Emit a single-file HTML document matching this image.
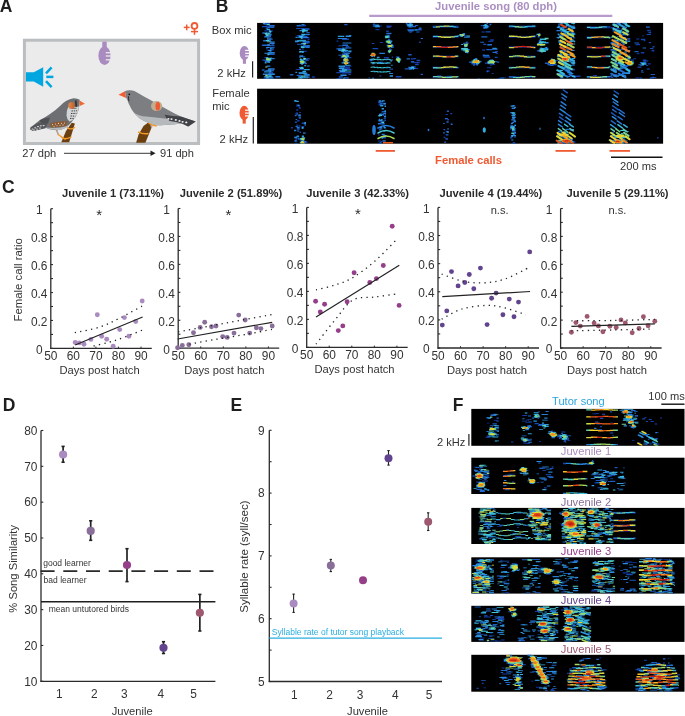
<!DOCTYPE html>
<html><head><meta charset="utf-8"><style>
html,body{margin:0;padding:0;background:#fff;overflow:hidden;}
svg{display:block;font-family:"Liberation Sans",sans-serif;will-change:transform;}
</style></head><body>
<svg width="685" height="716" viewBox="0 0 685 716">
<rect width="685" height="716" fill="#fff"/>
<text x="-0.20" y="12.20" font-size="17.5" text-anchor="start" font-weight="bold" fill="#1e1e1e" >A</text><text x="215.70" y="12.20" font-size="17.5" text-anchor="start" font-weight="bold" fill="#1e1e1e" >B</text><text x="2.00" y="193.10" font-size="17.5" text-anchor="start" font-weight="bold" fill="#1e1e1e" >C</text><text x="2.80" y="410.50" font-size="17.5" text-anchor="start" font-weight="bold" fill="#1e1e1e" >D</text><text x="230.60" y="411.00" font-size="17.5" text-anchor="start" font-weight="bold" fill="#1e1e1e" >E</text><text x="452.70" y="411.40" font-size="17.5" text-anchor="start" font-weight="bold" fill="#1e1e1e" >F</text><rect x="24.4" y="40.2" width="174.2" height="103.3" fill="#ebebeb" stroke="#babec1" stroke-width="3"/><g stroke="#ef5a32" stroke-width="1.5" fill="none"><line x1="183.8" y1="27.4" x2="189.6" y2="27.4"/><line x1="186.7" y1="24.5" x2="186.7" y2="30.3"/><circle cx="194.5" cy="25.9" r="2.9" stroke-width="1.8"/><line x1="194.5" y1="28.6" x2="194.5" y2="34.8"/><line x1="191" y1="31.6" x2="198" y2="31.6"/></g><rect x="102.30" y="41.70" width="4.4" height="6.50" fill="#a98bbf"/><ellipse cx="104.50" cy="55.60" rx="6.1" ry="9.4" fill="#a98bbf"/><rect x="105.80" y="52.05" width="7.10" height="1.3" fill="#ebebeb"/><rect x="105.80" y="55.35" width="7.10" height="1.3" fill="#ebebeb"/><rect x="105.80" y="59.15" width="7.10" height="1.3" fill="#ebebeb"/><g fill="#00a6e0"><path d="M26 72.3 H33.8 L43.2 67.2 V86.7 L33.8 81.4 H26 Z"/></g><g stroke="#00a6e0" stroke-width="2.5"><line x1="46" y1="73.3" x2="51.6" y2="67.3"/><line x1="46.3" y1="76.9" x2="53.4" y2="76.9"/><line x1="46" y1="81.2" x2="51.6" y2="87.2"/></g><path d="M61.3 142.3 L69.2 142.3 L74.9 123.5 L71.8 122.8 L66 131 Z" fill="#6b3f10"/><path d="M56.5 129.5 L58.2 134.5 L65.5 139.5" stroke="#f39a2b" stroke-width="1.4" fill="none"/><path d="M56.5 129.5 L58.2 134.5" stroke="#a9abae" stroke-width="1.4" fill="none"/><path d="M61.5 137.5 Q66 140 71.5 136.8" stroke="#f39a2b" stroke-width="1.3" fill="none"/><path d="M67 127.5 Q71 130.5 75 127.2" stroke="#f39a2b" stroke-width="1.3" fill="none"/><path d="M73.5 98.3 Q77.5 98.2 79.7 99.8 L79.2 106.4 Q78.5 111 77 114.3 Q75.5 118 73.5 119.5 Q71.5 122.5 69.2 124.8 Q65.5 128.5 61.3 129.6 Q57.5 130.4 54.3 130 Q49.5 129.5 45.5 127.8 L33.3 130.9 L30.2 129.6 L30.6 127.4 Q36 123 39.4 120.5 Q45 117.5 50 114 Q56 110 60 106 Q66 99.5 73.5 98.3 Z" fill="#6d6f72"/><path d="M39.4 120.2 Q44 117.8 50 117.5 L48 123.5 L42 124.5 Z" fill="#4e5054"/><path d="M30.6 127.2 L39 122.6 L47.3 124.2 L45.5 128.2 L33.3 131 L30.2 129.6 Z" fill="#55575b"/><ellipse cx="32.5" cy="129" rx="1.1" ry="0.6" fill="#e0e1e2"/><ellipse cx="35.2" cy="127.8" rx="1.1" ry="0.6" fill="#e0e1e2"/><ellipse cx="38" cy="126.6" rx="1.1" ry="0.6" fill="#e0e1e2"/><ellipse cx="40.8" cy="125.8" rx="1.1" ry="0.6" fill="#e0e1e2"/><ellipse cx="43.6" cy="125.6" rx="1.1" ry="0.6" fill="#e0e1e2"/><ellipse cx="34" cy="130" rx="1.1" ry="0.6" fill="#e0e1e2"/><ellipse cx="37" cy="129" rx="1.1" ry="0.6" fill="#e0e1e2"/><ellipse cx="40" cy="128" rx="1.1" ry="0.6" fill="#e0e1e2"/><path d="M45 127.6 Q52 130.6 61.3 129.7 Q67 128.5 70 124.6 Q66 127 60 127.6 Q52 128 45 127.6 Z" fill="#b8babc"/><path d="M49.9 123.4 Q58 120.6 67.4 121.3 L66.5 125.8 Q60 127.4 51 127.6 Z" fill="#8a5a32"/><circle cx="52.5" cy="124.6" r="0.55" fill="#e6dccf"/><circle cx="55.5" cy="124" r="0.55" fill="#e6dccf"/><circle cx="58.5" cy="123.4" r="0.55" fill="#e6dccf"/><circle cx="61.5" cy="123.2" r="0.55" fill="#e6dccf"/><circle cx="64.5" cy="123" r="0.55" fill="#e6dccf"/><circle cx="54" cy="126.3" r="0.55" fill="#e6dccf"/><circle cx="57" cy="125.8" r="0.55" fill="#e6dccf"/><circle cx="60" cy="125.3" r="0.55" fill="#e6dccf"/><circle cx="63" cy="124.9" r="0.55" fill="#e6dccf"/><path d="M68 107.5 Q71 105.2 76 107 L79 106.4 Q78.4 112 76.2 116.5 Q73.5 120.5 69.5 121.4 Q66.8 119.5 66.5 115.5 Q66.5 110.5 68 107.5 Z" fill="#d3d5d7"/><line x1="72" y1="108.5" x2="77" y2="108.2" stroke="#2a2b2e" stroke-width="0.9" stroke-dasharray="1.4 0.9"/><line x1="71.5" y1="111" x2="77.2" y2="110.8" stroke="#2a2b2e" stroke-width="0.9" stroke-dasharray="1.4 0.9"/><line x1="71" y1="113.5" x2="76.5" y2="113.4" stroke="#2a2b2e" stroke-width="0.9" stroke-dasharray="1.4 0.9"/><line x1="70.5" y1="116" x2="75.5" y2="116.2" stroke="#2a2b2e" stroke-width="0.9" stroke-dasharray="1.4 0.9"/><line x1="70" y1="118.4" x2="73.8" y2="118.7" stroke="#2a2b2e" stroke-width="0.9" stroke-dasharray="1.4 0.9"/><defs><linearGradient id="chk" x1="0" x2="1"><stop offset="0" stop-color="#e8894a"/><stop offset="1" stop-color="#b8602e"/></linearGradient></defs><ellipse cx="71.6" cy="105.4" rx="3.3" ry="3.5" fill="url(#chk)"/><path d="M75.2 100.6 L76.4 100.6 L76.8 106.8 L75.6 106.8 Z" fill="#1a1a1a"/><path d="M79.2 100.3 L84.9 103.8 L79.7 106 Z" fill="#ef6a32"/><path d="M136.1 142.7 L145.4 142.7 L152.2 126 L148.5 122.2 L143.5 126 L138.6 134.6 Z" fill="#6b3f10"/><path d="M151 124.5 L151.8 127.5" stroke="#a9abae" stroke-width="1.6"/><path d="M124.9 91.2 Q127 90 129.9 90.2 Q133 90.3 134.9 91.2 Q139 93.5 143.5 96.2 Q148 98.5 152.2 101.1 Q158.5 104.8 164.6 108 Q170 111 174.6 113.5 Q178 115 180.8 116.6 L195.7 121.6 L188.2 126.6 L182 123.5 Q175 124.5 167.1 124.7 Q161 125.3 156 125.3 Q152 124.5 148.5 122.8 Q143.5 121 139.8 118.5 Q136 115.5 133.6 112.3 Q131 109 129.9 106.1 Q128.2 103 127.4 99.9 L126.2 98 Z" fill="#7c7e82"/><path d="M133.6 112.6 Q140 116.6 146 116.6 Q156 117.8 164.6 118.5 Q171 119 177 119.7 L182 123.5 Q175 124.5 167.1 124.7 Q161 125.3 156 125.3 Q152 124.5 148.5 122.8 Q143.5 121 139.8 118.5 Q136 115.5 133.6 112.6 Z" fill="#b6b9bc"/><path d="M164.6 114.8 Q172 116.5 180.8 116.6 L195.7 121.6 L188.2 126.6 L182 123.5 Q176 121.8 169.6 121 Q166 119 164.6 114.8 Z" fill="#404247"/><ellipse cx="168.4" cy="118.8" rx="1.1" ry="0.85" fill="#f2f2f2"/><ellipse cx="171.5" cy="119.1" rx="1.1" ry="0.85" fill="#f2f2f2"/><ellipse cx="175.8" cy="119.9" rx="1.1" ry="0.85" fill="#f2f2f2"/><ellipse cx="179.5" cy="120.9" rx="1.1" ry="0.85" fill="#f2f2f2"/><ellipse cx="182.6" cy="121.8" rx="1.1" ry="0.85" fill="#f2f2f2"/><ellipse cx="186.3" cy="122.4" rx="1.1" ry="0.85" fill="#f2f2f2"/><ellipse cx="156.6" cy="106.1" rx="5.6" ry="5" fill="#c1ae8f"/><ellipse cx="157.8" cy="106.3" rx="2.3" ry="4.2" fill="#ee5a36"/><path d="M118.5 94.7 L124.9 91.2 L126.2 98 Z" fill="#ef5d32"/><circle cx="129.3" cy="94.3" r="0.9" fill="#111"/><path d="M128.4 96.2 L128.9 101.1" stroke="#222" stroke-width="0.9"/><path d="M138 131.8 Q143 134.5 148.5 133.5" stroke="#f39a2b" stroke-width="1.5" fill="none"/><path d="M148.5 123 L152.2 125.2 L156.6 126" stroke="#f39a2b" stroke-width="1.4" fill="none"/><text x="22.30" y="157.00" font-size="11.1" text-anchor="start" font-weight="normal" fill="#333333" >27 dph</text><line x1="64.00" y1="153.30" x2="153.50" y2="153.30" stroke="#222" stroke-width="0.9" /><path d="M150.5 150.6 L155.6 153.3 L150.5 156 Z" fill="#222"/><text x="160.00" y="157.00" font-size="11.1" text-anchor="start" font-weight="normal" fill="#333333" >91 dph</text><text x="496.00" y="10.30" font-size="11.25" text-anchor="middle" font-weight="bold" fill="#ab8fc2" >Juvenile song (80 dph)</text><line x1="369.20" y1="15.80" x2="612.30" y2="15.80" stroke="#b89acb" stroke-width="2.2" /><text x="211.80" y="33.90" font-size="11.2" text-anchor="start" font-weight="normal" fill="#333333" >Box mic</text><rect x="242.85" y="58.10" width="3.1" height="5.70" fill="#a98bbf"/><ellipse cx="244.40" cy="53.10" rx="4.7" ry="7.1" fill="#a98bbf"/><rect x="245.20" y="49.80" width="5" height="1.2" fill="#ffffff"/><rect x="245.20" y="52.70" width="5" height="1.2" fill="#ffffff"/><rect x="245.20" y="55.50" width="5" height="1.2" fill="#ffffff"/><line x1="252.60" y1="61.20" x2="252.60" y2="77.60" stroke="#222" stroke-width="1.2" /><text x="217.30" y="76.70" font-size="11.2" text-anchor="start" font-weight="normal" fill="#333333" >2 kHz</text><text x="212.30" y="97.20" font-size="11.2" text-anchor="start" font-weight="normal" fill="#333333" >Female</text><text x="212.30" y="110.20" font-size="11.2" text-anchor="start" font-weight="normal" fill="#333333" >mic</text><rect x="242.65" y="117.90" width="3.1" height="5.70" fill="#ef5a32"/><ellipse cx="244.20" cy="112.90" rx="4.7" ry="7.1" fill="#ef5a32"/><rect x="245.00" y="109.60" width="5" height="1.2" fill="#ffffff"/><rect x="245.00" y="112.50" width="5" height="1.2" fill="#ffffff"/><rect x="245.00" y="115.30" width="5" height="1.2" fill="#ffffff"/><line x1="253.30" y1="117.00" x2="253.30" y2="143.50" stroke="#222" stroke-width="1.2" /><text x="219.60" y="143.20" font-size="11.2" text-anchor="start" font-weight="normal" fill="#333333" >2 kHz</text><rect x="257.1" y="22.9" width="406" height="55.9" fill="#000"/><rect x="257.1" y="88.7" width="406" height="55" fill="#000"/><defs><filter id="sb" x="-5%" y="-5%" width="110%" height="110%"><feGaussianBlur stdDeviation="0.55"/></filter></defs><clipPath id="cb1"><rect x="257.1" y="22.9" width="406" height="55.9"/></clipPath><g clip-path="url(#cb1)" filter="url(#sb)"><path fill="#113093" d="M265.1 35.6h5.5v0.9h-5.5zM344.3 67.0h2.1v1.2h-2.1zM338.9 76.3h2.5v1.0h-2.5zM342.6 65.4h8.8v1.3h-8.8zM375.4 29.0h4.2v1.3h-4.2zM377.4 26.3h2.6v1.4h-2.6zM411.5 61.0h2.9v1.4h-2.9zM535.9 34.3h1.2v1.4h-1.2zM560.7 63.0h2.5v1.2h-2.5zM620.6 33.9h3.6v1.1h-3.6zM612.8 55.1h4.5v1.4h-4.5z"/><path fill="#113093" opacity="0.7" d="M432.5 25.6h26.0v2.1h-26.0zM432.5 35.8h26.0v2.1h-26.0zM432.5 46.0h26.0v2.1h-26.0zM432.5 55.5h26.0v2.1h-26.0zM432.5 66.4h26.0v2.1h-26.0zM432.5 76.0h26.0v2.1h-26.0zM508.5 25.6h27.0v2.1h-27.0zM508.5 35.8h27.0v2.1h-27.0zM508.5 46.0h27.0v2.1h-27.0zM508.5 55.5h27.0v2.1h-27.0zM508.5 66.4h27.0v2.1h-27.0zM508.5 76.0h27.0v2.1h-27.0zM586.5 26.3h24.0v2.1h-24.0zM586.5 36.3h24.0v2.1h-24.0zM586.5 46.4h24.0v2.1h-24.0zM586.5 55.5h24.0v2.1h-24.0zM586.5 66.4h24.0v2.1h-24.0zM586.5 76.0h24.0v2.1h-24.0z"/><path fill="#133aa6" d="M269.1 41.0h2.7v1.0h-2.7zM264.2 32.8h3.3v1.2h-3.3zM271.5 43.3h2.4v1.6h-2.4zM264.4 30.2h8.5v1.2h-8.5zM307.6 38.9h1.9v1.0h-1.9zM301.6 73.0h5.7v0.9h-5.7zM297.2 25.1h8.4v1.5h-8.4zM302.9 30.1h3.7v1.4h-3.7zM299.3 50.8h7.4v1.1h-7.4zM299.6 35.6h1.8v1.2h-1.8zM298.9 24.7h7.3v1.2h-7.3zM295.0 41.4h3.0v1.1h-3.0zM295.6 68.9h5.3v1.2h-5.3zM300.9 68.9h8.3v1.1h-8.3zM306.1 60.0h2.6v1.1h-2.6zM297.6 78.4h6.0v1.5h-6.0zM304.2 37.4h5.5v1.0h-5.5zM296.7 35.1h4.7v1.0h-4.7zM298.8 35.1h1.4v1.4h-1.4zM336.6 40.4h1.8v1.4h-1.8zM336.3 72.1h7.2v1.2h-7.2zM339.9 69.3h7.3v1.2h-7.3zM338.0 49.6h4.5v1.5h-4.5zM341.1 56.4h7.4v1.0h-7.4zM344.0 54.3h4.4v1.0h-4.4zM345.1 56.9h6.3v1.3h-6.3zM386.4 25.4h5.2v1.5h-5.2zM386.1 30.6h2.6v1.5h-2.6zM379.9 42.1h3.3v1.0h-3.3zM375.8 25.4h6.0v1.0h-6.0zM391.8 56.5h1.2v1.5h-1.2zM383.9 57.0h5.0v1.4h-5.0zM395.7 56.3h1.9v1.4h-1.9zM418.4 27.9h3.0v1.0h-3.0zM414.0 58.1h2.1v1.2h-2.1zM408.9 68.6h2.2v0.9h-2.2zM414.7 67.9h3.4v1.0h-3.4zM413.6 62.1h6.1v1.2h-6.1zM491.8 73.0h1.8v1.1h-1.8zM495.1 51.1h2.9v1.1h-2.9zM491.3 63.9h3.6v1.2h-3.6zM482.3 49.2h2.7v1.5h-2.7zM487.0 67.2h4.4v1.0h-4.4zM487.0 70.2h2.6v1.5h-2.6zM485.7 25.4h3.9v1.4h-3.9zM490.2 39.2h3.7v1.5h-3.7zM490.1 64.6h1.6v1.2h-1.6zM486.9 62.0h1.2v1.4h-1.2zM556.1 59.9h2.3v1.4h-2.3zM572.2 46.8h1.7v1.3h-1.7zM565.0 70.6h4.3v1.0h-4.3zM567.2 67.0h2.6v1.2h-2.6zM557.7 74.7h2.2v1.5h-2.2zM562.5 49.2h3.3v1.4h-3.3zM560.1 35.0h3.8v1.1h-3.8zM563.4 45.3h1.8v1.0h-1.8zM572.3 33.1h2.9v1.2h-2.9zM606.4 26.2h4.0v1.3h-4.0zM624.6 29.2h3.6v1.0h-3.6zM611.3 27.2h2.6v1.3h-2.6zM617.9 68.4h4.5v1.2h-4.5zM625.9 39.2h2.6v1.1h-2.6zM614.5 45.8h2.9v1.5h-2.9zM625.4 33.3h3.0v1.3h-3.0zM610.9 26.9h3.6v1.6h-3.6zM627.8 33.6h1.8v1.3h-1.8zM618.1 31.5h1.9v1.3h-1.9zM623.7 64.6h2.6v1.1h-2.6zM611.0 76.6h2.2v1.4h-2.2zM625.8 34.6h3.5v1.0h-3.5zM622.0 32.3h3.7v1.4h-3.7zM622.2 75.1h2.6v1.5h-2.6zM617.8 34.2h3.5v0.9h-3.5zM639.8 62.0h1.9v1.1h-1.9zM651.6 49.8h2.8v1.6h-2.8zM647.1 29.8h3.7v1.5h-3.7zM642.6 59.8h2.6v1.1h-2.6zM650.5 78.3h1.6v1.5h-1.6zM635.6 43.8h4.4v1.4h-4.4zM633.4 58.3h2.8v0.9h-2.8zM640.8 51.9h3.5v1.6h-3.5zM636.6 53.2h3.0v1.1h-3.0zM643.7 39.8h1.7v1.4h-1.7zM636.2 38.5h3.1v1.0h-3.1zM648.0 63.3h2.7v1.3h-2.7zM643.9 60.6h1.0v1.4h-1.0zM437.2 75.2h4.1v1.1h-4.1zM575.0 75.6h5.6v1.3h-5.6zM311.9 76.3h3.0v1.5h-3.0zM271.5 78.4h5.5v1.4h-5.5zM593.1 75.1h3.9v1.1h-3.9zM345.6 78.1h2.1v1.4h-2.1zM573.6 78.6h2.0v1.4h-2.0zM447.1 75.8h5.1v1.5h-5.1z"/><path fill="#1749b3" d="M262.0 26.1h5.4v1.2h-5.4zM269.1 71.8h3.9v1.3h-3.9zM261.8 44.5h6.6v1.2h-6.6zM265.4 23.1h4.7v1.3h-4.7zM269.2 38.5h3.5v1.6h-3.5zM262.3 59.4h7.6v1.4h-7.6zM266.9 74.2h5.3v1.3h-5.3zM266.5 49.4h7.1v1.1h-7.1zM269.2 51.9h5.5v1.0h-5.5zM265.8 24.2h2.3v1.3h-2.3zM268.6 59.7h2.6v1.4h-2.6zM263.6 59.7h3.1v1.4h-3.1zM296.1 28.0h4.5v1.1h-4.5zM298.1 35.0h3.9v1.2h-3.9zM302.0 29.2h2.1v1.3h-2.1zM304.3 28.6h5.4v1.5h-5.4zM300.9 27.9h3.1v1.3h-3.1zM302.4 35.9h2.7v1.4h-2.7zM297.9 36.1h1.5v1.4h-1.5zM342.3 72.0h9.0v1.5h-9.0zM346.6 38.5h2.4v1.0h-2.4zM338.8 76.3h4.1v1.4h-4.1zM341.9 67.2h3.1v1.4h-3.1zM340.1 67.2h9.9v1.3h-9.9zM342.1 38.5h6.8v1.4h-6.8zM345.8 45.9h3.6v1.6h-3.6zM342.3 68.8h9.0v1.2h-9.0zM346.5 57.8h1.5v1.4h-1.5zM340.6 50.2h2.1v1.4h-2.1zM386.6 26.7h4.0v1.0h-4.0zM372.5 48.0h5.7v1.3h-5.7zM371.9 42.9h2.4v1.0h-2.4zM389.4 68.4h3.6v1.4h-3.6zM385.3 62.6h4.2v1.0h-4.2zM379.2 75.6h2.1v1.0h-2.1zM372.8 23.5h2.4v1.4h-2.4zM415.1 63.9h3.6v1.3h-3.6zM407.9 26.5h3.2v1.0h-3.2zM411.0 58.2h3.4v1.4h-3.4zM409.3 31.6h2.6v1.2h-2.6zM419.1 41.5h1.5v1.4h-1.5zM407.3 28.9h5.9v1.5h-5.9zM416.6 59.8h3.7v1.5h-3.7zM416.6 63.4h1.7v1.5h-1.7zM407.4 25.5h1.6v1.4h-1.6zM414.3 66.3h1.4v1.4h-1.4zM462.6 50.1h4.7v1.0h-4.7zM475.4 63.4h3.1v1.4h-3.1zM485.0 62.5h3.7v1.2h-3.7zM486.5 44.3h3.6v1.0h-3.6zM483.6 56.4h6.6v1.3h-6.6zM495.6 53.2h2.4v0.9h-2.4zM488.2 40.7h5.0v1.1h-5.0zM494.7 56.7h3.0v1.2h-3.0zM481.7 31.5h2.9v1.1h-2.9zM485.5 31.2h5.2v1.3h-5.2zM483.0 54.4h1.8v1.4h-1.8zM480.9 24.9h3.1v1.4h-3.1zM536.9 50.1h4.4v1.4h-4.4zM536.1 33.8h2.1v1.4h-2.1zM538.9 39.9h2.2v1.4h-2.2zM547.3 63.9h3.5v1.4h-3.5zM567.2 24.9h2.6v1.5h-2.6zM558.5 26.7h3.6v1.0h-3.6zM567.8 34.3h3.8v1.2h-3.8zM565.4 21.0h4.5v1.5h-4.5zM568.6 25.1h1.9v1.3h-1.9zM560.5 62.6h4.1v1.1h-4.1zM558.9 57.9h2.1v1.0h-2.1zM570.0 69.5h4.9v1.0h-4.9zM573.1 37.1h2.1v1.5h-2.1zM569.6 47.3h3.9v0.9h-3.9zM560.4 26.9h3.7v1.1h-3.7zM569.6 39.2h4.5v1.1h-4.5zM566.1 60.8h2.6v1.4h-2.6zM569.1 60.4h1.6v1.4h-1.6zM627.6 71.6h2.7v1.4h-2.7zM612.1 68.7h3.1v1.5h-3.1zM623.5 65.9h3.9v1.1h-3.9zM628.2 54.7h2.1v1.1h-2.1zM626.6 73.0h2.4v1.3h-2.4zM613.2 55.7h3.8v1.4h-3.8zM620.7 49.0h4.7v1.0h-4.7zM627.2 38.1h3.1v1.1h-3.1zM612.6 30.2h1.7v1.5h-1.7zM622.0 57.1h2.0v0.9h-2.0zM612.6 28.8h3.2v1.4h-3.2zM627.6 69.3h2.7v1.4h-2.7zM613.8 73.9h3.5v1.3h-3.5zM614.8 64.6h3.3v1.5h-3.3zM621.7 34.0h4.2v1.4h-4.2zM617.1 36.1h1.7v0.9h-1.7zM625.7 39.4h4.5v1.2h-4.5zM613.7 58.9h3.7v0.9h-3.7zM613.2 49.8h4.9v1.3h-4.9zM613.1 43.6h3.3v1.5h-3.3zM615.5 66.3h1.8v1.3h-1.8zM625.7 65.5h2.4v1.3h-2.4zM615.4 27.9h4.2v1.5h-4.2zM624.7 64.9h3.9v1.2h-3.9zM617.8 43.0h3.3v1.0h-3.3zM612.0 23.5h4.1v1.6h-4.1zM630.6 59.4h3.1v1.4h-3.1zM641.0 38.7h4.2v1.5h-4.2zM646.3 65.0h1.8v1.0h-1.8zM648.8 41.9h2.3v1.4h-2.3zM649.9 48.0h3.5v1.1h-3.5zM646.7 33.9h4.3v1.0h-4.3zM639.5 77.6h2.3v1.2h-2.3zM635.5 77.6h3.5v0.9h-3.5zM648.5 31.8h2.7v1.5h-2.7zM642.2 35.4h1.7v0.9h-1.7zM643.5 59.5h2.9v1.0h-2.9zM645.0 60.5h3.4v1.0h-3.4zM637.5 66.6h4.0v1.1h-4.0zM263.5 78.0h2.9v1.5h-2.9zM652.9 77.0h3.4v1.0h-3.4zM395.7 75.9h5.8v1.6h-5.8zM649.6 77.3h3.4v1.6h-3.4zM501.1 77.4h4.8v0.9h-4.8zM497.1 78.4h3.5v1.5h-3.5z"/><path fill="#1c5abf" d="M266.6 26.8h2.2v1.5h-2.2zM270.2 48.2h3.8v1.4h-3.8zM265.3 69.9h8.7v1.4h-8.7zM267.4 26.3h6.9v1.6h-6.9zM268.3 53.6h6.4v1.5h-6.4zM265.5 34.6h2.7v0.9h-2.7zM265.6 27.7h2.3v1.1h-2.3zM261.9 69.2h2.7v1.6h-2.7zM268.0 53.3h1.7v1.6h-1.7zM268.4 47.1h6.3v1.0h-6.3zM263.5 23.9h4.9v0.9h-4.9zM266.2 32.2h2.4v1.4h-2.4zM269.1 33.7h1.9v1.4h-1.9zM268.3 60.9h2.1v1.4h-2.1zM303.4 58.2h6.3v1.3h-6.3zM304.0 42.1h4.1v1.6h-4.1zM306.5 31.9h3.2v1.2h-3.2zM299.0 52.2h4.8v0.9h-4.8zM299.5 59.1h8.2v1.3h-8.2zM303.0 44.9h6.7v1.4h-6.7zM306.8 41.9h2.9v1.3h-2.9zM302.6 41.1h7.1v1.6h-7.1zM302.9 28.3h5.9v1.2h-5.9zM302.2 36.0h5.2v1.4h-5.2zM297.0 43.7h8.0v1.1h-8.0zM301.8 48.5h1.9v1.0h-1.9zM297.8 36.6h1.8v1.4h-1.8zM336.3 48.3h5.4v1.1h-5.4zM338.3 54.7h9.7v1.0h-9.7zM343.2 51.2h8.2v1.4h-8.2zM336.7 78.1h4.8v1.1h-4.8zM338.6 69.9h5.1v1.0h-5.1zM344.0 77.2h4.8v1.5h-4.8zM338.3 45.4h5.5v0.9h-5.5zM346.2 55.6h3.1v1.4h-3.1zM341.9 53.6h3.2v1.4h-3.2zM340.8 56.5h2.1v1.4h-2.1zM345.3 60.7h2.3v1.4h-2.3zM342.4 47.4h2.1v1.4h-2.1zM343.4 51.9h1.0v1.4h-1.0zM342.0 47.5h2.7v1.4h-2.7zM344.6 50.7h1.5v1.4h-1.5zM344.2 24.0h3.3v1.3h-3.3zM387.9 38.7h1.9v1.4h-1.9zM373.8 55.8h1.2v1.4h-1.2zM391.3 46.6h2.4v1.4h-2.4zM386.6 44.8h2.1v1.4h-2.1zM390.9 49.2h1.3v1.4h-1.3zM387.3 34.7h2.3v1.4h-2.3zM372.8 25.3h2.7v1.4h-2.7zM416.2 31.4h3.4v1.2h-3.4zM420.6 73.8h2.4v1.3h-2.4zM408.2 54.1h3.5v1.3h-3.5zM410.9 61.0h3.1v1.5h-3.1zM415.1 29.1h6.5v1.4h-6.5zM414.9 25.1h3.2v1.0h-3.2zM404.8 68.3h4.8v1.1h-4.8zM410.8 25.9h5.3v1.3h-5.3zM408.4 23.9h2.9v1.4h-2.9zM408.9 26.0h3.2v1.4h-3.2zM405.8 23.0h1.8v1.4h-1.8zM463.8 34.7h1.6v1.4h-1.6zM467.1 42.5h1.5v1.4h-1.5zM464.2 46.0h1.1v1.4h-1.1zM466.3 41.6h1.4v1.4h-1.4zM463.1 42.8h2.1v1.4h-2.1zM466.2 41.9h1.3v1.4h-1.3zM465.5 41.8h2.0v1.4h-2.0zM463.1 50.0h1.8v1.4h-1.8zM473.3 64.6h1.5v1.4h-1.5zM468.9 61.4h4.3v1.4h-4.3zM471.4 63.2h4.3v1.4h-4.3zM470.1 61.7h3.7v1.4h-3.7zM474.9 58.0h2.2v1.4h-2.2zM486.5 70.7h1.7v1.5h-1.7zM486.2 49.0h6.4v1.2h-6.4zM497.0 61.4h2.1v1.4h-2.1zM494.0 60.9h3.0v1.4h-3.0zM486.3 22.6h1.9v1.4h-1.9zM483.1 27.3h1.8v1.4h-1.8zM537.6 36.2h2.1v1.4h-2.1zM538.2 42.3h1.4v1.4h-1.4zM541.6 41.0h2.2v1.4h-2.2zM544.9 62.6h4.4v1.4h-4.4zM552.4 63.8h4.2v1.4h-4.2zM549.6 64.3h3.5v1.4h-3.5zM550.2 64.6h3.4v1.4h-3.4zM564.8 61.4h1.7v1.2h-1.7zM565.3 50.6h3.8v1.6h-3.8zM567.3 68.7h4.3v1.1h-4.3zM572.2 21.4h2.2v1.0h-2.2zM560.6 31.0h3.9v1.1h-3.9zM566.7 44.4h1.8v1.6h-1.8zM570.1 59.8h2.4v1.4h-2.4zM570.8 23.0h4.4v1.0h-4.4zM564.5 34.8h2.4v1.6h-2.4zM570.4 31.4h3.0v1.5h-3.0zM558.6 42.2h4.4v1.3h-4.4zM558.2 69.8h3.5v1.3h-3.5zM562.6 32.5h2.8v1.6h-2.8zM572.5 59.8h1.9v0.9h-1.9zM567.5 57.9h1.6v1.4h-1.6zM627.3 64.8h2.4v1.1h-2.4zM612.9 43.5h2.1v1.2h-2.1zM620.0 74.0h3.7v1.5h-3.7zM616.6 24.8h1.8v1.0h-1.8zM627.8 59.9h2.5v0.9h-2.5zM616.8 40.4h3.9v1.4h-3.9zM610.4 42.2h3.9v0.9h-3.9zM624.6 50.6h2.5v1.4h-2.5zM614.0 47.9h4.1v1.2h-4.1zM625.3 39.7h1.9v1.4h-1.9zM615.2 48.2h2.8v1.2h-2.8zM614.9 43.1h3.6v0.9h-3.6zM622.2 22.9h2.6v1.3h-2.6zM611.0 53.7h2.8v1.5h-2.8zM613.4 28.5h3.6v1.3h-3.6zM614.6 62.5h4.4v1.4h-4.4zM623.8 32.6h2.7v1.4h-2.7zM611.5 41.7h3.2v1.4h-3.2zM616.6 33.4h1.5v1.0h-1.5zM618.6 57.8h3.5v1.3h-3.5zM612.7 68.0h3.1v1.1h-3.1zM623.5 27.0h2.6v0.9h-2.6zM620.0 60.5h2.5v1.4h-2.5zM634.4 42.4h4.6v1.0h-4.6zM638.4 64.2h2.2v1.1h-2.2zM634.4 51.0h4.2v1.2h-4.2zM639.4 78.3h3.2v1.5h-3.2zM650.6 73.9h4.4v1.2h-4.4zM652.0 76.8h2.0v1.3h-2.0zM652.4 46.3h2.1v1.3h-2.1zM646.8 68.5h3.1v1.1h-3.1zM641.3 70.0h1.5v1.5h-1.5zM644.6 63.5h2.0v1.4h-2.0zM640.0 62.0h2.3v1.4h-2.3zM644.1 61.7h2.2v1.4h-2.2zM306.1 74.6h3.2v1.0h-3.2zM368.5 77.4h1.7v1.0h-1.7zM296.6 74.8h5.1v1.3h-5.1zM289.8 74.1h3.7v1.5h-3.7z"/><path fill="#216acb" d="M263.1 40.1h7.8v1.3h-7.8zM264.8 60.9h4.8v1.3h-4.8zM268.6 25.1h6.1v1.3h-6.1zM262.3 32.3h2.4v1.4h-2.4zM262.3 44.8h8.2v1.2h-8.2zM266.3 76.2h6.8v1.3h-6.8zM269.1 73.2h5.6v1.5h-5.6zM262.7 44.8h4.6v1.3h-4.6zM264.5 57.2h2.6v1.1h-2.6zM268.6 33.9h3.1v1.5h-3.1zM267.3 45.3h7.4v1.0h-7.4zM264.1 36.3h6.0v1.2h-6.0zM268.7 73.0h1.9v1.4h-1.9zM269.9 37.4h1.6v1.3h-1.6zM265.3 36.2h2.1v1.4h-2.1zM268.3 35.5h2.6v1.4h-2.6zM270.6 57.6h1.6v1.4h-1.6zM304.9 63.1h1.9v1.2h-1.9zM302.1 34.0h7.6v1.3h-7.6zM307.3 44.9h2.4v1.0h-2.4zM302.3 45.9h7.4v0.9h-7.4zM305.4 46.9h4.3v1.0h-4.3zM304.3 40.8h4.7v1.0h-4.7zM305.3 74.9h4.4v1.2h-4.4zM299.1 48.7h1.9v1.3h-1.9zM300.1 59.1h2.7v1.4h-2.7zM301.1 63.5h1.9v1.4h-1.9zM303.5 61.4h2.7v1.4h-2.7zM302.1 37.0h1.5v1.4h-1.5zM301.1 37.5h1.6v1.4h-1.6zM348.5 73.9h2.3v0.9h-2.3zM342.3 44.5h5.8v1.4h-5.8zM344.6 53.5h3.3v1.0h-3.3zM344.5 52.8h5.4v1.1h-5.4zM342.9 61.3h1.6v1.4h-1.6zM345.1 50.2h2.0v1.4h-2.0zM344.9 48.4h1.7v1.4h-1.7zM386.2 32.8h5.3v1.4h-5.3zM377.9 61.8h5.0v1.6h-5.0zM370.2 60.0h1.9v1.3h-1.9zM389.3 39.6h1.3v1.4h-1.3zM389.0 48.6h1.9v1.4h-1.9zM388.1 35.5h1.3v1.4h-1.3zM374.4 24.4h2.2v1.4h-2.2zM399.3 58.8h1.9v1.4h-1.9zM397.3 56.5h2.1v1.4h-2.1zM406.6 58.2h3.4v1.4h-3.4zM408.1 29.9h5.4v1.5h-5.4zM418.9 27.6h2.5v1.1h-2.5zM409.3 22.9h2.2v1.4h-2.2zM410.0 25.4h2.1v1.4h-2.1zM411.7 66.2h2.9v1.4h-2.9zM408.9 68.3h2.3v1.4h-2.3zM408.3 66.8h2.5v1.4h-2.5zM412.7 68.0h1.4v1.4h-1.4zM455.5 26.4h2.9v1.3h-2.9zM457.4 34.9h2.2v1.4h-2.2zM478.3 60.8h3.2v1.4h-3.2zM477.6 62.4h1.9v1.4h-1.9zM479.7 61.0h1.3v1.4h-1.3zM473.6 63.1h1.5v1.4h-1.5zM483.2 43.7h2.8v1.0h-2.8zM492.5 51.8h4.4v1.1h-4.4zM480.3 41.7h3.6v1.0h-3.6zM481.3 36.3h6.1v1.3h-6.1zM482.7 54.8h6.6v1.6h-6.6zM487.6 43.9h4.4v1.5h-4.4zM487.1 61.2h2.4v1.4h-2.4zM487.7 62.8h2.9v1.4h-2.9zM489.6 23.8h1.7v1.4h-1.7zM484.0 27.4h3.1v1.4h-3.1zM486.0 26.9h2.3v1.4h-2.3zM509.0 76.2h4.3v1.3h-4.3zM538.8 33.1h1.5v1.4h-1.5zM541.8 44.6h1.7v1.4h-1.7zM538.8 40.5h2.2v1.4h-2.2zM544.2 48.8h1.2v1.4h-1.2zM548.4 63.9h1.1v1.4h-1.1zM560.7 23.0h1.7v1.6h-1.7zM569.9 29.5h1.6v1.0h-1.6zM563.8 67.3h4.3v1.0h-4.3zM569.3 40.6h1.8v1.5h-1.8zM568.6 54.8h4.9v0.9h-4.9zM563.3 59.0h4.5v1.5h-4.5zM559.2 60.9h5.0v1.2h-5.0zM566.3 53.9h3.8v1.4h-3.8zM557.6 37.9h1.7v0.9h-1.7zM559.3 36.2h4.2v1.0h-4.2zM572.4 25.5h2.4v1.2h-2.4zM571.9 68.8h2.8v1.0h-2.8zM560.2 76.8h3.1v1.6h-3.1zM558.1 23.8h4.7v0.9h-4.7zM559.4 60.3h3.0v1.2h-3.0zM566.9 67.6h3.7v1.4h-3.7zM560.7 38.3h3.8v1.0h-3.8zM568.8 38.2h2.6v0.9h-2.6zM563.3 26.8h1.7v1.2h-1.7zM558.1 73.1h3.7v1.2h-3.7zM569.8 30.4h2.1v1.2h-2.1zM568.5 37.0h3.1v1.4h-3.1zM568.3 28.7h4.8v1.4h-4.8zM564.0 69.5h3.4v1.1h-3.4zM570.5 64.7h4.2v1.0h-4.2zM558.0 61.0h3.0v1.3h-3.0zM563.1 56.0h4.1v1.4h-4.1zM624.0 41.5h3.4v1.3h-3.4zM616.9 53.5h4.9v1.3h-4.9zM614.2 38.4h1.6v1.0h-1.6zM615.6 44.7h4.9v1.3h-4.9zM626.8 21.4h3.0v1.3h-3.0zM625.9 32.2h2.1v1.0h-2.1zM612.9 71.2h2.4v1.0h-2.4zM620.2 52.2h2.9v0.9h-2.9zM614.6 24.1h3.0v1.4h-3.0zM616.3 29.5h2.6v1.5h-2.6zM622.9 26.6h4.1v1.3h-4.1zM627.8 25.8h2.5v1.1h-2.5zM613.8 49.0h3.2v1.4h-3.2zM613.1 69.2h3.7v1.5h-3.7zM620.9 41.8h3.3v1.1h-3.3zM619.4 36.4h3.3v1.2h-3.3zM623.2 37.1h2.9v1.5h-2.9zM610.5 42.7h2.8v1.2h-2.8zM618.0 32.8h2.6v1.2h-2.6zM621.9 42.2h2.3v1.4h-2.3zM626.7 69.0h2.2v1.2h-2.2zM612.4 24.9h3.7v1.0h-3.7zM610.6 49.1h4.4v1.6h-4.4zM619.6 35.0h1.8v1.1h-1.8zM616.2 22.1h3.0v1.3h-3.0zM618.3 75.0h2.8v1.1h-2.8zM618.5 69.8h2.2v1.4h-2.2zM623.0 57.6h3.1v1.4h-3.1zM641.0 71.7h2.9v0.9h-2.9zM642.7 47.6h3.4v0.9h-3.4zM646.0 26.6h3.8v1.2h-3.8zM642.9 61.7h1.9v1.4h-1.9zM643.7 62.6h2.7v1.4h-2.7zM643.4 61.4h1.0v1.4h-1.0zM477.7 78.3h2.4v1.6h-2.4zM499.0 77.7h4.9v1.0h-4.9zM275.4 76.0h4.9v1.6h-4.9z"/><path fill="none" stroke="#216acb" stroke-width="2.0" stroke-linecap="round" d="M569.4 74.1L574.8 77.0M618.5 69.4L624.5 72.6M611.2 73.7L616.4 76.5"/><path fill="#267bd7" d="M266.1 58.0h8.6v1.2h-8.6zM271.9 77.5h1.9v1.1h-1.9zM267.3 58.6h4.4v0.9h-4.4zM269.4 43.0h5.3v1.0h-5.3zM268.1 68.3h6.6v1.5h-6.6zM262.8 73.5h7.7v1.5h-7.7zM264.8 77.7h6.5v1.3h-6.5zM266.4 77.2h6.5v1.6h-6.5zM266.6 65.4h3.8v1.3h-3.8zM265.9 47.6h1.7v1.0h-1.7zM269.5 51.2h2.0v1.1h-2.0zM267.1 36.4h2.2v1.0h-2.2zM265.7 32.9h1.9v1.4h-1.9zM269.3 33.9h1.9v1.4h-1.9zM301.8 29.0h2.9v1.4h-2.9zM299.1 56.5h1.6v1.2h-1.6zM304.2 76.5h5.5v1.2h-5.5zM306.7 65.4h3.0v1.2h-3.0zM304.8 46.2h4.9v1.0h-4.9zM304.3 74.3h3.8v1.5h-3.8zM304.9 74.1h4.8v0.9h-4.8zM298.5 72.3h6.6v1.2h-6.6zM296.5 25.2h4.1v1.0h-4.1zM301.9 37.1h6.8v1.0h-6.8zM301.8 35.1h2.5v1.2h-2.5zM302.3 56.4h2.9v1.1h-2.9zM299.5 55.3h3.7v1.6h-3.7zM337.7 38.1h9.1v0.9h-9.1zM342.7 69.7h3.2v1.1h-3.2zM344.8 56.3h2.5v1.0h-2.5zM344.9 47.5h6.5v1.0h-6.5zM337.9 48.6h6.3v1.1h-6.3zM342.6 42.5h8.8v1.0h-8.8zM344.3 61.8h5.3v1.6h-5.3zM344.6 53.4h2.2v1.4h-2.2zM379.4 52.7h5.5v1.2h-5.5zM389.1 72.9h3.9v1.1h-3.9zM390.8 64.7h2.0v1.1h-2.0zM389.3 59.5h3.7v1.1h-3.7zM371.8 63.1h2.7v1.2h-2.7zM369.3 59.1h4.5v1.4h-4.5zM371.4 55.7h1.7v1.4h-1.7zM371.0 55.3h1.0v1.4h-1.0zM391.2 43.9h1.5v1.4h-1.5zM387.7 36.3h2.4v1.4h-2.4zM374.8 25.8h2.7v1.4h-2.7zM375.8 24.9h1.2v1.4h-1.2zM374.8 25.8h2.5v1.4h-2.5zM375.5 26.1h1.8v1.4h-1.8zM420.8 37.9h2.0v1.2h-2.0zM407.7 23.8h2.6v1.4h-2.6zM410.4 24.8h2.8v1.4h-2.8zM412.6 67.7h2.8v1.4h-2.8zM411.1 66.3h2.6v1.4h-2.6zM411.1 66.9h1.2v1.4h-1.2zM464.0 36.4h5.7v1.4h-5.7zM463.0 33.1h2.1v1.4h-2.1zM462.7 33.4h1.6v1.4h-1.6zM468.0 49.1h1.6v1.4h-1.6zM471.5 62.2h2.4v1.4h-2.4zM474.7 58.5h2.7v1.4h-2.7zM476.2 64.0h1.9v1.4h-1.9zM492.4 48.3h5.0v1.5h-5.0zM490.6 62.2h3.5v1.1h-3.5zM489.9 59.6h2.7v1.4h-2.7zM543.8 47.7h4.3v1.5h-4.3zM554.9 60.9h1.2v1.4h-1.2zM572.2 32.4h2.4v1.2h-2.4zM566.0 28.8h4.7v0.9h-4.7zM557.7 54.1h4.3v0.9h-4.3zM563.3 51.4h2.5v0.9h-2.5zM562.9 68.3h1.9v1.1h-1.9zM567.2 43.7h3.6v1.5h-3.6zM571.2 61.9h4.0v1.5h-4.0zM563.4 31.0h4.8v1.4h-4.8zM571.2 33.8h4.0v1.1h-4.0zM567.6 75.8h2.8v1.3h-2.8zM558.7 41.2h4.0v1.5h-4.0zM569.5 36.8h2.8v1.1h-2.8zM568.2 69.5h1.7v1.5h-1.7zM564.5 45.4h1.9v1.4h-1.9zM564.9 26.1h1.9v1.0h-1.9zM557.6 73.3h3.4v1.1h-3.4zM560.3 62.3h3.4v1.2h-3.4zM571.4 33.6h3.6v1.0h-3.6zM559.8 45.4h2.0v1.4h-2.0zM565.0 33.9h3.2v1.6h-3.2zM556.4 30.0h4.4v1.3h-4.4zM571.2 50.1h3.5v0.9h-3.5zM559.4 60.5h3.8v1.6h-3.8zM563.9 64.8h2.3v1.6h-2.3zM569.1 41.0h3.8v1.0h-3.8zM569.8 74.9h2.2v1.1h-2.2zM566.0 32.0h1.6v1.4h-1.6zM558.8 73.1h4.9v1.1h-4.9zM563.6 50.1h2.6v1.2h-2.6zM562.7 29.5h3.9v1.4h-3.9zM564.0 64.0h2.8v1.5h-2.8zM561.4 46.9h3.7v0.9h-3.7zM561.6 29.2h4.5v1.0h-4.5zM560.5 63.1h4.3v1.4h-4.3zM563.9 56.2h4.6v1.5h-4.6zM562.2 66.8h4.3v1.1h-4.3zM562.2 59.7h2.5v1.4h-2.5zM606.6 75.9h3.8v1.3h-3.8zM623.1 72.5h2.1v1.3h-2.1zM610.5 75.3h1.7v1.3h-1.7zM621.8 72.7h5.0v1.4h-5.0zM620.6 29.6h1.7v1.6h-1.7zM615.4 48.6h4.3v1.6h-4.3zM622.4 74.7h3.3v1.6h-3.3zM628.9 71.3h1.4v1.1h-1.4zM624.7 66.2h2.4v1.2h-2.4zM628.3 63.0h2.0v1.0h-2.0zM615.5 45.1h3.3v1.4h-3.3zM614.5 61.9h1.6v1.6h-1.6zM619.1 59.0h3.9v1.2h-3.9zM620.0 38.2h3.9v1.3h-3.9zM628.2 46.4h2.1v1.1h-2.1zM616.6 33.0h4.8v1.3h-4.8zM623.8 64.9h2.2v1.1h-2.2zM618.5 53.2h2.3v0.9h-2.3zM617.0 33.3h4.5v1.0h-4.5zM619.9 63.8h3.5v1.1h-3.5zM624.9 58.4h2.5v1.1h-2.5zM613.2 47.4h1.6v1.1h-1.6zM616.9 54.8h1.2v1.4h-1.2zM640.2 64.4h2.4v1.4h-2.4zM644.6 63.7h1.0v1.4h-1.0z"/><path fill="none" stroke="#267bd7" stroke-width="2.0" stroke-linecap="round" d="M566.0 70.2L571.2 73.0M562.5 74.1L567.7 76.8M618.7 73.7L625.5 77.4"/><path fill="#2a8cdc" d="M267.6 52.3h7.1v1.1h-7.1zM266.5 77.7h2.4v1.4h-2.4zM262.8 22.9h2.7v1.2h-2.7zM263.9 71.2h6.8v1.2h-6.8zM264.4 52.7h7.5v1.1h-7.5zM263.9 76.3h4.3v1.1h-4.3zM268.1 73.8h6.6v1.2h-6.6zM269.9 41.5h4.8v1.2h-4.8zM267.0 38.4h3.4v1.3h-3.4zM266.3 47.0h2.8v1.0h-2.8zM269.5 32.0h1.7v1.5h-1.7zM270.0 47.8h1.5v1.6h-1.5zM265.6 32.8h1.9v1.4h-1.9zM265.4 33.7h1.3v1.4h-1.3zM267.4 59.9h1.0v1.4h-1.0zM299.3 39.7h6.4v1.0h-6.4zM295.4 71.7h1.7v1.4h-1.7zM298.1 76.6h7.7v0.9h-7.7zM305.7 33.7h4.0v0.9h-4.0zM295.0 40.6h3.9v1.4h-3.9zM295.5 36.7h2.1v1.3h-2.1zM299.3 67.4h2.9v1.0h-2.9zM300.7 45.8h2.2v1.6h-2.2zM299.5 30.1h2.6v1.2h-2.6zM300.0 51.0h3.8v1.1h-3.8zM301.9 62.6h2.6v1.4h-2.6zM338.5 65.6h6.5v1.5h-6.5zM340.4 74.4h6.2v1.5h-6.2zM345.7 35.5h5.2v1.4h-5.2zM341.6 62.2h3.8v1.2h-3.8zM344.7 50.0h1.5v1.4h-1.5zM389.8 40.5h2.5v1.4h-2.5zM388.9 51.9h1.2v1.4h-1.2zM377.3 25.5h2.0v1.4h-2.0zM375.4 25.5h1.9v1.4h-1.9zM412.9 29.5h4.3v1.1h-4.3zM407.2 24.6h3.4v1.4h-3.4zM410.1 24.0h1.8v1.4h-1.8zM407.8 24.6h2.9v1.4h-2.9zM409.5 23.6h1.6v1.4h-1.6zM412.7 68.1h1.4v1.4h-1.4zM409.2 67.2h2.5v1.4h-2.5zM410.8 68.1h1.4v1.4h-1.4zM433.0 26.4h3.4v1.3h-3.4zM456.4 67.0h2.0v1.3h-2.0zM465.2 47.9h2.4v1.1h-2.4zM465.3 48.7h2.4v1.4h-2.4zM492.4 47.7h4.1v1.4h-4.1zM486.1 25.9h2.6v1.4h-2.6zM483.8 26.7h1.3v1.4h-1.3zM485.4 25.1h2.4v1.4h-2.4zM483.5 26.6h3.2v1.4h-3.2zM542.4 48.4h6.1v1.3h-6.1zM542.3 41.9h6.2v1.5h-6.2zM540.1 44.5h1.8v1.4h-1.8zM538.4 43.3h2.1v1.4h-2.1zM541.3 44.0h1.1v1.4h-1.1zM539.7 47.8h2.6v1.4h-2.6zM552.1 58.7h1.1v1.4h-1.1zM551.0 58.5h1.4v1.4h-1.4zM558.6 66.3h4.4v0.9h-4.4zM563.6 56.5h4.0v0.9h-4.0zM571.7 33.2h3.5v1.3h-3.5zM559.5 75.3h4.0v1.5h-4.0zM567.4 43.7h4.7v1.6h-4.7zM556.6 37.0h4.7v1.1h-4.7zM572.7 27.2h2.5v1.4h-2.5zM570.7 73.0h2.7v0.9h-2.7zM558.5 21.7h4.5v1.6h-4.5zM567.4 42.4h2.8v1.2h-2.8zM560.4 73.7h3.3v1.0h-3.3zM564.4 61.8h1.8v1.1h-1.8zM566.2 48.4h5.0v1.1h-5.0zM565.9 35.3h3.1v1.4h-3.1zM558.8 27.6h4.9v1.0h-4.9zM563.3 53.6h3.1v1.5h-3.1zM567.0 68.3h4.3v1.3h-4.3zM567.8 27.4h2.4v1.3h-2.4zM558.8 35.8h1.6v1.2h-1.6zM568.6 21.2h2.1v0.9h-2.1zM568.7 33.8h2.4v1.6h-2.4zM558.0 25.6h2.1v1.3h-2.1zM569.3 61.4h1.6v1.1h-1.6zM567.8 37.2h3.7v1.3h-3.7zM561.5 74.8h1.7v1.4h-1.7zM565.7 24.8h2.1v1.5h-2.1zM558.3 34.5h4.9v1.1h-4.9zM573.2 28.1h2.0v1.0h-2.0zM562.4 41.4h2.8v1.2h-2.8zM567.2 71.7h2.9v1.5h-2.9zM556.8 26.5h2.6v1.5h-2.6zM557.6 33.6h1.7v1.4h-1.7zM562.8 55.9h2.5v1.4h-2.5zM616.6 30.0h4.6v1.6h-4.6zM624.4 75.7h1.9v1.1h-1.9zM627.3 57.9h3.0v1.6h-3.0zM614.2 39.7h4.2v1.4h-4.2zM623.1 41.0h4.1v1.0h-4.1zM616.8 31.6h4.2v1.0h-4.2zM617.3 68.0h3.4v1.5h-3.4zM610.3 46.7h2.2v1.0h-2.2zM614.9 57.0h3.9v1.4h-3.9zM618.5 63.0h2.8v1.6h-2.8zM615.0 75.2h4.0v1.5h-4.0zM619.7 67.3h3.9v1.5h-3.9zM625.3 72.3h4.7v1.6h-4.7zM615.2 45.5h4.3v1.5h-4.3zM624.7 48.9h1.6v1.4h-1.6zM613.5 67.3h3.2v1.2h-3.2zM616.8 22.3h4.0v1.0h-4.0zM627.4 49.9h2.9v1.5h-2.9zM611.4 53.7h4.0v1.5h-4.0zM611.5 69.2h1.9v1.4h-1.9zM621.9 57.9h3.0v1.4h-3.0z"/><path fill="none" stroke="#2a8cdc" stroke-width="2.0" stroke-linecap="round" d="M614.5 20.9L619.5 23.6M620.7 65.6L627.3 69.1"/><path fill="#2f9cdc" d="M268.3 50.1h3.2v1.0h-3.2zM264.8 62.1h1.7v1.4h-1.7zM269.7 70.8h1.7v1.2h-1.7zM267.2 44.2h2.7v1.0h-2.7zM266.9 37.7h1.7v0.9h-1.7zM268.9 59.7h2.6v1.2h-2.6zM266.2 56.9h2.1v1.4h-2.1zM266.9 59.4h2.0v1.4h-2.0zM266.5 59.2h2.4v1.4h-2.4zM299.1 72.5h8.1v1.2h-8.1zM304.0 69.1h5.7v1.1h-5.7zM298.4 76.4h9.9v1.1h-9.9zM303.3 73.4h2.7v1.0h-2.7zM301.5 24.2h3.0v1.1h-3.0zM299.3 67.0h3.8v1.1h-3.8zM301.2 43.0h3.4v1.0h-3.4zM299.7 62.6h2.5v1.4h-2.5zM302.9 61.4h2.5v1.4h-2.5zM299.0 35.8h1.2v1.4h-1.2zM348.9 35.2h2.5v1.1h-2.5zM338.8 67.6h5.4v1.4h-5.4zM342.0 68.9h5.1v1.6h-5.1zM337.8 35.7h6.5v1.4h-6.5zM345.4 64.7h5.1v1.0h-5.1zM339.5 70.6h5.8v1.3h-5.8zM338.6 49.9h9.4v1.2h-9.4zM346.0 54.3h2.5v1.4h-2.5zM346.0 54.3h2.4v1.4h-2.4zM345.7 55.2h3.0v1.4h-3.0zM343.2 48.2h1.1v1.4h-1.1zM342.3 50.8h1.9v1.4h-1.9zM341.4 50.5h2.0v1.4h-2.0zM389.7 75.2h3.3v1.5h-3.3zM376.9 56.8h2.7v1.5h-2.7zM372.3 77.7h1.8v1.4h-1.8zM389.1 42.6h2.0v1.4h-2.0zM391.0 45.1h2.5v1.4h-2.5zM388.0 49.9h1.3v1.4h-1.3zM387.8 50.8h1.9v1.4h-1.9zM387.2 35.6h1.7v1.4h-1.7zM376.9 25.6h2.7v1.4h-2.7zM376.6 24.5h2.2v1.4h-2.2zM398.5 61.4h1.3v1.4h-1.3zM408.4 25.2h2.8v1.4h-2.8zM408.3 24.3h2.2v1.4h-2.2zM406.8 24.2h2.0v1.4h-2.0zM410.1 24.4h2.0v1.4h-2.0zM406.9 24.4h3.6v1.4h-3.6zM409.0 23.8h3.9v1.4h-3.9zM457.5 35.7h0.9v1.3h-0.9zM460.5 35.3h2.7v1.4h-2.7zM462.6 33.9h2.3v1.4h-2.3zM464.8 45.9h1.1v1.4h-1.1zM466.7 51.8h1.7v1.4h-1.7zM464.4 50.0h2.1v1.4h-2.1zM491.8 59.6h1.3v1.4h-1.3zM486.0 25.7h1.5v1.4h-1.5zM483.3 24.9h3.1v1.4h-3.1zM485.1 24.8h2.3v1.4h-2.3zM485.1 26.3h2.8v1.4h-2.8zM527.3 25.8h5.2v1.3h-5.2zM545.4 47.1h1.8v1.0h-1.8zM540.3 40.5h1.3v1.4h-1.3zM543.2 49.9h1.8v1.4h-1.8zM540.8 47.8h1.2v1.4h-1.2zM562.7 32.9h3.5v0.9h-3.5zM570.9 26.8h4.3v1.5h-4.3zM558.0 40.4h2.6v1.2h-2.6zM568.8 59.4h3.1v1.0h-3.1zM560.8 50.1h1.9v1.5h-1.9zM562.8 27.5h1.7v1.2h-1.7zM568.1 31.0h1.5v1.3h-1.5zM562.2 38.9h2.9v1.4h-2.9zM571.8 57.9h3.4v1.1h-3.4zM569.6 58.8h1.8v1.3h-1.8zM560.1 74.7h4.7v1.4h-4.7zM565.3 31.4h4.8v0.9h-4.8zM559.8 52.5h2.0v1.3h-2.0zM571.9 43.4h3.3v1.1h-3.3zM564.5 67.3h3.3v1.2h-3.3zM590.2 27.1h5.2v1.3h-5.2zM616.4 31.3h3.3v1.0h-3.3zM622.0 52.4h4.8v1.2h-4.8zM621.9 27.5h4.4v1.4h-4.4zM617.7 21.1h2.3v1.0h-2.3zM615.5 58.6h3.6v1.0h-3.6zM622.7 41.5h1.9v1.3h-1.9zM622.7 43.4h2.1v1.4h-2.1zM621.5 28.4h3.2v1.0h-3.2zM620.0 31.5h3.2v1.2h-3.2zM615.0 69.6h1.7v1.0h-1.7zM622.9 41.7h4.3v1.0h-4.3zM618.2 49.5h3.0v1.4h-3.0zM611.1 36.5h1.9v1.2h-1.9zM614.0 25.5h1.8v1.3h-1.8zM614.8 44.2h2.4v1.5h-2.4z"/><path fill="none" stroke="#2f9cdc" stroke-width="2.0" stroke-linecap="round" d="M567.7 24.8L573.9 28.0M619.2 24.5L623.8 26.9M611.2 69.4L616.0 72.0"/><path fill="#34addc" d="M267.4 61.6h2.6v1.2h-2.6zM268.9 75.5h2.6v1.6h-2.6zM266.1 77.2h1.8v0.9h-1.8zM265.5 36.2h1.8v0.9h-1.8zM267.3 53.7h2.0v1.6h-2.0zM266.6 28.8h3.5v1.2h-3.5zM267.7 69.4h3.3v1.2h-3.3zM268.9 30.2h1.7v1.1h-1.7zM266.5 76.9h2.3v0.9h-2.3zM265.4 33.7h2.3v1.4h-2.3zM265.9 34.6h2.1v1.4h-2.1zM268.6 59.0h2.5v1.4h-2.5zM302.0 29.9h5.9v1.5h-5.9zM297.2 40.3h8.7v1.1h-8.7zM297.9 78.7h9.7v1.0h-9.7zM299.5 76.8h3.3v1.5h-3.3zM300.8 60.8h2.0v1.0h-2.0zM301.0 46.6h3.6v1.5h-3.6zM303.4 58.5h1.7v1.4h-1.7zM302.4 70.8h3.6v1.5h-3.6zM301.3 33.7h4.0v1.6h-4.0zM301.1 62.6h2.4v1.4h-2.4zM299.0 36.0h1.5v1.4h-1.5zM300.8 35.8h2.1v1.4h-2.1zM344.9 70.6h6.5v0.9h-6.5zM348.3 50.5h3.1v1.3h-3.1zM343.1 77.8h1.5v1.2h-1.5zM341.5 55.9h3.1v1.4h-3.1zM345.6 55.5h3.2v1.4h-3.2zM342.7 55.4h1.0v1.4h-1.0zM346.1 55.5h1.8v1.4h-1.8zM343.0 59.1h1.7v1.4h-1.7zM343.8 58.0h2.1v1.4h-2.1zM341.4 49.9h1.6v1.4h-1.6zM390.3 60.3h1.7v1.1h-1.7zM385.8 40.6h2.6v1.4h-2.6zM396.2 57.9h1.2v1.4h-1.2zM453.3 26.3h2.6v1.3h-2.6zM457.2 55.4h1.2v1.3h-1.2zM466.2 35.6h3.8v1.0h-3.8zM459.9 34.5h1.0v1.4h-1.0zM466.8 49.0h1.4v1.4h-1.4zM465.1 51.6h2.3v1.4h-2.3zM465.2 51.4h1.5v1.4h-1.5zM476.9 62.4h2.2v1.4h-2.2zM475.8 62.7h3.2v1.4h-3.2zM488.7 60.0h3.9v1.4h-3.9zM484.2 24.3h2.1v1.4h-2.1zM485.6 24.9h1.3v1.4h-1.3zM484.2 24.6h2.7v1.4h-2.7zM509.0 25.4h3.8v1.3h-3.8zM534.0 35.6h1.4v1.3h-1.4zM529.5 75.8h2.8v1.3h-2.8zM542.0 50.4h4.0v1.5h-4.0zM537.3 43.1h1.6v1.5h-1.6zM539.5 41.8h1.3v1.4h-1.3zM541.2 50.3h1.5v1.4h-1.5zM542.3 48.1h1.3v1.4h-1.3zM540.9 51.0h2.0v1.4h-2.0zM539.4 49.1h1.6v1.4h-1.6zM563.9 57.2h2.2v1.0h-2.2zM559.8 22.4h3.9v1.1h-3.9zM573.8 41.1h1.4v1.2h-1.4zM558.8 54.7h3.8v1.5h-3.8zM569.2 60.5h4.3v1.1h-4.3zM557.3 55.0h1.8v1.3h-1.8zM570.9 62.3h4.3v1.2h-4.3zM572.4 63.1h2.4v1.5h-2.4zM570.1 40.2h4.5v1.5h-4.5zM564.9 57.3h3.7v1.4h-3.7zM587.0 76.2h3.5v1.3h-3.5zM619.3 34.4h1.8v1.2h-1.8zM618.0 30.3h3.8v1.4h-3.8zM622.9 33.3h2.9v1.2h-2.9zM627.5 40.7h2.8v1.1h-2.8zM613.3 75.4h2.1v1.1h-2.1zM627.3 50.0h1.6v1.2h-1.6zM620.6 59.5h2.0v1.4h-2.0zM622.3 75.6h1.5v1.3h-1.5zM631.2 61.6h2.6v1.4h-2.6zM641.4 62.5h1.4v1.4h-1.4zM642.5 64.1h1.6v1.4h-1.6zM642.8 63.1h1.3v1.4h-1.3z"/><path fill="none" stroke="#34addc" stroke-width="2.0" stroke-linecap="round" d="M569.6 58.7L574.0 61.0M558.4 65.9L563.8 68.8M621.1 20.9L626.1 23.6"/><path fill="#39bedc" d="M268.6 75.4h2.9v1.0h-2.9zM267.7 32.8h2.2v1.4h-2.2zM268.2 57.8h3.1v1.4h-3.1zM296.6 78.6h5.5v1.0h-5.5zM302.0 31.1h2.2v1.5h-2.2zM301.3 66.8h2.1v1.5h-2.1zM304.1 65.2h1.6v1.0h-1.6zM301.3 46.7h3.1v1.2h-3.1zM302.0 51.5h1.6v1.2h-1.6zM304.3 65.2h1.7v1.1h-1.7zM302.4 29.3h2.8v1.2h-2.8zM303.2 61.4h1.5v1.4h-1.5zM300.5 60.4h2.5v1.4h-2.5zM299.9 36.5h2.2v1.4h-2.2zM300.0 36.2h2.3v1.4h-2.3zM300.8 37.3h1.3v1.4h-1.3zM344.9 56.6h2.5v1.4h-2.5zM343.4 59.8h1.8v1.4h-1.8zM342.2 49.0h2.6v1.4h-2.6zM385.9 41.1h2.3v1.4h-2.3zM389.6 41.8h1.9v1.4h-1.9zM387.5 46.4h2.7v1.4h-2.7zM390.7 44.7h1.8v1.4h-1.8zM390.7 46.1h1.5v1.4h-1.5zM388.9 51.0h1.1v1.4h-1.1zM385.3 35.6h2.1v1.4h-2.1zM384.9 36.0h2.2v1.4h-2.2zM397.2 57.1h1.5v1.4h-1.5zM398.6 60.5h1.1v1.4h-1.1zM398.0 61.3h1.6v1.4h-1.6zM409.6 24.3h1.3v1.4h-1.3zM411.7 67.0h2.3v1.4h-2.3zM411.5 67.0h1.2v1.4h-1.2zM410.6 67.2h2.8v1.4h-2.8zM433.0 35.7h5.3v1.3h-5.3zM461.2 44.1h2.0v1.0h-2.0zM461.1 48.0h6.1v1.1h-6.1zM460.3 35.2h2.3v1.4h-2.3zM465.6 45.7h1.6v1.4h-1.6zM466.3 49.3h1.6v1.4h-1.6zM473.4 59.0h2.2v1.4h-2.2zM490.4 60.0h2.2v1.4h-2.2zM492.8 60.0h1.2v1.4h-1.2zM485.1 24.8h1.1v1.4h-1.1zM485.0 24.4h1.3v1.4h-1.3zM512.4 25.8h2.7v1.3h-2.7zM524.8 26.1h2.9v1.3h-2.9zM532.1 25.4h3.3v1.3h-3.3zM512.9 76.8h3.0v1.3h-3.0zM544.8 49.3h3.3v1.1h-3.3zM540.1 41.6h5.9v1.1h-5.9zM539.8 38.5h6.6v1.4h-6.6zM538.4 35.2h1.1v1.4h-1.1zM539.9 41.5h1.6v1.4h-1.6zM539.0 41.8h1.9v1.4h-1.9zM541.0 43.7h1.4v1.4h-1.4zM541.0 42.1h1.2v1.4h-1.2zM539.9 49.4h2.0v1.4h-2.0zM542.1 48.5h2.1v1.4h-2.1zM541.9 47.9h1.5v1.4h-1.5zM540.3 50.6h2.2v1.4h-2.2zM541.1 48.4h1.6v1.4h-1.6zM552.3 59.5h3.0v1.4h-3.0zM554.0 60.1h1.7v1.4h-1.7zM557.0 56.3h4.1v1.0h-4.1zM571.8 75.7h3.4v1.4h-3.4zM559.1 21.9h3.9v1.2h-3.9zM570.5 54.5h4.5v1.3h-4.5zM566.8 65.7h1.8v1.0h-1.8zM569.9 33.6h4.2v1.4h-4.2zM559.7 69.9h3.1v1.0h-3.1zM570.0 53.0h1.5v1.3h-1.5zM595.0 27.0h4.2v1.3h-4.2zM601.7 26.3h5.1v1.3h-5.1zM625.6 31.3h2.0v1.0h-2.0zM620.3 39.7h3.7v1.1h-3.7zM616.7 39.8h1.6v0.9h-1.6zM617.0 43.9h4.8v1.1h-4.8zM612.3 51.4h4.3v1.4h-4.3zM617.4 55.5h1.4v1.4h-1.4zM643.2 63.2h2.3v1.4h-2.3zM642.3 62.8h1.2v1.4h-1.2zM642.5 63.3h1.3v1.4h-1.3z"/><path fill="none" stroke="#39bedc" stroke-width="1.0" stroke-linecap="round" d="M383.8 59.5L387.0 59.8M377.4 63.4L380.6 63.0M380.6 63.4L383.8 63.4M383.8 63.0L387.0 63.4M374.2 67.5L377.4 67.2M380.6 67.8L383.8 67.8M383.8 67.5L387.0 67.8M387.0 67.2L390.2 67.5M371.0 71.5L374.2 71.2M377.4 72.0L380.6 71.8M380.6 72.0L383.8 72.0M387.0 71.5L390.2 71.8"/><path fill="none" stroke="#39bedc" stroke-width="2.0" stroke-linecap="round" d="M561.2 20.9L568.0 24.6M560.9 29.0L567.6 32.6M557.2 70.2L563.8 73.8M625.5 24.5L629.0 26.3M626.5 69.4L629.5 71.1"/><path fill="#46c9cf" d="M269.1 30.9h2.4v1.1h-2.4zM265.9 39.9h3.4v1.3h-3.4zM266.2 33.9h1.2v1.4h-1.2zM300.0 58.6h1.7v1.4h-1.7zM299.9 67.9h3.9v1.0h-3.9zM303.2 29.8h2.1v1.5h-2.1zM300.6 60.2h3.1v1.4h-3.1zM302.4 61.5h1.6v1.4h-1.6zM341.9 49.4h2.4v1.4h-2.4zM386.5 41.2h2.3v1.4h-2.3zM388.2 42.1h1.6v1.4h-1.6zM387.6 42.4h1.9v1.4h-1.9zM388.5 51.0h1.3v1.4h-1.3zM388.5 51.1h2.0v1.4h-2.0zM387.1 36.2h1.6v1.4h-1.6zM386.2 36.7h1.1v1.4h-1.1zM385.2 36.9h2.2v1.4h-2.2zM396.5 57.9h1.1v1.4h-1.1zM398.2 58.0h2.1v1.4h-2.1zM398.1 60.5h2.0v1.4h-2.0zM448.9 25.8h4.8v1.3h-4.8zM454.4 35.8h3.5v1.3h-3.5zM433.0 67.1h4.1v1.3h-4.1zM456.7 75.9h1.7v1.3h-1.7zM461.2 49.2h5.3v1.0h-5.3zM463.4 48.2h4.8v1.2h-4.8zM465.7 45.2h1.7v1.4h-1.7zM465.7 43.9h2.0v1.4h-2.0zM491.6 61.9h1.9v1.4h-1.9zM492.5 62.7h1.7v1.4h-1.7zM521.7 26.5h3.5v1.3h-3.5zM533.2 56.1h2.2v1.3h-2.2zM532.8 67.3h2.6v1.3h-2.6zM539.9 42.0h1.5v1.4h-1.5zM540.9 49.7h2.2v1.4h-2.2zM542.4 50.1h1.9v1.4h-1.9zM562.8 53.5h4.8v1.4h-4.8zM564.7 60.2h1.3v1.4h-1.3zM587.0 26.8h3.6v1.3h-3.6zM587.0 37.1h4.5v1.3h-4.5zM605.6 55.4h3.7v1.3h-3.7zM587.0 66.3h5.0v1.3h-5.0zM608.5 66.3h1.9v1.3h-1.9zM600.3 76.4h2.5v1.3h-2.5zM611.5 43.5h3.9v1.5h-3.9zM612.0 45.4h1.5v1.4h-1.5zM626.8 61.9h1.7v1.4h-1.7zM626.7 62.5h2.5v1.4h-2.5zM628.7 64.1h2.8v1.4h-2.8zM641.6 63.3h1.5v1.4h-1.5z"/><path fill="none" stroke="#46c9cf" stroke-width="1.0" stroke-linecap="round" d="M371.0 59.2L374.2 58.9M374.2 59.5L377.4 59.2M377.4 59.8L380.6 59.5M380.6 59.8L383.8 59.8M387.0 59.2L390.2 59.5M371.0 62.8L374.2 62.5M374.2 63.0L377.4 62.8M387.0 62.8L390.2 63.0M371.0 67.2L374.2 66.9M377.4 67.8L380.6 67.5M374.2 71.8L377.4 71.5M383.8 71.8L387.0 72.0"/><path fill="none" stroke="#46c9cf" stroke-width="2.0" stroke-linecap="round" d="M569.3 20.9L573.8 23.3M564.0 62.3L570.6 65.8M613.4 28.7L620.2 32.3M618.9 62.2L623.9 64.9"/><path fill="#60ceb0" d="M266.8 24.0h2.9v0.9h-2.9zM264.6 32.8h2.4v1.1h-2.4zM266.6 34.2h2.1v1.4h-2.1zM267.3 34.3h1.4v1.4h-1.4zM267.3 58.3h1.7v1.4h-1.7zM303.7 42.9h2.3v1.6h-2.3zM301.2 75.6h3.9v0.9h-3.9zM299.2 51.2h2.3v1.0h-2.3zM302.2 61.8h1.0v1.4h-1.0zM301.8 60.7h1.1v1.4h-1.1zM345.2 56.3h1.3v1.4h-1.3zM344.8 60.5h2.4v1.4h-2.4zM344.1 58.4h2.0v1.4h-2.0zM343.0 49.4h2.3v1.4h-2.3zM341.9 49.2h2.7v1.4h-2.7zM387.5 40.4h1.0v1.4h-1.0zM387.4 40.3h2.5v1.4h-2.5zM387.3 45.2h1.9v1.4h-1.9zM389.2 50.2h1.3v1.4h-1.3zM390.3 50.2h1.1v1.4h-1.1zM386.2 36.6h2.2v1.4h-2.2zM398.4 59.7h2.1v1.4h-2.1zM395.7 58.9h2.7v1.4h-2.7zM398.2 59.0h1.4v1.4h-1.4zM439.4 25.8h5.0v1.3h-5.0zM433.0 75.9h5.2v1.3h-5.2zM445.0 76.8h4.9v1.3h-4.9zM449.5 76.6h2.8v1.3h-2.8zM462.2 33.7h1.0v1.4h-1.0zM464.1 43.9h1.5v1.4h-1.5zM465.5 45.2h1.0v1.4h-1.0zM464.4 43.9h1.5v1.4h-1.5zM467.4 50.7h1.6v1.4h-1.6zM467.4 50.3h1.0v1.4h-1.0zM478.0 61.7h1.3v1.4h-1.3zM471.6 60.4h4.0v1.4h-4.0zM490.3 60.0h3.4v1.4h-3.4zM487.7 62.0h4.0v1.4h-4.0zM489.4 60.9h2.0v1.4h-2.0zM509.0 67.3h3.1v1.3h-3.1zM515.5 76.9h4.8v1.3h-4.8zM544.6 37.8h3.9v1.4h-3.9zM538.6 50.5h6.0v1.0h-6.0zM540.7 41.9h2.2v1.4h-2.2zM540.3 49.5h2.6v1.4h-2.6zM551.6 59.3h3.4v1.4h-3.4zM553.9 60.4h1.7v1.4h-1.7zM569.9 33.7h2.9v1.5h-2.9zM598.9 26.6h3.2v1.3h-3.2zM608.8 37.1h1.6v1.3h-1.6zM608.9 55.6h1.5v1.3h-1.5zM616.5 55.4h3.6v1.4h-3.6zM616.0 57.1h3.1v1.4h-3.1zM631.2 62.6h1.9v1.4h-1.9zM627.0 63.1h2.2v1.4h-2.2z"/><path fill="none" stroke="#60ceb0" stroke-width="2.0" stroke-linecap="round" d="M565.7 65.9L571.8 69.2M613.7 24.5L618.1 26.9M611.8 59.0L616.1 61.2"/><path fill="#7ad391" d="M265.2 75.6h3.6v1.0h-3.6zM267.1 41.4h3.1v0.9h-3.1zM265.2 74.7h2.2v1.3h-2.2zM266.7 59.0h2.3v1.4h-2.3zM266.1 59.1h3.2v1.4h-3.2zM267.2 58.9h1.7v1.4h-1.7zM267.4 58.3h1.3v1.4h-1.3zM267.1 58.4h3.2v1.4h-3.2zM265.9 58.3h2.2v1.4h-2.2zM267.1 59.2h2.9v1.4h-2.9zM303.4 58.1h2.5v1.1h-2.5zM299.9 60.8h3.2v1.4h-3.2zM342.3 55.5h2.9v1.4h-2.9zM343.1 55.9h2.3v1.4h-2.3zM374.0 54.4h1.5v1.4h-1.5zM390.0 45.0h1.6v1.4h-1.6zM388.7 44.9h1.9v1.4h-1.9zM388.4 50.8h1.6v1.4h-1.6zM398.3 58.2h1.8v1.4h-1.8zM397.5 60.3h1.1v1.4h-1.1zM436.7 67.2h4.7v1.3h-4.7zM437.8 76.2h4.6v1.3h-4.6zM462.0 34.6h2.0v1.4h-2.0zM459.4 34.0h2.5v1.4h-2.5zM466.4 43.9h1.1v1.4h-1.1zM464.0 45.0h2.5v1.4h-2.5zM466.1 44.5h1.3v1.4h-1.3zM465.6 50.7h2.3v1.4h-2.3zM465.7 49.5h1.5v1.4h-1.5zM465.5 50.5h1.9v1.4h-1.9zM465.6 50.1h1.3v1.4h-1.3zM473.3 60.0h1.7v1.4h-1.7zM472.2 61.7h3.7v1.4h-3.7zM477.2 61.2h2.2v1.4h-2.2zM487.9 61.2h3.9v1.4h-3.9zM490.9 61.6h2.6v1.4h-2.6zM514.7 26.1h4.3v1.3h-4.3zM515.0 55.3h3.1v1.3h-3.1zM526.7 56.4h4.8v1.3h-4.8zM511.7 67.0h4.6v1.3h-4.6zM529.3 67.2h3.8v1.3h-3.8zM522.1 76.4h2.9v1.3h-2.9zM524.6 76.0h5.3v1.3h-5.3zM537.3 33.7h1.8v1.4h-1.8zM553.6 62.1h1.7v1.4h-1.7zM553.9 62.0h1.0v1.4h-1.0zM553.1 62.5h1.9v1.4h-1.9zM561.6 58.7h3.0v1.4h-3.0zM603.6 66.9h5.4v1.3h-5.4zM602.4 76.1h4.6v1.3h-4.6zM629.6 63.8h3.0v1.4h-3.0z"/><path fill="none" stroke="#7ad391" stroke-width="2.0" stroke-linecap="round" d="M563.7 58.7L568.1 61.0M557.4 74.1L562.0 76.5M623.2 28.7L628.3 31.5M612.6 52.0L617.9 54.8M612.6 55.4L617.8 58.2M611.3 62.2L617.2 65.4M612.6 65.6L618.8 68.9"/><path fill="#95d872" d="M265.2 66.4h2.2v1.2h-2.2zM303.2 43.2h2.0v1.0h-2.0zM300.7 61.0h2.5v1.4h-2.5zM300.8 61.4h2.4v1.4h-2.4zM300.8 61.0h1.8v1.4h-1.8zM300.5 61.9h3.0v1.4h-3.0zM301.1 61.3h2.8v1.4h-2.8zM343.6 54.7h1.5v1.4h-1.5zM344.8 55.5h1.4v1.4h-1.4zM342.8 55.0h2.1v1.4h-2.1zM346.4 59.4h2.3v1.4h-2.3zM343.8 62.2h1.6v1.4h-1.6zM371.6 52.7h2.9v1.4h-2.9zM370.2 54.7h3.0v1.4h-3.0zM386.8 41.1h1.4v1.4h-1.4zM387.4 41.3h1.2v1.4h-1.2zM387.0 41.1h1.6v1.4h-1.6zM390.0 44.9h1.8v1.4h-1.8zM396.5 58.5h1.1v1.4h-1.1zM396.9 59.2h2.0v1.4h-2.0zM397.5 59.0h1.3v1.4h-1.3zM397.9 58.3h1.5v1.4h-1.5zM397.6 58.2h1.3v1.4h-1.3zM465.5 43.6h1.8v1.4h-1.8zM464.9 44.6h2.1v1.4h-2.1zM476.0 59.5h1.4v1.4h-1.4zM492.3 61.5h1.3v1.4h-1.3zM491.3 61.0h3.3v1.4h-3.3zM489.6 60.8h2.4v1.4h-2.4zM490.4 61.0h4.1v1.4h-4.1zM518.6 26.5h3.5v1.3h-3.5zM512.8 55.4h2.6v1.3h-2.6zM531.9 75.9h3.5v1.3h-3.5zM538.1 34.5h1.6v1.4h-1.6zM552.5 59.7h1.7v1.4h-1.7zM564.6 57.4h3.0v1.4h-3.0zM604.0 36.6h5.2v1.3h-5.2zM630.7 62.9h2.9v1.4h-2.9zM630.0 61.1h2.2v1.4h-2.2z"/><path fill="none" stroke="#95d872" stroke-width="2.0" stroke-linecap="round" d="M625.8 55.4L629.9 57.5"/><path fill="#aedb57" d="M299.8 60.9h3.7v1.4h-3.7zM342.7 55.3h2.1v1.4h-2.1zM345.7 58.5h1.9v1.4h-1.9zM346.7 58.6h1.0v1.4h-1.0zM344.6 63.0h2.0v1.4h-2.0zM372.0 54.9h2.8v1.4h-2.8zM388.7 41.5h1.4v1.4h-1.4zM389.4 45.0h1.9v1.4h-1.9zM389.4 50.5h1.5v1.4h-1.5zM397.1 60.0h1.6v1.4h-1.6zM396.3 59.3h2.6v1.4h-2.6zM454.9 55.6h2.7v1.3h-2.7zM453.1 66.6h3.7v1.3h-3.7zM442.0 76.7h3.4v1.3h-3.4zM451.9 76.3h5.2v1.3h-5.2zM465.4 50.3h2.7v1.4h-2.7zM490.6 61.9h2.8v1.4h-2.8zM492.1 61.2h2.9v1.4h-2.9zM491.8 60.7h1.2v1.4h-1.2zM491.5 61.6h2.4v1.4h-2.4zM531.3 35.8h3.1v1.3h-3.1zM509.0 55.9h4.2v1.3h-4.2zM515.9 66.4h3.4v1.3h-3.4zM519.9 76.7h2.7v1.3h-2.7zM538.6 34.3h2.0v1.4h-2.0zM538.1 34.3h1.1v1.4h-1.1zM549.1 61.9h1.5v1.4h-1.5zM587.0 56.0h4.3v1.3h-4.3zM618.8 58.7h4.4v1.4h-4.4zM616.1 56.2h2.7v1.4h-2.7zM616.2 57.8h4.4v1.4h-4.4zM627.6 61.7h2.8v1.4h-2.8z"/><path fill="none" stroke="#aedb57" stroke-width="2.0" stroke-linecap="round" d="M567.9 33.3L573.3 36.2M560.5 37.0L565.5 39.7M567.4 44.1L573.8 47.4M558.1 58.7L562.7 61.1M612.9 36.1L619.1 39.4M620.8 40.1L626.2 43.0"/><path fill="#c6da48" d="M266.8 58.5h2.1v1.4h-2.1zM344.4 62.7h1.1v1.4h-1.1zM344.4 62.5h1.4v1.4h-1.4zM346.2 62.5h1.9v1.4h-1.9zM345.2 63.2h1.3v1.4h-1.3zM388.5 41.1h1.3v1.4h-1.3zM388.3 45.4h1.8v1.4h-1.8zM389.5 45.7h1.7v1.4h-1.7zM390.2 45.1h1.2v1.4h-1.2zM397.4 58.8h1.6v1.4h-1.6zM436.0 26.2h3.8v1.3h-3.8zM443.9 25.5h5.3v1.3h-5.3zM437.9 36.0h3.3v1.3h-3.3zM446.4 36.6h4.4v1.3h-4.4zM450.4 36.3h4.4v1.3h-4.4zM433.0 55.4h4.2v1.3h-4.2zM441.0 66.9h2.6v1.3h-2.6zM461.3 34.2h1.9v1.4h-1.9zM476.5 61.4h3.2v1.4h-3.2zM476.1 61.4h3.3v1.4h-3.3zM475.9 60.1h3.3v1.4h-3.3zM473.2 61.2h1.2v1.4h-1.2zM509.0 35.6h2.8v1.3h-2.8zM513.8 35.8h3.9v1.3h-3.9zM520.7 36.7h2.9v1.3h-2.9zM526.3 36.5h3.0v1.3h-3.0zM509.0 46.9h5.2v1.3h-5.2zM517.7 55.3h2.5v1.3h-2.5zM523.7 56.1h3.4v1.3h-3.4zM536.9 44.0h8.4v1.6h-8.4zM551.7 60.0h2.7v1.4h-2.7zM552.4 62.0h3.3v1.4h-3.3zM552.6 60.9h2.2v1.4h-2.2zM551.0 62.7h3.5v1.4h-3.5zM552.4 62.6h1.2v1.4h-1.2zM595.1 56.2h3.0v1.3h-3.0zM597.8 55.9h3.5v1.3h-3.5zM590.1 76.6h2.5v1.3h-2.5zM595.7 76.8h5.1v1.3h-5.1zM619.1 56.8h3.8v1.4h-3.8zM617.3 55.7h1.9v1.4h-1.9zM616.4 57.3h3.5v1.4h-3.5zM619.7 58.4h4.3v1.4h-4.3zM628.6 62.7h1.0v1.4h-1.0zM628.3 63.6h2.9v1.4h-2.9zM629.1 61.0h2.9v1.4h-2.9z"/><path fill="none" stroke="#c6da48" stroke-width="2.0" stroke-linecap="round" d="M558.8 62.3L563.5 64.8M623.1 32.2L627.6 34.6M618.5 55.4L623.2 57.9M616.6 59.0L623.3 62.5"/><path fill="#ded839" d="M344.4 59.9h2.1v1.4h-2.1zM443.8 36.6h3.0v1.3h-3.0zM442.3 56.1h4.5v1.3h-4.5zM445.2 66.4h4.2v1.3h-4.2zM449.0 66.3h4.5v1.3h-4.5zM475.4 61.7h1.8v1.4h-1.8zM511.4 35.6h2.8v1.3h-2.8zM523.2 36.7h3.5v1.3h-3.5zM528.9 36.1h2.8v1.3h-2.8zM533.3 46.9h2.1v1.3h-2.1zM531.1 56.3h2.4v1.3h-2.4zM519.0 66.2h2.8v1.3h-2.8zM550.0 62.7h2.7v1.4h-2.7zM548.2 61.3h3.5v1.4h-3.5zM562.2 56.7h2.2v1.4h-2.2zM565.3 58.6h3.8v1.4h-3.8zM564.1 57.1h2.9v1.4h-2.9zM601.1 36.3h3.2v1.3h-3.2zM592.2 76.8h3.8v1.3h-3.8zM619.0 58.6h2.4v1.4h-2.4zM618.3 58.1h1.9v1.4h-1.9zM617.6 56.2h2.9v1.4h-2.9zM628.1 61.1h3.1v1.4h-3.1z"/><path fill="none" stroke="#ded839" stroke-width="2.0" stroke-linecap="round" d="M613.5 47.9L619.9 51.2M624.7 59.0L628.9 61.2"/><path fill="#f6d72a" d="M344.5 58.8h2.3v1.4h-2.3zM388.6 45.3h2.4v1.4h-2.4zM440.8 36.4h3.4v1.3h-3.4zM436.8 55.5h2.6v1.3h-2.6zM443.2 66.6h2.4v1.3h-2.4zM517.3 36.3h3.8v1.3h-3.8zM519.8 55.5h4.3v1.3h-4.3zM521.4 66.2h3.4v1.3h-3.4zM551.3 60.6h2.7v1.4h-2.7zM550.3 60.7h1.9v1.4h-1.9zM549.9 60.3h3.4v1.4h-3.4zM549.4 60.4h3.1v1.4h-3.1zM551.6 62.6h2.5v1.4h-2.5zM550.5 59.6h3.7v1.4h-3.7zM562.8 58.7h1.9v1.4h-1.9zM604.4 46.5h5.0v1.3h-5.0zM590.9 56.3h4.6v1.3h-4.6zM594.8 67.0h2.8v1.3h-2.8zM617.8 56.1h3.2v1.4h-3.2zM627.8 63.0h2.3v1.4h-2.3zM630.4 62.7h1.7v1.4h-1.7zM630.0 61.8h1.3v1.4h-1.3z"/><path fill="none" stroke="#f6d72a" stroke-width="2.0" stroke-linecap="round" d="M560.4 40.6L565.3 43.2M559.9 44.1L566.3 47.4M560.2 51.3L566.6 54.7M558.3 54.9L562.8 57.3"/><path fill="#f7be25" d="M345.4 62.4h2.4v1.4h-2.4zM344.9 62.6h2.3v1.4h-2.3zM371.1 54.5h3.3v1.4h-3.3zM433.0 45.9h3.6v1.3h-3.6zM456.7 45.9h1.7v1.3h-1.7zM473.2 61.7h4.1v1.4h-4.1zM474.6 60.5h2.5v1.4h-2.5zM548.9 61.4h3.3v1.4h-3.3zM550.0 60.7h2.5v1.4h-2.5zM565.7 59.8h1.1v1.4h-1.1zM564.6 57.1h1.0v1.4h-1.0zM591.1 36.8h3.2v1.3h-3.2zM593.9 36.4h4.2v1.3h-4.2zM591.7 47.0h4.2v1.3h-4.2zM609.0 46.3h1.4v1.3h-1.4zM620.4 57.9h3.0v1.4h-3.0zM628.7 62.4h1.2v1.4h-1.2z"/><path fill="none" stroke="#f7be25" stroke-width="2.0" stroke-linecap="round" d="M568.6 29.0L572.9 31.3M561.3 33.3L567.0 36.3M567.1 37.0L571.6 39.4M564.5 54.9L569.3 57.4M619.9 36.1L626.0 39.4"/><path fill="#f4a122" d="M345.5 59.2h1.6v1.4h-1.6zM345.3 60.0h2.1v1.4h-2.1zM372.4 54.0h2.9v1.4h-2.9zM373.1 53.7h1.2v1.4h-1.2zM372.5 53.7h2.9v1.4h-2.9zM453.0 46.2h4.1v1.3h-4.1zM439.0 55.7h3.7v1.3h-3.7zM474.1 61.1h4.3v1.4h-4.3zM473.8 61.0h4.4v1.4h-4.4zM524.4 66.6h5.3v1.3h-5.3zM551.4 60.7h2.2v1.4h-2.2zM551.0 60.3h2.8v1.4h-2.8zM564.2 59.4h2.8v1.4h-2.8zM591.6 66.7h3.6v1.3h-3.6zM628.5 62.6h2.8v1.4h-2.8zM627.8 62.6h2.2v1.4h-2.2z"/><path fill="none" stroke="#f4a122" stroke-width="2.0" stroke-linecap="round" d="M567.5 51.3L572.9 54.2M571.0 54.9L574.8 56.9M614.7 32.2L621.2 35.7M612.4 40.1L619.3 43.8M620.4 52.0L627.0 55.5M625.3 62.2L628.9 64.1"/><path fill="#f28520" d="M345.5 62.4h1.2v1.4h-1.2zM372.1 53.5h3.1v1.4h-3.1zM371.9 53.5h2.1v1.4h-2.1zM371.2 53.5h1.9v1.4h-1.9zM372.2 54.4h1.4v1.4h-1.4zM447.3 46.8h2.7v1.3h-2.7zM450.7 56.1h4.6v1.3h-4.6zM475.8 60.2h2.0v1.4h-2.0zM530.4 46.8h3.3v1.3h-3.3zM549.2 60.9h3.7v1.4h-3.7zM548.9 60.7h3.7v1.4h-3.7zM562.0 58.5h3.5v1.4h-3.5zM563.2 59.1h4.3v1.4h-4.3zM597.7 36.2h3.9v1.3h-3.9zM597.2 67.2h4.6v1.3h-4.6zM601.4 67.1h2.6v1.3h-2.6zM618.5 57.5h1.8v1.4h-1.8zM618.6 57.9h2.1v1.4h-2.1zM619.6 57.9h1.4v1.4h-1.4zM617.6 56.4h3.6v1.4h-3.6z"/><path fill="none" stroke="#f28520" stroke-width="2.0" stroke-linecap="round" d="M567.1 47.4L571.7 49.8M612.9 44.1L618.6 47.1M622.2 47.9L629.0 51.5"/><path fill="#ee6a1d" d="M371.5 54.2h3.1v1.4h-3.1zM436.2 46.0h5.1v1.3h-5.1zM449.5 46.6h3.9v1.3h-3.9zM564.8 58.1h1.4v1.4h-1.4zM561.5 58.2h4.4v1.4h-4.4zM564.2 58.3h4.2v1.4h-4.2zM629.4 62.4h1.2v1.4h-1.2z"/><path fill="none" stroke="#ee6a1d" stroke-width="2.0" stroke-linecap="round" d="M566.3 40.6L572.2 43.8"/><path fill="#e4571b" d="M371.4 54.2h2.2v1.4h-2.2zM513.8 46.5h4.1v1.3h-4.1zM526.9 46.3h4.0v1.3h-4.0zM618.9 57.7h3.8v1.4h-3.8zM618.8 57.1h2.8v1.4h-2.8z"/><path fill="none" stroke="#e4571b" stroke-width="2.0" stroke-linecap="round" d="M560.4 47.4L564.9 49.7M619.5 44.1L626.4 47.8"/><path fill="#db4418" d="M446.4 56.3h4.7v1.3h-4.7zM564.2 58.7h1.8v1.4h-1.8zM563.2 57.9h2.5v1.4h-2.5zM587.0 46.5h5.1v1.3h-5.1zM600.9 55.5h5.2v1.3h-5.2z"/><path fill="none" stroke="#db4418" stroke-width="2.0" stroke-linecap="round" d="M561.1 24.8L565.8 27.2"/><path fill="#d13116" d="M517.5 46.0h4.5v1.3h-4.5zM565.0 58.5h1.1v1.4h-1.1zM602.1 46.7h2.7v1.3h-2.7z"/><path fill="#c81e14" d="M440.9 46.6h4.0v1.3h-4.0zM444.5 46.8h3.2v1.3h-3.2zM521.6 45.8h2.9v1.3h-2.9zM524.1 45.9h3.2v1.3h-3.2zM595.5 47.2h2.7v1.3h-2.7zM597.7 47.2h4.7v1.3h-4.7z"/></g><clipPath id="cb2"><rect x="257.1" y="88.7" width="406" height="55"/></clipPath><g clip-path="url(#cb2)" filter="url(#sb)"><path fill="#113093" d="M295.1 113.2h2.6v1.3h-2.6zM296.3 124.5h2.0v1.2h-2.0z"/><path fill="#133aa6" d="M296.5 125.5h1.7v1.6h-1.7zM297.1 120.1h2.5v1.5h-2.5zM298.8 107.3h2.0v1.5h-2.0zM296.4 105.6h2.1v1.2h-2.1zM298.7 116.9h1.9v1.5h-1.9zM298.4 106.3h1.6v0.9h-1.6zM296.3 109.3h2.0v1.4h-2.0zM299.3 111.9h1.7v1.2h-1.7zM295.7 114.3h1.9v1.1h-1.9zM301.4 126.1h2.8v1.4h-2.8zM302.0 122.6h1.8v1.3h-1.8zM302.3 139.7h1.5v1.0h-1.5zM303.1 123.0h2.1v1.3h-2.1zM291.0 127.1h1.9v1.5h-1.9zM379.9 121.3h1.9v1.4h-1.9zM379.2 114.4h2.1v1.6h-2.1zM380.6 140.9h1.7v1.6h-1.7zM378.4 104.2h3.3v1.4h-3.3zM383.5 117.9h2.5v1.0h-2.5zM378.7 103.3h2.9v1.1h-2.9zM378.0 140.6h2.8v0.9h-2.8zM378.1 134.6h1.7v1.0h-1.7zM383.3 142.1h1.7v1.1h-1.7zM445.7 134.3h2.7v1.1h-2.7zM445.6 114.1h2.3v1.0h-2.3zM563.2 138.4h4.0v1.1h-4.0zM557.7 132.3h3.3v1.2h-3.3zM657.1 136.9h1.5v1.5h-1.5z"/><path fill="#1749b3" d="M295.5 138.3h2.1v1.1h-2.1zM298.0 138.4h2.5v1.4h-2.5zM296.8 128.3h2.7v1.3h-2.7zM295.8 112.5h2.2v0.9h-2.2zM296.3 104.4h2.4v1.1h-2.4zM294.7 140.6h2.6v1.1h-2.6zM299.5 131.5h1.5v1.6h-1.5zM299.7 140.3h1.3v1.3h-1.3zM301.7 122.7h1.6v1.1h-1.6zM304.3 123.1h1.7v1.4h-1.7zM305.0 141.6h2.3v1.4h-2.3zM380.3 137.1h1.8v1.4h-1.8zM384.4 119.6h1.6v1.5h-1.6zM378.3 120.3h2.1v1.2h-2.1zM382.7 102.8h2.6v1.6h-2.6zM383.5 134.7h2.5v1.3h-2.5zM384.4 112.0h1.6v1.4h-1.6zM381.8 120.6h2.9v1.2h-2.9zM380.9 122.9h2.3v1.6h-2.3zM445.5 138.6h2.6v1.2h-2.6zM447.3 119.1h1.7v1.3h-1.7zM445.0 118.2h2.0v1.2h-2.0zM445.8 130.8h2.5v1.3h-2.5zM450.3 113.1h1.9v1.1h-1.9zM514.0 132.3h2.0v1.6h-2.0zM510.2 136.8h2.3v1.6h-2.3zM513.6 128.0h2.4v1.3h-2.4zM513.6 113.9h2.4v1.0h-2.4zM512.6 126.7h1.7v1.4h-1.7zM558.0 130.9h3.9v1.1h-3.9zM568.5 141.3h6.5v1.4h-6.5zM569.6 141.4h5.8v1.4h-5.8zM611.5 131.7h2.8v1.2h-2.8zM622.2 138.7h2.3v1.2h-2.3zM608.4 139.5h4.0v1.4h-4.0zM620.2 141.3h4.9v1.4h-4.9zM615.1 142.9h5.3v1.4h-5.3z"/><path fill="#1c5abf" d="M294.8 121.5h2.2v1.3h-2.2zM294.1 143.2h1.8v1.1h-1.8zM295.3 142.7h1.7v1.0h-1.7zM297.2 128.3h2.5v1.2h-2.5zM297.6 137.5h1.7v1.6h-1.7zM298.6 125.6h1.9v1.0h-1.9zM301.4 140.5h2.3v1.4h-2.3zM380.2 113.5h2.7v1.6h-2.7zM378.0 143.0h1.7v1.1h-1.7zM379.6 101.1h3.4v1.3h-3.4zM380.9 135.9h1.5v1.6h-1.5zM381.9 111.1h2.2v1.1h-2.2zM379.2 128.5h3.2v1.1h-3.2zM378.2 101.6h2.4v1.3h-2.4zM384.3 137.4h1.7v1.2h-1.7zM381.2 111.7h3.3v0.9h-3.3zM385.0 114.2h1.0v1.2h-1.0zM443.5 129.1h1.6v1.1h-1.6zM445.7 134.2h2.6v1.0h-2.6zM447.2 128.2h1.8v1.3h-1.8zM443.6 136.7h1.7v1.1h-1.7zM443.0 122.9h1.8v1.1h-1.8zM445.2 138.2h2.6v0.9h-2.6zM446.8 110.5h2.2v1.5h-2.2zM511.2 125.0h1.9v1.0h-1.9zM514.1 130.4h1.9v1.2h-1.9zM512.6 142.3h2.6v1.6h-2.6zM510.3 125.0h3.0v1.4h-3.0zM513.9 136.2h2.1v1.2h-2.1zM511.9 143.1h1.7v1.2h-1.7zM512.3 105.0h2.8v1.0h-2.8zM513.8 130.3h1.1v1.4h-1.1zM510.1 128.2h1.7v1.4h-1.7zM570.0 129.3h3.2v1.4h-3.2zM564.1 141.4h3.5v1.4h-3.5zM567.6 138.7h5.4v1.4h-5.4zM556.9 140.9h3.7v1.4h-3.7zM562.5 142.7h4.1v1.4h-4.1zM564.3 137.8h6.4v1.4h-6.4zM570.2 138.6h1.7v1.4h-1.7zM560.6 135.9h3.8v1.4h-3.8zM557.3 133.6h2.2v1.4h-2.2zM622.8 136.5h3.2v1.0h-3.2zM624.5 131.0h4.4v1.1h-4.4z"/><path fill="none" stroke="#1c5abf" stroke-width="1.5" stroke-linecap="round" d="M563.3 90.0L567.4 92.8M559.6 117.1L563.2 119.6M614.2 91.0L618.5 93.9M612.7 105.9L618.2 109.6M611.6 112.9L616.0 116.0"/><path fill="#216acb" d="M294.2 140.4h1.9v1.0h-1.9zM295.5 136.6h1.9v1.4h-1.9zM294.8 115.0h1.6v1.3h-1.6zM298.9 117.3h2.1v1.2h-2.1zM297.0 130.5h2.2v1.0h-2.2zM295.6 118.9h1.6v1.0h-1.6zM303.4 143.2h2.5v1.1h-2.5zM299.8 138.6h1.9v1.4h-1.9zM303.7 141.1h2.4v1.4h-2.4zM378.0 123.1h3.4v1.5h-3.4zM379.5 141.9h1.9v0.9h-1.9zM383.0 126.1h2.1v1.4h-2.1zM378.9 129.3h2.2v1.3h-2.2zM382.3 114.4h1.9v1.4h-1.9zM380.1 143.0h1.6v1.2h-1.6zM381.0 114.0h3.3v0.9h-3.3zM446.5 121.3h2.1v1.4h-2.1zM444.3 141.4h1.8v1.3h-1.8zM443.1 132.2h1.7v1.2h-1.7zM445.0 117.9h2.9v1.0h-2.9zM450.7 123.5h1.9v1.6h-1.9zM512.9 114.0h2.9v1.1h-2.9zM512.4 117.9h1.6v1.3h-1.6zM511.3 122.4h1.8v1.5h-1.8zM512.7 116.7h3.3v1.0h-3.3zM511.9 130.1h2.2v1.4h-2.2zM565.7 128.8h4.0v1.2h-4.0zM565.5 140.6h3.8v1.4h-3.8zM557.3 134.4h2.8v1.5h-2.8zM571.4 129.2h2.6v1.4h-2.6zM560.0 142.1h6.6v1.4h-6.6zM563.3 135.7h2.7v1.4h-2.7zM614.4 139.1h4.8v1.4h-4.8zM610.1 141.2h5.3v1.4h-5.3zM615.4 138.6h1.9v1.4h-1.9zM613.7 135.2h2.1v1.4h-2.1zM620.3 136.6h4.8v1.4h-4.8z"/><path fill="none" stroke="#216acb" stroke-width="1.5" stroke-linecap="round" d="M562.1 97.7L565.4 100.0M559.4 113.4L562.8 115.7M566.0 113.4L570.8 116.7M612.7 109.6L616.2 112.0M618.9 109.6L624.3 113.3M617.9 116.7L622.3 119.7M611.4 120.9L615.6 123.8"/><path fill="#267bd7" d="M295.1 143.5h2.6v1.0h-2.6zM296.5 113.7h1.7v0.9h-1.7zM298.6 114.2h2.2v1.0h-2.2zM296.7 127.0h2.9v1.1h-2.9zM295.1 139.7h1.7v1.0h-1.7zM294.0 129.8h2.3v1.4h-2.3zM298.2 115.1h2.7v1.4h-2.7zM303.0 132.5h2.7v1.2h-2.7zM303.5 143.3h1.6v1.1h-1.6zM302.5 137.2h2.8v0.9h-2.8zM299.7 141.9h2.2v1.4h-2.2zM384.6 136.0h1.4v1.4h-1.4zM380.1 103.3h2.6v1.1h-2.6zM382.5 123.1h2.1v1.3h-2.1zM378.5 115.2h1.8v1.6h-1.8zM378.7 118.7h1.5v1.4h-1.5zM384.3 110.4h1.7v1.0h-1.7zM383.2 113.1h2.7v1.0h-2.7zM382.4 140.2h3.3v1.4h-3.3zM382.0 136.3h2.8v1.1h-2.8zM381.2 136.8h3.2v1.1h-3.2zM381.6 133.7h3.1v1.6h-3.1zM512.2 129.3h3.1v1.5h-3.1zM510.3 126.3h3.0v1.4h-3.0zM513.6 120.6h2.4v1.6h-2.4zM512.7 134.1h2.0v1.2h-2.0zM514.0 131.9h2.0v1.6h-2.0zM512.3 117.6h2.8v1.2h-2.8zM511.0 126.0h3.9v1.1h-3.9zM511.8 111.9h2.4v1.2h-2.4zM510.3 112.0h3.5v1.2h-3.5zM512.3 121.7h1.8v1.3h-1.8zM511.7 107.4h3.4v1.5h-3.4zM511.3 119.2h3.9v1.4h-3.9zM511.1 127.2h1.3v1.4h-1.3zM564.9 135.4h3.2v1.4h-3.2zM612.4 139.9h3.5v1.1h-3.5zM622.1 138.7h3.4v1.1h-3.4zM613.6 138.1h2.4v1.1h-2.4zM625.3 142.3h2.8v1.4h-2.8zM619.9 142.1h1.9v1.4h-1.9zM613.8 136.5h5.5v1.4h-5.5z"/><ellipse cx="374.0" cy="130.0" rx="1.8" ry="5.0" fill="#267bd7"/><ellipse cx="428.5" cy="130.0" rx="0.8" ry="1.3" fill="#267bd7"/><ellipse cx="484.0" cy="118.0" rx="0.8" ry="1.2" fill="#267bd7"/><ellipse cx="540.0" cy="128.8" rx="0.6" ry="1.2" fill="#267bd7"/><path fill="none" stroke="#267bd7" stroke-width="1.5" stroke-linecap="round" d="M378 128Q386 123 394 128M561.8 94.0L566.4 97.1M561.2 101.9L565.9 105.2M560.8 105.4L565.3 108.5M558.6 120.6L561.8 122.8M565.1 120.6L569.7 123.7M613.3 102.0L618.2 105.3M619.2 112.9L624.5 116.5M617.2 120.9L621.5 123.9"/><path fill="#2a8cdc" d="M294.2 136.8h2.6v1.4h-2.6zM295.4 125.9h2.1v0.9h-2.1zM296.6 135.4h2.5v1.5h-2.5zM297.6 104.8h2.1v1.3h-2.1zM304.5 124.4h1.5v1.1h-1.5zM303.8 122.6h2.2v1.2h-2.2zM302.5 139.6h1.9v1.4h-1.9zM383.1 141.8h2.9v1.0h-2.9zM384.5 105.5h1.5v1.5h-1.5zM384.0 115.8h2.0v1.6h-2.0zM383.3 135.3h2.7v1.0h-2.7zM378.6 119.8h3.3v1.4h-3.3zM379.7 127.1h2.6v1.4h-2.6zM383.4 103.0h2.6v1.5h-2.6zM378.7 100.2h2.3v1.4h-2.3zM510.7 135.5h2.0v1.1h-2.0zM514.1 106.7h1.9v1.4h-1.9zM510.1 127.3h2.8v1.0h-2.8zM510.9 123.0h1.7v1.2h-1.7zM512.0 116.4h3.4v1.5h-3.4zM511.3 139.4h2.1v1.2h-2.1zM513.2 135.0h2.8v1.0h-2.8zM510.9 112.6h3.7v0.9h-3.7zM572.1 129.0h1.9v1.1h-1.9zM562.0 136.7h1.6v0.9h-1.6zM560.9 135.7h1.1v1.4h-1.1zM561.3 136.0h2.5v1.4h-2.5zM610.6 135.0h4.8v1.6h-4.8zM623.4 140.4h2.1v0.9h-2.1zM617.7 134.0h4.1v1.4h-4.1z"/><path fill="none" stroke="#2a8cdc" stroke-width="1.5" stroke-linecap="round" d="M560.0 109.1L565.2 112.6M565.9 117.1L570.5 120.3M558.5 124.3L562.4 127.0M614.0 94.8L617.3 97.1M612.6 98.6L617.8 102.2M612.4 116.7L616.1 119.2"/><path fill="#2f9cdc" d="M294.3 100.1h2.1v1.6h-2.1zM296.2 100.7h2.6v1.2h-2.6zM301.7 135.6h2.3v1.5h-2.3zM301.7 127.6h1.7v1.2h-1.7zM304.5 122.1h1.5v1.5h-1.5zM383.9 126.9h1.9v1.5h-1.9zM380.1 104.9h3.2v1.5h-3.2zM381.8 137.5h1.5v1.3h-1.5zM381.7 100.2h3.0v1.2h-3.0zM379.1 113.8h2.5v1.2h-2.5zM383.3 130.6h2.1v1.0h-2.1zM381.6 108.1h2.4v1.5h-2.4zM384.3 110.8h1.7v1.2h-1.7zM446.6 131.5h2.4v1.2h-2.4zM511.4 115.0h3.8v1.1h-3.8zM512.4 113.9h1.9v0.9h-1.9zM510.6 105.6h3.7v1.1h-3.7zM512.1 127.0h2.7v1.0h-2.7zM511.4 127.4h1.0v1.4h-1.0zM570.7 140.1h1.8v1.3h-1.8zM564.3 132.2h4.4v1.4h-4.4zM563.9 138.8h3.4v1.1h-3.4zM564.7 133.9h4.2v1.4h-4.2zM619.2 142.6h4.6v1.3h-4.6zM619.6 139.7h3.6v1.4h-3.6zM620.8 136.3h1.6v1.4h-1.6z"/><path fill="none" stroke="#2f9cdc" stroke-width="1.5" stroke-linecap="round" d="M610.6 124.7L616.1 128.5"/><path fill="#34addc" d="M301.8 127.0h1.7v1.5h-1.7zM299.9 138.1h2.5v1.4h-2.5zM301.0 138.0h1.2v1.4h-1.2zM380.8 119.2h1.9v1.3h-1.9zM514.3 124.8h1.7v1.2h-1.7zM511.3 135.1h2.0v1.6h-2.0zM565.9 143.6h4.7v1.0h-4.7zM567.1 141.1h6.3v1.4h-6.3zM561.3 138.8h4.7v1.4h-4.7zM620.9 133.0h2.2v1.1h-2.2zM624.0 140.5h3.5v1.0h-3.5z"/><ellipse cx="484.3" cy="130.0" rx="1.6" ry="2.8" fill="#34addc"/><path fill="none" stroke="#34addc" stroke-width="1.5" stroke-linecap="round" d="M569.7 124.3L573.3 126.9M623.5 124.7L627.2 127.2"/><path fill="#39bedc" d="M300.1 137.9h2.5v1.4h-2.5zM512.0 112.5h3.3v1.2h-3.3zM510.6 126.6h3.7v1.2h-3.7zM564.1 131.6h2.1v1.4h-2.1zM564.8 138.8h3.2v1.5h-3.2zM559.7 140.0h2.9v1.4h-2.9zM621.4 137.1h3.2v1.1h-3.2zM619.2 139.5h1.5v1.4h-1.5zM615.4 136.1h3.8v1.4h-3.8z"/><path fill="none" stroke="#39bedc" stroke-width="1.5" stroke-linecap="round" d="M564.6 124.3L567.8 126.5M617.8 124.7L622.3 127.8"/><path fill="#46c9cf" d="M303.1 138.3h1.6v1.4h-1.6zM378.4 114.9h3.5v1.2h-3.5zM381.3 121.7h2.9v1.4h-2.9zM511.3 132.4h2.8v1.5h-2.8zM513.0 128.8h1.2v1.4h-1.2zM512.2 129.1h1.3v1.4h-1.3zM511.9 127.7h1.7v1.4h-1.7zM557.3 142.7h3.2v1.4h-3.2zM566.6 138.9h3.5v1.4h-3.5zM565.3 138.9h4.7v1.4h-4.7zM623.6 136.8h4.9v1.0h-4.9zM620.2 130.1h4.8v1.0h-4.8z"/><path fill="none" stroke="#46c9cf" stroke-width="1.5" stroke-linecap="round" d="M378 133Q386 128 394 133"/><path fill="#60ceb0" d="M301.2 137.9h2.0v1.6h-2.0zM301.3 139.0h2.2v1.4h-2.2zM301.6 138.7h2.5v1.4h-2.5zM512.2 128.5h2.2v1.4h-2.2zM512.5 127.9h1.7v1.4h-1.7zM512.4 128.1h1.1v1.4h-1.1zM558.2 139.7h6.4v1.4h-6.4zM564.2 134.6h3.9v1.4h-3.9zM564.5 133.6h1.8v1.4h-1.8zM559.6 133.8h1.1v1.4h-1.1zM558.9 134.9h3.7v1.4h-3.7zM621.0 134.7h2.0v1.4h-2.0zM618.4 134.4h4.4v1.4h-4.4zM615.1 134.9h5.0v1.4h-5.0z"/><path fill="none" stroke="#60ceb0" stroke-width="1.5" stroke-linecap="round" d="M558.3 128.6L561.7 131.0M562.8 128.6L567.7 132.0M569.9 128.6L573.2 130.9M611.0 128.9L614.3 131.2M623.0 128.9L627.2 131.9"/><path fill="#7ad391" d="M301.6 137.6h2.0v1.4h-2.0zM302.0 137.7h2.7v1.4h-2.7zM300.8 141.0h2.6v1.4h-2.6zM300.5 141.9h1.4v1.4h-1.4zM558.3 133.7h4.3v1.4h-4.3zM565.0 134.8h1.8v1.4h-1.8zM620.1 141.2h3.1v1.4h-3.1zM621.6 135.5h2.5v1.4h-2.5z"/><path fill="none" stroke="#7ad391" stroke-width="1.5" stroke-linecap="round" d="M615.8 128.9L619.7 131.6"/><path fill="none" stroke="#7ad391" stroke-width="2.0" stroke-linecap="round" d="M623.9 132.7L628.6 135.9"/><path fill="#95d872" d="M301.9 138.7h1.7v1.4h-1.7zM561.4 131.5h3.8v1.6h-3.8zM559.3 133.7h3.5v1.4h-3.5zM563.4 134.1h4.8v1.4h-4.8zM618.6 140.6h5.5v1.4h-5.5zM615.0 135.1h5.0v1.4h-5.0zM616.8 134.7h3.3v1.4h-3.3zM616.9 136.0h4.9v1.4h-4.9z"/><path fill="none" stroke="#95d872" stroke-width="2.0" stroke-linecap="round" d="M616.7 132.7L620.7 135.5"/><path fill="#aedb57" d="M301.5 138.3h2.5v1.4h-2.5zM563.4 134.9h3.5v1.4h-3.5zM561.5 133.5h1.2v1.4h-1.2zM559.4 134.8h4.8v1.4h-4.8zM616.4 139.8h1.0v1.4h-1.0zM620.8 134.9h1.5v1.4h-1.5zM618.2 134.8h1.2v1.4h-1.2zM616.5 135.8h5.1v1.4h-5.1zM617.9 135.4h4.2v1.4h-4.2zM619.8 135.7h3.2v1.4h-3.2z"/><path fill="none" stroke="#aedb57" stroke-width="1.5" stroke-linecap="round" d="M378 138.5Q386 133.5 394 138.5"/><path fill="#c6da48" d="M300.7 142.2h2.4v1.4h-2.4zM563.5 136.5h4.7v1.1h-4.7zM562.7 139.1h4.0v1.4h-4.0zM562.5 134.1h5.0v1.4h-5.0zM614.5 141.4h2.2v1.4h-2.2zM615.8 141.8h4.1v1.4h-4.1zM620.0 134.6h4.3v1.4h-4.3z"/><path fill="none" stroke="#c6da48" stroke-width="2.0" stroke-linecap="round" d="M610.9 132.7L614.4 135.1"/><path fill="#ded839" d="M563.0 139.1h4.5v1.4h-4.5zM567.7 140.7h3.8v1.4h-3.8zM566.4 139.4h3.9v1.4h-3.9zM559.2 134.1h3.4v1.4h-3.4zM563.5 134.5h1.8v1.4h-1.8zM561.8 134.4h5.5v1.4h-5.5zM561.0 133.7h2.8v1.4h-2.8zM615.4 141.8h2.7v1.4h-2.7zM614.6 141.7h5.0v1.4h-5.0zM615.6 139.7h3.7v1.4h-3.7zM619.2 141.2h2.8v1.4h-2.8zM617.5 135.3h4.1v1.4h-4.1zM616.2 135.4h4.1v1.4h-4.1z"/><path fill="none" stroke="#ded839" stroke-width="2.0" stroke-linecap="round" d="M569.6 132.8L575.0 136.6M556.9 136.2L562.1 139.7M568.5 136.2L571.8 138.5M617.6 136.2L622.0 139.1M625.1 136.2L629.7 139.3"/><path fill="#f6d72a" d="M302.5 141.5h1.3v1.4h-1.3zM562.7 139.4h3.6v1.4h-3.6zM563.1 134.8h1.1v1.4h-1.1zM616.1 141.8h4.6v1.4h-4.6zM618.6 135.5h5.0v1.4h-5.0zM617.5 135.5h3.6v1.4h-3.6z"/><path fill="none" stroke="#f6d72a" stroke-width="2.0" stroke-linecap="round" d="M557.5 132.8L560.9 135.1M563.2 132.8L566.8 135.3M610.8 136.2L615.9 139.7M610.0 140.1L614.3 143.1"/><path fill="#f7be25" d="M303.2 142.0h1.2v1.4h-1.2zM565.6 139.4h1.4v1.4h-1.4zM565.7 140.9h3.4v1.4h-3.4zM566.7 139.8h2.4v1.4h-2.4zM566.1 140.0h5.3v1.4h-5.3zM561.2 134.2h4.9v1.4h-4.9zM615.1 140.0h4.7v1.4h-4.7zM619.2 135.1h1.7v1.4h-1.7z"/><path fill="#f4a122" d="M562.1 140.6h2.8v1.4h-2.8zM566.2 140.5h4.6v1.4h-4.6zM566.9 139.3h1.2v1.4h-1.2zM563.0 139.4h3.4v1.4h-3.4zM563.5 140.9h3.1v1.4h-3.1zM615.2 141.5h5.3v1.4h-5.3zM615.0 141.1h4.0v1.4h-4.0z"/><path fill="none" stroke="#f4a122" stroke-width="2.0" stroke-linecap="round" d="M563.9 136.2L567.5 138.6M616.7 140.1L621.5 143.4"/><path fill="#f28520" d="M565.0 140.6h5.7v1.4h-5.7zM567.9 140.8h1.3v1.4h-1.3zM566.1 139.3h1.8v1.4h-1.8zM566.9 139.9h1.8v1.4h-1.8zM566.3 139.9h3.0v1.4h-3.0zM561.3 140.2h4.8v1.4h-4.8zM615.8 141.1h4.1v1.4h-4.1zM615.5 141.2h3.5v1.4h-3.5z"/><path fill="none" stroke="#f28520" stroke-width="2.0" stroke-linecap="round" d="M622.9 140.1L626.8 142.8"/><path fill="#ee6a1d" d="M616.4 140.9h1.1v1.4h-1.1zM618.9 140.8h2.1v1.4h-2.1zM616.3 140.8h5.0v1.4h-5.0z"/><path fill="#e4571b" d="M383.0 142.0h10.0v1.7h-10.0zM563.6 139.8h2.6v1.4h-2.6zM563.8 140.5h2.0v1.4h-2.0zM565.6 140.9h2.9v1.4h-2.9z"/><path fill="none" stroke="#e4571b" stroke-width="2.0" stroke-linecap="round" d="M556.6 140.5L561.9 144.1M563.4 140.5L567.4 143.2M568.7 140.5L573.1 143.5"/><path fill="#d13116" d="M565.1 140.0h3.2v1.4h-3.2zM615.3 140.8h4.1v1.4h-4.1z"/></g><line x1="375.70" y1="150.90" x2="395.00" y2="150.90" stroke="#ef5a32" stroke-width="1.8" /><line x1="555.50" y1="150.90" x2="575.60" y2="150.90" stroke="#ef5a32" stroke-width="1.8" /><line x1="609.50" y1="150.90" x2="630.00" y2="150.90" stroke="#ef5a32" stroke-width="1.8" /><text x="468.50" y="164.20" font-size="11.25" text-anchor="middle" font-weight="bold" fill="#ef5a32" >Female calls</text><line x1="611.00" y1="157.30" x2="662.50" y2="157.30" stroke="#111" stroke-width="1.4" /><text x="638.30" y="170.00" font-size="11.1" text-anchor="middle" font-weight="normal" fill="#333333" >200 ms</text><line x1="50.80" y1="208.70" x2="50.80" y2="348.90" stroke="#2b2b2b" stroke-width="1.3" /><line x1="50.20" y1="348.40" x2="151.80" y2="348.40" stroke="#2b2b2b" stroke-width="1.3" /><line x1="50.80" y1="348.40" x2="53.00" y2="348.40" stroke="#2b2b2b" stroke-width="1.1" /><line x1="50.80" y1="334.43" x2="53.00" y2="334.43" stroke="#2b2b2b" stroke-width="1.1" /><line x1="50.80" y1="320.46" x2="53.00" y2="320.46" stroke="#2b2b2b" stroke-width="1.1" /><line x1="50.80" y1="306.49" x2="53.00" y2="306.49" stroke="#2b2b2b" stroke-width="1.1" /><line x1="50.80" y1="292.52" x2="53.00" y2="292.52" stroke="#2b2b2b" stroke-width="1.1" /><line x1="50.80" y1="278.55" x2="53.00" y2="278.55" stroke="#2b2b2b" stroke-width="1.1" /><line x1="50.80" y1="264.58" x2="53.00" y2="264.58" stroke="#2b2b2b" stroke-width="1.1" /><line x1="50.80" y1="250.61" x2="53.00" y2="250.61" stroke="#2b2b2b" stroke-width="1.1" /><line x1="50.80" y1="236.64" x2="53.00" y2="236.64" stroke="#2b2b2b" stroke-width="1.1" /><line x1="50.80" y1="222.67" x2="53.00" y2="222.67" stroke="#2b2b2b" stroke-width="1.1" /><line x1="50.80" y1="208.70" x2="53.00" y2="208.70" stroke="#2b2b2b" stroke-width="1.1" /><text x="39.20" y="353.80" font-size="11.9" text-anchor="middle" font-weight="normal" fill="#333333" >0</text><text x="39.20" y="325.86" font-size="11.9" text-anchor="middle" font-weight="normal" fill="#333333" >0.2</text><text x="39.20" y="297.92" font-size="11.9" text-anchor="middle" font-weight="normal" fill="#333333" >0.4</text><text x="39.20" y="269.98" font-size="11.9" text-anchor="middle" font-weight="normal" fill="#333333" >0.6</text><text x="39.20" y="242.04" font-size="11.9" text-anchor="middle" font-weight="normal" fill="#333333" >0.8</text><text x="39.20" y="214.10" font-size="11.9" text-anchor="middle" font-weight="normal" fill="#333333" >1</text><line x1="73.35" y1="348.40" x2="73.35" y2="346.60" stroke="#2b2b2b" stroke-width="1.0" /><line x1="95.90" y1="348.40" x2="95.90" y2="346.60" stroke="#2b2b2b" stroke-width="1.0" /><line x1="118.45" y1="348.40" x2="118.45" y2="346.60" stroke="#2b2b2b" stroke-width="1.0" /><line x1="141.00" y1="348.40" x2="141.00" y2="346.60" stroke="#2b2b2b" stroke-width="1.0" /><text x="50.80" y="360.10" font-size="11.9" text-anchor="middle" font-weight="normal" fill="#333333" >50</text><text x="73.35" y="360.10" font-size="11.9" text-anchor="middle" font-weight="normal" fill="#333333" >60</text><text x="95.90" y="360.10" font-size="11.9" text-anchor="middle" font-weight="normal" fill="#333333" >70</text><text x="118.45" y="360.10" font-size="11.9" text-anchor="middle" font-weight="normal" fill="#333333" >80</text><text x="141.00" y="360.10" font-size="11.9" text-anchor="middle" font-weight="normal" fill="#333333" >90</text><text x="99.60" y="374.40" font-size="11.2" text-anchor="middle" font-weight="normal" fill="#333333" >Days post hatch</text><text x="62.10" y="197.30" font-size="11.2" text-anchor="start" font-weight="bold" fill="#2a2a2a" >Juvenile 1 (73.11%)</text><text x="99.10" y="220.20" font-size="15" text-anchor="middle" font-weight="normal" fill="#2a2a2a" >*</text><circle cx="75.20" cy="342.50" r="2.45" fill="#aa8bbf"/><circle cx="79.30" cy="342.90" r="2.45" fill="#aa8bbf"/><circle cx="84.00" cy="344.30" r="2.45" fill="#aa8bbf"/><circle cx="90.90" cy="339.40" r="2.45" fill="#aa8bbf"/><circle cx="97.30" cy="314.70" r="2.45" fill="#aa8bbf"/><circle cx="101.70" cy="336.20" r="2.45" fill="#aa8bbf"/><circle cx="106.70" cy="339.20" r="2.45" fill="#aa8bbf"/><circle cx="113.20" cy="346.20" r="2.45" fill="#aa8bbf"/><circle cx="119.70" cy="329.60" r="2.45" fill="#aa8bbf"/><circle cx="124.40" cy="317.60" r="2.45" fill="#aa8bbf"/><circle cx="128.90" cy="336.20" r="2.45" fill="#aa8bbf"/><circle cx="135.70" cy="321.50" r="2.45" fill="#aa8bbf"/><circle cx="142.20" cy="301.00" r="2.45" fill="#aa8bbf"/><path d="M74.80 332.70 C79.00 331.75 92.47 329.45 100.00 327.00 C107.53 324.55 112.97 321.50 120.00 318.00 C127.03 314.50 138.50 308.00 142.20 306.00" fill="none" stroke="#222" stroke-width="1.3" stroke-dasharray="1.3 4.2"/><path d="M93.60 346.00 C96.33 345.33 104.77 343.50 110.00 342.00 C115.23 340.50 119.57 339.00 125.00 337.00 C130.43 335.00 139.67 331.17 142.60 330.00" fill="none" stroke="#222" stroke-width="1.3" stroke-dasharray="1.3 4.2"/><line x1="75.20" y1="345.00" x2="142.60" y2="317.00" stroke="#222" stroke-width="1.2" /><line x1="178.20" y1="208.50" x2="178.20" y2="348.70" stroke="#2b2b2b" stroke-width="1.3" /><line x1="177.60" y1="348.20" x2="279.20" y2="348.20" stroke="#2b2b2b" stroke-width="1.3" /><line x1="178.20" y1="348.20" x2="180.40" y2="348.20" stroke="#2b2b2b" stroke-width="1.1" /><line x1="178.20" y1="334.23" x2="180.40" y2="334.23" stroke="#2b2b2b" stroke-width="1.1" /><line x1="178.20" y1="320.26" x2="180.40" y2="320.26" stroke="#2b2b2b" stroke-width="1.1" /><line x1="178.20" y1="306.29" x2="180.40" y2="306.29" stroke="#2b2b2b" stroke-width="1.1" /><line x1="178.20" y1="292.32" x2="180.40" y2="292.32" stroke="#2b2b2b" stroke-width="1.1" /><line x1="178.20" y1="278.35" x2="180.40" y2="278.35" stroke="#2b2b2b" stroke-width="1.1" /><line x1="178.20" y1="264.38" x2="180.40" y2="264.38" stroke="#2b2b2b" stroke-width="1.1" /><line x1="178.20" y1="250.41" x2="180.40" y2="250.41" stroke="#2b2b2b" stroke-width="1.1" /><line x1="178.20" y1="236.44" x2="180.40" y2="236.44" stroke="#2b2b2b" stroke-width="1.1" /><line x1="178.20" y1="222.47" x2="180.40" y2="222.47" stroke="#2b2b2b" stroke-width="1.1" /><line x1="178.20" y1="208.50" x2="180.40" y2="208.50" stroke="#2b2b2b" stroke-width="1.1" /><text x="166.60" y="353.60" font-size="11.9" text-anchor="middle" font-weight="normal" fill="#333333" >0</text><text x="166.60" y="325.66" font-size="11.9" text-anchor="middle" font-weight="normal" fill="#333333" >0.2</text><text x="166.60" y="297.72" font-size="11.9" text-anchor="middle" font-weight="normal" fill="#333333" >0.4</text><text x="166.60" y="269.78" font-size="11.9" text-anchor="middle" font-weight="normal" fill="#333333" >0.6</text><text x="166.60" y="241.84" font-size="11.9" text-anchor="middle" font-weight="normal" fill="#333333" >0.8</text><text x="166.60" y="213.90" font-size="11.9" text-anchor="middle" font-weight="normal" fill="#333333" >1</text><line x1="200.75" y1="348.20" x2="200.75" y2="346.40" stroke="#2b2b2b" stroke-width="1.0" /><line x1="223.30" y1="348.20" x2="223.30" y2="346.40" stroke="#2b2b2b" stroke-width="1.0" /><line x1="245.85" y1="348.20" x2="245.85" y2="346.40" stroke="#2b2b2b" stroke-width="1.0" /><line x1="268.40" y1="348.20" x2="268.40" y2="346.40" stroke="#2b2b2b" stroke-width="1.0" /><text x="178.20" y="359.90" font-size="11.9" text-anchor="middle" font-weight="normal" fill="#333333" >50</text><text x="200.75" y="359.90" font-size="11.9" text-anchor="middle" font-weight="normal" fill="#333333" >60</text><text x="223.30" y="359.90" font-size="11.9" text-anchor="middle" font-weight="normal" fill="#333333" >70</text><text x="245.85" y="359.90" font-size="11.9" text-anchor="middle" font-weight="normal" fill="#333333" >80</text><text x="268.40" y="359.90" font-size="11.9" text-anchor="middle" font-weight="normal" fill="#333333" >90</text><text x="224.30" y="374.20" font-size="11.2" text-anchor="middle" font-weight="normal" fill="#333333" >Days post hatch</text><text x="179.70" y="197.30" font-size="11.2" text-anchor="start" font-weight="bold" fill="#2a2a2a" >Juvenile 2 (51.89%)</text><text x="228.30" y="219.90" font-size="15" text-anchor="middle" font-weight="normal" fill="#2a2a2a" >*</text><circle cx="177.60" cy="347.80" r="2.45" fill="#886e98"/><circle cx="182.30" cy="345.40" r="2.45" fill="#886e98"/><circle cx="188.80" cy="344.80" r="2.45" fill="#886e98"/><circle cx="193.50" cy="332.70" r="2.45" fill="#886e98"/><circle cx="200.20" cy="327.40" r="2.45" fill="#886e98"/><circle cx="204.70" cy="322.30" r="2.45" fill="#886e98"/><circle cx="211.50" cy="326.80" r="2.45" fill="#886e98"/><circle cx="216.00" cy="326.00" r="2.45" fill="#886e98"/><circle cx="222.70" cy="336.60" r="2.45" fill="#886e98"/><circle cx="227.20" cy="337.40" r="2.45" fill="#886e98"/><circle cx="234.00" cy="333.10" r="2.45" fill="#886e98"/><circle cx="238.70" cy="315.10" r="2.45" fill="#886e98"/><circle cx="245.20" cy="320.00" r="2.45" fill="#886e98"/><circle cx="249.70" cy="333.10" r="2.45" fill="#886e98"/><circle cx="256.40" cy="327.80" r="2.45" fill="#886e98"/><circle cx="260.90" cy="328.60" r="2.45" fill="#886e98"/><circle cx="272.20" cy="326.00" r="2.45" fill="#886e98"/><path d="M178.20 331.90 C183.50 330.92 199.70 327.90 210.00 326.00 C220.30 324.10 229.63 322.42 240.00 320.50 C250.37 318.58 266.83 315.50 272.20 314.50" fill="none" stroke="#222" stroke-width="1.3" stroke-dasharray="1.3 4.2"/><path d="M189.40 344.20 C193.67 343.42 205.73 341.12 215.00 339.50 C224.27 337.88 235.47 336.18 245.00 334.50 C254.53 332.82 267.67 330.25 272.20 329.40" fill="none" stroke="#222" stroke-width="1.3" stroke-dasharray="1.3 4.2"/><line x1="177.60" y1="339.00" x2="272.20" y2="322.30" stroke="#222" stroke-width="1.2" /><line x1="306.70" y1="207.40" x2="306.70" y2="347.90" stroke="#2b2b2b" stroke-width="1.3" /><line x1="306.10" y1="347.40" x2="407.70" y2="347.40" stroke="#2b2b2b" stroke-width="1.3" /><line x1="306.70" y1="347.40" x2="308.90" y2="347.40" stroke="#2b2b2b" stroke-width="1.1" /><line x1="306.70" y1="333.40" x2="308.90" y2="333.40" stroke="#2b2b2b" stroke-width="1.1" /><line x1="306.70" y1="319.40" x2="308.90" y2="319.40" stroke="#2b2b2b" stroke-width="1.1" /><line x1="306.70" y1="305.40" x2="308.90" y2="305.40" stroke="#2b2b2b" stroke-width="1.1" /><line x1="306.70" y1="291.40" x2="308.90" y2="291.40" stroke="#2b2b2b" stroke-width="1.1" /><line x1="306.70" y1="277.40" x2="308.90" y2="277.40" stroke="#2b2b2b" stroke-width="1.1" /><line x1="306.70" y1="263.40" x2="308.90" y2="263.40" stroke="#2b2b2b" stroke-width="1.1" /><line x1="306.70" y1="249.40" x2="308.90" y2="249.40" stroke="#2b2b2b" stroke-width="1.1" /><line x1="306.70" y1="235.40" x2="308.90" y2="235.40" stroke="#2b2b2b" stroke-width="1.1" /><line x1="306.70" y1="221.40" x2="308.90" y2="221.40" stroke="#2b2b2b" stroke-width="1.1" /><line x1="306.70" y1="207.40" x2="308.90" y2="207.40" stroke="#2b2b2b" stroke-width="1.1" /><text x="295.10" y="352.80" font-size="11.9" text-anchor="middle" font-weight="normal" fill="#333333" >0</text><text x="295.10" y="324.80" font-size="11.9" text-anchor="middle" font-weight="normal" fill="#333333" >0.2</text><text x="295.10" y="296.80" font-size="11.9" text-anchor="middle" font-weight="normal" fill="#333333" >0.4</text><text x="295.10" y="268.80" font-size="11.9" text-anchor="middle" font-weight="normal" fill="#333333" >0.6</text><text x="295.10" y="240.80" font-size="11.9" text-anchor="middle" font-weight="normal" fill="#333333" >0.8</text><text x="295.10" y="212.80" font-size="11.9" text-anchor="middle" font-weight="normal" fill="#333333" >1</text><line x1="329.25" y1="347.40" x2="329.25" y2="345.60" stroke="#2b2b2b" stroke-width="1.0" /><line x1="351.80" y1="347.40" x2="351.80" y2="345.60" stroke="#2b2b2b" stroke-width="1.0" /><line x1="374.35" y1="347.40" x2="374.35" y2="345.60" stroke="#2b2b2b" stroke-width="1.0" /><line x1="396.90" y1="347.40" x2="396.90" y2="345.60" stroke="#2b2b2b" stroke-width="1.0" /><text x="306.70" y="359.10" font-size="11.9" text-anchor="middle" font-weight="normal" fill="#333333" >50</text><text x="329.25" y="359.10" font-size="11.9" text-anchor="middle" font-weight="normal" fill="#333333" >60</text><text x="351.80" y="359.10" font-size="11.9" text-anchor="middle" font-weight="normal" fill="#333333" >70</text><text x="374.35" y="359.10" font-size="11.9" text-anchor="middle" font-weight="normal" fill="#333333" >80</text><text x="396.90" y="359.10" font-size="11.9" text-anchor="middle" font-weight="normal" fill="#333333" >90</text><text x="354.50" y="373.40" font-size="11.2" text-anchor="middle" font-weight="normal" fill="#333333" >Days post hatch</text><text x="306.30" y="197.30" font-size="11.2" text-anchor="start" font-weight="bold" fill="#2a2a2a" >Juvenile 3 (42.33%)</text><text x="358.00" y="219.30" font-size="15" text-anchor="middle" font-weight="normal" fill="#2a2a2a" >*</text><circle cx="315.60" cy="301.30" r="2.45" fill="#953f8a"/><circle cx="320.30" cy="312.00" r="2.45" fill="#953f8a"/><circle cx="324.60" cy="304.20" r="2.45" fill="#953f8a"/><circle cx="338.30" cy="330.60" r="2.45" fill="#953f8a"/><circle cx="342.80" cy="325.90" r="2.45" fill="#953f8a"/><circle cx="347.10" cy="301.70" r="2.45" fill="#953f8a"/><circle cx="354.10" cy="272.80" r="2.45" fill="#953f8a"/><circle cx="369.80" cy="282.50" r="2.45" fill="#953f8a"/><circle cx="376.40" cy="278.60" r="2.45" fill="#953f8a"/><circle cx="383.30" cy="265.50" r="2.45" fill="#953f8a"/><circle cx="392.20" cy="226.30" r="2.45" fill="#953f8a"/><circle cx="399.10" cy="305.40" r="2.45" fill="#953f8a"/><path d="M316.00 289.80 C319.17 289.00 328.87 287.03 335.00 285.00 C341.13 282.97 346.13 281.60 352.80 277.60 C359.47 273.60 367.62 267.43 375.00 261.00 C382.38 254.57 393.42 242.67 397.10 239.00" fill="none" stroke="#222" stroke-width="1.3" stroke-dasharray="1.3 4.2"/><path d="M316.00 344.10 C319.17 340.08 328.87 327.33 335.00 320.00 C341.13 312.67 346.13 303.93 352.80 300.10 C359.47 296.27 367.62 298.03 375.00 297.00 C382.38 295.97 393.42 294.42 397.10 293.90" fill="none" stroke="#222" stroke-width="1.3" stroke-dasharray="1.3 4.2"/><line x1="316.00" y1="316.90" x2="399.30" y2="265.30" stroke="#222" stroke-width="1.2" /><line x1="438.00" y1="207.40" x2="438.00" y2="348.50" stroke="#2b2b2b" stroke-width="1.3" /><line x1="437.40" y1="348.00" x2="539.00" y2="348.00" stroke="#2b2b2b" stroke-width="1.3" /><line x1="438.00" y1="348.00" x2="440.20" y2="348.00" stroke="#2b2b2b" stroke-width="1.1" /><line x1="438.00" y1="333.94" x2="440.20" y2="333.94" stroke="#2b2b2b" stroke-width="1.1" /><line x1="438.00" y1="319.88" x2="440.20" y2="319.88" stroke="#2b2b2b" stroke-width="1.1" /><line x1="438.00" y1="305.82" x2="440.20" y2="305.82" stroke="#2b2b2b" stroke-width="1.1" /><line x1="438.00" y1="291.76" x2="440.20" y2="291.76" stroke="#2b2b2b" stroke-width="1.1" /><line x1="438.00" y1="277.70" x2="440.20" y2="277.70" stroke="#2b2b2b" stroke-width="1.1" /><line x1="438.00" y1="263.64" x2="440.20" y2="263.64" stroke="#2b2b2b" stroke-width="1.1" /><line x1="438.00" y1="249.58" x2="440.20" y2="249.58" stroke="#2b2b2b" stroke-width="1.1" /><line x1="438.00" y1="235.52" x2="440.20" y2="235.52" stroke="#2b2b2b" stroke-width="1.1" /><line x1="438.00" y1="221.46" x2="440.20" y2="221.46" stroke="#2b2b2b" stroke-width="1.1" /><line x1="438.00" y1="207.40" x2="440.20" y2="207.40" stroke="#2b2b2b" stroke-width="1.1" /><text x="426.40" y="353.40" font-size="11.9" text-anchor="middle" font-weight="normal" fill="#333333" >0</text><text x="426.40" y="325.28" font-size="11.9" text-anchor="middle" font-weight="normal" fill="#333333" >0.2</text><text x="426.40" y="297.16" font-size="11.9" text-anchor="middle" font-weight="normal" fill="#333333" >0.4</text><text x="426.40" y="269.04" font-size="11.9" text-anchor="middle" font-weight="normal" fill="#333333" >0.6</text><text x="426.40" y="240.92" font-size="11.9" text-anchor="middle" font-weight="normal" fill="#333333" >0.8</text><text x="426.40" y="212.80" font-size="11.9" text-anchor="middle" font-weight="normal" fill="#333333" >1</text><line x1="460.55" y1="348.00" x2="460.55" y2="346.20" stroke="#2b2b2b" stroke-width="1.0" /><line x1="483.10" y1="348.00" x2="483.10" y2="346.20" stroke="#2b2b2b" stroke-width="1.0" /><line x1="505.65" y1="348.00" x2="505.65" y2="346.20" stroke="#2b2b2b" stroke-width="1.0" /><line x1="528.20" y1="348.00" x2="528.20" y2="346.20" stroke="#2b2b2b" stroke-width="1.0" /><text x="438.00" y="359.70" font-size="11.9" text-anchor="middle" font-weight="normal" fill="#333333" >50</text><text x="460.55" y="359.70" font-size="11.9" text-anchor="middle" font-weight="normal" fill="#333333" >60</text><text x="483.10" y="359.70" font-size="11.9" text-anchor="middle" font-weight="normal" fill="#333333" >70</text><text x="505.65" y="359.70" font-size="11.9" text-anchor="middle" font-weight="normal" fill="#333333" >80</text><text x="528.20" y="359.70" font-size="11.9" text-anchor="middle" font-weight="normal" fill="#333333" >90</text><text x="487.00" y="374.00" font-size="11.2" text-anchor="middle" font-weight="normal" fill="#333333" >Days post hatch</text><text x="439.50" y="197.30" font-size="11.2" text-anchor="start" font-weight="bold" fill="#2a2a2a" >Juvenile 4 (19.44%)</text><text x="499.60" y="213.90" font-size="11.1" text-anchor="middle" font-weight="normal" fill="#333333" >n.s.</text><circle cx="442.30" cy="325.10" r="2.45" fill="#62448e"/><circle cx="446.80" cy="310.90" r="2.45" fill="#62448e"/><circle cx="451.50" cy="271.60" r="2.45" fill="#62448e"/><circle cx="458.10" cy="285.90" r="2.45" fill="#62448e"/><circle cx="464.80" cy="282.50" r="2.45" fill="#62448e"/><circle cx="469.30" cy="274.50" r="2.45" fill="#62448e"/><circle cx="473.80" cy="288.80" r="2.45" fill="#62448e"/><circle cx="480.40" cy="268.10" r="2.45" fill="#62448e"/><circle cx="487.10" cy="324.60" r="2.45" fill="#62448e"/><circle cx="491.60" cy="298.20" r="2.45" fill="#62448e"/><circle cx="496.10" cy="293.10" r="2.45" fill="#62448e"/><circle cx="502.90" cy="314.80" r="2.45" fill="#62448e"/><circle cx="509.30" cy="299.10" r="2.45" fill="#62448e"/><circle cx="514.00" cy="316.70" r="2.45" fill="#62448e"/><circle cx="518.50" cy="302.10" r="2.45" fill="#62448e"/><circle cx="529.70" cy="251.90" r="2.45" fill="#62448e"/><path d="M441.70 274.10 C445.08 275.25 455.15 279.53 462.00 281.00 C468.85 282.47 475.63 283.23 482.80 282.90 C489.97 282.57 497.12 281.67 505.00 279.00 C512.88 276.33 525.92 268.92 530.10 266.90" fill="none" stroke="#222" stroke-width="1.3" stroke-dasharray="1.3 4.2"/><path d="M441.70 319.10 C445.08 317.42 454.50 311.28 462.00 309.00 C469.50 306.72 479.53 305.57 486.70 305.40 C493.87 305.23 498.48 306.43 505.00 308.00 C511.52 309.57 522.33 313.67 525.80 314.80" fill="none" stroke="#222" stroke-width="1.3" stroke-dasharray="1.3 4.2"/><line x1="442.30" y1="296.60" x2="530.10" y2="291.50" stroke="#222" stroke-width="1.2" /><line x1="560.60" y1="208.50" x2="560.60" y2="348.50" stroke="#2b2b2b" stroke-width="1.3" /><line x1="560.00" y1="348.00" x2="661.60" y2="348.00" stroke="#2b2b2b" stroke-width="1.3" /><line x1="560.60" y1="348.00" x2="562.80" y2="348.00" stroke="#2b2b2b" stroke-width="1.1" /><line x1="560.60" y1="334.05" x2="562.80" y2="334.05" stroke="#2b2b2b" stroke-width="1.1" /><line x1="560.60" y1="320.10" x2="562.80" y2="320.10" stroke="#2b2b2b" stroke-width="1.1" /><line x1="560.60" y1="306.15" x2="562.80" y2="306.15" stroke="#2b2b2b" stroke-width="1.1" /><line x1="560.60" y1="292.20" x2="562.80" y2="292.20" stroke="#2b2b2b" stroke-width="1.1" /><line x1="560.60" y1="278.25" x2="562.80" y2="278.25" stroke="#2b2b2b" stroke-width="1.1" /><line x1="560.60" y1="264.30" x2="562.80" y2="264.30" stroke="#2b2b2b" stroke-width="1.1" /><line x1="560.60" y1="250.35" x2="562.80" y2="250.35" stroke="#2b2b2b" stroke-width="1.1" /><line x1="560.60" y1="236.40" x2="562.80" y2="236.40" stroke="#2b2b2b" stroke-width="1.1" /><line x1="560.60" y1="222.45" x2="562.80" y2="222.45" stroke="#2b2b2b" stroke-width="1.1" /><line x1="560.60" y1="208.50" x2="562.80" y2="208.50" stroke="#2b2b2b" stroke-width="1.1" /><text x="549.00" y="353.40" font-size="11.9" text-anchor="middle" font-weight="normal" fill="#333333" >0</text><text x="549.00" y="325.50" font-size="11.9" text-anchor="middle" font-weight="normal" fill="#333333" >0.2</text><text x="549.00" y="297.60" font-size="11.9" text-anchor="middle" font-weight="normal" fill="#333333" >0.4</text><text x="549.00" y="269.70" font-size="11.9" text-anchor="middle" font-weight="normal" fill="#333333" >0.6</text><text x="549.00" y="241.80" font-size="11.9" text-anchor="middle" font-weight="normal" fill="#333333" >0.8</text><text x="549.00" y="213.90" font-size="11.9" text-anchor="middle" font-weight="normal" fill="#333333" >1</text><line x1="583.15" y1="348.00" x2="583.15" y2="346.20" stroke="#2b2b2b" stroke-width="1.0" /><line x1="605.70" y1="348.00" x2="605.70" y2="346.20" stroke="#2b2b2b" stroke-width="1.0" /><line x1="628.25" y1="348.00" x2="628.25" y2="346.20" stroke="#2b2b2b" stroke-width="1.0" /><line x1="650.80" y1="348.00" x2="650.80" y2="346.20" stroke="#2b2b2b" stroke-width="1.0" /><text x="560.60" y="359.70" font-size="11.9" text-anchor="middle" font-weight="normal" fill="#333333" >50</text><text x="583.15" y="359.70" font-size="11.9" text-anchor="middle" font-weight="normal" fill="#333333" >60</text><text x="605.70" y="359.70" font-size="11.9" text-anchor="middle" font-weight="normal" fill="#333333" >70</text><text x="628.25" y="359.70" font-size="11.9" text-anchor="middle" font-weight="normal" fill="#333333" >80</text><text x="650.80" y="359.70" font-size="11.9" text-anchor="middle" font-weight="normal" fill="#333333" >90</text><text x="607.00" y="374.00" font-size="11.2" text-anchor="middle" font-weight="normal" fill="#333333" >Days post hatch</text><text x="566.60" y="197.30" font-size="11.2" text-anchor="start" font-weight="bold" fill="#2a2a2a" >Juvenile 5 (29.11%)</text><text x="617.40" y="213.90" font-size="11.1" text-anchor="middle" font-weight="normal" fill="#333333" >n.s.</text><circle cx="571.40" cy="332.20" r="2.45" fill="#9d5870"/><circle cx="575.90" cy="322.60" r="2.45" fill="#9d5870"/><circle cx="580.30" cy="326.10" r="2.45" fill="#9d5870"/><circle cx="587.10" cy="316.40" r="2.45" fill="#9d5870"/><circle cx="594.10" cy="323.10" r="2.45" fill="#9d5870"/><circle cx="598.40" cy="325.90" r="2.45" fill="#9d5870"/><circle cx="602.90" cy="331.70" r="2.45" fill="#9d5870"/><circle cx="609.90" cy="326.30" r="2.45" fill="#9d5870"/><circle cx="616.20" cy="327.50" r="2.45" fill="#9d5870"/><circle cx="621.00" cy="319.90" r="2.45" fill="#9d5870"/><circle cx="625.30" cy="322.90" r="2.45" fill="#9d5870"/><circle cx="632.20" cy="332.70" r="2.45" fill="#9d5870"/><circle cx="639.00" cy="328.50" r="2.45" fill="#9d5870"/><circle cx="643.40" cy="316.80" r="2.45" fill="#9d5870"/><circle cx="648.10" cy="325.70" r="2.45" fill="#9d5870"/><circle cx="654.80" cy="321.30" r="2.45" fill="#9d5870"/><path d="M571.40 320.80 C578.17 320.75 598.10 320.73 612.00 320.50 C625.90 320.27 647.67 319.58 654.80 319.40" fill="none" stroke="#222" stroke-width="1.3" stroke-dasharray="1.3 4.2"/><path d="M571.40 330.80 C578.17 330.67 598.33 330.30 612.00 330.00 C625.67 329.70 646.50 329.17 653.40 329.00" fill="none" stroke="#222" stroke-width="1.3" stroke-dasharray="1.3 4.2"/><line x1="571.40" y1="326.30" x2="654.80" y2="323.80" stroke="#222" stroke-width="1.2" /><text x="0.00" y="0.00" font-size="11.35" text-anchor="middle" font-weight="normal" fill="#333333" transform="translate(21.5,279.9) rotate(-90)">Female call ratio</text><line x1="41.00" y1="430.50" x2="41.00" y2="681.90" stroke="#2b2b2b" stroke-width="1.3" /><line x1="40.40" y1="681.30" x2="215.40" y2="681.30" stroke="#2b2b2b" stroke-width="1.3" /><line x1="41.00" y1="681.30" x2="43.30" y2="681.30" stroke="#2b2b2b" stroke-width="1.1" /><text x="37.40" y="685.50" font-size="11.9" text-anchor="end" font-weight="normal" fill="#333333" >10</text><line x1="41.00" y1="645.47" x2="43.30" y2="645.47" stroke="#2b2b2b" stroke-width="1.1" /><text x="37.40" y="649.67" font-size="11.9" text-anchor="end" font-weight="normal" fill="#333333" >20</text><line x1="41.00" y1="609.64" x2="43.30" y2="609.64" stroke="#2b2b2b" stroke-width="1.1" /><text x="37.40" y="613.84" font-size="11.9" text-anchor="end" font-weight="normal" fill="#333333" >30</text><line x1="41.00" y1="573.81" x2="43.30" y2="573.81" stroke="#2b2b2b" stroke-width="1.1" /><text x="37.40" y="578.01" font-size="11.9" text-anchor="end" font-weight="normal" fill="#333333" >40</text><line x1="41.00" y1="537.99" x2="43.30" y2="537.99" stroke="#2b2b2b" stroke-width="1.1" /><text x="37.40" y="542.19" font-size="11.9" text-anchor="end" font-weight="normal" fill="#333333" >50</text><line x1="41.00" y1="502.16" x2="43.30" y2="502.16" stroke="#2b2b2b" stroke-width="1.1" /><text x="37.40" y="506.36" font-size="11.9" text-anchor="end" font-weight="normal" fill="#333333" >60</text><line x1="41.00" y1="466.33" x2="43.30" y2="466.33" stroke="#2b2b2b" stroke-width="1.1" /><text x="37.40" y="470.53" font-size="11.9" text-anchor="end" font-weight="normal" fill="#333333" >70</text><line x1="41.00" y1="430.50" x2="43.30" y2="430.50" stroke="#2b2b2b" stroke-width="1.1" /><text x="37.40" y="434.70" font-size="11.9" text-anchor="end" font-weight="normal" fill="#333333" >80</text><text x="59.20" y="698.00" font-size="11.9" text-anchor="middle" font-weight="normal" fill="#333333" >1</text><text x="94.20" y="698.00" font-size="11.9" text-anchor="middle" font-weight="normal" fill="#333333" >2</text><text x="124.30" y="698.00" font-size="11.9" text-anchor="middle" font-weight="normal" fill="#333333" >3</text><text x="160.80" y="698.00" font-size="11.9" text-anchor="middle" font-weight="normal" fill="#333333" >4</text><text x="193.50" y="698.00" font-size="11.9" text-anchor="middle" font-weight="normal" fill="#333333" >5</text><text x="132.20" y="714.70" font-size="11.15" text-anchor="middle" font-weight="normal" fill="#333333" >Juvenile</text><text x="0.00" y="0.00" font-size="11.2" text-anchor="middle" font-weight="normal" fill="#333333" transform="translate(16.6,568.8) rotate(-90)">% Song Similarity</text><line x1="40.60" y1="571.20" x2="214.20" y2="571.20" stroke="#2a2a2a" stroke-width="1.7" stroke-dasharray="14 8.7"/><line x1="41.00" y1="601.80" x2="215.40" y2="601.80" stroke="#1e1e1e" stroke-width="1.5" /><text x="43.20" y="566.20" font-size="8.5" text-anchor="start" font-weight="normal" fill="#333333" >good learner</text><text x="43.60" y="583.20" font-size="8.5" text-anchor="start" font-weight="normal" fill="#333333" >bad learner</text><text x="48.70" y="612.20" font-size="8.5" text-anchor="start" font-weight="normal" fill="#333333" >mean untutored birds</text><line x1="63.10" y1="446.40" x2="63.10" y2="462.20" stroke="#222" stroke-width="1.7" /><line x1="61.50" y1="446.40" x2="64.70" y2="446.40" stroke="#222" stroke-width="1.6" /><line x1="61.50" y1="462.20" x2="64.70" y2="462.20" stroke="#222" stroke-width="1.6" /><circle cx="63.10" cy="454.50" r="4.1" fill="#aa8bbf"/><line x1="90.70" y1="520.80" x2="90.70" y2="540.30" stroke="#222" stroke-width="1.7" /><line x1="89.10" y1="520.80" x2="92.30" y2="520.80" stroke="#222" stroke-width="1.6" /><line x1="89.10" y1="540.30" x2="92.30" y2="540.30" stroke="#222" stroke-width="1.6" /><circle cx="90.70" cy="530.90" r="4.1" fill="#886e98"/><line x1="127.00" y1="548.70" x2="127.00" y2="581.60" stroke="#222" stroke-width="1.7" /><line x1="125.40" y1="548.70" x2="128.60" y2="548.70" stroke="#222" stroke-width="1.6" /><line x1="125.40" y1="581.60" x2="128.60" y2="581.60" stroke="#222" stroke-width="1.6" /><circle cx="127.00" cy="565.00" r="4.1" fill="#953f8a"/><line x1="163.50" y1="641.70" x2="163.50" y2="653.50" stroke="#222" stroke-width="1.7" /><line x1="161.90" y1="641.70" x2="165.10" y2="641.70" stroke="#222" stroke-width="1.6" /><line x1="161.90" y1="653.50" x2="165.10" y2="653.50" stroke="#222" stroke-width="1.6" /><circle cx="163.50" cy="647.80" r="4.1" fill="#62448e"/><line x1="199.85" y1="594.40" x2="199.85" y2="631.00" stroke="#222" stroke-width="1.7" /><line x1="198.25" y1="594.40" x2="201.45" y2="594.40" stroke="#222" stroke-width="1.6" /><line x1="198.25" y1="631.00" x2="201.45" y2="631.00" stroke="#222" stroke-width="1.6" /><circle cx="199.85" cy="612.85" r="4.1" fill="#9d5870"/><line x1="269.30" y1="430.30" x2="269.30" y2="682.10" stroke="#2b2b2b" stroke-width="1.3" /><line x1="268.70" y1="681.50" x2="442.00" y2="681.50" stroke="#2b2b2b" stroke-width="1.3" /><line x1="269.30" y1="681.50" x2="271.60" y2="681.50" stroke="#2b2b2b" stroke-width="1.1" /><line x1="269.30" y1="650.10" x2="271.60" y2="650.10" stroke="#2b2b2b" stroke-width="1.1" /><line x1="269.30" y1="618.70" x2="271.60" y2="618.70" stroke="#2b2b2b" stroke-width="1.1" /><line x1="269.30" y1="587.30" x2="271.60" y2="587.30" stroke="#2b2b2b" stroke-width="1.1" /><line x1="269.30" y1="555.90" x2="271.60" y2="555.90" stroke="#2b2b2b" stroke-width="1.1" /><line x1="269.30" y1="524.50" x2="271.60" y2="524.50" stroke="#2b2b2b" stroke-width="1.1" /><line x1="269.30" y1="493.10" x2="271.60" y2="493.10" stroke="#2b2b2b" stroke-width="1.1" /><line x1="269.30" y1="461.70" x2="271.60" y2="461.70" stroke="#2b2b2b" stroke-width="1.1" /><line x1="269.30" y1="430.30" x2="271.60" y2="430.30" stroke="#2b2b2b" stroke-width="1.1" /><text x="264.70" y="685.80" font-size="11.9" text-anchor="end" font-weight="normal" fill="#333333" >5</text><text x="264.70" y="623.00" font-size="11.9" text-anchor="end" font-weight="normal" fill="#333333" >6</text><text x="264.70" y="560.20" font-size="11.9" text-anchor="end" font-weight="normal" fill="#333333" >7</text><text x="264.70" y="497.40" font-size="11.9" text-anchor="end" font-weight="normal" fill="#333333" >8</text><text x="264.70" y="434.60" font-size="11.9" text-anchor="end" font-weight="normal" fill="#333333" >9</text><text x="294.20" y="698.60" font-size="11.9" text-anchor="middle" font-weight="normal" fill="#333333" >1</text><text x="329.60" y="698.60" font-size="11.9" text-anchor="middle" font-weight="normal" fill="#333333" >2</text><text x="360.10" y="698.60" font-size="11.9" text-anchor="middle" font-weight="normal" fill="#333333" >3</text><text x="395.40" y="698.60" font-size="11.9" text-anchor="middle" font-weight="normal" fill="#333333" >4</text><text x="429.10" y="698.60" font-size="11.9" text-anchor="middle" font-weight="normal" fill="#333333" >5</text><text x="367.50" y="714.90" font-size="11.15" text-anchor="middle" font-weight="normal" fill="#333333" >Juvenile</text><text x="0.00" y="0.00" font-size="11.55" text-anchor="middle" font-weight="normal" fill="#333333" transform="translate(248.4,556.6) rotate(-90)">Syllable rate (syll/sec)</text><line x1="269.30" y1="638.10" x2="442.00" y2="638.10" stroke="#2aaee2" stroke-width="1.3" /><text x="271.80" y="635.30" font-size="8.5" text-anchor="start" font-weight="normal" fill="#2aaee2" >Syllable rate of tutor song playback</text><line x1="293.60" y1="594.10" x2="293.60" y2="612.40" stroke="#222" stroke-width="1.1" /><line x1="292.40" y1="594.10" x2="294.80" y2="594.10" stroke="#222" stroke-width="1.1" /><line x1="292.40" y1="612.40" x2="294.80" y2="612.40" stroke="#222" stroke-width="1.1" /><circle cx="293.60" cy="603.40" r="4.0" fill="#aa8bbf"/><line x1="330.80" y1="559.40" x2="330.80" y2="571.60" stroke="#222" stroke-width="1.1" /><line x1="329.60" y1="559.40" x2="332.00" y2="559.40" stroke="#222" stroke-width="1.1" /><line x1="329.60" y1="571.60" x2="332.00" y2="571.60" stroke="#222" stroke-width="1.1" /><circle cx="330.80" cy="565.50" r="4.0" fill="#886e98"/><circle cx="363.00" cy="580.30" r="4.0" fill="#953f8a"/><line x1="388.50" y1="450.60" x2="388.50" y2="465.10" stroke="#222" stroke-width="1.1" /><line x1="387.30" y1="450.60" x2="389.70" y2="450.60" stroke="#222" stroke-width="1.1" /><line x1="387.30" y1="465.10" x2="389.70" y2="465.10" stroke="#222" stroke-width="1.1" /><circle cx="388.50" cy="458.30" r="4.0" fill="#62448e"/><line x1="428.20" y1="512.80" x2="428.20" y2="530.50" stroke="#222" stroke-width="1.1" /><line x1="427.00" y1="512.80" x2="429.40" y2="512.80" stroke="#222" stroke-width="1.1" /><line x1="427.00" y1="530.50" x2="429.40" y2="530.50" stroke="#222" stroke-width="1.1" /><circle cx="428.20" cy="521.80" r="4.0" fill="#9d5870"/><text x="578.40" y="404.60" font-size="11.1" text-anchor="middle" font-weight="normal" fill="#2aa4dc" >Tutor song</text><text x="666.50" y="400.00" font-size="11.1" text-anchor="middle" font-weight="normal" fill="#333333" >100 ms</text><line x1="661.30" y1="404.20" x2="684.50" y2="404.20" stroke="#111" stroke-width="1.4" /><text x="465.40" y="445.70" font-size="11.1" text-anchor="end" font-weight="normal" fill="#333333" >2 kHz</text><line x1="468.90" y1="434.00" x2="468.90" y2="445.70" stroke="#222" stroke-width="1.2" /><rect x="471.3" y="408.9" width="213.2" height="36.9" fill="#000"/><rect x="471.3" y="457.7" width="213.2" height="36.3" fill="#000"/><text x="586.00" y="455.40" font-size="11.2" text-anchor="middle" font-weight="normal" fill="#aa8bbf" >Juvenile 1</text><rect x="471.3" y="507.9" width="213.2" height="36.1" fill="#000"/><text x="586.00" y="505.60" font-size="11.2" text-anchor="middle" font-weight="normal" fill="#886e98" >Juvenile 2</text><rect x="471.3" y="557.3" width="213.2" height="36.3" fill="#000"/><text x="586.00" y="555.00" font-size="11.2" text-anchor="middle" font-weight="normal" fill="#953f8a" >Juvenile 3</text><rect x="471.3" y="605.8" width="213.2" height="36.1" fill="#000"/><text x="586.00" y="603.50" font-size="11.2" text-anchor="middle" font-weight="normal" fill="#62448e" >Juvenile 4</text><rect x="471.3" y="654.8" width="213.2" height="36.9" fill="#000"/><text x="586.00" y="652.50" font-size="11.2" text-anchor="middle" font-weight="normal" fill="#9d5870" >Juvenile 5</text><clipPath id="cf0"><rect x="471.3" y="408.9" width="213.2" height="36.9"/></clipPath><g clip-path="url(#cf0)" filter="url(#sb)"><path fill="#113093" d="M485.8 417.3h2.8v1.0h-2.8zM493.8 419.8h4.2v1.0h-4.2zM487.0 422.7h2.6v0.8h-2.6zM525.3 442.7h4.7v1.2h-4.7zM566.2 436.9h2.6v1.0h-2.6zM595.6 413.0h3.5v1.1h-3.5zM611.9 435.2h2.1v0.7h-2.1zM627.7 412.0h3.4v1.1h-3.4z"/><path fill="#133aa6" d="M497.5 436.2h1.4v1.0h-1.4zM526.4 419.4h2.6v1.0h-2.6zM522.3 415.1h4.6v0.8h-4.6zM526.6 439.9h4.9v1.1h-4.9zM525.4 421.9h6.4v0.8h-6.4zM560.7 438.6h2.9v1.1h-2.9zM566.9 439.0h1.9v1.2h-1.9zM523.3 442.5h2.4v0.9h-2.4zM562.6 441.4h2.3v0.7h-2.3zM567.7 440.3h2.8v0.8h-2.8zM631.8 440.2h2.7v0.8h-2.7zM539.1 441.0h1.6v0.9h-1.6zM599.8 426.1h2.1v1.1h-2.1zM610.3 431.7h2.9v0.8h-2.9zM596.5 422.5h2.7v0.8h-2.7zM592.3 413.4h3.9v0.8h-3.9zM610.2 421.9h2.7v0.7h-2.7zM626.9 412.3h4.7v1.0h-4.7zM649.2 443.7h2.4v0.9h-2.4zM651.4 438.8h2.3v1.1h-2.3zM660.0 417.4h2.0v1.0h-2.0zM650.4 421.0h3.5v0.9h-3.5z"/><path fill="#1749b3" d="M485.7 436.7h4.2v1.0h-4.2zM494.9 441.3h2.0v0.7h-2.0zM492.9 413.8h3.8v1.1h-3.8zM489.2 426.7h1.9v1.1h-1.9zM488.9 432.0h4.0v1.1h-4.0zM486.8 435.5h3.8v1.1h-3.8zM527.6 426.6h4.2v0.8h-4.2zM521.7 420.8h5.4v0.7h-5.4zM524.4 437.9h1.7v1.1h-1.7zM534.6 423.1h4.2v1.1h-4.2zM538.0 425.0h3.6v0.9h-3.6zM551.0 430.4h2.4v1.1h-2.4zM558.4 435.5h2.7v1.1h-2.7zM563.7 440.4h2.3v1.1h-2.3zM558.0 434.4h3.5v1.1h-3.5zM567.0 435.2h4.0v1.1h-4.0zM561.2 431.4h4.1v1.1h-4.1zM561.9 435.9h3.3v0.8h-3.3zM511.0 441.6h2.4v0.9h-2.4zM610.0 411.3h2.2v1.1h-2.2zM595.2 421.5h2.9v0.9h-2.9zM605.7 430.2h2.3v0.8h-2.3zM600.1 417.8h3.4v1.1h-3.4zM632.5 422.2h5.2v0.7h-5.2zM635.6 421.4h2.8v0.9h-2.8zM622.8 409.8h4.1v1.1h-4.1zM627.2 419.3h2.0v1.1h-2.0zM627.2 418.7h1.4v1.1h-1.4zM629.7 419.3h1.5v1.1h-1.5zM628.2 420.0h1.3v1.1h-1.3zM630.6 426.7h2.0v1.1h-2.0zM649.4 436.7h3.4v1.2h-3.4zM649.3 442.8h3.5v0.8h-3.5zM655.0 438.2h3.0v0.8h-3.0zM654.7 423.5h2.5v0.9h-2.5zM645.9 421.1h1.9v0.8h-1.9zM644.4 417.0h2.0v0.7h-2.0zM642.3 418.3h2.9v1.1h-2.9zM648.7 419.0h3.1v1.1h-3.1z"/><path fill="#1c5abf" d="M496.5 417.6h2.4v1.1h-2.4zM491.2 435.3h1.7v0.8h-1.7zM492.5 423.3h4.4v1.2h-4.4zM489.9 425.0h3.3v0.8h-3.3zM492.9 431.7h2.4v1.1h-2.4zM528.2 421.4h3.6v0.7h-3.6zM523.2 440.9h2.6v1.1h-2.6zM540.6 424.7h4.1v1.1h-4.1zM537.4 417.6h1.4v1.1h-1.4zM531.9 417.6h2.2v1.1h-2.2zM553.6 431.4h1.6v1.1h-1.6zM549.0 431.0h3.0v1.1h-3.0zM559.0 438.0h1.4v1.1h-1.4zM556.9 436.2h4.1v1.1h-4.1zM563.9 439.7h2.5v1.1h-2.5zM565.4 436.9h1.7v0.8h-1.7zM615.4 444.0h2.4v1.3h-2.4zM617.5 443.9h0.5v1.3h-0.5zM596.3 423.5h3.3v0.9h-3.3zM602.1 413.8h2.9v0.9h-2.9zM596.9 429.8h3.7v0.7h-3.7zM610.1 432.7h3.3v0.9h-3.3zM603.3 437.1h1.9v0.8h-1.9zM626.0 421.3h6.0v0.9h-6.0zM621.1 411.6h2.3v1.1h-2.3zM619.5 409.8h2.4v1.1h-2.4zM630.0 418.4h2.0v1.1h-2.0zM629.9 414.4h1.4v1.1h-1.4zM629.1 425.2h1.7v1.1h-1.7zM645.5 443.2h2.6v1.2h-2.6zM638.1 442.5h2.4v0.7h-2.4zM647.9 438.7h1.6v1.0h-1.6zM656.0 432.0h2.5v0.7h-2.5z"/><path fill="#216acb" d="M497.1 434.3h1.8v1.0h-1.8zM496.4 420.7h2.5v0.8h-2.5zM490.8 414.6h5.8v1.1h-5.8zM487.8 417.9h3.0v1.1h-3.0zM486.4 431.1h2.5v1.0h-2.5zM493.8 433.6h3.1v1.1h-3.1zM527.2 426.0h4.6v0.9h-4.6zM527.9 415.6h3.0v0.9h-3.0zM528.3 418.9h3.2v0.7h-3.2zM521.8 435.6h4.8v0.7h-4.8zM529.5 438.8h2.3v0.9h-2.3zM525.4 429.1h3.5v1.1h-3.5zM537.7 411.5h2.1v0.7h-2.1zM545.4 411.1h3.3v1.0h-3.3zM538.6 424.0h6.9v1.1h-6.9zM552.6 436.6h1.2v1.1h-1.2zM551.5 437.1h3.4v1.1h-3.4zM547.7 432.9h4.0v1.1h-4.0zM565.2 438.2h3.9v1.1h-3.9zM561.3 433.0h1.6v1.1h-1.6zM564.5 441.4h1.8v1.0h-1.8zM598.6 429.0h3.4v0.8h-3.4zM607.6 438.2h2.7v0.7h-2.7zM627.2 417.5h1.8v1.1h-1.8zM634.2 411.0h3.4v0.8h-3.4zM623.6 419.0h4.3v1.1h-4.3zM628.9 414.4h4.9v0.8h-4.9zM630.6 425.9h5.6v0.9h-5.6zM635.6 417.9h1.7v1.1h-1.7zM627.7 420.2h4.2v1.1h-4.2zM629.5 422.6h2.1v1.0h-2.1zM630.9 410.1h4.7v1.0h-4.7zM631.3 416.8h1.9v1.1h-1.9zM634.1 426.0h2.4v1.1h-2.4zM632.5 427.3h2.0v1.1h-2.0zM656.3 443.7h3.3v0.9h-3.3zM641.4 437.2h2.6v0.8h-2.6zM643.7 441.8h3.2v0.7h-3.2z"/><path fill="none" stroke="#216acb" stroke-width="1.5" stroke-linecap="round" d="M643.3 433.8L647.3 435.8"/><path fill="#267bd7" d="M489.8 436.6h2.5v0.7h-2.5zM488.2 436.2h6.3v0.8h-6.3zM490.5 414.7h5.5v1.1h-5.5zM495.4 430.2h3.5v1.0h-3.5zM522.4 418.2h2.2v1.1h-2.2zM527.5 425.3h3.5v1.1h-3.5zM524.0 441.0h2.7v1.1h-2.7zM541.4 414.0h6.5v1.1h-6.5zM544.2 417.6h3.3v1.2h-3.3zM533.6 414.0h3.3v1.1h-3.3zM548.6 433.1h1.9v1.1h-1.9zM558.6 435.3h4.2v1.1h-4.2zM559.4 436.9h2.5v1.1h-2.5zM586.2 444.0h4.4v1.3h-4.4zM594.1 427.8h2.4v1.1h-2.4zM634.6 415.3h3.5v1.1h-3.5zM626.5 413.8h5.6v1.2h-5.6zM627.9 423.2h1.6v0.8h-1.6zM630.8 411.6h2.1v0.8h-2.1zM628.5 420.6h5.2v0.8h-5.2zM628.1 411.3h2.2v1.1h-2.2zM630.2 415.3h3.2v1.1h-3.2zM628.9 414.7h3.3v1.1h-3.3zM643.4 443.5h3.8v1.1h-3.8zM655.3 432.0h1.8v1.2h-1.8zM644.4 434.3h2.9v0.8h-2.9zM655.4 438.5h2.0v1.2h-2.0zM647.4 434.0h2.1v1.0h-2.1z"/><path fill="#2a8cdc" d="M494.5 426.7h4.4v1.2h-4.4zM497.4 430.9h1.5v1.1h-1.5zM495.9 434.3h1.6v1.1h-1.6zM491.9 426.4h1.2v1.1h-1.2zM493.9 433.7h2.7v1.1h-2.7zM527.7 427.0h2.3v0.9h-2.3zM528.3 441.8h3.5v1.0h-3.5zM521.2 439.1h2.8v1.1h-2.8zM524.5 438.4h3.8v1.1h-3.8zM544.2 425.9h4.5v1.0h-4.5zM533.4 420.5h3.5v1.2h-3.5zM542.2 419.7h5.5v0.9h-5.5zM534.6 416.3h2.4v1.1h-2.4zM535.4 413.8h2.9v1.1h-2.9zM548.0 431.4h3.1v1.1h-3.1zM563.6 434.5h3.5v1.1h-3.5zM565.4 436.1h2.6v1.1h-2.6zM562.2 433.9h3.3v1.1h-3.3zM630.9 418.8h5.7v1.1h-5.7zM631.0 426.6h5.0v1.1h-5.0zM630.7 419.8h3.1v1.1h-3.1z"/><path fill="none" stroke="#2a8cdc" stroke-width="1.5" stroke-linecap="round" d="M638.4 435.0L642.4 437.0M652.7 442.0L656.7 444.0"/><path fill="#2f9cdc" d="M486.8 417.2h4.1v1.0h-4.1zM495.0 425.2h3.9v1.0h-3.9zM493.9 433.6h2.4v1.1h-2.4zM527.9 427.4h2.1v0.9h-2.1zM527.8 433.2h4.0v1.1h-4.0zM522.6 428.4h4.4v0.7h-4.4zM526.1 439.4h3.4v1.1h-3.4zM526.1 438.8h1.2v1.1h-1.2zM544.4 424.1h4.3v0.9h-4.3zM541.9 422.6h2.2v1.1h-2.2zM533.7 412.2h4.9v1.1h-4.9zM539.1 428.9h3.9v0.8h-3.9zM533.6 416.5h6.6v0.9h-6.6zM536.5 414.3h1.6v1.1h-1.6zM552.2 432.0h4.0v1.1h-4.0zM562.1 438.8h3.0v1.1h-3.0zM564.5 438.5h2.7v1.1h-2.7zM612.7 444.0h3.1v1.3h-3.1zM626.7 418.8h3.3v1.2h-3.3zM623.9 409.3h4.7v1.0h-4.7zM623.2 418.3h4.8v1.2h-4.8zM623.7 425.3h3.2v1.2h-3.2zM627.5 411.6h3.0v1.1h-3.0zM632.5 422.6h1.4v1.1h-1.4z"/><path fill="none" stroke="#2f9cdc" stroke-width="1.5" stroke-linecap="round" d="M639.9 432.7L643.9 434.7M647.0 436.2L651.0 438.2"/><path fill="#34addc" d="M492.4 436.6h5.5v0.8h-5.5zM493.3 428.4h5.6v0.9h-5.6zM493.9 428.3h2.5v1.1h-2.5zM488.4 432.3h4.2v1.1h-4.2zM522.8 430.0h2.2v0.7h-2.2zM521.0 426.8h3.6v1.1h-3.6zM525.5 428.5h2.4v1.1h-2.4zM541.9 425.4h6.8v1.0h-6.8zM544.7 425.7h2.3v1.1h-2.3zM536.1 414.2h2.8v1.1h-2.8zM534.8 415.0h1.0v1.1h-1.0zM536.0 414.2h2.6v1.1h-2.6zM551.8 431.9h3.0v1.1h-3.0zM562.2 438.1h4.0v1.1h-4.0zM562.3 434.2h3.1v1.1h-3.1zM628.0 409.2h5.3v0.9h-5.3zM624.8 417.4h4.1v1.0h-4.1zM626.1 411.7h5.5v1.1h-5.5zM631.1 421.8h4.8v0.7h-4.8zM622.4 412.5h2.5v1.1h-2.5zM622.3 410.9h2.1v1.1h-2.1zM626.7 418.2h2.6v1.1h-2.6zM632.1 421.9h2.0v1.1h-2.0zM632.5 424.2h1.4v1.1h-1.4z"/><path fill="#39bedc" d="M494.8 440.5h4.0v0.7h-4.0zM493.0 429.2h2.6v1.1h-2.6zM489.2 429.3h1.1v1.1h-1.1zM488.7 434.1h4.4v1.1h-4.4zM524.8 412.4h2.6v1.2h-2.6zM521.4 426.7h3.4v1.1h-3.4zM523.4 426.5h2.9v1.1h-2.9zM522.4 439.7h1.7v1.1h-1.7zM543.3 427.5h2.0v1.1h-2.0zM535.8 414.5h2.7v1.1h-2.7zM534.6 414.2h2.9v1.1h-2.9zM535.0 416.2h1.9v1.1h-1.9zM534.9 416.5h1.7v1.1h-1.7zM561.8 437.9h1.9v1.1h-1.9zM562.5 438.6h2.1v1.1h-2.1zM560.2 435.3h3.3v1.1h-3.3zM617.2 429.7h0.8v1.3h-0.8zM590.2 444.0h3.5v1.3h-3.5zM631.8 420.3h1.7v1.0h-1.7zM634.4 412.8h1.6v0.8h-1.6zM629.0 418.4h3.1v0.9h-3.1zM628.1 414.9h1.5v1.1h-1.5zM625.9 417.3h1.6v1.1h-1.6zM628.6 422.8h2.9v1.1h-2.9zM631.7 420.2h1.7v1.1h-1.7z"/><path fill="none" stroke="#39bedc" stroke-width="1.5" stroke-linecap="round" d="M652.4 438.5L656.4 440.5"/><path fill="#46c9cf" d="M493.5 424.9h2.9v0.8h-2.9zM494.1 413.9h4.3v0.7h-4.3zM489.5 429.4h3.9v1.1h-3.9zM493.0 433.6h3.2v1.1h-3.2zM520.8 437.5h3.4v1.2h-3.4zM525.6 427.9h3.4v1.1h-3.4zM523.4 426.5h2.0v1.1h-2.0zM523.5 440.3h2.4v1.1h-2.4zM544.7 426.0h1.5v1.2h-1.5zM534.9 416.1h2.1v1.1h-2.1zM551.6 436.0h3.2v1.1h-3.2zM563.1 437.4h2.6v1.1h-2.6zM564.1 436.4h3.5v1.1h-3.5zM564.7 435.8h1.7v1.1h-1.7zM560.4 434.9h4.2v1.1h-4.2zM564.5 438.1h2.4v1.1h-2.4zM563.2 434.7h3.2v1.1h-3.2zM621.6 409.5h2.0v1.1h-2.0zM622.8 420.3h5.9v0.8h-5.9zM634.9 422.5h3.5v0.9h-3.5zM634.0 425.6h2.0v1.1h-2.0zM632.0 424.2h1.5v1.1h-1.5z"/><path fill="none" stroke="#46c9cf" stroke-width="1.5" stroke-linecap="round" d="M649.1 437.3L653.1 439.3M644.5 440.8L648.5 442.8"/><path fill="#60ceb0" d="M488.9 431.4h5.1v0.7h-5.1zM490.5 427.5h1.1v1.1h-1.1zM493.3 428.9h1.6v1.1h-1.6zM488.1 433.3h2.7v1.1h-2.7zM490.5 432.6h1.2v1.1h-1.2zM542.3 425.0h3.6v0.9h-3.6zM534.2 415.7h2.2v1.1h-2.2zM536.4 415.7h3.3v1.1h-3.3zM537.8 415.3h1.8v1.1h-1.8zM552.3 435.9h1.5v1.1h-1.5zM554.1 436.0h1.6v1.1h-1.6zM551.0 431.8h2.0v1.1h-2.0zM554.5 434.6h3.0v1.1h-3.0zM564.3 436.1h1.1v1.1h-1.1zM563.0 436.3h4.1v1.1h-4.1zM562.6 438.1h2.2v1.1h-2.2zM562.1 435.8h3.6v1.1h-3.6zM586.2 409.3h5.4v1.3h-5.4zM586.2 429.6h3.8v1.3h-3.8zM610.2 443.9h3.0v1.3h-3.0zM633.3 417.7h3.2v0.8h-3.2zM629.0 417.5h2.9v1.1h-2.9zM629.9 415.8h2.8v1.1h-2.8z"/><path fill="none" stroke="#60ceb0" stroke-width="1.5" stroke-linecap="round" d="M653.4 439.6L657.4 441.6"/><path fill="#7ad391" d="M490.0 416.6h2.3v1.1h-2.3zM493.5 428.6h2.2v1.1h-2.2zM490.8 427.7h1.5v1.1h-1.5zM489.5 433.1h1.3v1.1h-1.3zM490.4 432.7h2.1v1.1h-2.1zM492.5 434.3h2.3v1.1h-2.3zM489.5 434.1h2.8v1.1h-2.8zM523.5 438.8h2.6v1.1h-2.6zM525.7 439.8h1.8v1.1h-1.8zM524.4 439.1h1.2v1.1h-1.2zM535.0 415.0h1.9v1.1h-1.9zM536.2 416.2h2.0v1.1h-2.0zM563.0 436.4h1.3v1.1h-1.3zM562.9 435.8h1.4v1.1h-1.4zM613.1 429.6h4.5v1.3h-4.5zM593.4 443.8h3.6v1.3h-3.6zM596.6 443.6h4.5v1.3h-4.5zM624.1 415.5h4.6v1.0h-4.6zM621.7 423.8h4.4v0.9h-4.4z"/><path fill="#95d872" d="M489.3 429.2h2.2v1.1h-2.2zM489.6 427.7h2.9v1.1h-2.9zM492.2 428.2h3.7v1.1h-3.7zM492.5 434.1h1.8v1.1h-1.8zM522.0 427.9h3.2v1.1h-3.2zM525.0 439.8h1.8v1.1h-1.8zM550.3 432.4h2.4v1.1h-2.4zM553.4 434.4h3.7v1.1h-3.7zM563.6 436.9h1.6v1.1h-1.6zM564.9 436.1h1.3v1.1h-1.3zM562.8 435.7h2.0v1.1h-2.0zM614.6 409.4h3.4v1.3h-3.4zM615.7 436.6h2.3v1.3h-2.3zM605.3 443.7h5.2v1.3h-5.2zM626.4 412.6h1.3v1.1h-1.3zM631.0 422.4h2.6v1.1h-2.6zM632.8 424.6h1.8v1.1h-1.8zM631.7 424.5h1.4v1.1h-1.4z"/><path fill="none" stroke="#95d872" stroke-width="1.5" stroke-linecap="round" d="M654.1 444.3L658.1 446.3"/><path fill="#aedb57" d="M490.5 428.7h3.6v1.1h-3.6zM492.4 428.9h2.7v1.1h-2.7zM491.2 433.1h2.7v1.1h-2.7zM522.5 427.2h1.0v1.1h-1.0zM522.1 428.0h2.5v1.1h-2.5zM525.6 426.9h2.4v1.1h-2.4zM523.2 439.5h2.9v1.1h-2.9zM549.8 433.6h2.4v1.1h-2.4zM551.4 435.5h3.6v1.1h-3.6zM612.2 409.4h2.8v1.3h-2.8zM612.7 436.8h3.4v1.3h-3.4zM600.7 443.5h5.0v1.3h-5.0zM622.7 411.0h2.6v1.1h-2.6zM630.5 420.4h1.3v1.1h-1.3zM628.5 420.7h2.0v1.1h-2.0z"/><path fill="#c6da48" d="M490.1 428.5h3.5v1.1h-3.5zM489.8 433.9h4.0v1.1h-4.0zM550.4 434.8h3.3v1.1h-3.3zM552.7 433.1h2.6v1.1h-2.6zM615.7 416.3h2.3v1.3h-2.3zM586.2 423.1h4.7v1.3h-4.7zM623.2 412.1h2.3v1.1h-2.3zM624.7 410.3h3.1v1.1h-3.1z"/><path fill="#ded839" d="M492.0 428.5h2.0v1.1h-2.0zM490.9 433.7h4.1v1.1h-4.1zM522.8 427.8h1.1v1.1h-1.1zM552.8 433.4h4.0v1.1h-4.0zM586.2 436.9h4.9v1.3h-4.9zM626.3 416.3h2.7v1.1h-2.7zM628.5 415.7h2.1v1.1h-2.1zM628.0 415.8h1.4v1.1h-1.4zM628.1 422.0h3.0v1.1h-3.0zM630.9 420.7h1.6v1.1h-1.6z"/><path fill="none" stroke="#ded839" stroke-width="1.5" stroke-linecap="round" d="M642.0 431.5L646.0 433.5"/><path fill="#f6d72a" d="M490.2 428.4h2.4v1.1h-2.4zM489.9 428.3h4.2v1.1h-4.2zM549.6 433.6h3.9v1.1h-3.9zM552.6 435.0h3.7v1.1h-3.7zM549.5 433.2h3.6v1.1h-3.6zM603.5 408.9h5.4v1.3h-5.4zM586.2 416.2h4.5v1.3h-4.5zM589.6 429.6h4.2v1.3h-4.2zM593.3 429.8h5.1v1.3h-5.1zM626.5 411.3h2.0v1.1h-2.0zM628.7 416.1h3.0v1.1h-3.0zM628.6 416.8h3.2v1.1h-3.2zM628.6 417.1h1.7v1.1h-1.7zM626.2 416.6h3.3v1.1h-3.3zM630.6 422.0h1.1v1.1h-1.1zM630.9 421.2h1.7v1.1h-1.7zM631.2 421.5h2.2v1.1h-2.2z"/><path fill="none" stroke="#f6d72a" stroke-width="1.5" stroke-linecap="round" d="M637.8 443.1L641.8 445.1"/><path fill="#f7be25" d="M524.3 427.0h2.9v1.1h-2.9zM551.2 434.5h1.9v1.1h-1.9zM550.1 433.5h3.0v1.1h-3.0zM552.2 434.8h3.3v1.1h-3.3zM591.2 409.4h4.1v1.3h-4.1zM608.5 409.2h4.2v1.3h-4.2zM590.5 422.9h4.5v1.3h-4.5zM609.9 429.7h3.6v1.3h-3.6zM590.7 436.6h2.8v1.3h-2.8zM601.8 437.0h5.3v1.3h-5.3zM624.4 410.2h2.9v1.1h-2.9zM623.7 410.7h3.4v1.1h-3.4zM626.1 416.2h3.2v1.1h-3.2zM630.1 421.1h2.3v1.1h-2.3zM629.2 422.0h2.0v1.1h-2.0zM629.3 421.2h1.4v1.1h-1.4zM632.0 425.1h2.6v1.1h-2.6zM631.9 425.0h2.6v1.1h-2.6z"/><path fill="#f4a122" d="M551.4 433.8h3.0v1.1h-3.0zM551.9 434.6h2.3v1.1h-2.3zM594.9 409.2h4.4v1.3h-4.4zM601.3 408.9h2.6v1.3h-2.6zM613.4 423.0h4.6v1.3h-4.6zM598.0 430.1h3.1v1.3h-3.1zM606.1 429.9h4.3v1.3h-4.3zM609.9 437.0h3.2v1.3h-3.2zM626.4 411.3h1.7v1.1h-1.7zM623.8 412.0h1.9v1.1h-1.9zM624.7 410.7h2.2v1.1h-2.2zM627.7 416.4h2.7v1.1h-2.7zM630.0 422.2h2.4v1.1h-2.4zM632.3 425.7h1.7v1.1h-1.7z"/><path fill="#f28520" d="M523.9 427.3h3.6v1.1h-3.6zM552.5 433.3h1.2v1.1h-1.2zM550.4 433.9h4.0v1.1h-4.0zM598.9 409.0h2.8v1.3h-2.8zM612.7 416.2h3.4v1.3h-3.4zM600.7 430.1h2.9v1.3h-2.9zM593.2 436.6h4.4v1.3h-4.4zM622.9 411.6h3.6v1.1h-3.6zM624.1 411.4h1.2v1.1h-1.2zM623.7 411.8h2.3v1.1h-2.3zM623.1 410.9h2.6v1.1h-2.6zM627.4 415.8h2.2v1.1h-2.2z"/><path fill="#ee6a1d" d="M595.0 416.2h2.9v1.3h-2.9zM604.6 415.8h4.0v1.3h-4.0zM602.2 423.2h3.2v1.3h-3.2zM605.0 423.3h5.1v1.3h-5.1zM624.2 411.9h3.0v1.1h-3.0zM630.2 421.0h2.9v1.1h-2.9z"/><path fill="#e4571b" d="M590.3 416.3h5.1v1.3h-5.1zM594.6 422.8h5.2v1.3h-5.2zM599.4 423.0h3.1v1.3h-3.1zM603.2 430.0h3.3v1.3h-3.3z"/><path fill="#db4418" d="M602.5 415.8h2.5v1.3h-2.5zM608.2 416.0h4.9v1.3h-4.9z"/><path fill="#d13116" d="M609.7 423.2h4.1v1.3h-4.1zM597.2 436.7h5.0v1.3h-5.0zM606.7 437.1h3.6v1.3h-3.6z"/><path fill="#c81e14" d="M597.6 416.0h5.4v1.3h-5.4z"/></g><clipPath id="cf1"><rect x="471.3" y="457.7" width="213.2" height="36.3"/></clipPath><g clip-path="url(#cf1)" filter="url(#sb)"><path fill="#133aa6" d="M477.6 486.1h1.5v0.9h-1.5zM473.8 469.3h2.6v0.9h-2.6zM475.8 489.2h5.0v0.9h-5.0zM484.1 475.7h5.0v1.0h-5.0zM474.4 466.7h4.1v1.1h-4.1zM478.3 489.5h4.9v0.8h-4.9zM476.6 481.8h4.2v1.0h-4.2zM481.2 473.6h5.6v0.9h-5.6zM476.0 481.5h2.2v1.1h-2.2zM511.8 481.6h2.3v1.2h-2.3zM508.1 473.7h6.7v0.7h-6.7zM504.6 489.1h5.3v1.1h-5.3zM544.0 487.2h2.6v1.2h-2.6zM548.3 476.6h5.2v1.2h-5.2zM602.6 470.2h2.2v0.9h-2.2zM603.6 477.4h4.7v0.9h-4.7zM610.1 478.2h2.9v1.0h-2.9zM594.4 482.3h4.5v1.2h-4.5z"/><path fill="#1749b3" d="M477.9 482.3h3.5v1.0h-3.5zM481.2 477.3h4.5v1.2h-4.5zM478.9 466.3h2.8v0.9h-2.8zM476.8 478.1h2.1v0.9h-2.1zM481.9 480.6h5.9v0.9h-5.9zM486.9 474.4h2.4v1.1h-2.4zM477.2 471.0h4.1v1.1h-4.1zM483.3 473.7h1.3v1.1h-1.3zM482.8 486.4h1.5v1.1h-1.5zM511.2 470.1h2.7v0.7h-2.7zM542.4 470.2h3.7v0.8h-3.7zM539.1 467.8h6.4v1.0h-6.4zM536.6 482.2h2.7v0.7h-2.7zM549.9 468.0h3.6v1.0h-3.6zM545.8 474.3h5.3v0.9h-5.3zM563.0 462.8h3.2v1.4h-3.2zM598.5 476.9h2.5v1.2h-2.5zM597.5 487.2h5.1v1.1h-5.1zM609.0 475.4h2.9v1.1h-2.9zM609.0 474.8h6.4v1.0h-6.4zM600.6 480.3h2.4v1.1h-2.4z"/><path fill="#1c5abf" d="M479.9 476.4h5.7v1.0h-5.7zM486.7 472.2h2.6v1.1h-2.6zM481.2 470.9h3.7v0.7h-3.7zM477.9 482.0h1.8v1.0h-1.8zM484.7 471.7h2.9v1.1h-2.9zM479.6 466.8h3.2v1.2h-3.2zM475.6 466.9h3.6v1.0h-3.6zM472.3 475.5h3.7v1.1h-3.7zM476.1 486.2h3.6v1.1h-3.6zM476.5 474.3h1.3v1.1h-1.3zM478.6 481.6h3.0v1.1h-3.0zM505.2 474.8h6.9v1.1h-6.9zM503.3 475.1h4.4v1.1h-4.4zM523.6 472.8h4.5v1.1h-4.5zM525.4 469.9h3.0v1.1h-3.0zM538.1 462.6h2.4v0.8h-2.4zM551.6 466.4h1.9v1.2h-1.9zM542.2 478.6h4.9v0.8h-4.9zM592.1 460.0h1.1v1.1h-1.1zM617.1 488.3h2.3v0.7h-2.3zM614.6 467.1h2.9v1.1h-2.9zM600.3 479.0h4.1v0.7h-4.1zM595.6 480.1h5.9v0.9h-5.9zM623.1 467.4h1.7v0.8h-1.7zM590.9 474.5h6.7v0.8h-6.7zM610.2 480.8h5.1v1.1h-5.1zM623.5 482.4h2.1v1.0h-2.1zM601.3 473.3h2.3v0.7h-2.3zM605.9 479.4h1.9v1.1h-1.9zM593.8 476.1h5.0v0.7h-5.0zM596.8 474.5h3.0v0.7h-3.0zM606.6 475.3h2.2v1.1h-2.2zM596.1 481.9h2.7v1.1h-2.7z"/><path fill="#216acb" d="M484.0 478.8h2.7v0.9h-2.7zM479.2 468.8h3.4v0.9h-3.4zM482.8 471.0h2.1v1.1h-2.1zM474.8 470.9h2.4v1.2h-2.4zM479.7 490.9h5.2v1.1h-5.2zM484.9 474.2h2.7v1.0h-2.7zM479.9 490.1h4.6v0.9h-4.6zM476.2 474.6h3.2v0.8h-3.2zM482.4 473.9h3.9v0.8h-3.9zM479.6 473.9h4.7v0.9h-4.7zM476.3 478.0h1.8v1.1h-1.8zM482.7 475.5h1.6v1.1h-1.6zM482.3 476.2h2.5v1.1h-2.5zM478.0 486.9h3.5v1.1h-3.5zM477.5 472.3h2.3v1.1h-2.3zM481.3 486.4h3.0v1.1h-3.0zM479.5 485.1h2.7v1.1h-2.7zM478.1 484.1h2.3v1.1h-2.3zM503.3 485.1h3.2v1.1h-3.2zM525.6 473.8h3.0v0.8h-3.0zM519.4 472.6h2.9v0.7h-2.9zM524.2 471.8h1.8v1.1h-1.8zM529.8 483.0h2.2v1.1h-2.2zM531.2 482.9h2.4v1.1h-2.4zM527.3 480.5h1.6v1.1h-1.6zM539.5 467.8h3.8v1.0h-3.8zM547.0 475.9h5.6v0.9h-5.6zM540.3 481.8h3.5v0.7h-3.5zM540.7 478.7h5.8v0.7h-5.8zM585.1 478.1h2.3v1.4h-2.3zM587.2 463.6h2.8v1.1h-2.8zM608.0 481.2h3.7v0.9h-3.7zM622.4 478.0h2.7v0.7h-2.7zM620.1 488.7h3.2v0.8h-3.2zM593.9 476.3h6.8v1.1h-6.8zM624.3 478.1h1.3v0.7h-1.3zM599.7 476.9h5.6v0.7h-5.6zM606.9 472.1h4.6v1.1h-4.6zM602.2 477.6h4.2v0.7h-4.2zM599.9 475.9h4.1v1.0h-4.1zM604.7 481.2h2.4v1.1h-2.4z"/><path fill="#267bd7" d="M488.1 470.0h1.2v0.7h-1.2zM477.2 485.1h5.9v0.7h-5.9zM485.4 477.2h3.9v0.9h-3.9zM476.9 488.8h5.1v0.9h-5.1zM476.2 486.5h5.1v0.9h-5.1zM482.0 470.6h4.8v0.9h-4.8zM478.0 479.4h3.9v0.7h-3.9zM475.6 476.7h2.8v1.0h-2.8zM481.2 473.7h1.1v1.1h-1.1zM477.3 476.1h2.6v1.1h-2.6zM482.6 484.6h2.9v1.1h-2.9zM503.9 480.1h2.5v0.8h-2.5zM521.3 469.6h4.3v1.2h-4.3zM518.8 469.4h2.8v1.1h-2.8zM528.0 477.7h1.6v1.1h-1.6zM536.6 473.6h2.4v0.7h-2.4zM544.0 479.5h2.6v1.0h-2.6zM542.3 466.4h6.4v1.1h-6.4zM549.1 477.3h4.4v0.8h-4.4zM548.3 471.6h4.2v1.1h-4.2zM545.9 468.7h5.9v0.7h-5.9zM546.9 485.4h3.6v1.0h-3.6zM565.8 462.7h5.2v1.4h-5.2zM578.8 463.5h4.2v1.4h-4.2zM585.0 463.1h2.4v1.4h-2.4zM563.0 492.7h3.4v1.4h-3.4zM576.9 492.6h2.5v1.4h-2.5zM590.8 478.1h4.0v0.8h-4.0zM618.3 489.5h4.3v0.8h-4.3zM602.9 470.0h3.5v1.1h-3.5zM619.1 477.5h4.9v0.8h-4.9zM592.4 474.2h3.5v0.8h-3.5z"/><path fill="#2a8cdc" d="M485.3 471.3h4.0v0.7h-4.0zM480.7 471.2h5.5v0.9h-5.5zM474.0 469.9h4.3v0.9h-4.3zM481.5 482.2h3.4v1.0h-3.4zM482.2 477.7h5.7v0.9h-5.7zM483.4 471.5h4.7v0.9h-4.7zM484.6 489.2h4.7v1.1h-4.7zM475.1 476.7h5.4v1.0h-5.4zM487.4 490.1h1.7v0.9h-1.7zM480.2 470.1h2.2v1.0h-2.2zM478.3 472.6h2.9v1.1h-2.9zM476.2 485.0h3.4v1.1h-3.4zM476.5 473.3h3.2v1.1h-3.2zM477.7 483.7h2.9v1.1h-2.9zM536.5 461.1h5.2v0.9h-5.2zM539.2 477.5h6.2v0.9h-6.2zM582.6 463.3h2.8v1.4h-2.8zM591.4 461.4h2.6v1.1h-2.6zM603.1 471.9h4.2v1.1h-4.2zM600.4 479.6h5.3v0.8h-5.3zM599.8 489.0h3.2v0.9h-3.2zM605.0 471.1h4.1v0.9h-4.1zM610.2 471.8h4.1v0.9h-4.1zM602.4 474.9h2.8v1.1h-2.8zM598.7 473.8h4.4v1.0h-4.4zM597.8 477.3h3.3v1.0h-3.3zM609.2 473.3h7.0v0.7h-7.0zM621.5 472.6h1.7v1.0h-1.7zM594.3 472.3h4.4v0.8h-4.4zM592.3 473.3h6.0v1.0h-6.0zM617.8 476.8h2.7v0.9h-2.7z"/><path fill="#2f9cdc" d="M481.8 465.8h5.4v0.8h-5.4zM483.9 488.3h2.7v1.1h-2.7zM484.9 476.7h2.6v1.0h-2.6zM479.5 482.4h2.0v1.1h-2.0zM478.4 476.0h2.8v1.1h-2.8zM483.8 482.6h1.1v1.1h-1.1zM522.1 471.0h1.5v1.0h-1.5zM523.0 474.4h3.6v0.8h-3.6zM528.3 478.9h3.7v1.1h-3.7zM533.9 481.8h1.4v1.1h-1.4zM542.3 489.1h4.1v1.2h-4.1zM584.0 493.0h3.4v1.4h-3.4zM618.3 477.4h6.4v0.8h-6.4zM597.4 469.5h4.8v1.0h-4.8zM620.6 485.2h4.2v0.7h-4.2zM616.7 483.1h6.9v0.8h-6.9zM591.6 485.0h2.6v1.2h-2.6zM620.1 476.3h3.9v1.2h-3.9zM609.4 473.4h5.1v1.2h-5.1zM611.3 474.1h6.0v0.8h-6.0zM618.6 476.6h3.6v1.1h-3.6zM620.1 471.7h3.4v1.1h-3.4zM620.8 477.4h3.2v1.0h-3.2zM601.1 477.0h2.8v1.0h-2.8zM602.4 485.0h3.1v1.1h-3.1z"/><path fill="#34addc" d="M477.0 485.3h2.5v1.1h-2.5zM479.5 482.3h2.6v1.1h-2.6zM524.0 467.9h1.7v0.7h-1.7zM520.0 473.2h4.4v0.8h-4.4zM528.8 479.4h1.6v1.1h-1.6zM569.3 492.2h5.0v1.4h-5.0zM590.2 463.6h2.9v1.1h-2.9zM600.7 487.7h6.8v0.8h-6.8zM607.4 484.1h1.6v1.0h-1.6zM612.7 471.8h4.8v1.1h-4.8zM609.2 473.2h2.1v0.8h-2.1zM601.3 474.5h4.4v1.0h-4.4zM608.0 475.7h2.3v0.7h-2.3zM622.0 475.8h1.9v1.0h-1.9zM599.0 482.1h2.8v1.1h-2.8zM601.7 481.1h2.9v1.1h-2.9z"/><path fill="#39bedc" d="M473.5 488.0h3.3v0.8h-3.3zM478.8 465.2h5.0v0.9h-5.0zM481.3 474.6h2.2v1.1h-2.2zM476.6 484.4h2.9v1.1h-2.9zM483.0 485.0h1.8v1.1h-1.8zM479.6 484.7h2.5v1.1h-2.5zM521.3 467.1h2.9v1.0h-2.9zM524.8 471.0h1.6v1.1h-1.6zM519.8 468.4h2.5v1.1h-2.5zM586.0 485.0h1.4v1.4h-1.4zM591.0 461.7h2.4v1.1h-2.4zM603.1 488.3h5.4v1.1h-5.4zM601.8 474.8h2.6v1.0h-2.6zM620.0 476.1h4.0v1.0h-4.0z"/><path fill="#46c9cf" d="M480.0 464.7h5.6v0.8h-5.6zM476.4 473.6h4.5v0.8h-4.5zM478.6 485.1h3.3v0.7h-3.3zM475.1 474.5h2.2v1.1h-2.2zM475.1 473.8h2.9v1.1h-2.9zM480.2 482.8h1.2v1.1h-1.2zM481.6 474.1h1.4v1.1h-1.4zM482.9 482.5h1.1v1.1h-1.1zM482.6 482.5h2.5v1.1h-2.5zM522.9 471.4h1.2v1.1h-1.2zM523.0 467.7h3.5v1.1h-3.5zM524.0 471.2h2.2v1.1h-2.2zM570.6 462.9h2.9v1.4h-2.9zM575.6 463.4h3.6v1.4h-3.6zM567.7 478.8h3.7v1.4h-3.7zM579.1 492.8h5.3v1.4h-5.3zM591.1 462.9h3.2v1.1h-3.2zM612.9 489.6h2.5v0.8h-2.5zM603.7 481.9h2.3v1.1h-2.3z"/><path fill="#60ceb0" d="M481.1 469.0h5.1v1.1h-5.1zM480.8 485.7h3.8v1.1h-3.8zM477.3 474.6h1.1v1.1h-1.1zM478.6 484.4h2.7v1.1h-2.7zM521.0 468.6h4.0v0.9h-4.0zM532.0 482.3h2.5v1.1h-2.5zM563.0 478.4h2.5v1.4h-2.5zM565.1 478.6h3.0v1.4h-3.0zM571.0 478.8h3.3v1.4h-3.3zM573.9 492.4h3.4v1.4h-3.4zM611.4 472.1h2.6v0.7h-2.6zM594.5 476.9h6.9v1.1h-6.9zM593.7 472.3h2.0v1.1h-2.0z"/><path fill="#7ad391" d="M475.4 474.4h2.1v1.1h-2.1zM482.2 484.5h2.9v1.1h-2.9zM478.7 483.0h3.2v1.1h-3.2zM482.0 484.2h2.9v1.1h-2.9zM506.9 482.5h2.6v1.3h-2.6zM524.8 472.7h3.8v0.8h-3.8zM524.3 468.1h3.0v0.8h-3.0zM520.9 468.6h1.2v1.1h-1.2zM524.8 468.9h1.5v1.1h-1.5zM519.5 469.7h3.4v1.1h-3.4zM532.7 481.7h1.9v1.1h-1.9zM573.1 463.2h3.0v1.4h-3.0zM577.9 478.2h3.6v1.4h-3.6zM591.4 462.7h1.2v1.1h-1.2zM601.8 481.4h2.0v1.1h-2.0z"/><path fill="#95d872" d="M479.3 465.4h3.3v1.0h-3.3zM478.0 485.6h5.8v0.9h-5.8zM486.8 472.7h2.5v1.2h-2.5zM484.1 469.7h4.3v0.7h-4.3zM477.1 473.7h2.4v1.1h-2.4zM475.6 477.5h4.2v1.1h-4.2zM479.9 474.3h3.2v1.1h-3.2zM481.0 486.1h2.8v1.1h-2.8zM478.8 475.7h1.4v1.1h-1.4zM479.1 482.5h3.2v1.1h-3.2zM482.8 483.7h1.7v1.1h-1.7zM509.1 482.7h4.6v1.3h-4.6zM523.2 468.5h3.5v1.1h-3.5zM523.6 467.9h1.2v1.1h-1.2zM532.8 479.6h2.1v1.1h-2.1zM532.2 479.0h2.2v1.1h-2.2zM529.2 481.9h2.5v1.1h-2.5zM581.1 478.0h4.5v1.4h-4.5zM563.0 485.1h5.3v1.4h-5.3zM566.0 492.4h3.7v1.4h-3.7zM591.0 462.5h1.8v1.1h-1.8z"/><path fill="#aedb57" d="M476.8 477.4h3.5v1.1h-3.5zM479.4 476.8h3.2v1.1h-3.2zM482.2 483.6h1.0v1.1h-1.0zM478.7 475.8h2.0v1.1h-2.0zM479.4 475.5h2.9v1.1h-2.9zM480.1 475.2h2.5v1.1h-2.5zM510.0 475.2h5.3v1.3h-5.3zM523.9 468.1h1.4v1.1h-1.4zM522.4 467.7h1.6v1.1h-1.6zM530.1 481.7h2.3v1.1h-2.3zM578.7 484.4h4.7v1.4h-4.7zM582.9 484.7h3.5v1.4h-3.5zM589.5 462.8h3.3v1.1h-3.3zM590.8 462.1h1.5v1.1h-1.5zM588.5 462.7h3.2v1.1h-3.2zM600.0 484.0h3.6v1.1h-3.6zM600.6 481.7h3.0v1.1h-3.0z"/><path fill="#c6da48" d="M479.6 475.1h3.4v1.1h-3.4zM479.4 476.4h3.2v1.1h-3.2zM479.8 474.8h3.1v1.1h-3.1zM478.5 485.0h1.7v1.1h-1.7zM479.4 485.1h1.3v1.1h-1.3zM477.5 485.3h3.8v1.1h-3.8zM481.6 484.3h3.1v1.1h-3.1zM479.1 473.9h1.0v1.1h-1.0zM477.9 475.4h2.2v1.1h-2.2zM482.0 484.4h1.1v1.1h-1.1zM523.1 470.7h3.3v1.1h-3.3zM523.4 468.0h1.9v1.1h-1.9zM523.3 469.6h3.0v1.1h-3.0zM523.4 468.1h2.0v1.1h-2.0zM530.7 481.8h3.3v1.1h-3.3zM533.1 480.2h2.1v1.1h-2.1zM570.5 484.9h2.8v1.4h-2.8zM590.0 462.9h1.4v1.1h-1.4zM589.1 462.6h2.2v1.1h-2.2zM589.6 462.2h2.5v1.1h-2.5zM603.9 482.4h1.8v1.1h-1.8zM603.3 483.9h2.5v1.1h-2.5zM599.6 483.6h2.7v1.1h-2.7z"/><path fill="#ded839" d="M478.7 474.4h3.3v1.1h-3.3zM477.2 473.6h4.2v1.1h-4.2zM480.5 483.2h1.4v1.1h-1.4zM477.3 474.1h2.5v1.1h-2.5zM513.3 482.7h2.1v1.3h-2.1zM522.0 468.3h2.4v1.1h-2.4zM524.4 469.3h2.0v1.1h-2.0zM521.4 470.7h1.8v1.1h-1.8zM528.7 479.7h3.5v1.1h-3.5zM532.7 480.1h2.0v1.1h-2.0zM573.8 478.6h4.4v1.4h-4.4zM590.7 462.7h1.2v1.1h-1.2zM601.2 483.6h1.6v1.1h-1.6zM600.5 483.9h3.8v1.1h-3.8z"/><path fill="#f6d72a" d="M477.6 474.0h1.8v1.1h-1.8zM476.2 477.0h4.1v1.1h-4.1zM478.3 483.8h2.7v1.1h-2.7zM481.3 484.2h2.1v1.1h-2.1zM478.8 483.3h3.0v1.1h-3.0zM480.1 474.7h2.2v1.1h-2.2zM478.3 474.8h2.3v1.1h-2.3zM481.4 483.5h1.9v1.1h-1.9zM480.7 482.9h2.7v1.1h-2.7zM510.9 488.3h4.5v1.3h-4.5zM522.1 470.4h3.3v1.1h-3.3zM520.5 469.4h3.3v1.1h-3.3zM520.1 468.9h3.8v1.1h-3.8zM521.0 468.9h2.3v1.1h-2.3zM520.8 468.5h3.2v1.1h-3.2zM523.7 468.9h1.8v1.1h-1.8zM530.6 480.2h2.0v1.1h-2.0zM530.0 480.4h2.9v1.1h-2.9zM529.6 480.6h3.0v1.1h-3.0zM532.9 480.5h2.5v1.1h-2.5zM600.8 482.2h2.3v1.1h-2.3zM600.8 482.0h2.5v1.1h-2.5zM600.3 482.1h3.5v1.1h-3.5zM600.7 482.8h1.7v1.1h-1.7zM600.4 483.4h1.7v1.1h-1.7z"/><path fill="#f7be25" d="M478.3 485.4h3.8v1.1h-3.8zM482.0 484.2h1.2v1.1h-1.2zM478.7 474.2h1.3v1.1h-1.3zM478.7 475.2h1.4v1.1h-1.4zM513.1 470.0h2.3v1.3h-2.3zM507.3 475.5h3.2v1.3h-3.2zM523.4 468.4h1.5v1.1h-1.5zM522.1 469.0h1.5v1.1h-1.5zM521.6 470.2h3.7v1.1h-3.7zM522.5 470.1h3.0v1.1h-3.0zM531.5 481.1h2.1v1.1h-2.1zM531.6 480.5h1.9v1.1h-1.9zM529.6 480.9h3.4v1.1h-3.4zM529.6 481.1h3.3v1.1h-3.3zM529.4 479.5h3.7v1.1h-3.7zM531.5 481.2h1.6v1.1h-1.6zM563.0 471.1h3.9v1.4h-3.9zM582.3 470.8h5.1v1.4h-5.1z"/><path fill="#f4a122" d="M479.4 474.3h1.1v1.1h-1.1zM477.4 476.8h3.3v1.1h-3.3zM479.3 483.7h3.3v1.1h-3.3zM478.6 474.9h2.6v1.1h-2.6zM482.0 483.4h1.9v1.1h-1.9zM503.0 482.1h4.3v1.3h-4.3zM506.0 488.0h2.6v1.3h-2.6zM508.2 488.0h3.1v1.3h-3.1zM521.9 470.1h3.3v1.1h-3.3zM531.0 479.9h3.3v1.1h-3.3zM532.1 480.5h1.0v1.1h-1.0zM601.3 482.7h2.6v1.1h-2.6z"/><path fill="#f28520" d="M478.5 476.5h1.0v1.1h-1.0zM475.9 475.2h2.7v1.1h-2.7zM480.4 484.4h1.6v1.1h-1.6zM503.0 470.7h4.9v1.3h-4.9zM510.1 470.3h3.4v1.3h-3.4zM514.9 475.0h0.5v1.3h-0.5zM567.9 485.1h3.0v1.4h-3.0zM602.1 483.0h1.0v1.1h-1.0zM602.1 483.5h3.7v1.1h-3.7z"/><path fill="#ee6a1d" d="M479.6 474.8h1.4v1.1h-1.4zM478.4 475.7h1.8v1.1h-1.8zM477.0 476.0h2.0v1.1h-2.0zM481.1 484.6h1.8v1.1h-1.8zM478.4 484.4h3.8v1.1h-3.8zM503.0 475.7h4.7v1.3h-4.7zM503.0 488.0h3.4v1.3h-3.4zM571.2 471.6h4.3v1.4h-4.3zM575.1 471.4h3.3v1.4h-3.3zM601.5 483.1h3.8v1.1h-3.8z"/><path fill="#e4571b" d="M478.4 475.6h3.9v1.1h-3.9zM478.5 475.7h2.5v1.1h-2.5zM478.8 475.8h1.2v1.1h-1.2zM477.3 474.7h2.7v1.1h-2.7zM478.2 475.4h3.0v1.1h-3.0zM566.5 471.4h5.1v1.4h-5.1zM601.8 483.4h1.3v1.1h-1.3z"/><path fill="#db4418" d="M478.6 475.1h1.6v1.1h-1.6zM477.9 475.2h2.5v1.1h-2.5zM507.5 470.5h3.0v1.3h-3.0zM572.9 484.7h3.3v1.4h-3.3zM575.7 484.5h3.3v1.4h-3.3z"/><path fill="#c81e14" d="M578.0 471.1h4.7v1.4h-4.7z"/></g><clipPath id="cf2"><rect x="471.3" y="507.9" width="213.2" height="36.1"/></clipPath><g clip-path="url(#cf2)" filter="url(#sb)"><path fill="#113093" d="M478.9 521.5h6.0v1.0h-6.0zM516.6 512.9h4.7v0.8h-4.7zM506.2 529.2h2.9v1.1h-2.9zM518.8 523.3h2.3v1.1h-2.3zM520.2 520.2h3.2v1.0h-3.2z"/><path fill="#113093" opacity="0.7" d="M613.0 511.7h22.5v2.1h-22.5zM613.0 519.3h22.5v2.1h-22.5zM613.0 524.6h22.5v2.1h-22.5zM613.0 529.7h22.5v2.1h-22.5zM613.0 537.4h22.5v2.1h-22.5z"/><path fill="#133aa6" d="M487.0 525.9h6.3v1.1h-6.3zM481.0 509.4h3.8v1.1h-3.8zM486.3 536.6h6.0v0.8h-6.0zM481.6 514.9h6.9v0.9h-6.9zM489.0 527.2h2.1v1.0h-2.1zM488.7 531.4h2.1v1.1h-2.1zM512.3 533.0h4.7v1.2h-4.7zM497.3 526.3h4.4v0.8h-4.4zM515.3 536.0h5.8v1.0h-5.8zM530.4 521.9h4.8v0.8h-4.8zM544.6 526.7h2.7v1.2h-2.7zM532.8 510.7h1.7v1.0h-1.7zM548.5 509.0h2.6v0.8h-2.6zM528.6 513.1h4.0v1.1h-4.0zM579.9 509.8h5.3v0.8h-5.3zM579.6 519.1h5.7v1.0h-5.7zM565.2 526.3h6.2v1.0h-6.2zM576.9 527.6h1.2v1.1h-1.2zM560.5 523.4h5.6v1.1h-5.6zM560.6 514.0h2.0v1.1h-2.0zM575.1 536.4h4.6v1.1h-4.6zM573.7 536.4h3.5v1.1h-3.5zM608.5 515.4h1.9v0.7h-1.9zM604.2 517.4h6.2v1.0h-6.2zM588.8 526.7h5.1v0.8h-5.1zM608.7 530.4h4.3v1.2h-4.3zM595.7 526.7h6.6v0.9h-6.6zM595.8 526.1h6.0v1.1h-6.0zM592.1 511.5h1.8v0.8h-1.8z"/><path fill="#1749b3" d="M479.2 538.0h3.2v0.8h-3.2zM488.1 513.9h6.1v0.7h-6.1zM484.6 515.2h2.8v1.0h-2.8zM484.2 521.8h6.9v1.0h-6.9zM517.0 527.3h2.0v0.7h-2.0zM496.4 519.6h4.1v0.8h-4.1zM516.3 524.6h4.0v0.8h-4.0zM532.0 526.6h1.6v1.0h-1.6zM544.2 522.5h3.6v1.0h-3.6zM543.6 508.0h2.7v1.1h-2.7zM536.8 515.0h4.6v1.1h-4.6zM529.7 511.7h5.3v1.1h-5.3zM529.4 517.0h1.1v1.1h-1.1zM537.2 509.4h4.1v1.1h-4.1zM568.2 540.2h6.3v1.2h-6.3zM572.1 539.3h5.9v0.7h-5.9zM563.1 517.8h4.5v1.1h-4.5zM569.9 529.1h3.6v1.1h-3.6zM563.4 528.6h1.8v1.1h-1.8zM577.4 523.2h2.5v1.1h-2.5zM566.9 517.2h4.1v1.1h-4.1zM587.9 519.7h5.5v1.1h-5.5zM606.5 508.9h5.9v0.7h-5.9zM603.0 509.2h3.1v1.1h-3.1zM595.2 516.2h4.3v1.2h-4.3zM600.2 521.8h6.1v1.1h-6.1zM598.5 522.3h3.6v1.1h-3.6z"/><path fill="#1c5abf" d="M484.5 515.2h4.0v0.8h-4.0zM480.1 520.9h6.7v0.8h-6.7zM480.5 534.3h4.3v0.8h-4.3zM486.3 526.3h2.0v0.8h-2.0zM502.2 517.8h4.5v1.0h-4.5zM544.7 533.8h3.4v1.0h-3.4zM534.8 512.6h2.4v1.0h-2.4zM549.6 536.2h1.5v1.2h-1.5zM548.8 526.9h2.3v1.1h-2.3zM545.8 509.4h2.3v1.1h-2.3zM535.0 530.6h6.5v1.1h-6.5zM532.6 508.3h3.2v1.1h-3.2zM536.0 519.9h3.3v1.1h-3.3zM540.9 517.7h2.2v1.1h-2.2zM535.7 508.9h2.9v1.1h-2.9zM531.6 509.2h6.4v1.1h-6.4zM541.1 517.1h2.6v1.1h-2.6zM539.9 517.4h4.2v1.1h-4.2zM542.1 514.5h2.9v1.1h-2.9zM571.2 512.2h2.4v1.2h-2.4zM581.8 530.5h2.0v1.1h-2.0zM562.5 541.4h4.6v1.0h-4.6zM563.5 519.5h3.1v1.1h-3.1zM565.3 517.7h6.0v1.1h-6.0zM564.0 531.6h3.8v1.1h-3.8zM564.4 517.0h3.7v1.1h-3.7zM561.2 524.1h3.9v1.1h-3.9zM569.8 516.0h1.0v1.1h-1.0zM570.5 537.0h2.5v1.1h-2.5zM592.0 535.5h3.2v0.9h-3.2zM598.5 518.6h2.8v1.2h-2.8zM601.1 532.6h6.8v0.9h-6.8zM599.7 528.4h1.8v0.8h-1.8zM592.1 516.2h1.7v1.2h-1.7zM595.7 521.3h1.3v1.1h-1.3zM592.1 522.7h3.1v1.1h-3.1zM596.0 527.7h2.0v1.1h-2.0zM591.7 522.9h3.7v1.1h-3.7zM593.5 510.4h2.8v1.1h-2.8z"/><path fill="#216acb" d="M492.3 513.9h3.4v0.7h-3.4zM485.6 522.9h2.7v0.8h-2.7zM485.9 533.9h4.6v1.0h-4.6zM483.9 541.0h6.8v0.8h-6.8zM479.4 538.5h5.6v1.1h-5.6zM493.7 533.0h1.7v0.8h-1.7zM485.8 520.9h5.8v1.1h-5.8zM478.8 515.9h5.9v0.8h-5.9zM484.1 524.3h5.1v1.0h-5.1zM488.7 537.8h2.7v0.8h-2.7zM490.3 508.0h4.3v0.8h-4.3zM487.8 523.9h6.4v0.9h-6.4zM537.9 533.0h4.4v1.0h-4.4zM532.3 516.2h4.1v1.0h-4.1zM540.5 514.0h4.8v0.7h-4.8zM529.5 511.5h3.7v0.7h-3.7zM548.2 512.9h2.8v1.1h-2.8zM541.3 512.2h1.5v1.1h-1.5zM535.0 510.3h4.0v1.1h-4.0zM526.5 514.6h3.7v1.1h-3.7zM537.6 508.7h5.4v1.1h-5.4zM526.3 515.2h4.7v1.1h-4.7zM530.9 511.2h5.5v1.1h-5.5zM561.8 526.7h2.3v0.7h-2.3zM579.6 519.1h4.7v0.8h-4.7zM561.7 535.7h6.9v1.2h-6.9zM572.4 527.2h5.0v1.1h-5.0zM565.7 529.2h6.3v1.1h-6.3zM575.2 521.5h6.3v1.1h-6.3zM561.3 524.9h4.0v1.1h-4.0zM572.2 516.6h5.9v1.1h-5.9zM570.3 517.7h1.1v1.1h-1.1zM568.3 517.1h5.1v1.1h-5.1zM563.9 519.8h3.2v1.1h-3.2zM574.7 520.1h2.5v1.1h-2.5zM560.4 513.5h1.7v1.1h-1.7zM559.1 512.6h2.5v1.1h-2.5zM605.8 534.3h3.5v0.9h-3.5zM605.0 515.5h6.0v1.0h-6.0zM607.7 524.5h2.9v1.0h-2.9zM595.1 534.2h6.7v0.9h-6.7zM607.9 538.1h3.0v0.9h-3.0zM596.5 525.1h5.4v1.0h-5.4zM605.4 508.3h3.6v1.1h-3.6zM610.7 523.5h2.8v0.9h-2.8zM586.8 511.7h3.1v0.7h-3.1zM587.1 508.7h4.2v1.1h-4.2zM585.5 511.6h2.2v1.1h-2.2zM591.1 508.6h1.8v1.1h-1.8zM634.3 511.9h1.1v1.3h-1.1z"/><path fill="#267bd7" d="M482.9 525.9h5.1v0.9h-5.1zM489.7 521.9h1.8v1.2h-1.8zM486.7 528.3h3.2v1.0h-3.2zM490.0 513.5h5.7v0.9h-5.7zM486.4 541.1h5.7v0.8h-5.7zM481.4 527.4h2.5v1.0h-2.5zM484.3 522.9h6.1v0.7h-6.1zM493.0 509.4h2.7v1.0h-2.7zM487.1 514.7h4.6v1.0h-4.6zM497.9 512.7h3.1v1.0h-3.1zM495.7 523.9h4.1v1.0h-4.1zM499.4 524.7h4.7v1.0h-4.7zM525.0 524.7h3.2v1.0h-3.2zM520.5 534.0h5.1v1.0h-5.1zM537.0 518.9h7.0v1.0h-7.0zM538.5 517.2h2.6v0.8h-2.6zM540.4 537.8h6.4v1.0h-6.4zM533.5 511.7h4.7v0.8h-4.7zM536.6 535.8h2.0v0.8h-2.0zM528.6 513.4h6.3v0.8h-6.3zM542.5 508.1h3.6v1.2h-3.6zM529.4 525.8h6.2v0.8h-6.2zM536.9 510.4h4.1v1.1h-4.1zM533.1 511.0h3.8v1.1h-3.8zM570.7 542.9h2.9v1.1h-2.9zM579.3 538.2h2.7v0.7h-2.7zM581.5 516.2h1.6v0.8h-1.6zM573.5 530.1h5.5v0.9h-5.5zM569.2 521.8h1.5v1.0h-1.5zM569.7 541.1h3.6v1.1h-3.6zM562.5 523.1h3.6v1.1h-3.6zM570.6 531.1h3.1v1.1h-3.1zM594.7 535.7h5.0v1.0h-5.0zM594.1 535.3h5.4v0.9h-5.4zM607.6 511.0h4.0v1.0h-4.0zM599.4 521.4h2.1v1.1h-2.1zM593.3 519.2h2.5v0.9h-2.5zM601.9 528.6h3.2v0.7h-3.2zM599.0 529.4h6.4v0.9h-6.4zM599.2 512.4h1.9v1.0h-1.9zM595.6 533.8h5.0v1.2h-5.0zM606.9 516.8h2.9v0.9h-2.9zM605.2 534.1h3.4v1.0h-3.4zM598.2 540.6h6.4v1.2h-6.4zM596.6 527.0h4.0v1.1h-4.0zM594.3 510.9h3.2v1.1h-3.2zM613.5 512.3h3.6v1.3h-3.6zM613.5 537.4h4.1v1.3h-4.1zM633.7 537.5h1.7v1.3h-1.7z"/><path fill="#2a8cdc" d="M491.5 536.2h4.2v1.0h-4.2zM489.3 513.1h4.3v0.7h-4.3zM485.5 535.1h5.5v0.9h-5.5zM494.2 531.0h1.5v0.8h-1.5zM484.8 542.9h5.5v0.8h-5.5zM486.8 526.7h2.2v1.1h-2.2zM483.8 509.8h5.2v0.9h-5.2zM483.1 530.2h5.6v1.1h-5.6zM484.1 535.3h2.8v1.0h-2.8zM483.3 524.3h6.8v0.8h-6.8zM490.7 516.3h5.0v1.0h-5.0zM500.8 535.1h3.2v1.0h-3.2zM495.7 537.4h2.7v1.0h-2.7zM514.5 537.6h2.5v1.0h-2.5zM532.4 532.7h6.6v1.1h-6.6zM536.2 511.5h4.7v0.7h-4.7zM535.4 515.9h2.7v0.8h-2.7zM537.0 534.5h6.1v1.1h-6.1zM531.7 512.1h4.7v1.1h-4.7zM538.1 510.9h1.9v1.0h-1.9zM533.2 513.7h2.8v1.1h-2.8zM570.8 532.8h1.6v1.0h-1.6zM576.7 519.4h4.5v0.8h-4.5zM583.2 542.6h3.0v0.8h-3.0zM577.8 525.7h6.4v1.0h-6.4zM579.7 529.8h2.7v1.1h-2.7zM565.7 531.6h6.9v0.9h-6.9zM571.2 529.2h5.2v1.1h-5.2zM563.6 525.0h1.7v1.1h-1.7zM575.7 530.9h1.1v1.1h-1.1zM578.6 535.6h1.9v1.1h-1.9zM597.5 532.5h4.9v1.0h-4.9zM600.0 528.0h3.1v1.1h-3.1zM589.9 508.7h4.1v0.7h-4.1zM608.7 531.0h2.2v0.9h-2.2zM590.1 519.8h4.3v0.9h-4.3zM595.7 513.4h5.5v0.8h-5.5zM609.9 526.4h3.6v1.2h-3.6zM587.7 515.1h6.5v0.9h-6.5zM609.4 519.2h3.0v1.0h-3.0zM611.9 525.2h1.6v1.0h-1.6zM610.2 515.6h2.7v0.8h-2.7z"/><path fill="#2f9cdc" d="M491.8 523.6h3.9v1.1h-3.9zM491.3 541.0h4.4v0.9h-4.4zM490.1 526.0h2.3v1.0h-2.3zM490.0 532.9h5.7v0.8h-5.7zM478.3 531.3h5.1v1.0h-5.1zM486.5 536.3h6.6v0.7h-6.6zM488.7 530.1h2.3v0.7h-2.3zM481.3 525.2h1.8v0.8h-1.8zM489.0 512.8h6.6v1.0h-6.6zM520.7 512.2h2.5v1.0h-2.5zM514.0 519.5h4.3v1.0h-4.3zM533.9 534.0h6.7v1.1h-6.7zM530.9 521.8h4.5v0.8h-4.5zM547.3 517.6h3.8v0.8h-3.8zM546.8 519.0h4.3v0.8h-4.3zM536.7 527.7h3.1v0.9h-3.1zM536.9 539.2h6.7v1.1h-6.7zM546.1 537.2h5.0v1.1h-5.0zM530.3 525.2h5.4v1.0h-5.4zM547.9 514.2h3.2v0.9h-3.2zM569.8 522.2h6.9v1.1h-6.9zM579.1 517.6h3.4v1.0h-3.4zM566.0 530.3h6.2v0.9h-6.2zM584.6 516.6h1.6v1.2h-1.6zM573.3 541.0h6.3v0.8h-6.3zM581.3 520.3h1.9v1.1h-1.9zM581.9 532.6h4.3v0.7h-4.3zM579.2 528.3h6.3v0.9h-6.3zM580.1 510.9h3.7v1.1h-3.7zM570.5 533.5h5.9v0.9h-5.9zM568.7 516.7h2.6v0.8h-2.6zM582.2 533.8h4.0v1.0h-4.0zM566.8 523.8h4.0v1.2h-4.0zM571.6 510.6h5.9v0.9h-5.9zM563.8 526.1h4.2v1.2h-4.2zM581.9 517.6h3.8v0.9h-3.8zM573.5 521.0h2.5v1.1h-2.5zM561.7 511.4h3.3v1.1h-3.3zM565.2 510.6h1.5v1.1h-1.5zM576.1 532.0h4.8v1.1h-4.8zM574.9 535.8h4.7v1.1h-4.7zM578.6 534.3h1.3v1.1h-1.3zM590.4 528.1h6.4v0.9h-6.4zM599.9 528.6h2.7v1.1h-2.7zM610.3 519.9h2.5v1.1h-2.5zM588.5 518.6h3.8v0.9h-3.8zM605.3 508.3h3.2v1.0h-3.2zM602.9 532.0h7.0v1.1h-7.0zM609.1 525.3h1.8v1.1h-1.8zM597.2 525.2h5.3v1.0h-5.3zM592.8 525.8h3.8v0.8h-3.8zM602.4 533.1h3.5v0.8h-3.5zM591.5 535.8h6.9v0.8h-6.9zM597.9 521.9h1.0v1.1h-1.0zM631.9 511.7h2.8v1.3h-2.8z"/><path fill="#34addc" d="M492.2 538.8h2.7v0.9h-2.7zM483.1 524.2h2.6v0.9h-2.6zM488.7 533.7h6.5v0.8h-6.5zM492.8 522.9h2.9v0.7h-2.9zM491.2 532.5h4.5v0.9h-4.5zM492.8 538.8h2.9v1.1h-2.9zM489.7 523.4h2.9v1.1h-2.9zM481.8 518.4h6.2v0.9h-6.2zM490.8 511.9h2.6v1.1h-2.6zM478.2 533.6h6.5v0.8h-6.5zM495.7 518.9h4.9v1.0h-4.9zM524.0 518.2h4.2v1.0h-4.2zM523.0 524.4h2.5v1.0h-2.5zM510.8 530.3h4.0v1.0h-4.0zM510.0 534.3h3.2v1.0h-3.2zM512.5 538.0h2.4v1.0h-2.4zM521.3 537.5h5.3v1.0h-5.3zM526.1 538.5h2.1v1.0h-2.1zM542.6 521.9h6.1v0.9h-6.1zM532.0 518.3h2.1v1.0h-2.1zM547.2 510.2h3.9v1.1h-3.9zM530.2 509.0h5.1v0.8h-5.1zM528.2 515.9h5.1v1.2h-5.1zM540.2 517.9h3.3v1.2h-3.3zM542.9 532.8h2.5v0.7h-2.5zM532.2 529.0h3.8v1.2h-3.8zM529.8 512.9h2.0v1.0h-2.0zM544.1 539.3h6.0v0.9h-6.0zM540.9 523.6h3.7v1.0h-3.7zM541.5 513.2h4.5v0.9h-4.5zM527.9 537.0h2.8v1.0h-2.8zM541.0 520.8h4.1v1.0h-4.1zM543.9 529.6h1.9v0.8h-1.9zM537.3 514.2h3.6v0.8h-3.6zM533.5 537.0h5.6v0.8h-5.6zM550.0 537.7h1.1v0.8h-1.1zM540.5 516.6h2.8v1.1h-2.8zM578.5 527.5h3.9v0.9h-3.9zM566.7 537.8h4.4v1.1h-4.4zM573.0 543.0h4.1v1.1h-4.1zM575.8 520.6h1.6v0.7h-1.6zM565.8 526.9h3.0v0.8h-3.0zM570.1 509.2h3.0v0.9h-3.0zM574.1 527.5h4.3v0.8h-4.3zM561.8 514.4h4.2v0.9h-4.2zM570.0 512.5h2.6v1.1h-2.6zM561.5 530.3h4.3v0.9h-4.3zM579.4 542.6h3.4v1.0h-3.4zM569.2 509.7h2.4v1.0h-2.4zM570.7 540.6h2.3v0.8h-2.3zM564.2 517.1h2.0v0.7h-2.0zM567.9 519.4h2.4v0.8h-2.4zM570.5 530.4h5.2v0.7h-5.2zM569.4 539.4h3.0v0.9h-3.0zM567.5 524.4h5.1v0.7h-5.1zM573.7 513.2h6.4v1.1h-6.4zM564.4 519.7h4.0v1.1h-4.0zM570.2 527.7h4.1v1.1h-4.1zM561.7 513.7h1.8v1.1h-1.8zM576.1 535.4h2.4v1.1h-2.4zM569.7 532.5h2.6v1.1h-2.6zM605.1 526.8h1.5v1.2h-1.5zM601.0 513.8h3.9v1.0h-3.9zM605.7 515.6h4.1v1.0h-4.1zM610.1 541.9h3.4v1.0h-3.4zM606.7 532.6h6.1v0.8h-6.1zM604.8 530.9h3.6v1.1h-3.6zM595.4 542.6h6.4v0.8h-6.4zM595.8 515.7h4.3v0.7h-4.3zM595.9 509.5h3.2v1.1h-3.2zM600.0 516.5h6.2v1.0h-6.2zM609.2 512.5h4.3v1.1h-4.3zM595.3 535.2h4.3v1.0h-4.3zM591.8 532.4h4.0v1.0h-4.0zM599.6 523.7h1.6v1.1h-1.6zM593.3 522.2h3.3v1.1h-3.3zM619.6 512.4h3.1v1.3h-3.1z"/><path fill="#39bedc" d="M492.4 510.6h2.0v0.8h-2.0zM480.7 510.3h6.1v1.0h-6.1zM493.9 540.4h1.8v1.0h-1.8zM481.6 510.4h2.1v1.1h-2.1zM479.0 527.4h4.6v1.1h-4.6zM480.0 510.4h5.6v0.7h-5.6zM483.0 509.7h3.7v0.8h-3.7zM482.0 539.1h4.8v1.1h-4.8zM487.9 524.6h3.8v0.8h-3.8zM480.7 537.5h6.8v0.8h-6.8zM509.5 512.9h4.2v1.0h-4.2zM513.3 512.1h3.0v1.0h-3.0zM513.4 523.3h2.7v1.0h-2.7zM515.7 523.2h4.6v1.0h-4.6zM498.0 537.8h2.8v1.0h-2.8zM503.3 538.9h5.0v1.0h-5.0zM516.6 537.3h5.1v1.0h-5.1zM541.8 513.0h2.6v0.9h-2.6zM537.2 509.8h3.1v1.0h-3.1zM541.0 538.3h3.3v1.1h-3.3zM528.1 509.1h4.8v0.9h-4.8zM536.3 519.7h6.2v0.7h-6.2zM548.3 525.6h2.8v1.1h-2.8zM529.2 510.3h6.4v1.1h-6.4zM532.8 530.4h1.7v0.9h-1.7zM536.5 511.5h5.7v1.1h-5.7zM564.3 529.1h5.2v1.1h-5.2zM562.1 533.5h3.0v1.0h-3.0zM579.8 542.6h1.6v0.9h-1.6zM576.9 540.5h6.7v0.7h-6.7zM568.5 522.9h2.2v0.7h-2.2zM567.2 526.9h2.0v1.1h-2.0zM574.6 508.5h1.6v0.7h-1.6zM577.9 535.2h1.6v0.8h-1.6zM573.5 535.9h5.0v1.1h-5.0zM561.6 528.0h2.4v1.2h-2.4zM571.0 515.8h1.6v0.7h-1.6zM565.6 523.2h2.3v0.8h-2.3zM568.4 508.0h6.3v1.1h-6.3zM582.1 510.3h2.3v1.1h-2.3zM572.0 529.5h4.4v0.9h-4.4zM567.6 534.7h3.5v1.0h-3.5zM572.8 536.7h5.7v1.0h-5.7zM585.0 533.3h1.2v1.2h-1.2zM567.0 539.9h1.6v1.0h-1.6zM573.1 522.5h3.9v1.1h-3.9zM565.5 527.1h3.1v1.1h-3.1zM564.3 520.9h2.8v1.1h-2.8zM562.3 515.0h2.0v1.1h-2.0zM573.0 530.7h4.8v1.1h-4.8zM590.5 535.3h2.6v0.7h-2.6zM586.3 535.6h4.2v0.9h-4.2zM596.1 541.0h3.5v1.1h-3.5zM607.7 538.4h4.6v0.9h-4.6zM602.4 513.1h5.8v0.8h-5.8zM599.2 515.7h1.9v1.0h-1.9zM587.7 531.0h6.6v0.9h-6.6zM609.2 517.8h1.8v1.0h-1.8zM608.6 530.8h4.9v1.0h-4.9zM607.6 539.0h4.3v0.9h-4.3zM599.9 529.2h1.8v1.1h-1.8zM598.1 515.9h1.7v1.2h-1.7zM593.8 533.5h3.4v1.1h-3.4zM605.5 532.0h6.2v1.2h-6.2zM588.4 527.3h3.7v0.8h-3.7zM591.6 519.2h6.5v0.8h-6.5zM592.6 512.2h4.1v1.2h-4.1zM598.4 522.7h2.5v1.1h-2.5zM624.5 512.0h5.4v1.3h-5.4zM630.1 537.9h4.0v1.3h-4.0z"/><path fill="#46c9cf" d="M482.9 516.2h2.1v0.8h-2.1zM480.5 518.9h2.0v0.8h-2.0zM483.4 534.0h6.9v1.0h-6.9zM487.6 541.7h4.9v0.8h-4.9zM479.4 510.7h4.8v1.1h-4.8zM490.5 518.5h5.2v1.1h-5.2zM492.6 538.4h2.5v1.2h-2.5zM489.4 513.3h6.1v1.1h-6.1zM486.7 534.2h5.9v1.2h-5.9zM485.6 512.9h5.1v0.9h-5.1zM494.0 511.1h1.7v0.8h-1.7zM494.5 521.3h1.2v0.9h-1.2zM479.9 508.5h6.5v1.0h-6.5zM486.6 508.3h4.7v0.9h-4.7zM482.8 540.7h3.2v0.7h-3.2zM495.7 512.2h2.6v1.0h-2.6zM500.6 513.2h5.1v1.0h-5.1zM515.9 511.8h5.2v1.0h-5.2zM522.9 512.6h4.3v1.0h-4.3zM510.7 519.0h3.8v1.0h-3.8zM506.7 524.6h3.3v1.0h-3.3zM514.9 533.5h3.2v1.0h-3.2zM500.5 538.4h3.3v1.0h-3.3zM527.9 524.3h3.7v0.7h-3.7zM535.1 528.4h3.2v0.7h-3.2zM537.0 535.5h1.8v0.8h-1.8zM532.7 517.4h2.3v1.2h-2.3zM542.6 517.0h2.0v0.8h-2.0zM528.5 515.0h3.5v1.1h-3.5zM547.0 535.7h4.1v1.0h-4.1zM545.8 521.4h3.3v0.8h-3.3zM535.2 508.6h4.0v1.2h-4.0zM530.9 524.5h6.8v0.9h-6.8zM536.5 533.4h1.5v0.7h-1.5zM535.3 539.1h6.6v1.0h-6.6zM527.9 538.1h1.7v0.8h-1.7zM530.0 514.1h4.1v1.1h-4.1zM530.1 512.8h4.6v1.1h-4.6zM535.8 511.0h3.6v1.1h-3.6zM561.8 537.6h6.6v1.0h-6.6zM579.6 517.1h5.7v0.8h-5.7zM569.3 526.0h2.8v0.7h-2.8zM562.2 527.5h6.2v1.0h-6.2zM582.8 528.9h1.9v1.1h-1.9zM571.3 515.0h6.6v1.1h-6.6zM566.0 530.0h3.8v0.8h-3.8zM579.1 509.4h4.5v0.8h-4.5zM577.5 523.3h5.6v1.1h-5.6zM574.0 518.9h2.3v0.8h-2.3zM570.7 523.6h6.0v1.0h-6.0zM583.7 543.0h2.1v0.9h-2.1zM569.0 531.4h6.4v0.8h-6.4zM562.3 523.0h5.1v1.2h-5.1zM563.8 527.5h4.4v0.7h-4.4zM578.5 526.2h3.0v0.8h-3.0zM572.7 523.5h3.5v1.1h-3.5zM569.7 518.7h3.3v1.1h-3.3zM570.6 527.7h3.9v1.1h-3.9zM563.3 522.1h3.6v1.1h-3.6zM573.6 523.2h2.2v1.1h-2.2zM571.7 526.3h4.4v1.1h-4.4zM568.4 512.5h1.7v1.1h-1.7zM566.9 511.8h3.1v1.1h-3.1zM573.8 535.8h2.1v1.1h-2.1zM569.2 532.8h4.7v1.1h-4.7zM598.2 511.0h4.0v0.8h-4.0zM593.8 522.0h6.7v1.1h-6.7zM591.2 524.9h6.7v1.0h-6.7zM592.4 509.7h6.3v1.0h-6.3zM589.8 523.3h5.9v1.1h-5.9zM594.1 538.5h4.5v0.8h-4.5zM597.9 528.7h5.9v1.2h-5.9zM598.8 541.8h3.6v0.9h-3.6zM589.3 515.9h4.4v0.8h-4.4zM595.2 518.8h4.2v1.2h-4.2zM589.0 522.3h6.3v0.8h-6.3zM610.3 526.4h3.1v0.9h-3.1zM608.9 540.7h4.6v0.8h-4.6zM590.8 527.0h4.0v0.8h-4.0zM586.5 514.4h2.7v0.9h-2.7zM592.2 511.1h3.5v0.8h-3.5zM599.5 523.9h1.2v1.1h-1.2zM598.7 524.6h3.3v1.1h-3.3zM587.8 509.9h3.0v1.1h-3.0zM629.5 511.7h2.8v1.3h-2.8z"/><path fill="#60ceb0" d="M486.4 536.8h1.5v0.9h-1.5zM484.1 542.0h3.6v1.1h-3.6zM481.1 530.6h5.0v1.0h-5.0zM482.7 534.4h2.4v1.2h-2.4zM489.1 511.9h2.3v1.2h-2.3zM489.4 540.0h4.1v0.7h-4.1zM478.5 512.5h3.7v1.1h-3.7zM483.0 509.3h2.4v1.0h-2.4zM492.2 529.7h3.5v1.1h-3.5zM481.5 531.0h6.8v1.0h-6.8zM478.8 529.5h3.2v0.9h-3.2zM480.2 520.4h4.0v1.1h-4.0zM505.3 513.6h4.6v1.0h-4.6zM517.9 519.4h2.4v1.0h-2.4zM503.7 524.9h3.4v1.0h-3.4zM509.7 523.9h4.1v1.0h-4.1zM519.9 523.7h3.4v1.0h-3.4zM499.7 530.4h3.4v1.0h-3.4zM506.4 529.7h2.5v1.0h-2.5zM514.4 531.1h4.7v1.0h-4.7zM522.9 530.9h5.3v1.0h-5.3zM495.7 534.1h3.1v1.0h-3.1zM503.6 535.3h4.7v1.0h-4.7zM536.6 513.6h3.5v1.1h-3.5zM541.1 538.0h3.6v1.0h-3.6zM546.6 535.0h4.5v1.1h-4.5zM533.8 514.9h4.0v1.1h-4.0zM547.3 536.1h3.1v1.2h-3.1zM536.4 538.2h3.1v1.1h-3.1zM543.7 529.9h5.6v0.8h-5.6zM528.3 525.2h5.2v1.1h-5.2zM539.7 512.8h4.4v0.8h-4.4zM545.4 508.4h1.9v1.0h-1.9zM548.0 533.9h3.1v1.2h-3.1zM546.3 520.1h2.2v1.0h-2.2zM545.1 512.6h5.7v1.0h-5.7zM538.3 522.6h5.4v1.1h-5.4zM538.8 529.8h3.6v0.9h-3.6zM536.9 529.6h2.8v1.1h-2.8zM543.1 538.1h1.7v1.2h-1.7zM540.8 515.0h3.4v0.8h-3.4zM543.2 535.5h5.6v0.7h-5.6zM535.9 511.5h4.0v1.1h-4.0zM536.6 511.4h1.2v1.1h-1.2zM575.9 535.5h4.5v0.8h-4.5zM563.1 509.1h5.0v1.1h-5.0zM577.7 520.7h6.6v0.7h-6.6zM566.7 528.7h2.5v0.8h-2.5zM576.9 509.5h4.5v1.1h-4.5zM581.8 531.5h4.4v0.9h-4.4zM581.0 533.3h4.1v1.2h-4.1zM565.9 518.4h3.9v1.0h-3.9zM568.4 512.1h6.4v1.2h-6.4zM572.1 533.8h4.7v1.0h-4.7zM562.8 514.7h5.3v1.0h-5.3zM564.6 529.0h2.8v1.2h-2.8zM571.0 519.4h5.1v1.2h-5.1zM579.5 530.7h5.3v0.7h-5.3zM567.7 514.2h4.1v0.7h-4.1zM562.2 523.0h2.2v0.7h-2.2zM566.7 536.5h4.4v1.0h-4.4zM570.9 539.0h3.8v0.9h-3.8zM580.6 525.9h4.0v0.8h-4.0zM565.3 520.4h4.8v0.9h-4.8zM576.2 516.3h5.8v0.8h-5.8zM569.8 524.2h4.7v1.2h-4.7zM570.1 516.7h6.6v1.1h-6.6zM577.5 508.6h1.8v1.1h-1.8zM570.6 523.7h2.0v0.8h-2.0zM567.1 528.0h5.6v1.1h-5.6zM564.5 520.4h3.7v1.1h-3.7zM573.0 531.2h1.7v1.1h-1.7zM571.0 532.0h2.0v1.1h-2.0zM574.2 535.4h4.6v1.1h-4.6zM576.5 534.9h1.2v1.1h-1.2zM576.6 535.4h1.4v1.1h-1.4zM610.6 509.3h2.9v0.8h-2.9zM597.8 519.5h2.4v1.2h-2.4zM594.2 528.6h3.5v0.9h-3.5zM609.4 520.8h1.7v0.8h-1.7zM605.8 525.1h4.2v1.1h-4.2zM600.4 522.0h5.7v0.7h-5.7zM610.3 528.2h2.7v1.1h-2.7zM603.4 525.4h3.3v0.9h-3.3zM591.8 508.4h6.1v0.8h-6.1zM599.8 519.5h5.0v0.9h-5.0zM586.4 512.2h3.8v1.1h-3.8zM588.3 512.9h1.3v1.1h-1.3zM634.9 530.4h0.5v1.3h-0.5zM620.1 537.9h4.2v1.3h-4.2zM624.0 538.1h4.4v1.3h-4.4zM628.0 538.1h2.5v1.3h-2.5z"/><path fill="#7ad391" d="M484.2 532.7h2.2v0.8h-2.2zM483.0 509.9h4.2v1.1h-4.2zM486.1 541.4h5.9v1.2h-5.9zM484.4 542.2h4.1v1.1h-4.1zM479.7 517.5h5.1v0.9h-5.1zM508.6 529.9h2.7v1.0h-2.7zM507.9 534.8h2.5v1.0h-2.5zM512.8 533.8h2.4v1.0h-2.4zM507.9 538.9h5.0v1.0h-5.0zM533.0 508.8h2.8v0.8h-2.8zM530.7 537.9h2.3v0.9h-2.3zM529.6 520.8h4.3v1.2h-4.3zM545.7 517.9h1.9v1.1h-1.9zM535.8 517.7h6.6v1.0h-6.6zM531.5 523.4h6.0v1.1h-6.0zM529.5 525.0h6.4v0.8h-6.4zM534.2 511.9h1.9v1.1h-1.9zM538.0 517.0h3.7v1.1h-3.7zM531.0 514.8h2.5v1.1h-2.5zM578.4 537.3h2.1v0.8h-2.1zM569.4 523.1h4.9v1.1h-4.9zM565.7 526.6h3.6v1.0h-3.6zM579.8 524.2h4.5v0.7h-4.5zM579.0 535.1h5.7v0.9h-5.7zM566.5 528.8h2.4v0.9h-2.4zM574.8 516.9h2.6v0.7h-2.6zM573.0 534.6h6.1v1.1h-6.1zM570.5 535.6h6.6v0.8h-6.6zM567.3 528.0h4.8v0.7h-4.8zM569.9 536.8h1.8v1.1h-1.8zM565.0 540.7h1.8v0.9h-1.8zM577.5 512.9h5.9v0.8h-5.9zM570.1 532.8h6.6v0.9h-6.6zM578.6 535.7h6.3v0.9h-6.3zM570.1 519.6h4.8v1.1h-4.8zM573.1 522.7h2.7v1.1h-2.7zM563.2 526.2h6.3v1.1h-6.3zM572.5 525.0h3.3v1.1h-3.3zM567.3 513.4h3.0v1.1h-3.0zM562.1 513.0h2.0v1.1h-2.0zM564.2 515.6h4.0v1.1h-4.0zM567.2 512.5h2.6v1.1h-2.6zM575.5 535.1h2.4v1.1h-2.4zM574.6 531.4h2.5v1.1h-2.5zM599.7 524.5h2.6v1.2h-2.6zM602.5 512.7h2.9v0.8h-2.9zM609.6 513.9h3.9v1.2h-3.9zM600.8 511.5h3.3v1.1h-3.3zM601.9 514.7h5.9v1.1h-5.9zM606.4 541.5h3.7v1.0h-3.7zM587.3 526.0h2.0v0.9h-2.0zM597.7 539.8h3.4v1.0h-3.4zM611.6 532.3h1.9v0.7h-1.9zM608.8 534.1h3.8v1.1h-3.8zM595.7 526.5h2.4v1.1h-2.4zM595.6 526.8h1.1v1.1h-1.1zM595.0 526.3h1.2v1.1h-1.2zM616.7 512.4h3.4v1.3h-3.4zM622.3 512.2h2.7v1.3h-2.7zM633.3 519.3h2.1v1.3h-2.1zM617.2 537.6h3.3v1.3h-3.3z"/><path fill="#95d872" d="M480.4 515.3h5.6v1.1h-5.6zM480.0 527.3h3.3v1.0h-3.3zM479.9 525.0h3.3v0.8h-3.3zM480.2 513.9h6.2v1.2h-6.2zM486.6 519.3h5.4v0.7h-5.4zM480.0 528.4h2.9v1.0h-2.9zM487.9 530.0h2.5v0.8h-2.5zM484.7 520.7h6.5v1.1h-6.5zM519.9 519.0h4.5v1.0h-4.5zM495.7 531.2h4.4v1.0h-4.4zM518.7 531.4h4.6v1.0h-4.6zM498.4 534.7h2.9v1.0h-2.9zM517.6 533.6h3.3v1.0h-3.3zM525.3 535.0h2.9v1.0h-2.9zM536.8 536.4h5.0v0.8h-5.0zM537.9 532.2h3.4v0.7h-3.4zM541.4 523.6h6.4v0.9h-6.4zM529.6 512.4h4.0v0.7h-4.0zM549.5 523.4h1.6v1.1h-1.6zM539.5 524.8h3.0v0.8h-3.0zM535.6 516.2h6.7v0.8h-6.7zM541.8 522.0h4.1v0.7h-4.1zM546.6 528.6h4.5v0.7h-4.5zM548.3 539.3h2.8v0.9h-2.8zM535.9 517.0h5.5v1.1h-5.5zM570.4 534.4h4.3v1.1h-4.3zM564.4 510.9h4.0v0.9h-4.0zM573.9 522.3h6.7v1.1h-6.7zM572.5 521.0h6.4v0.9h-6.4zM562.8 529.6h3.6v0.8h-3.6zM575.8 514.7h5.7v0.7h-5.7zM572.3 525.0h4.1v1.1h-4.1zM581.7 515.5h3.7v1.1h-3.7zM583.0 532.3h2.0v0.7h-2.0zM563.5 512.2h3.0v1.1h-3.0zM561.6 530.9h5.1v0.9h-5.1zM569.8 520.7h6.2v1.1h-6.2zM575.1 532.2h4.7v1.1h-4.7zM604.7 529.2h3.1v1.0h-3.1zM586.9 526.3h7.0v0.9h-7.0zM593.7 516.5h4.5v1.2h-4.5zM598.6 513.8h4.6v1.1h-4.6zM605.5 531.6h5.2v1.0h-5.2zM590.3 509.6h1.3v1.1h-1.3z"/><path fill="#aedb57" d="M488.9 542.8h2.1v0.9h-2.1zM526.8 513.4h1.4v1.0h-1.4zM500.2 518.0h2.4v1.0h-2.4zM506.3 518.1h4.8v1.0h-4.8zM502.7 529.9h4.1v1.0h-4.1zM537.8 514.1h6.5v1.0h-6.5zM532.2 530.6h6.7v0.7h-6.7zM535.1 537.8h5.5v1.0h-5.5zM528.3 508.3h4.3v1.0h-4.3zM537.8 518.3h2.2v0.7h-2.2zM536.7 511.9h4.4v1.1h-4.4zM532.2 515.9h2.7v1.1h-2.7zM532.5 516.9h5.4v1.1h-5.4zM578.0 515.0h6.3v0.9h-6.3zM579.0 521.4h5.3v0.8h-5.3zM565.8 512.8h7.0v0.9h-7.0zM581.2 518.9h5.0v1.1h-5.0zM581.2 523.1h2.3v0.8h-2.3zM565.1 532.1h2.3v1.2h-2.3zM574.9 515.8h3.4v1.0h-3.4zM566.1 542.6h5.4v1.1h-5.4zM570.1 529.9h2.5v0.9h-2.5zM579.1 535.6h3.6v1.0h-3.6zM569.0 532.6h5.1v1.1h-5.1zM573.7 534.6h6.3v1.0h-6.3zM579.0 522.6h6.9v1.1h-6.9zM565.5 536.8h5.6v1.1h-5.6zM576.9 537.9h6.2v1.1h-6.2zM581.6 511.2h2.5v1.0h-2.5zM573.7 525.8h3.9v1.0h-3.9zM578.1 515.3h4.5v1.1h-4.5zM564.9 515.4h1.7v0.8h-1.7zM571.8 525.8h3.4v1.1h-3.4zM563.9 520.7h6.5v1.1h-6.5zM564.0 526.4h6.1v1.1h-6.1zM569.4 527.6h1.7v1.1h-1.7zM571.2 522.4h6.2v1.1h-6.2zM564.6 515.6h3.4v1.1h-3.4zM567.8 514.4h1.0v1.1h-1.0zM591.0 528.1h2.0v0.7h-2.0zM599.7 535.9h3.5v0.7h-3.5zM590.3 512.6h2.9v1.1h-2.9zM592.5 512.2h1.8v1.1h-1.8zM587.9 512.6h3.1v1.1h-3.1zM613.5 519.7h5.0v1.3h-5.0zM632.6 524.6h2.8v1.3h-2.8zM627.6 529.8h3.3v1.3h-3.3z"/><path fill="#c6da48" d="M489.4 511.2h3.6v0.7h-3.6zM491.7 542.1h1.6v0.8h-1.6zM482.3 511.8h5.3v0.7h-5.3zM485.8 509.8h5.1v1.0h-5.1zM536.4 517.7h5.4v1.0h-5.4zM535.2 509.6h4.1v1.1h-4.1zM534.9 526.7h2.8v0.8h-2.8zM539.0 513.8h4.3v1.1h-4.3zM537.3 512.8h5.1v1.1h-5.1zM579.3 538.3h5.0v1.2h-5.0zM578.6 514.5h4.1v0.9h-4.1zM581.3 532.0h4.8v0.9h-4.8zM582.9 530.0h3.3v0.9h-3.3zM582.0 509.6h4.2v0.9h-4.2zM568.0 532.2h5.6v0.7h-5.6zM578.4 528.6h1.6v1.0h-1.6zM567.1 526.7h2.1v1.2h-2.1zM565.7 520.2h3.9v1.1h-3.9zM571.3 521.4h3.9v1.1h-3.9zM571.1 526.1h3.9v1.1h-3.9zM562.2 513.1h3.8v1.1h-3.8zM566.4 513.2h3.5v1.1h-3.5zM571.4 533.9h2.3v1.1h-2.3zM574.1 531.7h1.2v1.1h-1.2zM574.8 534.4h4.4v1.1h-4.4zM572.5 535.3h4.7v1.1h-4.7zM575.8 534.2h4.0v1.1h-4.0zM588.4 538.3h5.3v1.1h-5.3zM591.2 533.5h6.6v0.7h-6.6zM608.4 528.5h2.9v1.2h-2.9zM602.6 517.3h4.1v1.1h-4.1zM610.7 512.8h2.8v1.2h-2.8zM600.4 527.6h3.8v0.9h-3.8zM594.0 525.9h3.4v1.1h-3.4zM595.4 526.2h1.6v1.1h-1.6zM587.6 511.6h1.9v1.1h-1.9zM587.5 512.0h3.3v1.1h-3.3zM589.3 513.1h4.0v1.1h-4.0z"/><path fill="#ded839" d="M479.9 511.6h3.6v1.0h-3.6zM539.0 530.6h5.8v0.8h-5.8zM531.1 527.2h2.5v0.8h-2.5zM543.6 524.2h4.7v0.8h-4.7zM536.0 511.5h5.0v0.9h-5.0zM529.6 514.7h6.7v1.1h-6.7zM533.8 512.3h4.7v1.1h-4.7zM537.0 516.4h5.4v1.1h-5.4zM535.1 512.1h2.5v1.1h-2.5zM532.3 513.3h2.6v1.1h-2.6zM531.7 513.4h2.6v1.1h-2.6zM567.6 534.1h3.4v0.7h-3.4zM584.0 522.0h2.2v0.8h-2.2zM568.4 514.4h5.9v0.9h-5.9zM572.9 541.2h3.5v1.0h-3.5zM580.8 532.1h2.2v0.7h-2.2zM569.8 525.6h6.6v1.1h-6.6zM571.7 526.4h1.6v1.1h-1.6zM570.7 523.6h6.4v1.1h-6.4zM565.3 524.9h2.3v1.1h-2.3zM565.9 511.9h2.8v1.1h-2.8zM573.6 532.1h4.9v1.1h-4.9zM571.1 533.0h2.8v1.1h-2.8zM592.5 523.8h4.0v1.1h-4.0zM588.4 511.0h1.0v1.1h-1.0zM591.1 510.5h2.1v1.1h-2.1zM618.2 530.0h5.3v1.3h-5.3z"/><path fill="#f6d72a" d="M540.3 524.3h6.9v1.1h-6.9zM539.8 514.0h3.1v1.0h-3.1zM542.1 522.2h5.8v1.2h-5.8zM533.2 518.0h4.4v1.1h-4.4zM535.8 521.9h3.8v1.0h-3.8zM531.8 513.7h3.8v1.1h-3.8zM539.9 515.1h1.6v1.1h-1.6zM535.0 516.7h1.7v1.1h-1.7zM532.5 512.3h4.4v1.1h-4.4zM534.8 516.7h1.9v1.1h-1.9zM581.3 531.6h4.9v1.0h-4.9zM571.8 524.0h3.9v1.1h-3.9zM565.8 522.2h2.8v1.1h-2.8zM571.9 524.5h2.3v1.1h-2.3zM572.8 525.7h1.0v1.1h-1.0zM566.7 520.7h5.2v1.1h-5.2zM564.5 512.0h2.4v1.1h-2.4zM565.1 514.7h3.9v1.1h-3.9zM565.6 514.4h1.7v1.1h-1.7zM563.9 514.4h2.3v1.1h-2.3zM574.0 532.3h4.8v1.1h-4.8zM576.8 533.3h1.5v1.1h-1.5zM573.4 534.6h3.7v1.1h-3.7zM574.3 534.7h3.7v1.1h-3.7zM571.7 534.5h3.9v1.1h-3.9zM572.4 532.0h3.6v1.1h-3.6zM575.5 534.1h4.6v1.1h-4.6zM573.4 535.0h2.6v1.1h-2.6zM610.1 538.9h2.6v0.7h-2.6zM590.5 510.7h3.2v1.1h-3.2zM588.0 512.1h3.4v1.1h-3.4zM590.0 511.9h2.1v1.1h-2.1zM591.2 510.9h3.5v1.1h-3.5zM591.8 511.4h2.3v1.1h-2.3zM587.8 510.9h2.8v1.1h-2.8zM589.6 510.3h3.4v1.1h-3.4zM629.1 519.3h4.6v1.3h-4.6zM629.4 524.6h3.6v1.3h-3.6zM630.5 530.1h4.7v1.3h-4.7z"/><path fill="#f7be25" d="M536.7 516.8h3.1v1.1h-3.1zM573.3 541.1h3.2v1.0h-3.2zM581.4 511.0h2.7v0.7h-2.7zM570.3 521.3h3.6v1.1h-3.6zM571.8 524.3h2.1v1.1h-2.1zM565.3 522.1h3.8v1.1h-3.8zM568.6 526.7h6.1v1.1h-6.1zM570.5 524.2h4.8v1.1h-4.8zM563.4 514.7h3.9v1.1h-3.9zM573.3 532.5h3.4v1.1h-3.4zM594.7 522.8h3.9v1.1h-3.9zM590.6 512.5h2.4v1.1h-2.4zM588.6 512.4h3.7v1.1h-3.7zM591.7 512.1h1.3v1.1h-1.3zM622.3 519.9h2.6v1.3h-2.6zM616.8 525.3h3.3v1.3h-3.3z"/><path fill="#f4a122" d="M492.7 510.6h1.8v1.2h-1.8zM536.7 516.1h2.9v1.1h-2.9zM538.0 513.3h3.5v1.1h-3.5zM533.3 515.8h6.4v1.1h-6.4zM531.6 515.6h5.8v1.1h-5.8zM535.1 515.9h1.8v1.1h-1.8zM536.7 516.2h1.9v1.1h-1.9zM536.1 513.0h6.7v1.1h-6.7zM570.6 519.7h4.7v1.0h-4.7zM562.2 513.6h1.7v1.1h-1.7zM567.2 521.4h5.3v1.1h-5.3zM568.6 525.5h4.7v1.1h-4.7zM566.0 522.1h1.6v1.1h-1.6zM570.8 523.7h4.8v1.1h-4.8zM565.1 514.0h3.2v1.1h-3.2zM563.4 514.6h4.4v1.1h-4.4zM563.5 512.4h3.2v1.1h-3.2zM562.9 513.5h3.6v1.1h-3.6zM571.9 533.6h2.6v1.1h-2.6zM576.2 533.1h1.2v1.1h-1.2zM575.0 533.6h3.7v1.1h-3.7zM573.3 531.9h1.5v1.1h-1.5zM595.0 525.5h2.4v1.1h-2.4zM594.7 525.6h2.4v1.1h-2.4zM597.4 525.0h1.6v1.1h-1.6zM594.6 525.7h3.4v1.1h-3.4zM589.2 510.8h2.8v1.1h-2.8zM624.5 519.7h5.0v1.3h-5.0zM619.6 525.3h3.2v1.3h-3.2zM613.5 530.4h5.1v1.3h-5.1z"/><path fill="#f28520" d="M527.9 517.5h1.7v1.0h-1.7zM533.1 515.5h3.2v1.1h-3.2zM535.6 515.1h6.8v1.1h-6.8zM531.4 515.1h6.4v1.1h-6.4zM536.9 516.1h4.2v1.1h-4.2zM536.3 513.9h6.5v1.1h-6.5zM538.3 513.9h1.3v1.1h-1.3zM579.2 533.9h4.1v1.1h-4.1zM565.8 522.9h3.8v1.1h-3.8zM567.4 521.1h2.4v1.1h-2.4zM568.5 525.8h4.6v1.1h-4.6zM569.9 521.5h2.0v1.1h-2.0zM569.5 525.3h4.3v1.1h-4.3zM565.0 524.9h6.3v1.1h-6.3zM569.5 525.3h4.4v1.1h-4.4zM564.2 524.0h6.1v1.1h-6.1zM569.4 524.6h5.6v1.1h-5.6zM567.5 521.2h1.5v1.1h-1.5zM566.5 513.3h1.7v1.1h-1.7zM564.4 514.1h2.5v1.1h-2.5zM564.9 512.3h2.2v1.1h-2.2zM575.0 534.0h2.1v1.1h-2.1zM572.9 533.8h1.6v1.1h-1.6zM573.7 532.5h1.9v1.1h-1.9zM597.4 524.3h1.6v1.1h-1.6zM594.4 523.2h3.5v1.1h-3.5zM596.6 524.3h3.5v1.1h-3.5zM593.7 524.5h3.6v1.1h-3.6zM590.7 511.2h1.6v1.1h-1.6zM588.9 511.9h3.7v1.1h-3.7z"/><path fill="#ee6a1d" d="M535.8 515.0h5.6v1.1h-5.6zM534.6 513.2h3.0v1.1h-3.0zM534.1 514.9h5.4v1.1h-5.4zM534.5 513.1h2.6v1.1h-2.6zM537.3 515.2h3.6v1.1h-3.6zM532.0 513.0h6.0v1.1h-6.0zM535.9 513.0h4.4v1.1h-4.4zM568.1 518.3h1.7v0.9h-1.7zM567.7 523.0h1.7v1.1h-1.7zM565.4 523.2h5.9v1.1h-5.9zM565.6 522.3h3.6v1.1h-3.6zM568.8 521.2h3.7v1.1h-3.7zM568.8 522.3h5.5v1.1h-5.5zM568.4 521.8h5.5v1.1h-5.5zM568.7 525.0h2.3v1.1h-2.3zM565.1 523.7h6.4v1.1h-6.4zM569.6 525.9h2.6v1.1h-2.6zM563.3 514.1h3.6v1.1h-3.6zM565.0 514.5h2.7v1.1h-2.7zM564.4 512.9h1.9v1.1h-1.9zM573.0 533.1h5.4v1.1h-5.4zM574.6 533.7h2.6v1.1h-2.6zM573.0 533.3h4.1v1.1h-4.1zM595.5 523.5h4.2v1.1h-4.2zM589.0 512.0h1.9v1.1h-1.9zM618.1 520.0h4.6v1.3h-4.6zM613.5 525.0h3.7v1.3h-3.7zM623.1 529.7h4.9v1.3h-4.9z"/><path fill="#e4571b" d="M536.4 514.5h3.7v1.1h-3.7zM535.9 515.2h2.4v1.1h-2.4zM536.0 513.8h1.8v1.1h-1.8zM535.5 515.2h5.9v1.1h-5.9zM535.9 513.0h2.5v1.1h-2.5zM538.1 513.5h1.7v1.1h-1.7zM569.2 522.6h2.9v1.1h-2.9zM566.5 522.7h2.0v1.1h-2.0zM569.8 524.2h5.1v1.1h-5.1zM566.2 522.3h4.5v1.1h-4.5zM565.8 524.2h5.2v1.1h-5.2zM567.5 521.3h4.8v1.1h-4.8zM566.6 522.5h3.3v1.1h-3.3zM565.7 522.1h6.4v1.1h-6.4zM571.7 523.9h1.7v1.1h-1.7zM569.6 523.7h5.3v1.1h-5.3zM568.5 520.8h4.1v1.1h-4.1zM570.0 523.4h5.1v1.1h-5.1zM566.6 522.9h5.5v1.1h-5.5zM566.3 513.0h1.4v1.1h-1.4zM594.9 523.4h2.6v1.1h-2.6zM595.3 525.0h3.8v1.1h-3.8zM595.4 523.7h3.3v1.1h-3.3zM595.6 524.6h3.9v1.1h-3.9zM596.8 524.7h3.2v1.1h-3.2zM590.5 511.2h1.9v1.1h-1.9zM622.5 525.2h4.8v1.3h-4.8z"/><path fill="#db4418" d="M535.6 513.4h4.1v1.1h-4.1zM534.8 513.8h1.4v1.1h-1.4zM535.6 514.2h5.9v1.1h-5.9zM533.1 515.1h4.1v1.1h-4.1zM537.1 514.8h1.9v1.1h-1.9zM534.9 514.4h6.6v1.1h-6.6zM534.0 514.0h6.1v1.1h-6.1zM566.5 522.2h4.1v1.1h-4.1zM565.5 523.4h6.6v1.1h-6.6zM568.1 521.9h5.2v1.1h-5.2zM569.3 525.1h2.0v1.1h-2.0zM566.6 521.8h4.2v1.1h-4.2zM566.9 523.0h3.6v1.1h-3.6zM570.2 522.9h3.2v1.1h-3.2zM564.9 513.1h2.0v1.1h-2.0zM563.5 512.8h3.8v1.1h-3.8zM595.3 525.4h4.2v1.1h-4.2zM626.8 524.8h3.0v1.3h-3.0z"/><path fill="#d13116" d="M535.2 514.9h4.3v1.1h-4.3zM535.3 515.2h4.1v1.1h-4.1zM535.5 514.0h3.5v1.1h-3.5zM570.1 524.3h3.5v1.1h-3.5zM569.1 522.5h3.4v1.1h-3.4zM568.7 523.7h4.2v1.1h-4.2zM568.5 523.0h5.5v1.1h-5.5zM595.8 524.1h2.0v1.1h-2.0zM595.8 524.2h3.6v1.1h-3.6zM595.5 524.6h1.9v1.1h-1.9zM595.8 524.4h3.2v1.1h-3.2z"/><path fill="#c81e14" d="M568.5 524.2h4.7v1.1h-4.7zM568.5 523.2h3.6v1.1h-3.6zM568.4 523.8h1.6v1.1h-1.6zM569.1 523.7h2.9v1.1h-2.9zM569.0 522.8h3.4v1.1h-3.4z"/></g><clipPath id="cf3"><rect x="471.3" y="557.3" width="213.2" height="36.3"/></clipPath><g clip-path="url(#cf3)" filter="url(#sb)"><path fill="#113093" d="M474.8 561.6h6.9v0.7h-6.9zM506.7 584.8h2.4v0.8h-2.4zM505.4 593.3h1.8v1.1h-1.8zM550.7 569.8h3.9v1.1h-3.9zM563.1 566.9h3.4v0.8h-3.4zM552.7 580.1h3.8v0.9h-3.8zM646.2 589.0h5.3v0.9h-5.3z"/><path fill="#133aa6" d="M486.1 587.4h4.6v0.7h-4.6zM482.4 568.7h6.7v1.0h-6.7zM491.6 593.2h2.4v0.8h-2.4zM477.6 569.5h5.8v1.2h-5.8zM477.8 583.5h6.5v0.7h-6.5zM475.1 591.1h3.5v0.9h-3.5zM475.7 559.5h5.9v1.0h-5.9zM481.5 567.8h4.3v0.7h-4.3zM478.6 578.7h4.4v1.1h-4.4zM481.1 563.7h3.7v0.7h-3.7zM504.8 580.4h2.2v0.8h-2.2zM500.5 567.0h4.3v1.1h-4.3zM500.3 559.7h2.3v1.0h-2.3zM504.6 592.0h4.7v0.7h-4.7zM514.7 563.3h2.5v1.1h-2.5zM527.8 585.7h4.5v1.1h-4.5zM536.0 561.5h3.7v0.9h-3.7zM530.6 581.8h4.9v0.8h-4.9zM538.3 565.7h2.4v0.7h-2.4zM539.0 570.1h1.7v0.7h-1.7zM545.7 573.6h4.4v1.1h-4.4zM560.9 591.5h3.9v1.1h-3.9zM561.6 583.4h2.0v0.8h-2.0zM572.6 587.4h4.7v1.2h-4.7zM554.0 584.5h1.9v1.1h-1.9zM598.2 586.3h4.4v1.2h-4.4zM594.0 582.9h3.9v0.7h-3.9zM591.2 590.3h6.6v1.1h-6.6zM594.6 578.2h4.9v1.0h-4.9zM600.7 582.9h3.1v0.7h-3.1zM592.2 575.7h6.7v1.1h-6.7zM607.6 583.3h2.5v1.1h-2.5zM609.7 589.5h5.1v0.7h-5.1zM604.6 591.7h6.8v0.9h-6.8zM591.5 577.2h4.9v1.1h-4.9zM627.5 576.5h2.3v0.7h-2.3zM625.0 561.6h6.8v1.1h-6.8zM631.4 562.1h5.4v0.7h-5.4zM622.7 572.2h5.2v1.2h-5.2zM627.3 572.7h5.4v0.7h-5.4zM618.9 565.8h1.8v0.8h-1.8zM620.6 578.9h1.6v1.0h-1.6zM665.3 559.5h6.7v0.8h-6.7zM670.4 562.3h4.2v1.1h-4.2zM667.2 579.4h5.8v0.7h-5.8zM669.5 590.6h2.5v0.9h-2.5zM670.3 592.9h4.3v1.1h-4.3zM659.3 558.7h3.4v1.2h-3.4zM667.6 588.0h1.8v0.7h-1.8zM651.7 565.1h5.9v1.2h-5.9zM650.0 559.4h2.4v1.1h-2.4zM673.3 583.4h1.3v1.0h-1.3zM651.6 564.2h3.1v0.8h-3.1zM660.9 573.3h4.9v0.7h-4.9zM649.0 587.6h6.6v0.9h-6.6zM669.6 560.8h4.0v0.8h-4.0zM655.9 591.8h3.3v0.8h-3.3zM655.2 587.6h4.1v0.7h-4.1zM658.9 565.8h1.9v0.8h-1.9zM663.5 559.3h4.2v0.9h-4.2zM663.4 579.7h3.4v1.1h-3.4zM665.2 561.1h6.6v0.7h-6.6zM651.2 588.1h2.0v1.1h-2.0zM653.9 561.8h5.2v0.9h-5.2zM650.6 568.6h4.4v0.8h-4.4z"/><path fill="#1749b3" d="M477.4 569.4h5.8v1.1h-5.8zM485.4 590.9h4.9v0.8h-4.9zM479.7 580.4h6.8v1.1h-6.8zM491.2 590.3h2.8v0.7h-2.8zM483.0 587.5h2.2v1.2h-2.2zM482.1 565.2h4.9v0.8h-4.9zM472.7 585.9h4.4v1.2h-4.4zM477.3 588.0h3.3v1.1h-3.3zM484.7 583.3h5.5v0.8h-5.5zM489.3 577.5h4.7v1.0h-4.7zM480.5 570.6h2.4v1.1h-2.4zM475.4 574.7h3.7v1.1h-3.7zM480.0 581.4h2.9v1.1h-2.9zM506.9 562.1h2.4v0.7h-2.4zM506.8 574.6h2.5v0.7h-2.5zM497.7 578.2h4.9v0.7h-4.9zM510.1 564.4h1.2v1.1h-1.2zM525.0 578.6h3.6v0.9h-3.6zM531.0 569.9h1.8v1.1h-1.8zM540.6 567.6h4.0v1.1h-4.0zM540.5 568.2h3.4v1.1h-3.4zM571.8 568.0h1.6v1.1h-1.6zM562.0 574.8h2.5v0.8h-2.5zM557.8 561.4h4.2v1.1h-4.2zM563.4 590.6h1.9v1.1h-1.9zM604.1 563.0h4.3v0.8h-4.3zM596.9 582.5h7.0v0.9h-7.0zM591.9 589.4h2.1v1.0h-2.1zM611.4 569.4h3.7v0.8h-3.7zM600.3 560.8h2.6v0.8h-2.6zM598.2 589.8h4.2v0.8h-4.2zM611.1 565.4h3.9v0.9h-3.9zM599.4 572.5h1.6v1.1h-1.6zM629.2 567.3h2.1v0.8h-2.1zM626.3 574.1h6.5v1.1h-6.5zM655.2 592.0h5.6v1.0h-5.6zM671.0 572.8h3.6v1.0h-3.6zM651.4 563.4h6.1v1.0h-6.1zM652.7 565.8h6.1v0.9h-6.1zM666.6 560.7h3.5v0.8h-3.5zM659.5 574.3h5.1v0.8h-5.1zM639.5 558.7h5.7v0.7h-5.7zM670.2 560.9h3.6v1.0h-3.6zM662.6 581.6h3.1v0.8h-3.1zM662.7 591.1h5.7v0.9h-5.7zM670.0 577.3h4.6v1.2h-4.6zM652.3 582.9h5.3v1.0h-5.3zM646.0 561.0h1.6v1.1h-1.6z"/><path fill="#1c5abf" d="M473.5 592.9h3.2v1.1h-3.2zM487.0 559.1h6.8v1.0h-6.8zM477.4 562.9h4.8v1.1h-4.8zM480.1 561.2h4.6v0.7h-4.6zM489.2 568.4h4.4v1.1h-4.4zM476.7 562.9h4.6v0.9h-4.6zM474.1 565.9h2.8v1.1h-2.8zM478.4 565.0h4.5v1.1h-4.5zM477.1 574.9h1.7v1.1h-1.7zM488.4 580.2h1.5v1.1h-1.5zM488.5 580.2h2.7v1.1h-2.7zM503.5 582.8h5.8v1.0h-5.8zM502.7 560.7h6.2v0.8h-6.2zM511.6 563.2h3.4v1.1h-3.4zM511.4 571.0h2.5v1.1h-2.5zM521.9 587.4h6.9v0.8h-6.9zM532.9 570.2h5.5v1.0h-5.5zM533.1 559.1h6.8v0.8h-6.8zM538.2 586.5h2.5v1.1h-2.5zM533.8 565.0h3.5v1.1h-3.5zM534.7 592.3h6.0v0.8h-6.0zM537.7 571.4h5.2v1.1h-5.2zM550.6 570.4h2.8v1.1h-2.8zM541.2 568.2h1.1v1.1h-1.1zM574.8 576.8h2.5v1.2h-2.5zM570.6 578.7h2.4v0.7h-2.4zM565.0 584.7h1.9v0.9h-1.9zM559.2 588.8h4.3v0.8h-4.3zM557.9 579.4h1.8v1.1h-1.8zM557.6 584.1h2.7v1.1h-2.7zM596.7 584.9h6.8v0.9h-6.8zM610.7 571.7h1.7v0.9h-1.7zM600.8 573.3h6.4v0.8h-6.4zM604.6 578.5h4.9v0.9h-4.9zM603.0 587.7h2.1v1.1h-2.1zM592.4 574.9h4.1v1.1h-4.1zM600.7 567.1h1.1v1.1h-1.1zM600.6 570.2h4.2v1.1h-4.2zM626.0 582.1h2.3v1.0h-2.3zM629.5 579.8h6.4v0.9h-6.4zM621.8 561.4h2.0v0.7h-2.0zM632.7 566.5h4.1v1.0h-4.1zM620.6 588.1h3.4v0.9h-3.4zM620.0 570.3h3.0v0.7h-3.0zM653.6 574.8h6.1v1.1h-6.1zM658.9 568.0h1.7v0.7h-1.7zM663.0 561.3h2.6v0.7h-2.6zM650.1 591.0h5.7v0.7h-5.7zM652.6 564.7h2.4v0.7h-2.4zM658.4 588.3h4.9v0.8h-4.9zM648.7 578.5h4.8v0.8h-4.8zM652.1 575.8h2.9v0.7h-2.9zM638.5 566.8h4.5v1.0h-4.5zM664.8 578.0h3.8v1.1h-3.8zM652.7 590.5h2.8v1.2h-2.8zM657.4 592.3h6.5v1.0h-6.5zM655.3 578.8h6.0v0.8h-6.0zM669.2 581.6h3.4v0.7h-3.4zM652.5 583.9h4.4v1.2h-4.4zM654.0 588.0h5.8v1.0h-5.8zM666.6 569.5h5.1v1.1h-5.1zM656.2 581.6h1.9v0.9h-1.9zM642.1 566.0h4.1v1.1h-4.1zM659.0 569.5h2.1v1.1h-2.1z"/><path fill="#216acb" d="M490.6 569.9h3.4v0.8h-3.4zM479.7 575.9h2.8v1.2h-2.8zM475.9 581.7h6.6v0.9h-6.6zM472.4 580.7h3.6v1.1h-3.6zM483.5 568.4h3.9v1.0h-3.9zM482.0 589.6h4.6v1.0h-4.6zM483.2 565.3h3.8v1.1h-3.8zM476.5 574.2h3.1v1.1h-3.1zM479.2 575.2h1.8v1.1h-1.8zM479.0 575.1h2.5v1.1h-2.5zM474.7 575.2h2.3v1.1h-2.3zM481.2 576.7h5.0v1.1h-5.0zM499.7 576.5h4.4v0.9h-4.4zM503.6 572.1h4.0v1.0h-4.0zM507.5 579.5h1.8v1.2h-1.8zM497.3 583.5h2.1v0.7h-2.1zM501.5 590.0h5.4v1.0h-5.4zM496.8 575.5h6.5v1.0h-6.5zM514.0 563.9h3.9v1.1h-3.9zM513.4 571.1h1.1v1.1h-1.1zM518.6 568.7h1.3v1.1h-1.3zM508.2 567.2h3.9v1.1h-3.9zM525.8 592.5h4.4v1.1h-4.4zM531.4 570.1h4.3v1.0h-4.3zM521.9 559.3h5.4v0.9h-5.4zM530.7 559.3h3.0v0.7h-3.0zM524.1 570.5h3.3v1.1h-3.3zM547.1 572.9h4.3v1.1h-4.3zM561.5 581.5h5.6v0.7h-5.6zM556.5 587.6h6.4v0.8h-6.4zM556.7 571.4h3.1v1.1h-3.1zM561.3 585.0h6.5v1.0h-6.5zM553.7 563.4h6.7v1.0h-6.7zM568.0 573.5h2.0v1.2h-2.0zM563.0 566.6h5.4v0.8h-5.4zM570.2 561.6h6.3v1.2h-6.3zM573.9 560.3h4.3v1.2h-4.3zM562.1 564.3h1.8v0.8h-1.8zM555.3 583.9h5.8v0.8h-5.8zM575.2 560.5h3.0v1.2h-3.0zM573.2 561.3h4.3v0.9h-4.3zM606.8 570.0h4.6v0.9h-4.6zM609.8 581.1h2.2v1.0h-2.2zM611.6 579.7h1.8v1.0h-1.8zM611.7 562.9h2.1v0.9h-2.1zM592.1 584.8h4.3v0.9h-4.3zM596.4 586.3h4.9v0.8h-4.9zM602.4 578.3h4.3v1.1h-4.3zM600.2 578.3h5.1v1.1h-5.1zM629.0 564.6h4.3v0.7h-4.3zM629.7 588.6h5.8v1.2h-5.8zM625.1 591.0h6.1v0.7h-6.1zM666.9 568.7h3.8v1.2h-3.8zM652.9 587.1h6.3v0.8h-6.3zM671.8 573.6h2.8v1.0h-2.8zM659.1 568.2h5.8v0.8h-5.8zM652.7 572.2h6.7v0.8h-6.7zM662.9 572.7h2.8v0.8h-2.8zM656.9 567.6h2.1v1.1h-2.1zM652.9 558.1h2.7v1.2h-2.7zM647.3 560.7h1.5v0.9h-1.5zM656.4 579.0h3.5v1.1h-3.5zM649.5 561.0h5.1v0.9h-5.1zM661.8 570.1h4.1v1.2h-4.1zM653.6 585.8h2.6v0.9h-2.6zM657.2 573.9h5.1v0.7h-5.1zM643.6 559.6h6.8v1.0h-6.8zM666.0 568.7h2.4v1.0h-2.4zM645.3 561.8h2.4v0.9h-2.4zM638.8 570.0h4.1v1.1h-4.1zM649.5 568.8h4.3v1.1h-4.3zM660.4 579.1h1.5v0.9h-1.5zM652.2 565.2h4.2v0.7h-4.2zM646.8 581.5h4.1v1.2h-4.1zM647.1 568.8h4.7v1.1h-4.7z"/><path fill="#267bd7" d="M474.2 572.0h5.3v0.9h-5.3zM488.9 559.8h5.1v0.9h-5.1zM488.5 565.4h3.9v0.8h-3.9zM473.8 571.9h2.6v1.1h-2.6zM476.2 566.8h4.9v0.9h-4.9zM482.4 575.6h7.0v1.1h-7.0zM475.6 563.8h5.8v1.0h-5.8zM472.3 565.1h6.4v1.1h-6.4zM478.5 580.7h6.6v0.8h-6.6zM488.9 592.5h5.1v1.0h-5.1zM482.1 581.2h2.1v1.0h-2.1zM484.6 583.1h5.2v1.1h-5.2zM479.3 559.1h4.3v1.1h-4.3zM479.1 571.1h3.2v1.0h-3.2zM477.2 592.8h2.0v1.1h-2.0zM473.8 567.6h3.1v1.1h-3.1zM476.3 570.3h2.6v1.1h-2.6zM477.0 570.4h5.2v1.1h-5.2zM480.3 576.0h2.2v1.1h-2.2zM481.1 581.7h2.3v1.1h-2.3zM504.0 583.3h5.3v1.0h-5.3zM499.8 581.4h5.7v1.1h-5.7zM509.7 566.1h3.4v1.1h-3.4zM516.4 569.8h3.0v1.1h-3.0zM530.4 569.9h6.8v1.0h-6.8zM530.9 568.1h6.5v0.8h-6.5zM535.1 586.7h4.7v0.9h-4.7zM532.6 591.2h3.2v1.1h-3.2zM528.0 563.7h2.1v0.9h-2.1zM523.0 579.1h4.8v1.0h-4.8zM530.9 572.9h6.4v0.9h-6.4zM526.9 572.5h1.2v1.1h-1.2zM542.7 571.6h1.3v1.1h-1.3zM566.4 579.8h2.7v0.8h-2.7zM574.8 577.5h2.6v1.1h-2.6zM559.7 589.4h3.7v0.7h-3.7zM564.6 558.3h3.9v0.9h-3.9zM563.1 573.3h5.1v0.8h-5.1zM560.0 571.3h4.2v1.0h-4.2zM568.0 573.1h3.1v1.1h-3.1zM573.1 568.1h5.0v0.9h-5.0zM552.6 576.1h6.3v1.1h-6.3zM554.9 585.2h1.6v0.7h-1.6zM572.9 590.1h5.3v1.2h-5.3zM573.9 579.9h4.3v0.7h-4.3zM563.3 566.5h4.1v1.2h-4.1zM555.8 578.8h2.8v1.1h-2.8zM556.0 579.0h3.4v1.1h-3.4zM609.5 572.0h5.0v0.9h-5.0zM602.8 569.9h2.0v0.8h-2.0zM597.9 590.7h1.5v1.0h-1.5zM603.1 572.9h6.9v0.7h-6.9zM612.1 568.0h3.0v1.1h-3.0zM602.0 578.9h2.8v1.1h-2.8zM606.7 567.6h3.2v1.1h-3.2zM626.5 589.9h5.8v1.0h-5.8zM623.3 568.9h4.4v0.9h-4.4zM620.0 589.6h4.1v0.8h-4.1zM632.8 590.4h4.0v1.0h-4.0zM629.6 567.5h2.1v0.7h-2.1zM662.9 585.9h5.5v1.0h-5.5zM659.7 581.8h6.1v0.7h-6.1zM671.8 571.8h2.8v0.8h-2.8zM670.4 582.1h4.2v1.1h-4.2zM652.6 573.0h2.7v0.7h-2.7zM666.0 572.6h3.6v0.8h-3.6zM645.2 558.1h6.6v1.2h-6.6zM654.3 585.7h6.0v1.0h-6.0zM663.0 584.1h5.6v1.2h-5.6zM652.6 571.1h3.6v1.2h-3.6zM662.7 564.9h1.9v1.1h-1.9zM667.3 590.2h4.6v1.0h-4.6zM643.7 560.4h3.5v0.8h-3.5zM659.5 571.9h3.5v1.0h-3.5zM638.9 592.5h3.8v1.1h-3.8zM667.2 561.4h1.7v0.8h-1.7zM638.7 573.9h2.0v0.9h-2.0zM654.5 580.1h1.6v0.9h-1.6zM652.0 566.2h2.7v0.7h-2.7zM671.2 588.0h1.2v1.6h-1.2z"/><path fill="none" stroke="#267bd7" stroke-width="1.0" stroke-linecap="round" d="M669.2 592.0L673.2 594.5"/><path fill="#2a8cdc" d="M481.5 587.6h4.0v0.9h-4.0zM485.7 577.7h5.1v1.0h-5.1zM483.8 574.7h2.1v1.0h-2.1zM473.7 590.6h4.9v0.8h-4.9zM489.0 592.3h5.0v1.0h-5.0zM489.7 579.4h4.3v0.9h-4.3zM491.6 577.5h1.9v1.1h-1.9zM486.9 581.0h6.9v0.9h-6.9zM472.7 582.7h3.3v1.0h-3.3zM471.7 579.1h2.1v1.0h-2.1zM488.0 565.3h1.5v1.2h-1.5zM482.8 586.4h2.4v0.8h-2.4zM478.9 580.5h6.0v0.7h-6.0zM482.1 584.6h5.2v1.1h-5.2zM480.2 573.9h7.0v1.0h-7.0zM482.0 569.7h1.7v1.1h-1.7zM475.7 575.4h2.0v1.1h-2.0zM501.3 564.4h5.9v1.2h-5.9zM505.6 588.5h3.4v0.9h-3.4zM503.2 571.1h3.9v1.2h-3.9zM501.5 592.7h2.3v0.8h-2.3zM532.6 565.0h5.9v1.0h-5.9zM529.6 583.3h3.5v0.9h-3.5zM522.0 572.5h5.3v1.0h-5.3zM525.5 587.5h5.0v1.1h-5.0zM522.5 574.3h5.5v0.8h-5.5zM531.3 578.3h6.7v0.7h-6.7zM521.6 593.2h3.7v1.0h-3.7zM534.0 577.3h3.7v0.8h-3.7zM537.8 583.0h2.9v1.1h-2.9zM533.2 568.1h5.2v0.9h-5.2zM537.8 577.7h1.9v0.8h-1.9zM550.7 569.5h3.1v1.1h-3.1zM550.1 568.9h1.5v1.1h-1.5zM558.9 580.2h1.9v0.7h-1.9zM564.9 577.9h1.7v0.9h-1.7zM561.6 589.4h6.5v0.7h-6.5zM555.6 562.6h3.7v1.0h-3.7zM572.0 593.4h5.7v0.9h-5.7zM568.3 578.2h3.7v0.8h-3.7zM569.6 577.2h5.9v0.8h-5.9zM559.8 582.4h4.7v0.8h-4.7zM595.0 579.1h3.3v0.8h-3.3zM607.3 568.6h7.0v0.8h-7.0zM596.0 573.7h7.0v1.1h-7.0zM601.6 590.1h6.7v0.7h-6.7zM594.3 561.2h2.1v1.1h-2.1zM594.4 565.2h4.0v0.7h-4.0zM605.7 588.4h6.6v0.8h-6.6zM596.5 580.2h4.0v1.1h-4.0zM592.6 562.1h6.4v0.9h-6.4zM595.9 564.6h3.4v0.7h-3.4zM607.4 568.9h2.3v1.1h-2.3zM622.7 563.1h5.2v1.1h-5.2zM627.5 577.6h1.6v1.2h-1.6zM632.2 572.5h3.0v1.1h-3.0zM623.2 579.0h4.4v0.9h-4.4zM633.0 566.4h3.8v0.9h-3.8zM652.7 559.1h3.4v1.0h-3.4zM646.4 561.7h2.8v1.0h-2.8zM665.6 561.3h3.1v0.9h-3.1zM664.8 586.1h5.6v0.9h-5.6zM639.6 577.4h5.0v0.9h-5.0zM643.3 565.5h3.3v1.0h-3.3zM643.4 572.9h4.7v0.9h-4.7zM671.9 577.5h2.7v1.0h-2.7zM664.8 570.7h2.5v1.0h-2.5zM652.9 570.2h3.4v0.7h-3.4zM667.6 567.7h4.7v0.9h-4.7zM665.3 561.3h4.9v0.7h-4.9zM659.2 566.8h3.7v0.8h-3.7zM642.6 590.6h3.1v0.7h-3.1zM664.5 584.0h3.7v1.1h-3.7zM653.5 585.7h5.5v1.0h-5.5zM644.0 565.1h2.8v1.1h-2.8zM643.6 585.0h2.5v0.8h-2.5zM647.4 564.6h6.6v1.1h-6.6zM659.6 562.7h2.4v1.1h-2.4zM640.9 587.0h2.6v1.2h-2.6zM645.9 560.5h1.6v1.1h-1.6zM656.8 571.6h4.8v1.1h-4.8zM656.2 576.0h4.1v1.0h-4.1z"/><path fill="#2f9cdc" d="M476.9 560.4h6.8v0.9h-6.8zM487.7 576.8h5.2v0.9h-5.2zM485.3 560.9h4.4v0.8h-4.4zM489.2 568.5h2.5v1.0h-2.5zM480.3 567.5h5.1v0.8h-5.1zM479.3 562.6h5.5v0.8h-5.5zM476.2 577.6h3.1v0.8h-3.1zM475.9 564.0h6.0v1.0h-6.0zM485.6 559.1h4.3v0.8h-4.3zM482.1 584.3h2.3v0.7h-2.3zM485.2 579.3h3.9v0.9h-3.9zM474.4 575.6h3.0v1.1h-3.0zM479.2 578.6h4.8v1.1h-4.8zM479.6 576.3h4.3v1.1h-4.3zM480.8 576.3h1.9v1.1h-1.9zM487.4 580.2h2.2v1.1h-2.2zM501.1 565.0h4.6v1.1h-4.6zM502.8 575.7h5.7v0.7h-5.7zM505.1 571.9h4.2v0.9h-4.2zM498.3 561.5h4.4v0.7h-4.4zM523.3 567.5h3.4v0.7h-3.4zM529.2 559.4h2.6v1.1h-2.6zM537.8 568.6h2.8v0.8h-2.8zM531.5 571.8h2.1v1.1h-2.1zM543.8 572.6h2.4v1.1h-2.4zM540.5 569.5h4.7v1.1h-4.7zM572.5 562.0h4.7v0.8h-4.7zM567.9 562.4h2.3v0.8h-2.3zM555.1 559.4h6.3v0.7h-6.3zM567.3 592.0h5.8v0.7h-5.8zM576.5 576.9h1.7v1.0h-1.7zM557.5 580.3h3.7v1.1h-3.7zM553.6 579.2h2.8v1.1h-2.8zM609.6 561.1h1.6v1.2h-1.6zM607.3 561.6h2.8v0.9h-2.8zM600.0 590.0h6.7v1.1h-6.7zM603.3 560.9h6.0v0.8h-6.0zM592.0 575.6h5.0v1.1h-5.0zM612.4 587.8h2.7v1.0h-2.7zM596.2 573.0h4.2v0.8h-4.2zM599.1 563.9h5.2v1.2h-5.2zM592.2 569.9h4.9v0.9h-4.9zM650.0 584.4h5.9v0.7h-5.9zM660.4 591.7h6.3v0.7h-6.3zM641.7 584.6h6.6v0.9h-6.6zM667.2 576.3h6.7v1.1h-6.7zM663.6 569.4h4.9v1.1h-4.9zM655.4 569.3h5.4v1.1h-5.4zM655.3 559.6h5.8v1.1h-5.8zM657.0 587.9h2.6v1.1h-2.6zM668.7 589.3h2.0v1.2h-2.0zM655.1 572.9h6.4v0.7h-6.4zM639.3 585.4h5.5v0.8h-5.5zM669.0 577.5h4.7v0.9h-4.7zM668.3 564.1h4.3v1.2h-4.3zM654.8 563.7h2.3v0.9h-2.3zM657.4 587.8h4.6v0.8h-4.6zM645.0 588.3h2.0v1.1h-2.0zM649.4 565.9h5.8v1.2h-5.8zM652.8 567.8h4.8v1.1h-4.8zM652.8 567.5h2.8v1.0h-2.8z"/><path fill="none" stroke="#2f9cdc" stroke-width="1.0" stroke-linecap="round" d="M669.7 560.0L673.7 562.5"/><path fill="#34addc" d="M489.4 590.4h4.6v0.8h-4.6zM490.0 582.9h4.0v0.7h-4.0zM489.8 568.8h2.4v1.2h-2.4zM480.8 560.5h6.7v0.7h-6.7zM482.4 569.6h5.2v0.7h-5.2zM473.5 587.0h5.2v1.2h-5.2zM471.7 572.9h6.0v1.1h-6.0zM480.4 569.0h5.0v1.1h-5.0zM477.0 579.4h4.2v1.1h-4.2zM471.9 577.4h3.7v1.1h-3.7zM486.6 580.1h2.3v1.1h-2.3zM503.8 576.2h2.2v0.8h-2.2zM500.9 571.6h2.7v1.2h-2.7zM516.3 565.3h1.3v1.1h-1.3zM512.7 569.9h1.7v1.1h-1.7zM530.2 569.7h6.7v1.0h-6.7zM525.4 588.5h3.5v1.2h-3.5zM534.6 572.5h3.4v1.1h-3.4zM532.2 580.3h4.6v0.7h-4.6zM529.6 569.4h3.6v1.2h-3.6zM526.3 571.3h2.5v1.1h-2.5zM548.9 569.0h2.0v1.1h-2.0zM549.9 571.6h1.1v1.1h-1.1zM552.9 588.6h4.8v1.0h-4.8zM561.3 575.0h1.9v0.7h-1.9zM568.1 568.6h4.1v0.7h-4.1zM561.8 564.7h4.6v1.0h-4.6zM554.4 590.3h4.5v1.2h-4.5zM571.4 570.3h3.4v0.9h-3.4zM574.3 567.1h3.9v0.9h-3.9zM560.5 585.2h1.6v1.1h-1.6zM556.0 579.2h2.9v1.1h-2.9zM606.8 576.6h3.9v1.0h-3.9zM606.9 589.7h4.2v0.9h-4.2zM604.3 561.6h2.0v0.8h-2.0zM602.1 582.2h3.4v1.1h-3.4zM598.4 582.2h3.4v1.1h-3.4zM593.9 589.3h6.9v0.8h-6.9zM607.5 560.7h6.0v0.9h-6.0zM605.7 574.6h4.6v1.0h-4.6zM592.8 582.3h2.7v0.7h-2.7zM595.2 578.3h3.8v1.1h-3.8zM600.0 577.6h5.9v1.1h-5.9zM592.6 577.2h3.9v1.1h-3.9zM596.8 578.6h2.0v1.1h-2.0zM605.1 569.9h2.7v1.1h-2.7zM603.0 566.8h4.0v1.1h-4.0zM606.3 568.8h3.8v1.1h-3.8zM633.8 589.8h1.6v0.8h-1.6zM668.9 580.1h2.5v0.8h-2.5zM668.4 567.6h4.4v0.9h-4.4zM667.6 571.7h5.2v0.7h-5.2zM660.6 587.6h4.8v0.8h-4.8zM657.1 584.8h4.4v1.0h-4.4zM659.2 573.1h2.0v1.0h-2.0zM663.6 570.4h1.7v1.1h-1.7zM667.2 592.0h5.7v0.8h-5.7zM648.1 586.3h2.2v0.9h-2.2zM672.0 562.9h2.6v0.9h-2.6zM650.3 563.7h3.6v0.9h-3.6zM642.5 582.7h5.5v0.7h-5.5zM659.3 564.4h2.0v0.9h-2.0zM644.5 560.3h6.6v1.1h-6.6zM649.6 560.1h4.4v1.1h-4.4zM650.3 566.2h7.0v0.7h-7.0zM647.8 576.8h3.9v0.7h-3.9z"/><path fill="none" stroke="#34addc" stroke-width="1.0" stroke-linecap="round" d="M661.8 587.4L665.8 589.9"/><path fill="#39bedc" d="M483.9 580.4h6.2v1.1h-6.2zM478.2 565.0h5.3v0.9h-5.3zM484.3 566.6h5.0v0.7h-5.0zM480.5 572.4h2.3v1.2h-2.3zM477.9 560.2h6.8v1.1h-6.8zM476.7 571.8h5.4v0.7h-5.4zM482.5 576.1h6.2v0.9h-6.2zM476.5 589.0h5.7v1.0h-5.7zM488.0 588.6h2.3v0.7h-2.3zM483.1 580.6h2.0v0.9h-2.0zM473.8 589.5h1.6v0.8h-1.6zM473.2 575.0h4.0v0.8h-4.0zM482.1 573.2h2.7v0.8h-2.7zM473.8 572.8h6.9v1.0h-6.9zM480.7 568.2h5.3v1.1h-5.3zM486.3 580.0h1.1v1.1h-1.1zM499.5 585.0h4.1v0.9h-4.1zM503.7 586.5h4.0v1.0h-4.0zM516.1 568.3h2.1v1.1h-2.1zM510.2 567.3h3.3v1.1h-3.3zM539.3 575.5h1.4v0.9h-1.4zM535.7 561.3h5.0v0.7h-5.0zM526.9 558.9h2.4v0.7h-2.4zM528.3 559.3h2.7v1.0h-2.7zM526.8 571.1h2.0v1.1h-2.0zM529.1 570.0h2.7v1.1h-2.7zM547.4 572.6h1.2v1.1h-1.2zM542.6 570.0h1.1v1.1h-1.1zM540.9 568.8h4.9v1.1h-4.9zM573.7 587.9h4.5v1.0h-4.5zM556.7 581.9h5.6v1.0h-5.6zM567.2 575.9h6.6v0.7h-6.6zM552.9 561.1h4.8v0.7h-4.8zM564.8 591.5h4.9v0.7h-4.9zM563.8 575.3h1.9v0.8h-1.9zM606.0 566.8h4.6v0.7h-4.6zM596.7 562.9h6.6v1.2h-6.6zM602.4 576.0h6.3v0.7h-6.3zM601.2 570.3h3.5v1.1h-3.5zM606.3 569.5h2.3v1.1h-2.3zM603.3 567.5h6.1v1.1h-6.1zM592.6 563.2h4.3v0.9h-4.3zM606.3 591.1h6.2v0.9h-6.2zM600.3 569.6h3.8v1.0h-3.8zM591.9 580.6h5.4v1.1h-5.4zM609.3 571.4h4.9v0.8h-4.9zM604.1 567.5h1.7v1.0h-1.7zM609.6 567.5h4.0v1.1h-4.0zM595.7 582.9h3.9v1.1h-3.9zM598.8 574.7h5.7v1.1h-5.7zM602.9 566.8h4.3v1.1h-4.3zM630.9 571.8h4.7v0.8h-4.7zM641.8 572.4h5.1v0.8h-5.1zM665.1 565.2h3.3v1.0h-3.3zM652.9 582.1h1.7v0.9h-1.7zM662.6 585.2h2.9v1.0h-2.9zM656.6 579.5h2.1v1.1h-2.1zM657.0 577.6h4.7v0.7h-4.7zM643.4 576.9h2.9v1.2h-2.9zM658.0 572.3h4.0v1.0h-4.0zM647.5 585.6h4.1v0.9h-4.1zM660.3 590.5h1.7v1.2h-1.7zM641.0 581.8h2.6v0.9h-2.6zM640.3 574.7h3.7v1.0h-3.7z"/><path fill="none" stroke="#39bedc" stroke-width="1.0" stroke-linecap="round" d="M670.7 582.9L674.7 585.4"/><path fill="#46c9cf" d="M485.4 567.5h4.8v0.8h-4.8zM476.2 569.3h2.2v1.1h-2.2zM483.0 587.5h5.4v0.9h-5.4zM477.9 587.1h3.4v1.0h-3.4zM477.7 575.6h3.7v0.7h-3.7zM484.2 566.3h1.7v1.0h-1.7zM478.0 589.7h4.5v1.1h-4.5zM473.8 585.5h3.5v1.0h-3.5zM480.5 559.8h6.6v1.0h-6.6zM489.9 571.4h4.1v1.1h-4.1zM486.4 585.3h3.6v1.0h-3.6zM487.3 561.4h4.7v0.9h-4.7zM511.7 564.6h2.3v1.1h-2.3zM512.3 569.9h3.2v1.1h-3.2zM514.8 564.2h1.7v1.1h-1.7zM514.3 564.9h3.0v1.1h-3.0zM522.6 576.5h4.0v1.1h-4.0zM528.1 570.1h1.6v1.1h-1.6zM548.1 570.3h5.1v1.1h-5.1zM542.6 568.3h4.1v1.1h-4.1zM548.6 568.4h1.6v1.1h-1.6zM559.3 575.6h2.3v0.8h-2.3zM608.0 560.3h6.3v0.9h-6.3zM611.5 590.8h3.6v0.7h-3.6zM607.4 579.0h6.2v0.9h-6.2zM607.6 562.9h5.7v0.7h-5.7zM598.1 583.9h6.6v0.7h-6.6zM609.1 582.9h4.3v0.7h-4.3zM598.1 568.5h2.9v1.1h-2.9zM605.6 577.9h2.3v0.8h-2.3zM591.6 576.5h5.8v1.1h-5.8zM593.3 576.5h3.4v1.1h-3.4zM605.7 567.7h3.4v1.1h-3.4zM625.1 576.4h2.1v0.7h-2.1zM666.4 579.7h5.3v0.9h-5.3zM653.6 592.7h1.9v1.1h-1.9zM646.6 566.1h5.4v1.1h-5.4zM648.3 588.7h2.3v0.9h-2.3zM654.1 565.2h5.3v1.1h-5.3zM653.7 571.0h3.3v1.0h-3.3zM644.7 589.1h6.5v0.7h-6.5zM640.6 589.7h4.0v1.1h-4.0zM639.0 561.0h4.6v1.6h-4.6zM639.0 582.8h2.4v1.6h-2.4zM666.2 588.0h5.4v1.6h-5.4z"/><path fill="none" stroke="#46c9cf" stroke-width="1.0" stroke-linecap="round" d="M666.2 564.6L670.2 567.1M664.1 569.1L668.1 571.6M664.5 573.7L668.5 576.2"/><path fill="#60ceb0" d="M489.4 567.8h1.6v1.1h-1.6zM478.2 560.7h5.9v1.0h-5.9zM473.4 574.2h5.1v0.8h-5.1zM484.1 577.7h5.8v0.7h-5.8zM485.0 592.7h2.6v1.1h-2.6zM479.1 576.9h5.0v1.1h-5.0zM475.9 575.4h4.3v1.1h-4.3zM481.3 581.9h4.4v1.1h-4.4zM513.9 569.1h2.1v1.1h-2.1zM510.6 565.1h3.9v1.1h-3.9zM514.8 565.0h2.8v1.1h-2.8zM513.9 569.3h1.8v1.1h-1.8zM535.3 566.8h1.6v0.7h-1.6zM532.4 584.5h1.8v1.1h-1.8zM529.6 575.2h3.1v0.7h-3.1zM524.0 573.8h3.4v0.8h-3.4zM523.3 585.5h6.1v1.1h-6.1zM524.1 577.1h6.3v1.1h-6.3zM529.2 570.3h3.0v1.1h-3.0zM528.5 572.7h1.2v1.1h-1.2zM544.9 572.5h1.2v1.1h-1.2zM572.7 585.8h5.5v1.0h-5.5zM552.0 582.5h2.7v1.1h-2.7zM554.1 579.5h3.3v1.1h-3.3zM556.9 580.7h2.9v1.1h-2.9zM597.2 590.4h6.1v1.2h-6.1zM599.5 575.2h3.2v0.9h-3.2zM600.0 591.5h5.1v1.2h-5.1zM607.6 581.4h6.2v1.1h-6.2zM604.3 563.1h4.1v1.2h-4.1zM611.5 579.6h2.4v0.7h-2.4zM592.5 569.2h5.1v1.2h-5.1zM600.1 575.1h4.5v1.1h-4.5zM596.2 574.5h3.0v1.1h-3.0zM595.6 575.1h1.0v1.1h-1.0zM600.5 568.1h3.6v1.1h-3.6zM604.2 570.0h3.0v1.1h-3.0zM626.4 570.8h3.7v0.8h-3.7zM647.7 572.3h3.7v1.1h-3.7zM667.4 576.2h4.2v0.8h-4.2zM658.0 592.9h3.8v0.7h-3.8zM639.6 559.4h5.3v0.7h-5.3zM650.5 577.2h5.4v1.1h-5.4zM658.8 568.3h3.2v1.1h-3.2zM653.6 578.6h6.1v1.0h-6.1zM641.7 576.1h5.8v0.7h-5.8zM655.5 581.2h6.3v1.2h-6.3zM654.6 586.3h6.9v1.1h-6.9zM669.0 560.6h3.4v1.6h-3.4zM669.4 578.8h3.0v1.6h-3.0zM639.0 587.9h3.1v1.6h-3.1z"/><path fill="#7ad391" d="M485.4 585.9h6.0v0.7h-6.0zM484.1 566.6h1.6v1.0h-1.6zM483.7 580.9h4.5v1.1h-4.5zM475.9 587.3h7.0v0.8h-7.0zM473.5 584.9h3.5v1.0h-3.5zM474.8 566.9h3.9v1.1h-3.9zM479.9 566.0h3.8v1.1h-3.8zM480.4 568.9h1.8v1.1h-1.8zM482.2 566.5h1.6v1.1h-1.6zM479.1 565.9h4.5v1.1h-4.5zM497.6 581.5h4.5v0.7h-4.5zM512.2 568.2h1.7v1.1h-1.7zM511.5 566.3h2.7v1.1h-2.7zM515.8 567.7h1.6v1.1h-1.6zM513.8 569.4h1.4v1.1h-1.4zM527.4 559.6h4.8v1.2h-4.8zM529.9 570.8h2.0v1.1h-2.0zM542.2 568.9h5.0v1.1h-5.0zM546.8 572.0h3.2v1.1h-3.2zM544.3 572.3h3.0v1.1h-3.0zM543.9 571.8h4.0v1.1h-4.0zM543.9 567.7h3.6v1.1h-3.6zM552.9 581.3h1.2v1.1h-1.2zM554.9 582.7h3.8v1.1h-3.8zM553.7 580.6h1.0v1.1h-1.0zM592.3 569.8h6.7v0.9h-6.7zM610.0 561.2h2.8v0.9h-2.8zM597.7 560.9h6.1v1.0h-6.1zM611.7 576.9h3.4v1.2h-3.4zM596.8 577.2h4.6v1.0h-4.6zM604.7 575.8h4.3v0.9h-4.3zM593.0 576.1h4.2v1.1h-4.2zM643.0 562.2h4.3v1.1h-4.3zM653.2 589.2h6.4v0.8h-6.4zM651.1 582.2h5.8v1.2h-5.8zM644.0 579.7h6.0v1.0h-6.0zM658.4 590.8h3.6v0.9h-3.6zM647.0 572.8h3.5v1.1h-3.5zM644.9 589.9h6.9v0.8h-6.9zM670.3 565.4h2.1v1.6h-2.1zM661.3 587.6h5.3v1.6h-5.3z"/><path fill="none" stroke="#7ad391" stroke-width="1.0" stroke-linecap="round" d="M664.0 578.3L668.0 580.8"/><path fill="#95d872" d="M472.5 576.9h3.6v1.0h-3.6zM486.5 559.8h3.7v0.8h-3.7zM492.0 575.7h2.0v0.7h-2.0zM473.3 579.4h7.0v1.1h-7.0zM482.8 560.1h3.7v1.0h-3.7zM482.0 591.5h3.9v1.1h-3.9zM484.2 584.1h6.2v0.8h-6.2zM475.0 567.5h3.6v1.1h-3.6zM475.1 567.3h3.7v1.1h-3.7zM478.6 569.1h2.0v1.1h-2.0zM474.8 566.4h4.7v1.1h-4.7zM480.1 568.7h4.1v1.1h-4.1zM475.8 579.2h1.4v1.1h-1.4zM480.2 578.1h1.4v1.1h-1.4zM486.8 581.0h2.8v1.1h-2.8zM485.2 580.6h3.4v1.1h-3.4zM484.2 582.4h1.2v1.1h-1.2zM515.6 567.1h1.7v1.1h-1.7zM512.9 567.9h1.4v1.1h-1.4zM512.4 565.2h3.0v1.1h-3.0zM527.4 571.7h2.6v1.1h-2.6zM529.1 570.7h3.2v1.1h-3.2zM527.6 571.2h3.2v1.1h-3.2zM547.8 571.0h3.6v1.1h-3.6zM555.1 583.1h3.0v1.1h-3.0zM555.6 582.5h3.7v1.1h-3.7zM555.2 583.1h3.2v1.1h-3.2zM595.2 574.2h6.3v1.0h-6.3zM612.8 585.7h2.3v1.1h-2.3zM595.3 570.7h5.7v0.9h-5.7zM599.3 570.7h4.4v1.0h-4.4zM592.8 569.8h5.4v1.0h-5.4zM600.0 577.4h3.8v1.1h-3.8zM592.6 577.3h5.3v1.1h-5.3zM604.4 569.6h1.5v1.1h-1.5zM604.3 569.7h2.4v1.1h-2.4zM647.0 566.9h6.5v1.0h-6.5zM655.2 569.8h3.0v0.7h-3.0zM658.2 572.6h3.8v0.9h-3.8zM644.3 568.2h4.7v1.1h-4.7zM648.2 566.5h4.5v0.8h-4.5zM648.1 568.2h1.9v0.8h-1.9zM654.3 587.4h5.7v1.1h-5.7zM656.9 583.4h4.3v0.9h-4.3zM671.4 574.6h1.0v1.6h-1.0zM641.0 582.8h5.1v1.6h-5.1zM665.2 582.8h3.1v1.6h-3.1zM647.8 587.9h3.6v1.6h-3.6z"/><path fill="#aedb57" d="M485.5 578.1h4.8v0.9h-4.8zM478.6 583.4h3.8v0.8h-3.8zM482.0 564.2h4.5v1.0h-4.5zM472.3 591.8h6.8v1.1h-6.8zM475.6 567.1h2.3v1.1h-2.3zM479.1 576.3h2.1v1.1h-2.1zM474.4 578.3h1.3v1.1h-1.3zM482.4 581.1h2.6v1.1h-2.6zM514.6 567.0h3.1v1.1h-3.1zM513.7 565.3h3.3v1.1h-3.3zM515.0 565.6h1.8v1.1h-1.8zM512.4 565.7h1.6v1.1h-1.6zM513.7 568.2h3.5v1.1h-3.5zM546.5 571.3h3.5v1.1h-3.5zM544.3 569.3h1.0v1.1h-1.0zM543.9 570.5h1.5v1.1h-1.5zM548.1 570.5h2.6v1.1h-2.6zM555.8 581.6h3.5v1.1h-3.5zM555.9 581.1h2.8v1.1h-2.8zM551.7 580.9h3.7v1.1h-3.7zM556.6 581.4h2.9v1.1h-2.9zM604.9 581.7h2.5v0.8h-2.5zM600.7 568.6h4.3v1.1h-4.3zM602.5 567.5h3.6v1.1h-3.6zM641.6 590.8h4.2v0.8h-4.2zM650.7 568.6h4.8v1.2h-4.8zM649.4 565.0h6.8v0.8h-6.8zM666.7 560.8h2.6v1.6h-2.6zM653.8 583.5h5.2v1.6h-5.2zM657.6 587.3h4.1v1.6h-4.1z"/><path fill="#c6da48" d="M471.7 573.1h4.5v0.7h-4.5zM474.8 584.4h7.0v0.9h-7.0zM482.1 578.6h2.4v1.1h-2.4zM477.8 565.9h2.1v1.1h-2.1zM480.2 566.7h5.1v1.1h-5.1zM474.9 578.2h1.1v1.1h-1.1zM485.9 580.6h3.3v1.1h-3.3zM485.6 582.3h4.2v1.1h-4.2zM483.0 581.5h2.4v1.1h-2.4zM486.2 581.4h3.0v1.1h-3.0zM513.1 566.5h3.5v1.1h-3.5zM514.2 566.4h3.4v1.1h-3.4zM511.7 566.9h3.9v1.1h-3.9zM512.8 568.1h2.7v1.1h-2.7zM511.6 566.8h3.9v1.1h-3.9zM512.9 567.1h3.2v1.1h-3.2zM513.3 568.7h3.4v1.1h-3.4zM512.9 567.0h3.9v1.1h-3.9zM527.1 571.6h3.2v1.1h-3.2zM528.5 571.9h1.3v1.1h-1.3zM543.8 568.9h2.3v1.1h-2.3zM546.5 568.4h1.6v1.1h-1.6zM546.7 568.9h5.0v1.1h-5.0zM556.1 580.2h2.8v1.1h-2.8zM554.0 582.3h1.7v1.1h-1.7zM554.3 582.7h1.2v1.1h-1.2zM556.3 581.5h2.1v1.1h-2.1zM594.7 563.7h4.7v0.7h-4.7zM598.4 581.7h1.8v0.7h-1.8zM593.7 576.7h4.1v1.1h-4.1zM598.3 578.0h4.9v1.1h-4.9zM597.7 577.9h1.1v1.1h-1.1zM604.3 569.3h4.2v1.1h-4.2zM642.7 565.2h5.3v1.6h-5.3zM671.3 583.3h1.1v1.6h-1.1zM641.7 588.1h3.8v1.6h-3.8z"/><path fill="#ded839" d="M479.2 568.3h5.1v1.1h-5.1zM480.9 567.0h3.6v1.1h-3.6zM483.7 580.8h1.4v1.1h-1.4zM514.8 567.3h2.8v1.1h-2.8zM514.2 567.0h3.8v1.1h-3.8zM513.8 566.1h1.5v1.1h-1.5zM513.9 566.1h3.6v1.1h-3.6zM528.7 571.0h2.0v1.1h-2.0zM528.8 572.2h2.8v1.1h-2.8zM529.9 571.7h1.5v1.1h-1.5zM545.0 569.5h1.9v1.1h-1.9zM548.9 570.3h1.6v1.1h-1.6zM546.4 569.5h5.2v1.1h-5.2zM556.4 581.1h1.4v1.1h-1.4zM555.1 582.6h3.8v1.1h-3.8zM554.1 581.7h1.8v1.1h-1.8zM555.4 581.8h1.9v1.1h-1.9zM554.7 582.7h4.4v1.1h-4.4zM602.3 572.9h4.0v0.7h-4.0zM597.0 577.8h5.7v1.1h-5.7zM593.6 577.4h5.6v1.1h-5.6zM596.1 577.6h1.7v1.1h-1.7zM594.7 576.3h1.9v1.1h-1.9zM605.0 568.9h2.2v1.1h-2.2zM645.6 560.4h2.9v1.6h-2.9zM639.0 564.9h4.1v1.6h-4.1zM639.0 569.3h5.1v1.6h-5.1zM639.0 574.0h5.3v1.6h-5.3zM643.9 574.5h4.0v1.6h-4.0zM667.9 582.9h3.8v1.6h-3.8z"/><path fill="#f6d72a" d="M492.0 564.8h2.0v0.7h-2.0zM479.7 588.7h3.2v0.8h-3.2zM480.8 566.5h1.8v1.1h-1.8zM480.7 566.6h1.3v1.1h-1.3zM475.4 578.7h3.1v1.1h-3.1zM476.5 576.2h1.4v1.1h-1.4zM477.7 577.8h4.7v1.1h-4.7zM474.6 576.7h2.7v1.1h-2.7zM486.4 581.2h2.6v1.1h-2.6zM486.0 581.4h1.7v1.1h-1.7zM544.9 571.1h1.8v1.1h-1.8zM554.8 581.4h2.4v1.1h-2.4zM554.5 580.8h3.2v1.1h-3.2zM554.8 582.2h1.2v1.1h-1.2zM555.6 581.7h3.7v1.1h-3.7zM594.9 576.3h1.8v1.1h-1.8zM605.1 569.0h1.7v1.1h-1.7zM602.1 568.0h3.0v1.1h-3.0zM603.6 568.3h4.1v1.1h-4.1zM644.9 581.1h6.6v0.7h-6.6zM651.5 560.4h4.5v1.6h-4.5zM665.4 564.9h5.3v1.6h-5.3zM667.8 574.4h4.1v1.6h-4.1zM639.0 579.1h4.3v1.6h-4.3zM642.9 578.9h5.0v1.6h-5.0zM649.7 583.5h4.5v1.6h-4.5z"/><path fill="#f7be25" d="M482.2 562.0h3.1v1.1h-3.1zM479.3 566.4h2.7v1.1h-2.7zM479.8 567.6h4.6v1.1h-4.6zM480.8 567.0h2.3v1.1h-2.3zM475.6 578.7h3.6v1.1h-3.6zM475.8 578.4h3.5v1.1h-3.5zM477.8 578.3h3.5v1.1h-3.5zM475.6 578.5h3.3v1.1h-3.3zM474.7 578.4h4.8v1.1h-4.8zM484.8 580.8h2.6v1.1h-2.6zM483.6 581.1h3.0v1.1h-3.0zM548.1 569.7h1.4v1.1h-1.4zM544.1 568.8h4.7v1.1h-4.7zM544.0 571.1h3.0v1.1h-3.0zM547.4 570.0h1.5v1.1h-1.5zM547.8 570.3h2.4v1.1h-2.4zM544.6 570.5h4.5v1.1h-4.5zM553.7 580.4h3.4v1.1h-3.4zM554.4 582.1h1.7v1.1h-1.7zM554.8 581.9h2.7v1.1h-2.7zM598.0 586.4h4.4v0.8h-4.4zM596.5 577.5h1.4v1.1h-1.4zM600.2 577.2h2.0v1.1h-2.0zM605.7 568.3h2.2v1.1h-2.2zM603.9 568.8h1.1v1.1h-1.1zM655.7 560.8h4.9v1.6h-4.9zM664.7 569.4h3.2v1.6h-3.2zM645.1 588.1h3.2v1.6h-3.2zM651.1 587.5h4.5v1.6h-4.5z"/><path fill="#f4a122" d="M476.7 567.1h4.0v1.1h-4.0zM478.2 566.3h1.6v1.1h-1.6zM478.9 568.4h1.1v1.1h-1.1zM477.0 576.9h4.7v1.1h-4.7zM477.2 576.8h3.6v1.1h-3.6zM476.8 576.4h1.4v1.1h-1.4zM477.3 576.7h4.5v1.1h-4.5zM485.3 581.7h2.2v1.1h-2.2zM485.9 581.6h1.0v1.1h-1.0zM485.1 581.0h3.0v1.1h-3.0zM485.1 581.1h1.2v1.1h-1.2zM546.1 569.5h3.5v1.1h-3.5zM546.6 571.1h3.2v1.1h-3.2zM544.7 570.1h2.2v1.1h-2.2zM555.1 581.8h2.1v1.1h-2.1zM595.4 575.5h4.8v1.1h-4.8zM595.4 577.1h5.8v1.1h-5.8zM600.3 576.9h1.6v1.1h-1.6zM599.9 576.8h2.5v1.1h-2.5zM604.4 568.3h2.2v1.1h-2.2zM604.4 568.8h2.0v1.1h-2.0zM654.7 577.8h4.6v1.2h-4.6zM643.2 560.6h2.8v1.6h-2.8zM667.5 569.6h4.9v1.6h-4.9zM647.5 574.6h2.8v1.6h-2.8zM660.9 573.8h3.4v1.6h-3.4zM647.5 578.5h3.7v1.6h-3.7z"/><path fill="#f28520" d="M478.0 568.2h3.9v1.1h-3.9zM476.6 566.9h5.2v1.1h-5.2zM476.4 577.2h1.8v1.1h-1.8zM545.5 570.4h3.1v1.1h-3.1zM597.9 576.2h4.9v1.1h-4.9zM595.0 576.7h3.5v1.1h-3.5zM597.4 575.4h5.5v1.1h-5.5zM594.3 575.9h5.5v1.1h-5.5zM604.3 568.2h2.8v1.1h-2.8zM648.0 560.3h3.9v1.6h-3.9zM647.6 570.0h5.1v1.6h-5.1z"/><path fill="#ee6a1d" d="M476.6 567.4h4.8v1.1h-4.8zM476.2 567.6h4.1v1.1h-4.1zM473.8 577.4h5.0v1.1h-5.0zM476.8 576.9h1.7v1.1h-1.7zM598.3 576.3h3.7v1.1h-3.7zM598.0 576.6h2.6v1.1h-2.6zM596.1 577.3h5.9v1.1h-5.9zM598.4 576.4h4.4v1.1h-4.4zM660.2 561.1h3.5v1.6h-3.5zM663.3 561.0h3.9v1.6h-3.9zM649.9 574.5h2.4v1.6h-2.4zM663.9 574.0h4.3v1.6h-4.3zM650.8 578.3h3.4v1.6h-3.4zM662.4 582.8h3.2v1.6h-3.2zM655.2 587.3h2.8v1.6h-2.8z"/><path fill="#e4571b" d="M478.1 567.5h4.8v1.1h-4.8zM478.6 567.3h3.1v1.1h-3.1zM476.4 567.5h4.5v1.1h-4.5zM597.6 576.9h4.0v1.1h-4.0zM597.9 576.6h3.1v1.1h-3.1zM662.0 564.8h3.8v1.6h-3.8zM657.7 569.5h4.5v1.6h-4.5zM666.8 579.0h3.0v1.6h-3.0zM645.7 583.2h4.4v1.6h-4.4z"/><path fill="#db4418" d="M476.5 577.4h2.3v1.1h-2.3zM474.7 577.1h5.5v1.1h-5.5zM598.5 576.6h2.6v1.1h-2.6zM595.9 576.3h4.2v1.1h-4.2zM596.2 575.9h5.8v1.1h-5.8zM647.6 565.6h3.4v1.6h-3.4zM652.4 570.0h3.3v1.6h-3.3zM661.8 569.3h3.3v1.6h-3.3zM655.1 574.0h3.8v1.6h-3.8zM653.8 578.4h5.3v1.6h-5.3zM658.7 578.8h3.8v1.6h-3.8z"/><path fill="#d13116" d="M658.5 573.8h2.8v1.6h-2.8z"/><path fill="#c81e14" d="M650.6 565.6h5.3v1.6h-5.3zM655.5 565.2h4.3v1.6h-4.3zM659.4 564.9h3.1v1.6h-3.1zM643.7 569.7h4.4v1.6h-4.4zM655.3 569.8h2.8v1.6h-2.8zM651.9 574.3h3.5v1.6h-3.5zM662.1 579.0h5.1v1.6h-5.1zM658.7 583.1h4.2v1.6h-4.2z"/></g><clipPath id="cf4"><rect x="471.3" y="605.8" width="213.2" height="36.1"/></clipPath><g clip-path="url(#cf4)" filter="url(#sb)"><path fill="#113093" d="M568.4 618.5h3.1v1.0h-3.1zM589.6 622.7h1.4v0.8h-1.4z"/><path fill="#133aa6" d="M477.8 621.9h4.8v0.7h-4.8zM479.6 637.6h5.0v0.9h-5.0zM498.2 618.9h6.3v1.1h-6.3zM500.7 618.0h3.8v0.7h-3.8zM490.4 640.5h6.8v0.8h-6.8zM499.9 622.4h2.5v1.0h-2.5zM500.8 639.4h3.7v1.1h-3.7zM495.5 618.0h6.6v1.1h-6.6zM483.9 616.4h7.0v1.0h-7.0zM490.1 633.4h2.3v0.7h-2.3zM521.4 637.3h2.4v0.9h-2.4zM537.5 633.9h3.3v0.9h-3.3zM540.5 625.6h1.7v0.7h-1.7zM552.3 639.5h3.2v0.8h-3.2zM556.0 615.1h2.3v0.9h-2.3zM548.1 629.8h3.5v1.1h-3.5zM535.0 610.9h4.3v1.1h-4.3zM566.7 615.7h2.8v0.8h-2.8zM571.3 628.2h4.0v0.8h-4.0zM577.0 637.6h5.4v1.1h-5.4zM576.2 623.3h2.0v1.2h-2.0zM560.9 609.5h4.0v1.1h-4.0zM564.2 625.1h2.9v1.1h-2.9z"/><path fill="#1749b3" d="M489.2 635.5h5.4v0.7h-5.4zM495.2 640.7h5.4v0.9h-5.4zM496.9 611.4h3.0v1.1h-3.0zM488.3 638.2h6.1v0.8h-6.1zM483.2 624.5h5.1v1.2h-5.1zM502.3 624.1h2.2v0.8h-2.2zM489.9 615.0h3.2v0.9h-3.2zM498.6 616.2h5.4v0.8h-5.4zM477.3 633.9h6.4v0.9h-6.4zM484.0 615.3h3.6v1.2h-3.6zM482.4 629.5h2.9v1.1h-2.9zM508.2 611.2h3.0v1.1h-3.0zM513.8 609.3h3.1v1.1h-3.1zM521.3 639.9h3.6v1.2h-3.6zM517.1 619.5h3.3v0.8h-3.3zM543.4 615.8h3.7v1.2h-3.7zM546.3 622.8h4.1v1.1h-4.1zM555.9 606.9h2.4v0.7h-2.4zM539.8 617.5h2.5v0.8h-2.5zM546.4 619.9h5.6v0.9h-5.6zM553.4 624.0h4.9v0.7h-4.9zM539.4 627.8h2.5v0.9h-2.5zM548.7 634.6h6.1v0.9h-6.1zM538.1 627.0h3.4v0.7h-3.4zM543.5 626.0h5.0v1.1h-5.0zM547.5 629.4h4.6v1.1h-4.6zM547.3 632.5h1.1v1.1h-1.1zM542.9 633.2h3.8v1.1h-3.8zM565.0 625.8h2.1v1.0h-2.1zM563.0 607.1h4.8v0.7h-4.8zM565.5 621.3h2.8v1.1h-2.8zM571.5 610.3h4.5v0.7h-4.5zM577.9 635.8h5.9v1.0h-5.9zM587.1 632.8h3.9v1.1h-3.9zM565.9 622.2h3.0v1.1h-3.0zM573.8 620.6h1.6v1.1h-1.6zM572.9 618.9h4.4v1.1h-4.4zM561.2 629.1h4.2v1.1h-4.2zM569.8 626.7h2.8v1.1h-2.8z"/><path fill="#1c5abf" d="M479.2 616.2h1.6v1.0h-1.6zM475.7 635.2h5.3v0.9h-5.3zM478.7 628.0h2.3v0.9h-2.3zM492.2 619.0h3.6v0.8h-3.6zM474.6 606.4h6.2v1.1h-6.2zM476.1 606.6h1.8v0.7h-1.8zM488.9 635.7h3.3v0.9h-3.3zM492.6 624.1h4.9v0.8h-4.9zM532.8 631.0h2.1v0.9h-2.1zM530.4 623.5h1.5v1.2h-1.5zM536.2 636.7h6.5v0.9h-6.5zM541.4 619.4h2.5v0.8h-2.5zM553.3 632.6h2.4v0.8h-2.4zM554.0 617.5h4.3v1.0h-4.3zM549.5 624.8h2.5v0.8h-2.5zM544.9 638.6h4.7v1.1h-4.7zM538.8 638.8h6.1v1.1h-6.1zM556.4 632.1h1.9v1.2h-1.9zM542.6 625.9h3.6v1.1h-3.6zM538.6 625.9h4.4v1.1h-4.4zM542.6 621.3h4.8v1.1h-4.8zM537.7 630.3h4.9v1.1h-4.9zM565.1 635.2h2.7v0.8h-2.7zM574.3 607.5h5.3v0.8h-5.3zM572.6 610.6h1.6v1.2h-1.6zM584.0 621.1h2.6v0.8h-2.6zM568.3 624.5h6.1v0.7h-6.1zM571.4 633.3h1.8v1.0h-1.8zM579.7 606.3h5.7v0.7h-5.7zM572.1 615.1h6.5v1.0h-6.5zM580.4 610.9h2.2v0.8h-2.2zM575.0 622.0h5.5v0.8h-5.5zM571.0 609.3h3.9v1.1h-3.9zM566.4 608.4h1.3v1.1h-1.3zM564.9 626.0h3.8v1.1h-3.8z"/><path fill="#216acb" d="M483.7 634.6h3.6v1.1h-3.6zM494.5 626.5h4.8v0.7h-4.8zM475.5 633.2h4.7v1.1h-4.7zM485.1 626.8h3.2v1.1h-3.2zM481.8 621.3h4.0v0.8h-4.0zM498.0 629.7h5.8v1.0h-5.8zM485.9 610.5h5.2v0.9h-5.2zM481.7 621.2h5.2v0.9h-5.2zM501.4 625.8h3.1v1.0h-3.1zM497.9 617.3h6.1v1.0h-6.1zM486.2 608.6h4.3v0.8h-4.3zM480.7 621.4h5.4v0.8h-5.4zM477.2 633.2h3.7v1.0h-3.7zM478.8 639.3h5.0v1.1h-5.0zM482.4 628.2h5.2v0.9h-5.2zM489.4 628.6h3.5v0.9h-3.5zM493.0 624.5h3.2v0.7h-3.2zM486.7 624.9h3.0v0.7h-3.0zM515.2 608.5h1.7v1.1h-1.7zM510.0 610.6h1.0v1.1h-1.0zM511.1 612.2h1.8v1.1h-1.8zM512.0 616.2h3.1v1.1h-3.1zM520.6 624.3h4.8v1.0h-4.8zM527.5 635.4h6.9v0.9h-6.9zM518.8 639.3h4.8v0.9h-4.8zM518.2 640.3h3.3v0.9h-3.3zM529.0 621.9h6.0v0.9h-6.0zM524.4 637.5h3.0v0.7h-3.0zM537.9 619.2h5.9v1.1h-5.9zM544.3 614.0h2.7v1.1h-2.7zM541.3 622.6h5.1v1.0h-5.1zM550.0 610.7h1.7v0.9h-1.7zM549.5 614.9h4.6v0.7h-4.6zM544.7 631.1h4.4v0.9h-4.4zM549.6 611.1h6.7v0.9h-6.7zM556.8 609.5h1.5v0.8h-1.5zM556.0 630.0h1.8v0.8h-1.8zM544.6 627.1h4.5v1.1h-4.5zM545.5 624.7h4.6v1.1h-4.6zM542.2 627.4h1.2v1.1h-1.2zM569.7 635.2h5.8v0.8h-5.8zM585.3 640.5h3.4v0.7h-3.4zM572.8 624.9h3.3v1.1h-3.3zM583.8 620.3h4.1v1.1h-4.1zM578.7 611.9h5.9v0.8h-5.9zM563.3 626.0h4.2v0.7h-4.2zM580.0 615.2h4.4v1.0h-4.4zM576.0 631.4h2.8v1.0h-2.8zM570.4 608.5h2.7v1.1h-2.7zM568.7 608.6h1.1v1.1h-1.1zM570.0 607.6h1.4v1.1h-1.4zM570.3 616.8h3.0v1.1h-3.0zM570.5 616.8h2.6v1.1h-2.6z"/><path fill="#267bd7" d="M497.3 632.1h6.3v1.1h-6.3zM498.8 629.1h2.1v0.9h-2.1zM483.4 628.0h1.8v0.9h-1.8zM486.9 640.7h1.6v0.8h-1.6zM493.8 610.1h6.6v0.9h-6.6zM491.6 608.4h5.4v1.1h-5.4zM480.0 622.5h6.2v0.9h-6.2zM482.3 621.9h3.7v1.1h-3.7zM487.9 632.1h5.4v0.9h-5.4zM494.6 616.5h5.7v1.1h-5.7zM475.7 627.5h5.0v0.7h-5.0zM492.4 621.1h6.0v1.0h-6.0zM481.6 625.4h1.5v1.2h-1.5zM489.0 631.9h1.9v1.0h-1.9zM530.3 620.6h5.5v1.1h-5.5zM522.2 633.1h2.3v0.8h-2.3zM524.0 636.9h1.5v0.9h-1.5zM517.7 637.8h6.2v1.0h-6.2zM544.6 628.9h6.4v0.7h-6.4zM545.2 608.9h4.4v0.7h-4.4zM542.7 619.2h4.0v1.1h-4.0zM555.1 614.0h3.1v1.0h-3.1zM540.3 626.1h3.1v1.0h-3.1zM551.7 633.8h4.3v1.1h-4.3zM547.7 613.3h6.8v1.0h-6.8zM551.8 626.3h2.9v0.8h-2.9zM546.8 622.0h2.4v1.1h-2.4zM541.8 626.2h4.4v1.1h-4.4zM541.4 628.2h2.0v1.1h-2.0zM569.8 620.8h6.1v0.9h-6.1zM582.9 622.8h6.4v1.2h-6.4zM569.7 622.9h1.7v1.1h-1.7zM584.5 638.7h5.2v1.1h-5.2zM584.0 622.2h2.5v0.8h-2.5zM570.0 637.9h6.6v1.0h-6.6zM566.6 623.6h4.3v1.0h-4.3zM570.4 624.5h4.7v0.8h-4.7zM569.7 632.9h4.2v1.1h-4.2zM568.2 629.8h3.2v1.0h-3.2zM573.9 633.8h4.7v0.8h-4.7zM588.1 635.9h2.9v1.1h-2.9zM580.3 608.7h4.4v0.7h-4.4zM584.9 620.3h3.5v0.8h-3.5zM564.4 640.4h5.0v1.2h-5.0zM566.1 640.6h5.3v1.0h-5.3zM566.9 621.9h6.7v0.9h-6.7zM586.1 611.7h1.7v0.9h-1.7zM585.9 613.2h5.1v1.1h-5.1zM563.6 615.1h4.8v1.1h-4.8zM566.0 631.1h3.8v1.1h-3.8z"/><path fill="#2a8cdc" d="M488.6 628.6h6.4v1.1h-6.4zM477.2 632.1h3.4v0.9h-3.4zM478.5 639.0h4.4v1.1h-4.4zM497.1 636.6h2.5v0.8h-2.5zM475.2 636.0h6.7v1.2h-6.7zM490.4 625.5h6.0v1.1h-6.0zM474.6 621.7h1.8v1.0h-1.8zM497.3 622.4h3.7v0.8h-3.7zM480.5 628.8h2.7v1.1h-2.7zM481.0 630.7h1.9v1.1h-1.9zM523.0 629.5h4.3v1.0h-4.3zM530.0 638.7h4.6v0.8h-4.6zM555.1 619.1h3.2v1.0h-3.2zM537.3 619.2h6.2v0.7h-6.2zM543.7 615.6h5.5v0.8h-5.5zM543.6 637.3h5.1v0.9h-5.1zM553.5 620.4h4.8v0.8h-4.8zM541.1 627.7h4.1v0.9h-4.1zM546.6 620.2h6.0v0.9h-6.0zM543.9 634.9h4.6v0.9h-4.6zM539.3 606.8h5.4v1.0h-5.4zM550.5 609.8h6.3v1.0h-6.3zM540.6 616.5h3.3v1.1h-3.3zM541.5 607.6h5.7v0.8h-5.7zM553.6 630.4h4.7v1.1h-4.7zM551.2 638.0h3.8v0.8h-3.8zM555.5 620.6h2.8v1.0h-2.8zM546.9 617.1h2.3v0.9h-2.3zM538.4 624.0h1.9v0.9h-1.9zM544.5 611.4h2.4v1.2h-2.4zM542.2 628.4h1.8v1.1h-1.8zM542.4 606.8h1.1v1.1h-1.1zM584.3 620.7h2.3v0.9h-2.3zM577.6 616.2h4.6v1.1h-4.6zM569.3 624.0h2.9v1.1h-2.9zM576.7 622.4h4.7v1.2h-4.7zM569.9 617.5h3.2v0.8h-3.2zM572.3 630.3h3.8v1.0h-3.8zM585.0 619.4h4.9v1.0h-4.9zM569.3 632.4h3.4v1.1h-3.4zM584.1 631.4h2.0v1.0h-2.0zM577.8 637.7h3.2v0.9h-3.2zM583.2 608.5h6.2v1.1h-6.2zM571.8 639.8h5.6v0.9h-5.6zM575.2 638.5h5.7v1.1h-5.7zM586.7 607.7h2.2v0.8h-2.2zM573.7 606.4h6.1v1.0h-6.1zM582.2 629.0h3.9v1.0h-3.9zM576.8 610.2h1.6v0.7h-1.6zM575.7 640.1h1.5v0.8h-1.5zM586.8 627.6h4.2v0.8h-4.2zM568.6 621.5h2.6v1.0h-2.6zM570.5 627.9h2.6v1.1h-2.6zM568.3 631.3h2.1v1.1h-2.1z"/><path fill="none" stroke="#2a8cdc" stroke-width="1.5" stroke-linecap="round" d="M582.0 612.0L590.0 615.0"/><path fill="#2f9cdc" d="M499.3 634.0h5.2v0.8h-5.2zM486.6 625.2h4.8v0.7h-4.8zM484.6 620.0h4.1v1.1h-4.1zM500.9 620.4h2.8v1.1h-2.8zM475.6 620.3h5.3v0.8h-5.3zM484.4 622.0h3.3v1.0h-3.3zM483.1 625.7h4.7v1.1h-4.7zM512.6 610.2h2.7v1.1h-2.7zM511.1 614.3h1.3v1.1h-1.3zM522.3 624.4h5.3v0.9h-5.3zM521.5 628.1h2.6v0.8h-2.6zM532.1 629.6h3.7v0.9h-3.7zM523.5 630.8h6.8v0.7h-6.8zM545.9 622.6h6.6v1.2h-6.6zM543.0 616.9h6.2v1.1h-6.2zM548.9 630.6h4.7v0.8h-4.7zM542.6 614.9h3.2v1.1h-3.2zM552.3 634.8h2.4v0.8h-2.4zM538.0 611.7h4.8v0.9h-4.8zM536.6 621.4h2.2v1.1h-2.2zM547.3 623.2h1.8v1.0h-1.8zM545.2 635.4h2.3v1.0h-2.3zM536.3 626.6h2.1v0.8h-2.1zM553.1 629.6h3.7v0.7h-3.7zM548.5 637.1h6.6v1.2h-6.6zM552.4 635.2h1.6v0.8h-1.6zM545.3 618.9h3.6v1.0h-3.6zM548.9 630.0h1.0v1.1h-1.0zM580.4 617.7h4.9v0.7h-4.9zM578.6 608.0h4.9v1.0h-4.9zM576.5 624.2h3.2v1.0h-3.2zM587.4 640.4h3.6v1.0h-3.6zM563.8 608.2h3.9v1.0h-3.9zM571.0 609.5h6.6v1.0h-6.6zM568.5 632.3h6.0v1.1h-6.0zM579.2 616.6h1.9v0.8h-1.9zM578.5 612.3h4.7v1.1h-4.7zM565.5 634.4h3.6v0.7h-3.6zM564.2 630.4h1.9v1.2h-1.9zM577.4 618.2h5.7v1.0h-5.7zM572.3 626.6h3.4v0.7h-3.4zM576.0 633.2h1.9v1.1h-1.9zM570.5 622.5h5.6v1.0h-5.6zM564.7 613.7h1.6v1.1h-1.6zM562.1 628.8h3.7v1.1h-3.7z"/><path fill="none" stroke="#2f9cdc" stroke-width="1.5" stroke-linecap="round" d="M578.6 624.0L586.6 627.0M581.1 632.0L589.1 635.0"/><path fill="#34addc" d="M480.8 612.3h5.2v1.2h-5.2zM476.5 635.3h5.0v1.0h-5.0zM497.8 619.7h4.4v1.1h-4.4zM482.2 611.5h4.5v0.8h-4.5zM474.3 622.7h4.4v1.1h-4.4zM488.3 623.8h2.7v0.9h-2.7zM479.4 620.6h3.2v1.0h-3.2zM475.7 620.6h4.4v1.0h-4.4zM486.3 621.2h2.7v1.1h-2.7zM479.7 628.4h1.2v1.1h-1.2zM509.8 610.2h1.0v1.1h-1.0zM507.9 608.5h2.6v1.1h-2.6zM512.1 615.3h1.0v1.1h-1.0zM528.9 636.5h2.0v1.0h-2.0zM520.6 631.9h2.1v1.1h-2.1zM535.9 621.3h4.6v1.2h-4.6zM546.7 618.2h3.1v1.2h-3.1zM539.8 621.6h6.4v0.8h-6.4zM553.3 637.0h5.0v1.0h-5.0zM555.5 606.9h2.8v1.0h-2.8zM547.8 639.5h5.0v0.8h-5.0zM542.0 613.6h5.5v1.0h-5.5zM539.4 610.5h2.9v0.8h-2.9zM547.9 618.4h3.7v0.8h-3.7zM551.8 611.9h6.3v0.8h-6.3zM547.4 639.7h6.1v0.7h-6.1zM555.3 617.9h3.0v0.7h-3.0zM537.6 608.3h4.3v1.0h-4.3zM548.8 627.9h6.5v0.7h-6.5zM542.9 621.8h5.3v1.1h-5.3zM543.6 621.5h2.4v1.1h-2.4zM540.7 628.9h1.9v1.1h-1.9zM543.2 608.8h2.6v1.1h-2.6zM539.5 610.1h1.4v1.1h-1.4zM563.2 626.3h5.5v0.7h-5.5zM566.0 616.7h3.5v1.2h-3.5zM579.0 638.4h1.6v1.0h-1.6zM569.7 638.1h6.5v1.2h-6.5zM568.5 616.6h2.1v1.2h-2.1zM564.4 627.7h2.1v0.8h-2.1zM572.0 628.6h4.3v0.9h-4.3zM584.4 619.7h4.7v1.0h-4.7zM587.7 607.6h3.1v1.0h-3.1zM583.8 613.4h3.3v1.0h-3.3zM564.7 637.3h3.7v1.1h-3.7zM566.1 614.8h5.4v1.1h-5.4zM578.7 625.7h2.7v1.1h-2.7zM564.5 609.2h4.0v1.2h-4.0zM563.5 628.1h1.5v1.0h-1.5zM564.9 622.9h4.6v1.2h-4.6zM568.0 638.5h6.8v0.7h-6.8zM569.9 626.9h1.9v1.1h-1.9z"/><path fill="none" stroke="#34addc" stroke-width="1.5" stroke-linecap="round" d="M575.3 616.0L583.3 619.0"/><path fill="#39bedc" d="M496.6 606.9h7.0v0.8h-7.0zM496.2 610.4h3.3v1.0h-3.3zM474.4 629.6h2.7v0.7h-2.7zM476.0 627.9h4.6v1.2h-4.6zM499.9 625.2h4.3v1.1h-4.3zM511.9 615.3h3.1v1.1h-3.1zM514.8 613.1h1.8v1.1h-1.8zM551.7 612.5h4.5v0.8h-4.5zM553.5 623.7h1.6v0.7h-1.6zM545.3 606.8h4.2v0.9h-4.2zM544.2 609.0h6.7v1.1h-6.7zM543.7 625.9h6.8v1.1h-6.8zM537.9 618.1h4.8v1.1h-4.8zM542.8 622.1h4.0v1.1h-4.0zM549.9 622.5h5.3v1.1h-5.3zM541.1 625.6h4.7v1.0h-4.7zM538.7 621.6h4.9v1.1h-4.9zM544.4 623.1h5.2v1.1h-5.2zM543.7 625.4h1.0v1.1h-1.0zM545.7 628.7h3.7v1.1h-3.7zM537.2 609.7h3.8v1.1h-3.8zM586.4 607.1h2.7v0.7h-2.7zM571.4 612.7h2.9v1.0h-2.9zM576.9 621.3h4.3v0.9h-4.3zM578.7 624.9h3.4v1.1h-3.4zM569.5 606.4h5.8v1.2h-5.8zM588.3 631.7h1.8v0.8h-1.8zM585.7 621.6h2.6v1.1h-2.6zM567.5 617.3h3.8v1.0h-3.8zM584.7 636.6h6.3v1.1h-6.3zM575.0 618.8h4.2v0.7h-4.2zM572.0 612.1h5.7v0.9h-5.7zM569.4 622.9h3.4v1.0h-3.4zM582.0 637.9h6.3v1.1h-6.3zM573.7 622.1h2.9v0.7h-2.9zM580.5 619.6h4.5v0.8h-4.5zM568.9 613.6h3.0v1.1h-3.0z"/><path fill="none" stroke="#39bedc" stroke-width="1.5" stroke-linecap="round" d="M575.5 608.0L583.5 611.0M578.6 620.0L586.6 623.0"/><path fill="#46c9cf" d="M491.5 612.0h6.8v1.1h-6.8zM491.1 626.9h4.0v0.9h-4.0zM483.0 623.5h3.1v0.9h-3.1zM486.0 632.0h3.8v0.9h-3.8zM481.6 630.7h6.3v1.0h-6.3zM475.5 629.2h5.0v0.8h-5.0zM500.7 630.4h3.8v0.9h-3.8zM477.8 628.4h2.9v1.1h-2.9zM510.4 606.4h2.3v1.1h-2.3zM513.3 612.4h2.8v1.1h-2.8zM537.1 617.2h2.6v1.1h-2.6zM540.5 638.8h3.5v0.8h-3.5zM537.8 625.1h6.6v0.9h-6.6zM546.9 613.1h6.0v1.2h-6.0zM536.8 615.2h5.3v0.9h-5.3zM549.7 633.1h3.6v1.0h-3.6zM536.4 618.6h6.0v0.9h-6.0zM549.6 608.3h6.4v0.9h-6.4zM543.2 621.8h4.1v1.1h-4.1zM547.6 631.6h1.9v1.1h-1.9zM542.6 632.3h2.1v1.1h-2.1zM540.3 610.0h1.4v1.1h-1.4zM542.5 608.4h3.7v1.1h-3.7zM581.7 609.9h2.9v1.1h-2.9zM566.5 619.0h1.6v0.9h-1.6zM576.8 623.5h6.1v0.8h-6.1zM567.0 630.6h4.1v1.1h-4.1zM578.2 620.3h4.8v0.7h-4.8zM570.1 631.4h6.2v1.2h-6.2zM566.3 630.9h2.4v1.1h-2.4zM568.6 609.7h3.7v1.1h-3.7zM569.7 613.0h1.9v1.1h-1.9zM572.4 618.8h1.7v1.1h-1.7zM566.5 630.3h2.8v1.1h-2.8zM570.4 627.7h1.8v1.1h-1.8z"/><path fill="#60ceb0" d="M490.7 628.3h5.2v1.2h-5.2zM489.2 627.4h5.1v0.8h-5.1zM487.1 625.0h5.0v0.8h-5.0zM478.9 630.1h3.0v1.1h-3.0zM512.7 609.3h3.3v1.1h-3.3zM509.7 610.2h2.4v1.1h-2.4zM511.6 615.2h3.2v1.1h-3.2zM515.3 614.4h1.1v1.1h-1.1zM514.2 614.3h3.1v1.1h-3.1zM513.1 615.1h2.9v1.1h-2.9zM537.4 607.7h4.6v1.0h-4.6zM540.2 623.9h6.9v1.1h-6.9zM538.2 636.7h5.1v1.1h-5.1zM539.7 624.8h6.2v0.9h-6.2zM549.8 618.6h3.5v0.7h-3.5zM542.9 606.6h6.2v1.0h-6.2zM539.6 624.8h6.7v1.2h-6.7zM541.3 625.5h5.4v1.1h-5.4zM547.8 629.6h1.7v1.1h-1.7zM582.8 611.5h3.6v0.9h-3.6zM564.6 622.4h4.2v1.0h-4.2zM564.4 636.2h4.4v1.0h-4.4zM586.0 612.2h5.0v1.0h-5.0zM581.5 622.4h2.7v0.9h-2.7zM564.0 615.6h1.6v1.0h-1.6zM565.8 633.7h4.5v0.8h-4.5zM574.4 611.0h6.9v1.1h-6.9zM566.1 639.1h6.8v1.1h-6.8zM571.3 617.7h2.8v1.1h-2.8zM567.7 626.8h4.0v1.1h-4.0zM564.5 626.7h4.3v1.1h-4.3z"/><path fill="none" stroke="#60ceb0" stroke-width="1.5" stroke-linecap="round" d="M581.5 636.0L589.5 639.0"/><path fill="#7ad391" d="M486.8 639.8h2.4v1.1h-2.4zM478.7 628.9h3.3v1.1h-3.3zM479.4 630.0h1.2v1.1h-1.2zM480.0 629.5h2.6v1.1h-2.6zM513.5 608.4h1.2v1.1h-1.2zM513.1 612.7h3.0v1.1h-3.0zM537.9 607.1h2.1v0.8h-2.1zM549.1 638.3h4.7v0.9h-4.7zM540.2 631.9h3.5v1.2h-3.5zM540.6 621.8h2.7v0.8h-2.7zM547.6 628.1h2.8v1.1h-2.8zM547.2 621.9h3.7v0.8h-3.7zM550.2 634.8h3.0v1.2h-3.0zM553.3 617.8h4.5v0.8h-4.5zM552.5 631.6h2.6v0.8h-2.6zM552.7 622.5h2.8v0.7h-2.8zM542.3 632.1h3.1v1.1h-3.1zM540.4 629.7h2.7v1.1h-2.7zM540.8 629.1h4.1v1.1h-4.1zM540.7 609.4h3.9v1.1h-3.9zM574.5 619.6h5.4v0.7h-5.4zM569.4 636.6h3.7v1.2h-3.7zM578.6 614.1h6.4v1.1h-6.4zM583.8 630.5h4.8v0.7h-4.8zM569.6 621.3h3.9v1.1h-3.9zM573.3 610.8h4.6v0.8h-4.6zM572.4 614.9h6.4v0.7h-6.4zM566.8 613.5h4.0v1.1h-4.0zM570.7 611.3h1.8v1.1h-1.8zM570.2 610.4h1.2v1.1h-1.2zM564.9 618.5h4.2v1.1h-4.2zM571.9 619.1h2.7v1.1h-2.7zM563.0 628.9h3.5v1.1h-3.5zM565.8 630.0h4.4v1.1h-4.4zM564.7 630.2h4.3v1.1h-4.3z"/><path fill="none" stroke="#7ad391" stroke-width="1.5" stroke-linecap="round" d="M582.6 628.0L590.6 631.0"/><path fill="#95d872" d="M480.9 624.5h6.0v0.8h-6.0zM478.4 628.9h2.3v1.1h-2.3zM480.5 629.1h1.4v1.1h-1.4zM540.7 640.0h6.6v1.2h-6.6zM543.6 622.1h3.2v1.1h-3.2zM545.9 629.7h4.0v1.1h-4.0zM542.3 608.5h3.1v1.1h-3.1zM576.2 606.7h6.1v0.9h-6.1zM576.6 638.6h6.5v1.1h-6.5zM570.4 611.4h4.5v1.0h-4.5zM564.7 619.2h2.0v0.9h-2.0zM589.3 625.9h1.7v0.7h-1.7zM584.7 623.4h4.3v0.8h-4.3zM580.2 613.1h6.0v1.0h-6.0zM566.5 620.3h1.6v1.1h-1.6zM585.0 638.7h2.7v0.8h-2.7zM563.9 610.2h2.5v1.1h-2.5zM569.4 612.9h1.4v1.1h-1.4zM571.3 619.1h3.4v1.1h-3.4zM571.8 618.1h2.0v1.1h-2.0zM569.8 621.7h1.1v1.1h-1.1zM565.5 627.0h1.8v1.1h-1.8z"/><path fill="#aedb57" d="M490.6 639.3h3.8v0.8h-3.8zM510.8 609.8h1.4v1.1h-1.4zM512.4 608.8h3.6v1.1h-3.6zM513.2 613.5h2.4v1.1h-2.4zM552.0 613.4h5.9v0.8h-5.9zM551.6 622.5h6.6v0.9h-6.6zM536.4 622.6h6.5v0.7h-6.5zM541.5 621.8h4.1v1.1h-4.1zM538.1 624.5h4.8v1.1h-4.8zM541.5 609.2h2.1v1.1h-2.1zM567.3 623.9h3.8v1.1h-3.8zM572.0 635.5h5.8v0.9h-5.8zM574.6 638.5h5.6v0.7h-5.6zM576.3 626.2h2.1v0.7h-2.1zM568.7 611.4h4.1v1.1h-4.1zM563.8 612.7h3.7v1.1h-3.7zM566.5 613.3h1.4v1.1h-1.4zM568.2 610.5h4.7v1.1h-4.7zM564.8 628.2h1.4v1.1h-1.4zM567.2 629.9h4.8v1.1h-4.8zM565.7 629.8h1.9v1.1h-1.9z"/><path fill="none" stroke="#aedb57" stroke-width="1.5" stroke-linecap="round" d="M582.2 640.0L590.2 643.0"/><path fill="#c6da48" d="M509.2 609.4h2.4v1.1h-2.4zM511.8 609.4h2.2v1.1h-2.2zM510.9 609.7h3.5v1.1h-3.5zM512.7 614.2h1.5v1.1h-1.5zM512.5 613.7h2.9v1.1h-2.9zM512.8 613.2h2.2v1.1h-2.2zM513.2 614.4h2.3v1.1h-2.3zM547.0 626.6h4.8v1.0h-4.8zM538.0 608.8h2.1v0.9h-2.1zM541.4 629.1h3.6v1.1h-3.6zM540.4 609.2h3.3v1.1h-3.3zM537.2 608.9h4.2v1.1h-4.2zM567.7 618.5h3.8v0.9h-3.8zM562.9 612.0h4.6v1.1h-4.6zM564.8 613.0h2.5v1.1h-2.5zM564.3 610.5h2.8v1.1h-2.8zM565.9 621.0h4.2v1.1h-4.2zM566.8 619.0h1.0v1.1h-1.0zM570.9 619.6h4.1v1.1h-4.1zM566.5 626.9h2.4v1.1h-2.4zM567.3 627.0h1.4v1.1h-1.4z"/><path fill="#ded839" d="M478.8 629.4h2.3v1.1h-2.3zM478.7 629.2h1.9v1.1h-1.9zM479.0 629.5h1.2v1.1h-1.2zM512.0 607.1h1.9v1.1h-1.9zM510.4 609.9h2.5v1.1h-2.5zM509.3 608.8h1.6v1.1h-1.6zM513.6 613.9h2.3v1.1h-2.3zM514.2 613.8h1.6v1.1h-1.6zM553.2 614.1h5.1v1.0h-5.1zM539.3 623.2h1.1v1.1h-1.1zM539.0 623.5h2.6v1.1h-2.6zM544.9 631.8h1.8v1.1h-1.8zM543.5 629.1h3.0v1.1h-3.0zM541.1 608.2h3.2v1.1h-3.2zM538.6 608.4h1.0v1.1h-1.0zM572.7 614.7h5.8v0.7h-5.8zM577.9 622.0h4.4v0.9h-4.4zM568.4 610.6h4.3v1.1h-4.3zM569.4 620.4h4.4v1.1h-4.4zM567.4 618.0h1.5v1.1h-1.5zM567.4 629.8h3.5v1.1h-3.5zM563.8 627.7h4.0v1.1h-4.0zM567.8 627.3h2.3v1.1h-2.3zM564.9 627.3h4.2v1.1h-4.2zM564.2 629.8h4.7v1.1h-4.7z"/><path fill="#f6d72a" d="M511.5 607.4h1.6v1.1h-1.6zM510.5 607.4h2.2v1.1h-2.2zM508.5 608.0h3.7v1.1h-3.7zM538.9 623.7h3.4v1.1h-3.4zM543.2 622.3h2.3v1.1h-2.3zM543.2 629.3h4.5v1.1h-4.5zM543.8 631.6h3.6v1.1h-3.6zM542.4 631.7h2.9v1.1h-2.9zM540.2 630.4h3.6v1.1h-3.6zM539.7 609.2h3.1v1.1h-3.1zM541.5 608.8h1.3v1.1h-1.3zM541.3 608.2h1.2v1.1h-1.2zM539.0 609.1h2.4v1.1h-2.4zM540.6 608.0h1.1v1.1h-1.1zM568.6 629.3h3.1v1.1h-3.1zM565.2 629.0h1.5v1.1h-1.5zM567.9 629.0h4.3v1.1h-4.3z"/><path fill="#f7be25" d="M543.6 622.3h1.2v1.1h-1.2zM539.8 624.4h3.9v1.1h-3.9zM543.9 622.7h1.9v1.1h-1.9zM540.9 630.0h3.1v1.1h-3.1zM540.8 630.6h4.6v1.1h-4.6zM545.2 629.6h2.9v1.1h-2.9zM540.0 608.9h1.8v1.1h-1.8zM539.2 608.7h3.2v1.1h-3.2zM568.0 612.3h2.7v1.1h-2.7zM565.6 610.4h4.0v1.1h-4.0zM565.0 611.6h1.8v1.1h-1.8zM568.8 620.9h1.7v1.1h-1.7zM567.4 618.1h2.8v1.1h-2.8zM567.3 617.9h4.0v1.1h-4.0zM570.6 619.4h2.6v1.1h-2.6zM565.5 627.8h1.6v1.1h-1.6z"/><path fill="#f4a122" d="M511.1 609.3h1.6v1.1h-1.6zM539.8 622.9h3.0v1.1h-3.0zM541.5 622.7h1.8v1.1h-1.8zM542.7 623.3h4.5v1.1h-4.5zM543.7 629.6h3.0v1.1h-3.0zM540.0 608.6h4.0v1.1h-4.0zM565.0 610.9h3.0v1.1h-3.0zM566.3 612.6h2.7v1.1h-2.7zM567.7 610.4h2.5v1.1h-2.5zM567.3 612.5h4.1v1.1h-4.1zM569.7 619.5h4.7v1.1h-4.7zM568.4 619.9h3.1v1.1h-3.1z"/><path fill="#f28520" d="M511.1 608.3h1.3v1.1h-1.3zM543.0 623.3h2.5v1.1h-2.5zM542.4 624.6h1.8v1.1h-1.8zM540.2 623.7h4.2v1.1h-4.2zM540.5 624.4h5.2v1.1h-5.2zM545.5 630.5h2.7v1.1h-2.7zM542.0 631.2h3.6v1.1h-3.6zM541.0 630.4h4.9v1.1h-4.9zM539.7 608.3h4.3v1.1h-4.3zM538.4 608.5h3.5v1.1h-3.5zM568.9 612.1h2.1v1.1h-2.1zM564.7 611.2h3.6v1.1h-3.6zM566.6 610.3h2.5v1.1h-2.5zM568.1 618.3h4.8v1.1h-4.8zM565.9 619.6h4.5v1.1h-4.5zM567.5 628.9h2.9v1.1h-2.9z"/><path fill="#ee6a1d" d="M510.6 608.8h2.8v1.1h-2.8zM510.4 607.6h3.3v1.1h-3.3zM511.0 608.4h1.3v1.1h-1.3zM511.2 608.0h2.5v1.1h-2.5zM540.1 622.8h5.5v1.1h-5.5zM540.5 622.5h4.2v1.1h-4.2zM540.2 622.9h3.9v1.1h-3.9zM542.3 624.0h1.9v1.1h-1.9zM542.8 622.9h2.2v1.1h-2.2zM544.8 629.9h3.0v1.1h-3.0zM543.8 630.4h2.8v1.1h-2.8zM545.5 630.1h1.4v1.1h-1.4zM543.5 630.5h2.6v1.1h-2.6zM540.6 608.4h1.6v1.1h-1.6zM566.2 612.6h3.5v1.1h-3.5zM567.0 611.6h2.4v1.1h-2.4zM565.0 611.2h4.6v1.1h-4.6zM566.7 610.6h3.2v1.1h-3.2zM567.0 610.8h3.9v1.1h-3.9zM567.5 611.5h2.9v1.1h-2.9zM570.5 619.7h2.3v1.1h-2.3zM567.1 619.1h4.6v1.1h-4.6zM568.8 618.0h2.3v1.1h-2.3zM568.5 619.1h2.6v1.1h-2.6zM568.1 620.0h3.8v1.1h-3.8zM570.1 619.1h3.4v1.1h-3.4zM568.4 619.8h4.9v1.1h-4.9zM566.5 628.7h2.4v1.1h-2.4zM566.4 628.1h2.3v1.1h-2.3z"/><path fill="#e4571b" d="M540.2 623.1h4.4v1.1h-4.4zM544.2 630.2h3.0v1.1h-3.0zM541.9 631.2h5.2v1.1h-5.2zM568.7 618.7h4.1v1.1h-4.1zM567.2 620.3h4.3v1.1h-4.3zM568.6 620.0h4.8v1.1h-4.8zM568.1 618.9h3.5v1.1h-3.5zM564.8 628.3h3.5v1.1h-3.5z"/><path fill="#db4418" d="M543.7 630.3h1.6v1.1h-1.6zM544.0 630.8h1.5v1.1h-1.5zM566.4 611.9h1.9v1.1h-1.9zM567.1 612.0h1.7v1.1h-1.7zM566.9 611.2h2.0v1.1h-2.0zM567.2 611.3h1.4v1.1h-1.4zM570.0 619.0h1.2v1.1h-1.2zM568.8 618.6h3.1v1.1h-3.1zM567.7 620.2h4.3v1.1h-4.3zM568.6 620.3h3.3v1.1h-3.3zM567.4 619.1h4.1v1.1h-4.1z"/><path fill="#d13116" d="M541.0 623.1h4.4v1.1h-4.4zM539.6 623.2h4.3v1.1h-4.3zM540.6 623.5h3.6v1.1h-3.6zM569.4 619.2h1.5v1.1h-1.5zM567.5 628.3h3.5v1.1h-3.5z"/><path fill="#c81e14" d="M569.6 619.4h1.7v1.1h-1.7z"/></g><clipPath id="cf5"><rect x="471.3" y="654.8" width="213.2" height="36.9"/></clipPath><g clip-path="url(#cf5)" filter="url(#sb)"><path fill="#0c1d6d" d="M593.7 664.4h3.9v1.4h-3.9z"/><path fill="#0e2780" d="M643.6 664.8h2.9v1.4h-2.9z"/><path fill="#113093" d="M535.9 686.7h5.5v1.1h-5.5zM530.8 680.7h2.8v0.8h-2.8zM553.2 671.6h1.9v0.8h-1.9zM579.2 678.7h5.0v0.8h-5.0zM644.6 666.9h3.8v0.9h-3.8zM634.9 678.6h4.9v1.1h-4.9zM648.5 671.3h2.6v1.1h-2.6zM654.9 671.6h2.6v0.8h-2.6zM635.4 687.8h4.1v1.4h-4.1z"/><path fill="#133aa6" d="M483.5 687.5h2.5v0.8h-2.5zM481.8 682.7h1.9v1.2h-1.9zM501.9 673.4h5.0v1.1h-5.0zM501.7 667.5h2.8v1.0h-2.8zM508.8 676.4h1.7v0.9h-1.7zM514.7 677.1h6.0v1.0h-6.0zM544.5 683.8h2.5v1.0h-2.5zM536.9 669.3h5.1v1.1h-5.1zM537.2 660.1h2.2v1.0h-2.2zM533.7 655.9h3.4v1.1h-3.4zM545.4 681.9h6.0v1.0h-6.0zM550.8 689.0h2.9v1.1h-2.9zM551.1 666.7h1.7v0.9h-1.7zM588.2 666.4h3.0v0.9h-3.0zM593.0 674.3h6.0v1.1h-6.0zM578.0 681.2h2.2v1.1h-2.2zM598.8 682.3h1.9v1.2h-1.9zM581.9 689.3h5.5v1.1h-5.5zM589.6 674.4h4.1v1.2h-4.1zM650.8 664.5h4.4v0.9h-4.4zM667.7 657.9h1.6v0.9h-1.6zM645.1 680.6h7.0v0.8h-7.0zM657.9 673.3h5.1v0.9h-5.1zM646.9 684.4h2.6v0.9h-2.6zM672.9 688.6h3.3v0.7h-3.3zM667.0 678.8h6.4v0.9h-6.4zM653.5 674.4h4.8v0.7h-4.8zM650.4 687.0h1.7v1.1h-1.7zM637.1 669.5h6.0v1.2h-6.0zM676.9 674.3h3.3v1.1h-3.3zM638.7 668.6h2.7v1.0h-2.7zM660.9 673.1h4.3v1.1h-4.3zM589.8 678.5h3.3v1.1h-3.3zM584.9 672.9h3.2v1.1h-3.2z"/><path fill="#1749b3" d="M520.9 664.1h3.7v1.1h-3.7zM509.5 664.1h3.5v1.1h-3.5zM503.7 660.8h2.9v1.1h-2.9zM523.0 664.2h2.8v1.1h-2.8zM517.5 687.6h5.1v1.1h-5.1zM540.2 657.3h4.3v0.8h-4.3zM541.9 672.4h4.3v0.9h-4.3zM538.4 668.9h5.1v0.7h-5.1zM534.4 680.4h4.7v0.7h-4.7zM540.7 668.8h3.5v1.0h-3.5zM530.6 664.1h4.5v1.1h-4.5zM536.2 663.1h4.4v1.1h-4.4zM540.3 674.4h3.1v1.1h-3.1zM543.1 672.2h2.3v1.1h-2.3zM536.4 668.3h2.1v1.1h-2.1zM541.7 680.5h1.1v1.1h-1.1zM544.1 676.8h5.2v1.0h-5.2zM582.8 658.2h4.8v1.1h-4.8zM599.6 657.5h1.4v0.8h-1.4zM572.3 670.6h3.6v1.1h-3.6zM566.8 672.8h4.8v0.9h-4.8zM582.4 679.0h5.4v0.9h-5.4zM599.8 675.7h5.8v0.7h-5.8zM576.1 682.1h3.5v0.8h-3.5zM571.4 676.5h6.6v0.9h-6.6zM570.6 670.1h4.3v0.8h-4.3zM597.1 685.8h2.9v0.8h-2.9zM649.9 663.6h5.7v1.0h-5.7zM644.0 659.7h2.8v1.0h-2.8zM669.9 667.2h2.3v1.0h-2.3zM663.0 662.5h2.1v1.0h-2.1zM656.0 662.8h3.3v1.2h-3.3zM657.9 664.4h5.9v1.1h-5.9zM638.7 682.7h3.8v0.8h-3.8zM657.6 682.5h3.8v0.8h-3.8zM668.5 688.9h3.2v1.1h-3.2zM662.0 686.6h6.6v1.0h-6.6zM663.8 674.7h6.8v1.0h-6.8zM669.5 679.4h2.5v0.8h-2.5zM670.4 683.5h6.7v1.1h-6.7zM665.6 664.8h3.8v1.4h-3.8zM664.8 666.7h2.7v1.4h-2.7zM676.7 687.0h1.9v1.4h-1.9zM661.5 674.2h2.4v1.1h-2.4zM652.8 676.2h2.3v1.1h-2.3zM663.3 678.2h1.9v1.1h-1.9zM650.3 678.9h4.7v1.1h-4.7zM590.8 678.8h2.7v1.1h-2.7zM592.8 673.1h3.4v1.1h-3.4zM647.4 671.2h4.0v1.1h-4.0zM658.0 669.8h3.7v1.1h-3.7zM657.6 670.0h5.4v1.1h-5.4zM646.7 671.3h4.3v1.1h-4.3z"/><path fill="#1c5abf" d="M476.5 687.7h2.3v1.1h-2.3zM481.1 680.2h4.7v0.7h-4.7zM506.0 677.8h2.3v0.7h-2.3zM508.8 670.9h1.9v0.9h-1.9zM505.2 681.9h5.3v1.1h-5.3zM506.1 671.5h6.4v1.0h-6.4zM499.3 683.1h1.8v1.2h-1.8zM506.7 655.6h5.5v1.1h-5.5zM518.9 657.1h1.4v1.1h-1.4zM503.4 658.7h7.0v1.1h-7.0zM514.0 662.5h3.5v1.1h-3.5zM519.0 666.9h2.0v1.1h-2.0zM517.2 667.1h3.2v1.1h-3.2zM515.8 661.1h2.8v1.1h-2.8zM515.0 682.7h3.0v1.1h-3.0zM518.3 682.4h3.0v1.1h-3.0zM519.9 677.2h2.6v1.1h-2.6zM519.5 681.3h2.7v1.1h-2.7zM518.4 675.8h2.6v1.1h-2.6zM513.1 677.0h1.9v1.1h-1.9zM518.4 684.8h1.6v1.1h-1.6zM544.2 669.1h2.4v0.7h-2.4zM532.3 671.2h6.4v1.1h-6.4zM544.3 681.5h2.7v0.9h-2.7zM527.4 655.1h2.6v1.1h-2.6zM534.2 662.0h1.1v1.1h-1.1zM535.5 665.7h2.0v1.1h-2.0zM533.4 666.0h3.6v1.1h-3.6zM531.3 658.2h3.8v1.1h-3.8zM531.4 667.0h4.2v1.1h-4.2zM534.7 666.9h2.3v1.1h-2.3zM536.3 672.0h2.3v1.1h-2.3zM543.7 680.5h2.2v1.1h-2.2zM540.7 681.7h3.0v1.1h-3.0zM546.5 677.1h1.9v1.1h-1.9zM545.0 690.0h2.7v0.7h-2.7zM551.9 663.4h4.8v0.8h-4.8zM544.6 682.5h3.8v0.9h-3.8zM548.9 671.6h1.7v0.7h-1.7zM552.0 688.3h4.7v0.7h-4.7zM551.6 665.3h4.7v0.8h-4.7zM550.4 690.2h4.6v0.9h-4.6zM551.9 671.4h3.7v1.0h-3.7zM550.7 676.0h4.2v0.8h-4.2zM583.6 665.8h1.5v1.1h-1.5zM586.8 665.0h2.9v1.0h-2.9zM596.2 658.8h2.9v1.1h-2.9zM594.0 667.6h3.0v0.9h-3.0zM582.0 665.8h5.5v1.0h-5.5zM601.9 672.6h2.3v1.2h-2.3zM569.2 668.4h2.6v1.2h-2.6zM595.9 668.4h3.5v0.9h-3.5zM578.1 686.8h5.5v0.9h-5.5zM605.2 687.3h1.9v0.7h-1.9zM578.9 664.0h2.6v1.4h-2.6zM572.3 667.1h3.9v1.4h-3.9zM651.2 661.9h5.7v1.0h-5.7zM638.9 679.4h3.6v0.9h-3.6zM657.2 689.1h4.6v0.8h-4.6zM652.4 687.7h3.2v0.8h-3.2zM643.7 689.7h2.7v0.9h-2.7zM665.4 688.6h4.0v1.0h-4.0zM635.5 689.3h4.0v0.9h-4.0zM643.1 680.0h2.8v0.8h-2.8zM663.7 672.9h2.4v0.7h-2.4zM661.3 671.1h6.7v0.9h-6.7zM637.3 668.3h2.3v1.0h-2.3zM635.5 669.0h3.4v0.7h-3.4zM660.3 672.7h3.7v1.0h-3.7zM673.1 687.2h4.1v1.4h-4.1zM654.3 678.7h3.2v1.1h-3.2zM579.7 679.6h4.4v1.1h-4.4zM585.1 669.6h4.9v1.1h-4.9zM585.1 674.2h2.0v1.1h-2.0zM585.9 668.1h1.7v1.1h-1.7zM585.1 673.1h2.4v1.1h-2.4zM588.1 669.6h4.7v1.1h-4.7zM588.4 669.5h3.5v1.1h-3.5zM584.0 670.3h3.6v1.1h-3.6zM593.5 672.6h1.3v1.1h-1.3zM589.3 669.0h3.5v1.1h-3.5zM653.0 672.0h2.2v1.1h-2.2zM652.2 671.9h4.9v1.1h-4.9z"/><path fill="#216acb" d="M500.8 669.9h6.6v1.0h-6.6zM506.8 673.5h4.3v0.8h-4.3zM501.6 677.7h4.7v1.1h-4.7zM502.2 678.6h1.6v0.9h-1.6zM507.9 679.0h4.7v1.1h-4.7zM505.8 660.7h4.1v1.1h-4.1zM514.4 663.0h6.3v1.1h-6.3zM513.0 665.0h2.1v1.1h-2.1zM511.8 663.3h7.4v1.1h-7.4zM506.4 662.5h6.7v1.1h-6.7zM514.4 663.1h1.2v1.1h-1.2zM516.6 661.3h4.4v1.1h-4.4zM517.5 661.1h3.5v1.1h-3.5zM513.9 661.8h2.2v1.1h-2.2zM516.1 661.9h1.7v1.1h-1.7zM518.9 686.0h1.9v1.1h-1.9zM515.3 676.3h2.6v1.1h-2.6zM516.8 675.4h2.4v1.1h-2.4zM513.7 677.2h2.2v1.1h-2.2zM514.9 675.8h1.6v1.1h-1.6zM541.8 657.6h5.2v1.2h-5.2zM530.7 660.3h6.7v0.7h-6.7zM538.9 668.3h2.5v1.1h-2.5zM536.7 657.5h6.4v1.1h-6.4zM533.9 664.3h3.7v1.1h-3.7zM540.8 669.9h1.8v1.0h-1.8zM529.8 671.7h4.0v0.7h-4.0zM527.5 653.9h4.0v1.1h-4.0zM533.4 656.4h2.4v1.1h-2.4zM528.8 653.3h1.2v1.1h-1.2zM528.1 658.2h2.4v1.1h-2.4zM530.9 664.3h3.8v1.1h-3.8zM537.1 665.6h2.0v1.1h-2.0zM538.0 669.5h2.3v1.1h-2.3zM541.2 672.1h4.5v1.1h-4.5zM543.0 674.9h3.5v1.1h-3.5zM537.2 673.6h1.7v1.1h-1.7zM540.7 671.9h2.5v1.1h-2.5zM538.3 675.2h4.0v1.1h-4.0zM541.1 682.8h3.8v1.1h-3.8zM547.5 685.3h2.0v1.1h-2.0zM551.3 670.7h5.4v1.2h-5.4zM577.9 666.9h2.6v1.0h-2.6zM580.0 659.7h3.8v0.8h-3.8zM586.1 657.9h4.5v1.1h-4.5zM599.5 680.5h6.8v0.8h-6.8zM594.5 673.4h3.7v1.2h-3.7zM584.1 674.9h4.9v1.1h-4.9zM587.2 669.5h2.4v1.2h-2.4zM582.6 684.2h6.3v1.1h-6.3zM600.1 686.8h5.9v0.9h-5.9zM594.3 681.5h7.0v1.1h-7.0zM567.9 678.5h5.3v0.8h-5.3zM593.6 682.3h5.4v0.9h-5.4zM602.7 669.5h4.0v0.7h-4.0zM592.5 671.0h4.2v0.7h-4.2zM586.9 689.9h2.5v1.0h-2.5zM569.5 672.4h4.7v0.7h-4.7zM600.3 667.5h1.7v1.4h-1.7zM601.0 669.6h2.3v1.4h-2.3zM662.9 658.3h2.6v1.2h-2.6zM667.9 662.4h1.7v1.2h-1.7zM650.5 687.8h3.1v0.8h-3.1zM660.9 682.1h6.8v0.9h-6.8zM637.5 680.7h2.5v1.0h-2.5zM652.1 677.2h2.9v1.2h-2.9zM639.8 687.1h3.4v1.1h-3.4zM650.0 677.0h5.5v0.8h-5.5zM674.7 678.2h5.5v1.1h-5.5zM666.4 690.5h6.2v1.0h-6.2zM675.5 676.7h4.2v1.0h-4.2zM666.5 674.2h5.9v0.7h-5.9zM650.0 689.8h7.0v0.7h-7.0zM668.0 683.4h1.7v1.0h-1.7zM670.9 682.3h4.8v1.0h-4.8zM669.1 664.7h3.4v1.4h-3.4zM648.0 667.6h4.1v1.4h-4.1zM648.6 679.3h4.1v1.1h-4.1zM592.5 679.4h3.6v1.1h-3.6zM586.5 679.6h5.3v1.1h-5.3zM584.8 669.9h1.9v1.1h-1.9zM579.7 671.2h3.6v1.1h-3.6zM657.9 670.4h5.0v1.1h-5.0zM654.0 671.5h3.1v1.1h-3.1zM655.8 671.4h4.1v1.1h-4.1z"/><path fill="#267bd7" d="M506.6 684.1h3.1v0.9h-3.1zM500.9 676.7h5.7v0.7h-5.7zM500.6 672.0h2.5v0.7h-2.5zM504.3 676.7h1.9v0.8h-1.9zM505.4 668.6h4.8v1.1h-4.8zM518.4 663.2h4.6v1.0h-4.6zM508.7 665.5h2.5v0.7h-2.5zM508.5 654.3h3.6v1.1h-3.6zM514.9 662.1h2.2v1.1h-2.2zM521.0 661.6h2.2v1.1h-2.2zM517.9 661.2h3.9v1.1h-3.9zM516.7 672.1h5.3v1.0h-5.3zM520.9 670.2h2.1v1.0h-2.1zM543.7 667.1h3.3v0.9h-3.3zM531.4 663.1h1.8v1.1h-1.8zM534.5 660.6h4.4v1.1h-4.4zM531.2 663.8h2.5v1.1h-2.5zM531.2 665.6h3.8v1.1h-3.8zM539.5 667.6h3.5v1.1h-3.5zM541.5 667.9h1.7v1.1h-1.7zM544.7 679.9h2.8v1.1h-2.8zM542.4 683.0h3.5v1.1h-3.5zM545.0 678.2h3.7v1.1h-3.7zM551.9 672.3h4.7v1.2h-4.7zM546.3 670.9h4.8v1.0h-4.8zM549.3 661.9h2.6v0.8h-2.6zM553.2 686.2h2.5v0.9h-2.5zM546.8 674.3h4.7v0.9h-4.7zM580.9 659.7h2.9v1.1h-2.9zM596.6 678.4h5.6v1.1h-5.6zM599.1 689.2h2.7v0.7h-2.7zM569.8 684.0h1.5v0.9h-1.5zM579.0 680.6h4.6v1.2h-4.6zM577.3 668.1h5.3v1.0h-5.3zM588.1 678.0h5.4v0.8h-5.4zM597.0 680.0h2.4v1.2h-2.4zM573.8 687.4h3.1v0.8h-3.1zM597.6 687.1h2.0v1.1h-2.0zM599.0 687.9h5.3v1.4h-5.3zM603.9 687.3h1.6v1.4h-1.6zM657.8 662.9h2.7v1.0h-2.7zM659.6 664.7h2.5v1.0h-2.5zM670.5 664.5h2.3v1.1h-2.3zM639.3 686.3h3.1v1.1h-3.1zM640.2 670.6h3.9v1.2h-3.9zM647.6 672.3h4.9v0.9h-4.9zM642.3 677.4h5.9v0.7h-5.9zM642.6 681.0h4.4v1.1h-4.4zM652.7 683.9h2.0v0.7h-2.0zM649.0 683.3h3.0v1.1h-3.0zM653.7 674.5h3.8v1.1h-3.8zM658.8 679.3h2.2v1.1h-2.2zM639.4 678.6h5.2v1.0h-5.2zM662.3 687.0h4.0v0.9h-4.0zM672.0 664.5h0.8v1.4h-0.8zM669.6 667.2h2.5v1.4h-2.5zM652.6 678.1h1.9v1.1h-1.9zM642.4 677.3h3.5v1.1h-3.5zM584.5 679.7h4.5v1.1h-4.5zM585.2 672.7h2.9v1.1h-2.9zM653.4 671.2h3.4v1.1h-3.4z"/><path fill="#2a8cdc" d="M499.4 677.1h6.8v0.9h-6.8zM502.8 677.0h3.7v0.7h-3.7zM510.6 657.3h6.3v0.9h-6.3zM514.7 662.7h5.2v1.1h-5.2zM504.9 659.1h5.4v1.1h-5.4zM512.7 674.6h6.3v0.8h-6.3zM513.6 668.6h5.7v0.8h-5.7zM533.0 663.0h5.8v0.9h-5.8zM536.6 658.8h5.3v0.9h-5.3zM538.2 658.6h2.9v0.8h-2.9zM536.7 659.2h3.1v0.9h-3.1zM539.0 687.5h6.7v0.9h-6.7zM540.5 674.3h2.1v0.8h-2.1zM531.2 661.4h1.2v1.1h-1.2zM539.6 666.5h1.4v1.1h-1.4zM537.1 666.5h3.7v1.1h-3.7zM536.7 671.4h1.4v1.1h-1.4zM544.1 676.3h4.1v1.1h-4.1zM549.9 670.9h6.4v1.2h-6.4zM553.3 673.5h3.3v0.7h-3.3zM546.3 662.2h5.8v0.7h-5.8zM579.0 660.6h3.0v0.9h-3.0zM592.6 674.9h4.8v1.1h-4.8zM603.6 685.8h3.5v0.8h-3.5zM575.9 675.2h6.5v1.2h-6.5zM568.3 681.9h5.4v1.1h-5.4zM590.2 668.6h3.6v1.0h-3.6zM597.1 686.0h7.0v1.2h-7.0zM580.3 689.2h4.7v0.7h-4.7zM593.0 674.0h5.7v1.1h-5.7zM585.2 680.7h4.6v1.0h-4.6zM596.6 681.0h4.9v1.1h-4.9zM586.0 679.5h3.9v0.9h-3.9zM569.6 670.1h4.3v1.1h-4.3zM567.4 687.8h2.9v1.4h-2.9zM642.2 681.2h6.6v1.1h-6.6zM655.5 676.7h3.0v0.8h-3.0zM643.1 674.4h4.6v1.1h-4.6zM643.4 689.1h2.0v0.9h-2.0zM669.1 679.0h4.6v0.9h-4.6zM663.6 690.5h6.0v0.8h-6.0zM638.1 689.9h5.6v1.0h-5.6zM646.1 664.6h2.7v1.4h-2.7zM644.0 667.1h4.4v1.4h-4.4zM674.1 667.6h0.7v1.4h-0.7zM638.9 669.9h4.6v1.4h-4.6zM656.7 674.1h6.3v1.1h-6.3zM661.1 674.6h5.8v1.1h-5.8zM644.6 681.2h1.1v1.1h-1.1zM648.0 678.9h4.7v1.1h-4.7zM645.4 681.2h5.2v1.1h-5.2zM584.8 675.1h1.7v1.1h-1.7zM582.9 670.7h5.4v1.1h-5.4zM585.2 670.0h5.0v1.1h-5.0z"/><path fill="#2f9cdc" d="M503.9 680.0h4.8v1.1h-4.8zM515.7 660.8h6.7v0.8h-6.7zM518.4 657.4h1.5v1.1h-1.5zM506.6 660.4h3.1v1.1h-3.1zM519.3 665.7h3.5v1.1h-3.5zM516.5 677.0h3.9v0.7h-3.9zM514.3 682.7h4.9v0.8h-4.9zM517.8 683.8h5.2v1.0h-5.2zM519.5 678.2h1.9v1.1h-1.9zM516.5 682.4h1.1v1.1h-1.1zM543.2 688.1h3.8v1.1h-3.8zM534.7 660.0h2.8v1.1h-2.8zM534.4 667.6h2.2v1.1h-2.2zM541.9 673.5h1.3v1.1h-1.3zM544.7 677.7h2.2v1.1h-2.2zM543.2 677.4h1.6v1.1h-1.6zM543.7 677.4h3.1v1.1h-3.1zM551.1 678.5h2.7v1.0h-2.7zM544.3 675.9h2.6v0.7h-2.6zM549.1 667.2h5.2v1.0h-5.2zM545.1 680.6h4.5v1.1h-4.5zM595.4 682.9h5.9v1.1h-5.9zM575.1 670.8h4.5v0.9h-4.5zM577.6 677.7h2.4v1.1h-2.4zM593.5 678.9h2.1v1.1h-2.1zM576.6 686.6h3.3v1.0h-3.3zM591.0 675.8h2.2v0.9h-2.2zM570.7 681.3h5.9v1.0h-5.9zM566.8 679.4h5.6v1.0h-5.6zM589.2 664.8h4.9v1.4h-4.9zM582.9 667.5h3.0v1.4h-3.0zM593.3 670.4h5.0v1.4h-5.0zM569.9 688.0h4.7v1.4h-4.7zM653.0 670.0h3.6v0.7h-3.6zM640.8 686.2h7.0v0.7h-7.0zM640.4 675.7h1.6v1.2h-1.6zM653.9 688.3h3.5v0.8h-3.5zM673.0 669.8h3.2v1.4h-3.2zM638.2 684.8h2.7v1.4h-2.7zM661.3 687.8h4.4v1.4h-4.4zM664.8 676.2h1.4v1.1h-1.4zM579.3 675.9h4.8v1.1h-4.8zM590.3 678.0h2.0v1.1h-2.0zM655.4 671.0h2.5v1.1h-2.5z"/><path fill="#34addc" d="M520.6 657.3h2.3v0.7h-2.3zM520.0 665.2h1.6v1.1h-1.6zM507.9 663.0h6.7v0.8h-6.7zM503.9 659.8h7.5v1.1h-7.5zM515.3 663.0h1.6v1.1h-1.6zM518.6 665.9h2.0v1.1h-2.0zM519.7 673.9h3.3v1.2h-3.3zM514.6 689.2h5.5v0.7h-5.5zM518.5 687.1h4.5v1.0h-4.5zM542.3 675.6h2.4v0.7h-2.4zM539.2 664.6h6.0v0.7h-6.0zM536.2 671.1h5.3v0.9h-5.3zM535.1 679.7h4.5v1.1h-4.5zM535.4 667.8h4.5v0.7h-4.5zM543.6 686.7h3.2v0.8h-3.2zM531.6 661.4h3.1v1.1h-3.1zM536.3 661.9h2.9v1.1h-2.9zM536.5 664.5h3.2v1.1h-3.2zM537.8 668.4h3.2v1.1h-3.2zM537.7 672.1h2.6v1.1h-2.6zM537.1 666.5h3.4v1.1h-3.4zM534.8 668.1h3.4v1.1h-3.4zM542.0 676.0h3.0v1.1h-3.0zM537.9 670.4h3.0v1.1h-3.0zM543.8 675.3h2.9v1.1h-2.9zM578.5 678.9h2.7v1.2h-2.7zM657.0 675.2h3.4v1.0h-3.4zM659.3 690.7h3.7v0.9h-3.7zM648.4 664.3h3.9v1.4h-3.9zM651.9 663.9h5.1v1.4h-5.1zM661.2 685.0h4.7v1.4h-4.7zM639.1 688.0h5.1v1.4h-5.1zM657.1 678.6h4.1v1.1h-4.1zM641.3 678.1h3.3v1.1h-3.3zM587.4 679.0h4.7v1.1h-4.7zM582.8 675.4h6.2v1.1h-6.2zM580.0 676.2h3.8v1.1h-3.8zM581.8 679.5h4.5v1.1h-4.5zM587.1 675.5h4.2v1.1h-4.2zM650.2 670.7h4.0v1.1h-4.0z"/><path fill="#39bedc" d="M515.6 656.7h1.7v0.7h-1.7zM517.9 662.7h5.1v1.1h-5.1zM516.3 664.2h2.1v1.0h-2.1zM509.4 660.9h3.1v1.0h-3.1zM504.7 659.1h7.0v1.1h-7.0zM512.4 662.5h7.5v1.1h-7.5zM518.4 665.7h4.1v1.1h-4.1zM518.3 676.9h1.9v1.1h-1.9zM515.8 676.7h2.5v1.1h-2.5zM542.1 678.9h4.9v1.0h-4.9zM537.0 656.9h4.4v1.2h-4.4zM529.8 655.6h2.7v1.1h-2.7zM529.9 655.8h4.1v1.1h-4.1zM535.8 660.8h2.2v1.1h-2.2zM535.8 671.0h3.4v1.1h-3.4zM537.7 672.8h1.9v1.1h-1.9zM544.2 675.6h2.2v1.1h-2.2zM545.3 678.0h1.2v1.1h-1.2zM552.9 662.0h3.8v0.8h-3.8zM583.1 670.1h3.5v1.4h-3.5zM669.8 687.6h3.7v1.4h-3.7zM661.5 675.2h5.0v1.1h-5.0zM646.2 677.8h1.7v1.1h-1.7z"/><path fill="#46c9cf" d="M509.7 666.3h1.7v1.0h-1.7zM521.5 664.1h1.5v1.0h-1.5zM507.5 660.5h4.3v1.0h-4.3zM517.6 660.5h4.0v1.1h-4.0zM517.9 665.9h1.9v1.1h-1.9zM518.0 670.2h2.8v0.8h-2.8zM515.8 671.6h2.8v1.0h-2.8zM518.3 681.7h2.0v1.1h-2.0zM518.9 678.1h1.6v1.1h-1.6zM530.5 655.7h3.5v1.1h-3.5zM539.1 667.0h1.6v1.1h-1.6zM535.8 666.9h3.8v1.1h-3.8zM535.2 667.5h3.3v1.1h-3.3zM536.6 671.5h3.0v1.1h-3.0zM547.5 681.7h1.5v1.1h-1.5zM543.8 678.1h3.7v1.1h-3.7zM585.3 664.7h4.4v1.4h-4.4zM575.8 667.5h4.0v1.4h-4.0zM575.5 684.5h4.2v1.4h-4.2zM574.2 687.8h3.6v1.4h-3.6zM584.6 687.0h3.2v1.4h-3.2zM671.7 667.4h2.8v1.4h-2.8zM651.6 670.3h4.4v1.4h-4.4zM635.4 685.0h3.2v1.4h-3.2zM672.0 684.1h2.4v1.4h-2.4zM674.0 684.2h4.4v1.4h-4.4zM665.3 688.0h4.9v1.4h-4.9zM659.7 674.3h1.0v1.1h-1.0zM657.0 674.3h5.5v1.1h-5.5zM648.2 680.2h3.8v1.1h-3.8zM646.4 680.8h2.7v1.1h-2.7zM579.5 677.8h4.5v1.1h-4.5zM654.0 671.0h1.6v1.1h-1.6zM655.5 670.8h1.5v1.1h-1.5z"/><path fill="#60ceb0" d="M512.1 661.8h4.3v1.0h-4.3zM517.9 667.3h4.2v1.1h-4.2zM513.5 666.3h2.7v0.9h-2.7zM505.6 657.7h7.6v1.1h-7.6zM509.0 661.9h3.1v1.1h-3.1zM516.1 665.5h2.2v1.1h-2.2zM516.9 674.1h2.2v1.2h-2.2zM517.6 681.7h3.0v1.0h-3.0zM516.2 681.7h2.3v1.1h-2.3zM515.4 680.0h1.7v1.1h-1.7zM516.5 676.9h2.9v1.1h-2.9zM535.9 661.2h1.5v1.1h-1.5zM536.0 664.2h3.6v1.1h-3.6zM532.3 663.4h2.5v1.1h-2.5zM534.8 663.4h3.3v1.1h-3.3zM533.5 663.2h3.8v1.1h-3.8zM534.2 666.1h1.4v1.1h-1.4zM538.3 670.8h2.8v1.1h-2.8zM539.7 675.3h2.4v1.1h-2.4zM544.2 679.5h1.8v1.1h-1.8zM540.4 678.5h2.8v1.1h-2.8zM542.8 674.6h1.7v1.1h-1.7zM541.5 680.6h3.8v1.1h-3.8zM546.5 680.3h2.8v1.1h-2.8zM546.8 682.7h2.2v1.1h-2.2zM546.2 681.5h3.8v1.1h-3.8zM597.2 664.0h3.2v1.4h-3.2zM595.6 666.9h5.1v1.4h-5.1zM570.5 670.1h3.2v1.4h-3.2zM580.0 669.8h3.4v1.4h-3.4zM586.3 679.1h3.5v1.4h-3.5zM577.4 687.4h2.6v1.4h-2.6zM591.9 687.8h4.6v1.4h-4.6zM596.1 688.0h3.3v1.4h-3.3zM640.9 666.8h3.5v1.4h-3.5zM655.6 670.6h5.3v1.4h-5.3zM635.5 681.3h2.9v1.4h-2.9zM675.7 682.2h2.9v1.4h-2.9zM645.2 684.1h4.5v1.4h-4.5zM650.5 687.0h4.0v1.4h-4.0zM656.1 678.1h3.1v1.1h-3.1zM661.7 676.9h6.3v1.1h-6.3zM663.9 676.2h2.1v1.1h-2.1zM586.9 672.7h3.5v1.1h-3.5zM657.0 670.1h2.7v1.1h-2.7z"/><path fill="#7ad391" d="M507.9 661.7h5.2v1.2h-5.2zM516.1 659.8h2.0v1.0h-2.0zM514.7 661.7h2.9v1.2h-2.9zM518.6 662.4h3.6v1.1h-3.6zM514.1 679.2h4.7v0.9h-4.7zM516.8 681.7h1.3v1.1h-1.3zM515.9 677.3h1.9v1.1h-1.9zM516.1 677.0h2.2v1.1h-2.2zM532.1 656.6h2.8v1.1h-2.8zM531.2 660.7h4.2v1.1h-4.2zM535.2 662.3h3.8v1.1h-3.8zM537.2 667.3h3.8v1.1h-3.8zM538.2 672.0h4.1v1.1h-4.1zM539.2 670.6h3.5v1.1h-3.5zM540.3 675.4h2.9v1.1h-2.9zM537.7 672.6h2.8v1.1h-2.8zM542.3 674.3h1.7v1.1h-1.7zM540.2 674.3h3.4v1.1h-3.4zM543.1 681.2h1.8v1.1h-1.8zM541.1 680.4h4.5v1.1h-4.5zM542.7 682.3h3.3v1.1h-3.3zM589.0 666.8h4.0v1.4h-4.0zM578.3 672.5h3.0v1.4h-3.0zM657.3 667.2h4.5v1.4h-4.5zM670.8 669.7h2.6v1.4h-2.6zM674.7 679.0h3.6v1.4h-3.6zM654.1 687.1h5.3v1.4h-5.3zM654.3 675.8h3.4v1.1h-3.4zM653.8 677.7h4.9v1.1h-4.9zM658.7 674.6h5.1v1.1h-5.1zM658.1 678.3h2.3v1.1h-2.3zM646.2 680.7h3.8v1.1h-3.8zM587.7 676.1h3.2v1.1h-3.2zM584.8 679.0h3.9v1.1h-3.9zM585.8 679.2h2.1v1.1h-2.1zM650.3 670.2h2.7v1.1h-2.7zM652.6 670.9h4.7v1.1h-4.7z"/><path fill="#95d872" d="M515.6 663.7h1.9v1.1h-1.9zM506.5 659.2h4.4v1.1h-4.4zM510.0 662.3h4.0v1.1h-4.0zM512.3 656.9h6.9v1.1h-6.9zM510.1 656.6h7.3v1.1h-7.3zM512.6 684.2h3.3v0.7h-3.3zM517.4 678.7h2.6v1.1h-2.6zM516.0 679.5h1.6v1.1h-1.6zM533.8 658.5h2.1v1.1h-2.1zM534.3 661.0h4.2v1.1h-4.2zM535.3 660.5h1.3v1.1h-1.3zM531.1 660.8h3.1v1.1h-3.1zM535.7 663.8h2.6v1.1h-2.6zM535.0 667.2h1.5v1.1h-1.5zM536.4 663.6h1.7v1.1h-1.7zM536.1 667.7h1.3v1.1h-1.3zM533.8 665.6h3.1v1.1h-3.1zM539.0 669.0h4.2v1.1h-4.2zM540.6 670.2h1.7v1.1h-1.7zM541.8 674.0h3.2v1.1h-3.2zM542.3 672.9h1.2v1.1h-1.2zM540.4 678.5h4.1v1.1h-4.1zM540.8 677.6h1.8v1.1h-1.8zM544.3 682.5h1.8v1.1h-1.8zM541.1 679.0h4.6v1.1h-4.6zM579.4 667.7h3.8v1.4h-3.8zM585.5 667.2h3.9v1.4h-3.9zM595.2 673.1h4.5v1.4h-4.5zM600.1 675.8h4.8v1.4h-4.8zM579.6 687.2h5.4v1.4h-5.4zM587.5 687.2h2.5v1.4h-2.5zM660.8 664.3h2.8v1.4h-2.8zM654.2 667.5h3.5v1.4h-3.5zM644.3 673.1h4.9v1.4h-4.9zM655.5 675.0h3.7v1.1h-3.7zM662.2 677.0h3.7v1.1h-3.7zM660.1 674.7h2.4v1.1h-2.4zM660.0 678.2h2.4v1.1h-2.4zM641.0 679.0h3.1v1.1h-3.1zM643.8 680.8h4.0v1.1h-4.0zM645.1 678.0h3.8v1.1h-3.8zM643.8 680.7h1.7v1.1h-1.7zM584.5 679.1h2.6v1.1h-2.6zM589.4 677.2h1.6v1.1h-1.6zM583.4 678.8h1.5v1.1h-1.5zM589.8 670.6h4.0v1.1h-4.0zM650.9 670.0h1.2v1.1h-1.2z"/><path fill="#aedb57" d="M517.8 658.7h1.9v1.1h-1.9zM510.5 667.7h3.0v0.8h-3.0zM505.5 667.6h5.6v0.7h-5.6zM513.4 656.9h1.9v1.1h-1.9zM518.3 662.3h1.3v1.1h-1.3zM518.5 665.4h3.4v1.1h-3.4zM515.4 664.8h2.8v1.1h-2.8zM520.1 687.6h2.8v1.2h-2.8zM516.8 678.3h1.7v1.1h-1.7zM516.8 677.8h1.6v1.1h-1.6zM517.7 679.4h1.3v1.1h-1.3zM532.5 656.6h1.5v1.1h-1.5zM534.8 663.6h4.2v1.1h-4.2zM535.9 660.9h1.4v1.1h-1.4zM534.8 660.3h1.3v1.1h-1.3zM536.6 664.7h3.7v1.1h-3.7zM536.9 666.3h4.2v1.1h-4.2zM538.3 666.6h1.9v1.1h-1.9zM533.6 664.0h3.9v1.1h-3.9zM533.6 665.1h3.5v1.1h-3.5zM538.0 673.6h3.3v1.1h-3.3zM542.4 673.0h1.3v1.1h-1.3zM538.9 671.9h1.0v1.1h-1.0zM543.9 678.4h1.4v1.1h-1.4zM544.0 678.4h2.1v1.1h-2.1zM574.7 663.8h4.6v1.4h-4.6zM589.7 670.6h4.0v1.4h-4.0zM597.9 669.8h3.5v1.4h-3.5zM568.3 675.4h4.3v1.4h-4.3zM586.8 676.1h2.8v1.4h-2.8zM575.0 678.6h3.3v1.4h-3.3zM570.3 684.1h2.8v1.4h-2.8zM661.4 666.8h3.8v1.4h-3.8zM667.1 666.9h2.9v1.4h-2.9zM673.5 675.8h2.6v1.4h-2.6zM649.2 684.2h4.2v1.4h-4.2zM642.9 678.2h4.5v1.1h-4.5zM642.9 680.3h1.3v1.1h-1.3zM588.0 677.6h3.2v1.1h-3.2zM591.7 671.9h2.1v1.1h-2.1zM591.1 670.9h3.0v1.1h-3.0zM589.1 672.5h1.3v1.1h-1.3zM652.0 668.7h1.1v1.1h-1.1z"/><path fill="#c6da48" d="M514.5 657.5h5.0v1.1h-5.0zM510.3 657.6h3.0v1.1h-3.0zM507.6 658.7h4.7v1.1h-4.7zM514.9 660.8h6.1v1.1h-6.1zM511.9 656.9h4.3v1.1h-4.3zM511.2 657.3h6.6v1.1h-6.6zM506.0 659.9h6.2v1.1h-6.2zM515.7 660.9h3.2v1.1h-3.2zM516.6 660.1h3.1v1.1h-3.1zM513.9 656.9h2.7v1.1h-2.7zM516.1 660.9h3.2v1.1h-3.2zM520.5 665.0h1.3v1.1h-1.3zM517.9 665.4h2.5v1.1h-2.5zM518.5 678.7h2.3v0.9h-2.3zM514.5 685.0h6.1v0.9h-6.1zM516.6 677.8h2.1v1.1h-2.1zM517.1 678.5h3.1v1.1h-3.1zM532.1 660.2h3.1v1.1h-3.1zM532.5 658.2h3.6v1.1h-3.6zM530.7 659.9h3.6v1.1h-3.6zM534.4 659.7h1.4v1.1h-1.4zM532.6 656.8h2.2v1.1h-2.2zM535.8 667.6h4.0v1.1h-4.0zM537.9 667.2h2.1v1.1h-2.1zM535.0 664.3h3.5v1.1h-3.5zM538.2 668.1h4.1v1.1h-4.1zM537.1 670.7h3.8v1.1h-3.8zM535.6 668.4h3.6v1.1h-3.6zM537.9 667.5h1.8v1.1h-1.8zM537.5 670.4h2.1v1.1h-2.1zM536.6 668.7h1.8v1.1h-1.8zM538.2 672.6h2.9v1.1h-2.9zM541.0 674.9h3.4v1.1h-3.4zM539.8 671.2h3.0v1.1h-3.0zM542.2 674.5h2.1v1.1h-2.1zM538.9 671.4h2.9v1.1h-2.9zM539.5 674.8h2.2v1.1h-2.2zM543.5 675.7h1.8v1.1h-1.8zM543.7 678.4h2.1v1.1h-2.1zM543.9 675.7h1.3v1.1h-1.3zM543.3 682.4h3.9v1.1h-3.9zM542.4 681.6h4.1v1.1h-4.1zM544.5 678.8h1.8v1.1h-1.8zM573.2 669.8h4.3v1.4h-4.3zM574.6 672.6h4.1v1.4h-4.1zM599.2 672.6h3.1v1.4h-3.1zM587.4 681.4h3.7v1.4h-3.7zM590.8 681.2h3.4v1.4h-3.4zM593.8 681.3h2.4v1.4h-2.4zM602.3 684.7h3.2v1.4h-3.2zM663.2 664.6h2.8v1.4h-2.8zM671.7 672.8h4.0v1.4h-4.0zM675.7 675.6h2.2v1.4h-2.2zM641.9 679.2h3.8v1.4h-3.8zM640.5 684.5h5.1v1.4h-5.1zM657.9 685.1h3.6v1.4h-3.6zM657.4 678.0h3.0v1.1h-3.0zM661.8 675.9h4.2v1.1h-4.2zM582.4 678.8h5.3v1.1h-5.3zM585.9 671.0h3.3v1.1h-3.3z"/><path fill="#ded839" d="M509.4 665.9h6.1v1.0h-6.1zM511.4 657.2h3.4v1.1h-3.4zM515.3 661.4h1.6v1.1h-1.6zM507.5 658.8h4.7v1.1h-4.7zM513.1 657.0h2.6v1.1h-2.6zM516.0 663.5h1.6v1.1h-1.6zM515.7 663.5h2.2v1.1h-2.2zM516.4 678.6h2.5v1.1h-2.5zM515.9 679.5h2.5v1.1h-2.5zM516.6 677.8h2.6v1.1h-2.6zM517.3 681.0h1.2v1.1h-1.2zM531.9 657.1h2.3v1.1h-2.3zM532.2 656.6h1.5v1.1h-1.5zM534.9 661.6h3.5v1.1h-3.5zM534.9 660.9h2.1v1.1h-2.1zM537.8 666.4h1.0v1.1h-1.0zM535.1 664.0h4.3v1.1h-4.3zM537.7 668.0h1.7v1.1h-1.7zM536.4 664.6h1.6v1.1h-1.6zM536.5 665.9h4.0v1.1h-4.0zM539.3 668.6h2.4v1.1h-2.4zM541.5 672.7h2.7v1.1h-2.7zM539.7 671.6h1.3v1.1h-1.3zM541.7 678.1h2.1v1.1h-2.1zM541.4 676.4h1.0v1.1h-1.0zM540.5 675.3h3.8v1.1h-3.8zM544.2 678.9h1.4v1.1h-1.4zM546.8 680.8h1.2v1.1h-1.2zM592.6 666.7h3.4v1.4h-3.4zM572.1 672.8h2.9v1.4h-2.9zM602.0 672.5h2.3v1.4h-2.3zM567.5 681.2h3.4v1.4h-3.4zM589.5 687.5h2.8v1.4h-2.8zM643.1 669.6h4.6v1.4h-4.6zM662.8 670.1h4.8v1.4h-4.8zM639.7 673.5h5.1v1.4h-5.1zM678.0 684.7h0.6v1.4h-0.6zM662.1 676.7h3.1v1.1h-3.1zM662.1 676.5h1.9v1.1h-1.9zM658.4 674.9h2.6v1.1h-2.6zM659.3 675.0h3.5v1.1h-3.5zM655.9 677.1h1.6v1.1h-1.6zM647.2 680.3h1.2v1.1h-1.2zM643.2 678.8h1.7v1.1h-1.7zM644.7 678.4h1.2v1.1h-1.2zM580.5 678.4h5.9v1.1h-5.9zM585.6 676.3h4.0v1.1h-4.0zM585.4 676.2h3.8v1.1h-3.8zM590.9 671.9h3.3v1.1h-3.3z"/><path fill="#f6d72a" d="M519.7 657.5h1.9v1.2h-1.9zM513.8 663.9h3.3v1.1h-3.3zM506.1 655.3h3.8v1.2h-3.8zM515.5 659.9h2.9v1.1h-2.9zM507.6 659.7h4.2v1.1h-4.2zM514.0 660.2h7.2v1.1h-7.2zM507.6 659.4h5.0v1.1h-5.0zM518.8 665.1h2.5v1.1h-2.5zM517.2 663.2h1.4v1.1h-1.4zM515.9 679.4h2.7v1.1h-2.7zM518.2 678.7h1.0v1.1h-1.0zM532.4 660.1h1.2v1.1h-1.2zM531.3 657.1h4.0v1.1h-4.0zM532.6 659.6h4.0v1.1h-4.0zM533.7 663.7h4.6v1.1h-4.6zM535.5 663.0h1.8v1.1h-1.8zM533.4 662.6h1.4v1.1h-1.4zM534.6 662.4h2.9v1.1h-2.9zM537.3 664.9h1.7v1.1h-1.7zM535.9 664.0h1.6v1.1h-1.6zM539.7 669.1h1.9v1.1h-1.9zM540.7 672.8h1.7v1.1h-1.7zM542.0 676.6h2.3v1.1h-2.3zM544.3 681.2h1.7v1.1h-1.7zM545.9 682.3h2.2v1.1h-2.2zM590.2 673.5h3.2v1.4h-3.2zM593.0 673.3h2.6v1.4h-2.6zM567.8 678.4h3.5v1.4h-3.5zM660.5 670.4h2.7v1.4h-2.7zM662.2 673.5h2.9v1.4h-2.9zM675.3 672.5h1.9v1.4h-1.9zM646.9 682.0h4.1v1.4h-4.1zM670.0 684.1h2.5v1.4h-2.5zM647.7 687.3h3.2v1.4h-3.2zM659.0 687.6h2.7v1.4h-2.7zM659.9 675.6h4.7v1.1h-4.7zM581.0 677.4h2.7v1.1h-2.7zM581.8 678.2h3.9v1.1h-3.9zM581.1 678.4h4.8v1.1h-4.8zM585.8 671.8h4.2v1.1h-4.2zM651.3 668.7h4.2v1.1h-4.2z"/><path fill="#f7be25" d="M514.2 657.9h4.5v1.1h-4.5zM515.0 659.4h5.2v1.1h-5.2zM511.7 657.5h3.6v1.1h-3.6zM506.8 661.2h7.7v1.1h-7.7zM517.5 679.5h2.2v1.1h-2.2zM517.3 679.2h2.4v1.1h-2.4zM529.6 657.6h3.6v1.1h-3.6zM532.0 658.8h1.7v1.1h-1.7zM535.1 661.4h1.1v1.1h-1.1zM535.4 663.9h1.6v1.1h-1.6zM534.5 661.7h2.9v1.1h-2.9zM533.0 661.2h4.5v1.1h-4.5zM538.5 671.2h2.4v1.1h-2.4zM538.2 670.4h4.0v1.1h-4.0zM535.8 668.7h4.5v1.1h-4.5zM537.6 670.4h4.0v1.1h-4.0zM538.9 669.4h1.8v1.1h-1.8zM539.3 669.7h1.7v1.1h-1.7zM537.3 670.7h4.2v1.1h-4.2zM541.2 675.5h4.4v1.1h-4.4zM543.8 678.0h1.5v1.1h-1.5zM543.3 676.4h1.6v1.1h-1.6zM543.2 677.6h2.5v1.1h-2.5zM542.2 676.6h4.4v1.1h-4.4zM545.4 679.8h1.1v1.1h-1.1zM545.3 680.6h3.1v1.1h-3.1zM544.6 681.7h3.4v1.1h-3.4zM544.4 680.8h4.3v1.1h-4.3zM544.9 680.8h1.4v1.1h-1.4zM580.9 672.7h2.5v1.4h-2.5zM583.0 673.0h3.4v1.4h-3.4zM572.2 675.5h2.6v1.4h-2.6zM595.2 675.4h5.2v1.4h-5.2zM592.8 678.4h2.6v1.4h-2.6zM599.7 678.6h3.1v1.4h-3.1zM602.4 678.9h2.8v1.4h-2.8zM598.0 681.7h3.3v1.4h-3.3zM572.7 684.2h3.3v1.4h-3.3zM583.7 685.1h3.7v1.4h-3.7zM595.4 684.1h4.3v1.4h-4.3zM599.3 684.3h3.4v1.4h-3.4zM651.8 667.7h2.9v1.4h-2.9zM667.2 669.6h4.0v1.4h-4.0zM637.4 673.5h2.7v1.4h-2.7zM664.6 673.5h2.6v1.4h-2.6zM636.4 676.1h3.9v1.4h-3.9zM667.5 676.4h4.3v1.4h-4.3zM671.4 676.1h2.5v1.4h-2.5zM662.9 678.7h3.5v1.4h-3.5zM653.2 682.1h5.0v1.4h-5.0zM653.0 684.7h5.3v1.4h-5.3zM642.5 680.4h5.3v1.1h-5.3zM583.5 676.5h1.3v1.1h-1.3zM588.0 670.7h2.7v1.1h-2.7zM585.0 671.2h4.9v1.1h-4.9zM589.4 671.7h3.9v1.1h-3.9zM585.6 671.5h4.5v1.1h-4.5zM654.4 669.9h3.9v1.1h-3.9zM653.1 669.7h2.2v1.1h-2.2zM652.5 670.1h5.4v1.1h-5.4z"/><path fill="#f4a122" d="M510.5 658.3h3.9v1.1h-3.9zM509.0 661.0h5.5v1.1h-5.5zM514.4 660.0h4.7v1.1h-4.7zM510.2 659.3h2.8v1.1h-2.8zM507.3 659.1h5.7v1.1h-5.7zM509.0 660.4h3.8v1.1h-3.8zM514.0 660.3h6.7v1.1h-6.7zM509.6 659.9h2.6v1.1h-2.6zM517.8 665.0h4.3v1.1h-4.3zM532.5 659.0h2.1v1.1h-2.1zM531.9 658.5h4.0v1.1h-4.0zM532.2 658.1h1.8v1.1h-1.8zM530.9 657.5h2.9v1.1h-2.9zM530.8 659.1h4.2v1.1h-4.2zM533.5 662.6h3.5v1.1h-3.5zM533.6 661.9h4.4v1.1h-4.4zM535.7 666.6h4.3v1.1h-4.3zM536.9 668.4h2.7v1.1h-2.7zM539.4 672.4h3.8v1.1h-3.8zM539.7 674.4h3.2v1.1h-3.2zM540.7 673.8h1.4v1.1h-1.4zM541.0 676.4h2.6v1.1h-2.6zM543.3 678.0h1.7v1.1h-1.7zM540.8 677.1h2.7v1.1h-2.7zM541.9 676.6h2.9v1.1h-2.9zM544.1 680.1h3.3v1.1h-3.3zM543.6 681.1h4.6v1.1h-4.6zM543.6 679.8h1.9v1.1h-1.9zM570.9 678.3h4.5v1.4h-4.5zM570.6 681.4h2.5v1.4h-2.5zM584.9 681.7h2.9v1.4h-2.9zM600.9 682.0h4.5v1.4h-4.5zM591.9 684.3h3.8v1.4h-3.8zM656.6 663.9h4.6v1.4h-4.6zM672.4 679.2h2.7v1.4h-2.7zM638.0 681.2h4.7v1.4h-4.7zM662.6 681.2h4.9v1.4h-4.9zM643.9 687.7h4.2v1.4h-4.2zM657.6 677.5h5.7v1.1h-5.7zM655.9 676.6h2.2v1.1h-2.2zM654.3 677.1h6.2v1.1h-6.2zM643.1 679.9h1.7v1.1h-1.7zM646.6 679.7h2.8v1.1h-2.8zM646.5 679.7h3.5v1.1h-3.5zM643.6 680.0h5.4v1.1h-5.4zM645.3 680.3h3.1v1.1h-3.1zM643.0 679.3h2.5v1.1h-2.5zM643.3 680.1h5.2v1.1h-5.2zM586.0 677.4h5.6v1.1h-5.6zM581.1 677.7h5.0v1.1h-5.0zM581.6 678.0h5.1v1.1h-5.1zM583.2 678.3h5.9v1.1h-5.9zM587.1 671.8h4.1v1.1h-4.1zM589.7 671.2h2.8v1.1h-2.8zM652.0 669.8h3.4v1.1h-3.4zM652.6 668.8h2.3v1.1h-2.3zM653.6 670.0h4.2v1.1h-4.2zM654.8 669.8h2.3v1.1h-2.3z"/><path fill="#f28520" d="M515.6 660.3h2.8v1.1h-2.8zM515.3 658.2h1.2v1.1h-1.2zM510.3 658.5h5.2v1.1h-5.2zM512.3 661.0h2.9v1.1h-2.9zM513.6 660.1h7.0v1.1h-7.0zM512.4 658.1h5.2v1.1h-5.2zM513.3 658.9h6.8v1.1h-6.8zM508.3 658.0h7.2v1.1h-7.2zM532.7 659.4h1.0v1.1h-1.0zM530.4 659.3h4.5v1.1h-4.5zM533.6 662.4h1.9v1.1h-1.9zM534.9 662.6h1.1v1.1h-1.1zM533.3 661.6h2.8v1.1h-2.8zM536.7 666.9h2.4v1.1h-2.4zM536.7 666.2h2.7v1.1h-2.7zM535.8 665.7h1.7v1.1h-1.7zM538.3 669.0h1.4v1.1h-1.4zM537.8 670.6h4.1v1.1h-4.1zM538.0 669.6h2.7v1.1h-2.7zM540.7 673.1h1.3v1.1h-1.3zM539.5 672.6h2.6v1.1h-2.6zM539.6 674.1h4.2v1.1h-4.2zM540.7 674.2h1.6v1.1h-1.6zM540.8 674.4h2.4v1.1h-2.4zM539.6 672.1h2.0v1.1h-2.0zM543.2 677.0h1.7v1.1h-1.7zM542.5 677.5h3.0v1.1h-3.0zM581.1 664.2h4.6v1.4h-4.6zM574.4 675.8h2.6v1.4h-2.6zM583.8 676.3h3.4v1.4h-3.4zM589.3 678.7h3.9v1.4h-3.9zM658.4 673.1h4.2v1.4h-4.2zM652.7 678.6h4.0v1.4h-4.0zM642.3 681.5h4.9v1.4h-4.9zM656.2 676.5h2.9v1.1h-2.9zM655.9 675.7h4.8v1.1h-4.8zM659.1 677.2h2.7v1.1h-2.7zM662.4 676.4h1.2v1.1h-1.2zM642.2 679.9h5.4v1.1h-5.4zM582.8 676.5h3.1v1.1h-3.1zM585.0 677.8h4.9v1.1h-4.9zM581.9 677.5h2.9v1.1h-2.9zM582.8 677.4h2.5v1.1h-2.5zM582.5 677.8h4.4v1.1h-4.4zM582.7 678.4h5.5v1.1h-5.5zM586.0 677.7h4.9v1.1h-4.9zM582.4 677.8h3.1v1.1h-3.1zM581.6 677.4h5.3v1.1h-5.3zM651.6 669.6h4.7v1.1h-4.7zM652.3 668.9h5.5v1.1h-5.5z"/><path fill="#ee6a1d" d="M510.6 659.0h3.7v1.1h-3.7zM510.7 659.8h3.8v1.1h-3.8zM512.3 661.0h3.8v1.1h-3.8zM512.7 660.6h1.2v1.1h-1.2zM511.4 659.6h1.8v1.1h-1.8zM512.0 658.8h4.9v1.1h-4.9zM510.1 659.0h3.6v1.1h-3.6zM513.8 660.2h6.1v1.1h-6.1zM512.0 657.5h4.8v1.1h-4.8zM508.6 660.0h4.4v1.1h-4.4zM532.6 662.4h3.8v1.1h-3.8zM535.6 666.8h3.1v1.1h-3.1zM537.5 669.9h2.2v1.1h-2.2zM539.5 674.5h4.0v1.1h-4.0zM542.2 676.9h2.9v1.1h-2.9zM541.0 676.9h3.7v1.1h-3.7zM586.1 670.5h4.0v1.4h-4.0zM582.0 679.3h4.7v1.4h-4.7zM567.4 684.2h3.3v1.4h-3.3zM647.3 669.8h4.8v1.4h-4.8zM651.1 672.5h4.7v1.4h-4.7zM655.4 672.7h3.4v1.4h-3.4zM666.8 673.4h5.3v1.4h-5.3zM660.8 678.5h2.5v1.4h-2.5zM666.0 679.1h2.7v1.4h-2.7zM667.1 681.4h2.7v1.4h-2.7zM671.8 682.0h4.2v1.4h-4.2zM657.0 675.9h2.5v1.1h-2.5zM656.1 677.0h3.4v1.1h-3.4zM644.4 679.7h5.1v1.1h-5.1zM642.4 679.5h4.2v1.1h-4.2zM585.6 677.7h4.2v1.1h-4.2zM583.0 678.1h6.3v1.1h-6.3zM586.7 671.5h5.2v1.1h-5.2zM589.7 672.1h2.4v1.1h-2.4zM653.6 670.1h3.8v1.1h-3.8zM652.6 669.6h3.7v1.1h-3.7zM654.6 669.5h3.4v1.1h-3.4z"/><path fill="#e4571b" d="M511.0 660.4h5.8v1.1h-5.8zM510.2 660.6h6.5v1.1h-6.5zM511.4 660.6h1.9v1.1h-1.9zM511.2 658.5h3.4v1.1h-3.4zM512.2 660.4h7.1v1.1h-7.1zM509.5 659.9h7.1v1.1h-7.1zM509.3 659.6h4.6v1.1h-4.6zM516.5 664.4h3.3v1.1h-3.3zM543.8 680.9h3.8v1.1h-3.8zM569.2 673.2h3.3v1.4h-3.3zM572.6 681.7h3.3v1.4h-3.3zM575.5 682.0h2.7v1.4h-2.7zM595.8 681.5h2.6v1.4h-2.6zM579.3 684.9h4.8v1.4h-4.8zM587.0 684.9h5.3v1.4h-5.3zM639.9 676.4h4.8v1.4h-4.8zM644.3 676.3h5.1v1.4h-5.1zM656.0 675.5h4.3v1.4h-4.3zM664.8 676.4h3.1v1.4h-3.1zM635.8 678.5h3.1v1.4h-3.1zM638.6 678.8h3.7v1.4h-3.7zM648.6 679.1h4.5v1.4h-4.5zM650.6 682.2h3.1v1.4h-3.1zM659.2 676.2h5.4v1.1h-5.4zM645.3 679.7h2.0v1.1h-2.0zM586.2 677.4h3.1v1.1h-3.1zM582.3 677.6h5.6v1.1h-5.6zM584.5 678.0h5.7v1.1h-5.7z"/><path fill="#db4418" d="M509.5 660.0h5.6v1.1h-5.6zM511.6 659.5h6.3v1.1h-6.3zM512.7 659.0h3.9v1.1h-3.9zM510.9 660.2h5.3v1.1h-5.3zM514.1 659.4h3.3v1.1h-3.3zM517.3 664.2h3.2v1.1h-3.2zM577.2 669.6h3.2v1.4h-3.2zM576.7 676.0h4.6v1.4h-4.6zM595.0 678.3h5.1v1.4h-5.1zM649.0 675.7h2.5v1.4h-2.5zM657.8 681.5h5.2v1.4h-5.2zM658.2 676.3h4.4v1.1h-4.4zM658.2 676.8h2.7v1.1h-2.7z"/><path fill="#d13116" d="M509.2 659.7h7.4v1.1h-7.4zM514.2 660.3h2.0v1.1h-2.0zM648.8 672.6h2.7v1.4h-2.7zM645.3 679.3h3.7v1.4h-3.7zM668.2 679.3h4.6v1.4h-4.6zM669.4 681.7h2.8v1.4h-2.8zM658.0 676.3h3.7v1.1h-3.7zM657.9 676.3h5.3v1.1h-5.3zM660.6 676.5h1.4v1.1h-1.4zM658.2 676.8h3.3v1.1h-3.3z"/><path fill="#c81e14" d="M510.5 659.7h5.7v1.1h-5.7zM586.1 673.3h4.5v1.4h-4.5zM580.9 676.4h3.3v1.4h-3.3zM589.2 675.8h3.9v1.4h-3.9zM592.7 675.4h2.9v1.4h-2.9zM577.9 679.0h4.4v1.4h-4.4zM577.8 682.2h3.8v1.4h-3.8zM581.2 682.1h4.1v1.4h-4.1zM651.2 675.5h5.3v1.4h-5.3zM659.9 675.9h5.3v1.4h-5.3zM656.3 678.3h4.9v1.4h-4.9zM665.4 684.5h4.9v1.4h-4.9zM657.2 676.2h4.6v1.1h-4.6z"/></g>
</svg></body></html>
